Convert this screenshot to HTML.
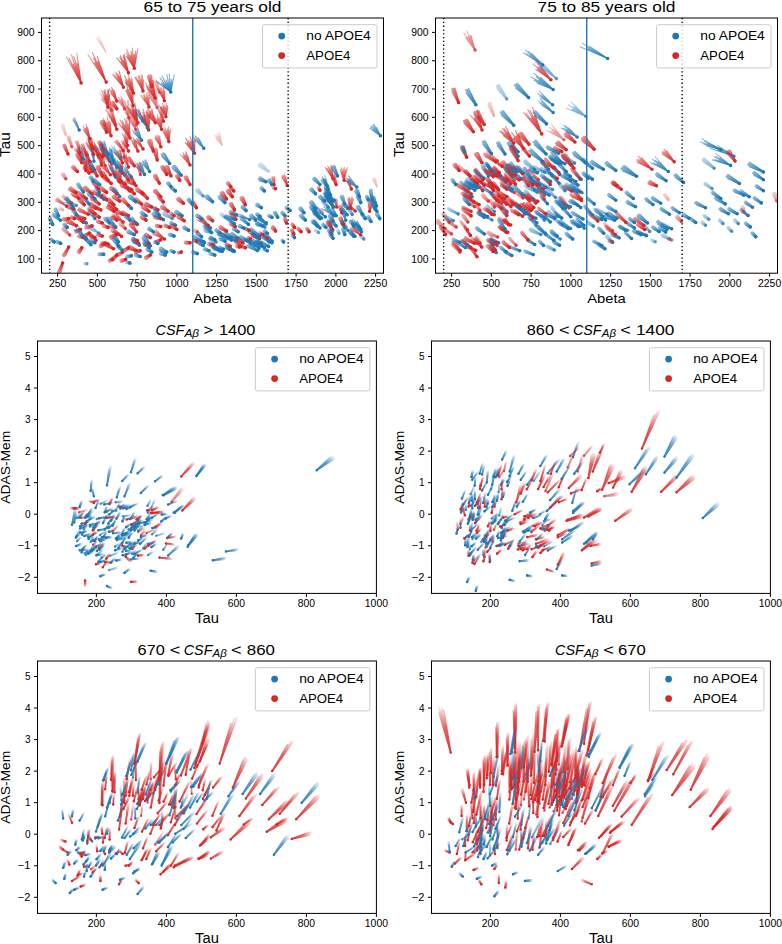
<!DOCTYPE html>
<html><head><meta charset="utf-8"><style>
html,body{margin:0;padding:0;background:#fff;}
svg{display:block;font-family:"Liberation Sans", sans-serif;}
path{fill:none;stroke-linecap:round;}
.c0{stroke:url(#r6);stroke-width:1.1px}.c1{stroke:url(#r5);stroke-width:1.1px}.c2{stroke:url(#r6);stroke-width:1.2px}.c3{stroke:url(#r5);stroke-width:1.2px}.c4{stroke:url(#sr6);stroke-width:2.4px}.c5{stroke:url(#b6);stroke-width:1.2px}.c6{stroke:url(#b5);stroke-width:1.1px}.c7{stroke:url(#sr5);stroke-width:2.4px}.c8{stroke:url(#sb6);stroke-width:2.4px}.c9{stroke:url(#b5);stroke-width:1.2px}.c10{stroke:url(#sr5);stroke-width:2.9px}.c11{stroke:url(#sb5);stroke-width:2.9px}.c12{stroke:url(#sb5);stroke-width:2.4px}.c13{stroke:url(#sr4);stroke-width:2.9px}.c14{stroke:url(#sr3);stroke-width:2.9px}.c15{stroke:url(#sb4);stroke-width:2.9px}.c16{stroke:url(#sr3);stroke-width:2.4px}.c17{stroke:url(#sr2);stroke-width:2.4px}.c18{stroke:url(#sr6);stroke-width:2.9px}.c19{stroke:url(#sb6);stroke-width:2.9px}.c20{stroke:url(#sb4);stroke-width:2.4px}.c21{stroke:url(#b4);stroke-width:1.2px}.c22{stroke:url(#b6);stroke-width:1.1px}.c23{stroke:url(#mb6);stroke-width:1.7px}.c24{stroke:url(#mb7);stroke-width:1.7px}.c25{stroke:url(#mr7);stroke-width:1.7px}.c26{stroke:url(#mr0);stroke-width:1.7px}.c27{stroke:url(#mr4);stroke-width:2.1px}.c28{stroke:url(#mb6);stroke-width:2.1px}.c29{stroke:url(#mr5);stroke-width:2.1px}.c30{stroke:url(#mb7);stroke-width:2.1px}.c31{stroke:url(#mb0);stroke-width:1.7px}.c32{stroke:url(#mr7);stroke-width:2.1px}.c33{stroke:url(#mr1);stroke-width:2.1px}.c34{stroke:url(#mr2);stroke-width:2.1px}.c35{stroke:url(#mr0);stroke-width:2.1px}.c36{stroke:url(#mb0);stroke-width:2.1px}.c37{stroke:url(#mb1);stroke-width:2.1px}.c38{stroke:url(#mr6);stroke-width:1.7px}.c39{stroke:url(#mr6);stroke-width:2.1px}.c40{stroke:url(#mb5);stroke-width:2.1px}.c41{stroke:url(#mr5);stroke-width:1.7px}.c42{stroke:url(#mr4);stroke-width:1.7px}
</style></head><body>
<svg width="782" height="944" viewBox="0 0 782 944">
<defs><linearGradient id="r0" x1="0.00" y1="0.50" x2="1.00" y2="0.50"><stop offset="0" stop-color="#d62728" stop-opacity="1"/><stop offset="1" stop-color="#d62728" stop-opacity="0.4"/></linearGradient><linearGradient id="r1" x1="0.00" y1="0.00" x2="1.00" y2="1.00"><stop offset="0" stop-color="#d62728" stop-opacity="1"/><stop offset="1" stop-color="#d62728" stop-opacity="0.4"/></linearGradient><linearGradient id="r2" x1="0.50" y1="0.00" x2="0.50" y2="1.00"><stop offset="0" stop-color="#d62728" stop-opacity="1"/><stop offset="1" stop-color="#d62728" stop-opacity="0.4"/></linearGradient><linearGradient id="r3" x1="1.00" y1="0.00" x2="0.00" y2="1.00"><stop offset="0" stop-color="#d62728" stop-opacity="1"/><stop offset="1" stop-color="#d62728" stop-opacity="0.4"/></linearGradient><linearGradient id="r4" x1="1.00" y1="0.50" x2="0.00" y2="0.50"><stop offset="0" stop-color="#d62728" stop-opacity="1"/><stop offset="1" stop-color="#d62728" stop-opacity="0.4"/></linearGradient><linearGradient id="r5" x1="1.00" y1="1.00" x2="0.00" y2="0.00"><stop offset="0" stop-color="#d62728" stop-opacity="1"/><stop offset="1" stop-color="#d62728" stop-opacity="0.4"/></linearGradient><linearGradient id="r6" x1="0.50" y1="1.00" x2="0.50" y2="0.00"><stop offset="0" stop-color="#d62728" stop-opacity="1"/><stop offset="1" stop-color="#d62728" stop-opacity="0.4"/></linearGradient><linearGradient id="r7" x1="0.00" y1="1.00" x2="1.00" y2="0.00"><stop offset="0" stop-color="#d62728" stop-opacity="1"/><stop offset="1" stop-color="#d62728" stop-opacity="0.4"/></linearGradient><linearGradient id="b0" x1="0.00" y1="0.50" x2="1.00" y2="0.50"><stop offset="0" stop-color="#1f77b4" stop-opacity="1"/><stop offset="1" stop-color="#1f77b4" stop-opacity="0.4"/></linearGradient><linearGradient id="b1" x1="0.00" y1="0.00" x2="1.00" y2="1.00"><stop offset="0" stop-color="#1f77b4" stop-opacity="1"/><stop offset="1" stop-color="#1f77b4" stop-opacity="0.4"/></linearGradient><linearGradient id="b2" x1="0.50" y1="0.00" x2="0.50" y2="1.00"><stop offset="0" stop-color="#1f77b4" stop-opacity="1"/><stop offset="1" stop-color="#1f77b4" stop-opacity="0.4"/></linearGradient><linearGradient id="b3" x1="1.00" y1="0.00" x2="0.00" y2="1.00"><stop offset="0" stop-color="#1f77b4" stop-opacity="1"/><stop offset="1" stop-color="#1f77b4" stop-opacity="0.4"/></linearGradient><linearGradient id="b4" x1="1.00" y1="0.50" x2="0.00" y2="0.50"><stop offset="0" stop-color="#1f77b4" stop-opacity="1"/><stop offset="1" stop-color="#1f77b4" stop-opacity="0.4"/></linearGradient><linearGradient id="b5" x1="1.00" y1="1.00" x2="0.00" y2="0.00"><stop offset="0" stop-color="#1f77b4" stop-opacity="1"/><stop offset="1" stop-color="#1f77b4" stop-opacity="0.4"/></linearGradient><linearGradient id="b6" x1="0.50" y1="1.00" x2="0.50" y2="0.00"><stop offset="0" stop-color="#1f77b4" stop-opacity="1"/><stop offset="1" stop-color="#1f77b4" stop-opacity="0.4"/></linearGradient><linearGradient id="b7" x1="0.00" y1="1.00" x2="1.00" y2="0.00"><stop offset="0" stop-color="#1f77b4" stop-opacity="1"/><stop offset="1" stop-color="#1f77b4" stop-opacity="0.4"/></linearGradient><linearGradient id="mr0" x1="0.00" y1="0.50" x2="1.00" y2="0.50"><stop offset="0" stop-color="#d62728" stop-opacity="0.92"/><stop offset="0.55" stop-color="#d62728" stop-opacity="0.7"/><stop offset="1" stop-color="#d62728" stop-opacity="0.1"/></linearGradient><linearGradient id="mr1" x1="0.00" y1="0.00" x2="1.00" y2="1.00"><stop offset="0" stop-color="#d62728" stop-opacity="0.92"/><stop offset="0.55" stop-color="#d62728" stop-opacity="0.7"/><stop offset="1" stop-color="#d62728" stop-opacity="0.1"/></linearGradient><linearGradient id="mr2" x1="0.50" y1="0.00" x2="0.50" y2="1.00"><stop offset="0" stop-color="#d62728" stop-opacity="0.92"/><stop offset="0.55" stop-color="#d62728" stop-opacity="0.7"/><stop offset="1" stop-color="#d62728" stop-opacity="0.1"/></linearGradient><linearGradient id="mr3" x1="1.00" y1="0.00" x2="0.00" y2="1.00"><stop offset="0" stop-color="#d62728" stop-opacity="0.92"/><stop offset="0.55" stop-color="#d62728" stop-opacity="0.7"/><stop offset="1" stop-color="#d62728" stop-opacity="0.1"/></linearGradient><linearGradient id="mr4" x1="1.00" y1="0.50" x2="0.00" y2="0.50"><stop offset="0" stop-color="#d62728" stop-opacity="0.92"/><stop offset="0.55" stop-color="#d62728" stop-opacity="0.7"/><stop offset="1" stop-color="#d62728" stop-opacity="0.1"/></linearGradient><linearGradient id="mr5" x1="1.00" y1="1.00" x2="0.00" y2="0.00"><stop offset="0" stop-color="#d62728" stop-opacity="0.92"/><stop offset="0.55" stop-color="#d62728" stop-opacity="0.7"/><stop offset="1" stop-color="#d62728" stop-opacity="0.1"/></linearGradient><linearGradient id="mr6" x1="0.50" y1="1.00" x2="0.50" y2="0.00"><stop offset="0" stop-color="#d62728" stop-opacity="0.92"/><stop offset="0.55" stop-color="#d62728" stop-opacity="0.7"/><stop offset="1" stop-color="#d62728" stop-opacity="0.1"/></linearGradient><linearGradient id="mr7" x1="0.00" y1="1.00" x2="1.00" y2="0.00"><stop offset="0" stop-color="#d62728" stop-opacity="0.92"/><stop offset="0.55" stop-color="#d62728" stop-opacity="0.7"/><stop offset="1" stop-color="#d62728" stop-opacity="0.1"/></linearGradient><linearGradient id="mb0" x1="0.00" y1="0.50" x2="1.00" y2="0.50"><stop offset="0" stop-color="#1f77b4" stop-opacity="0.92"/><stop offset="0.55" stop-color="#1f77b4" stop-opacity="0.7"/><stop offset="1" stop-color="#1f77b4" stop-opacity="0.1"/></linearGradient><linearGradient id="mb1" x1="0.00" y1="0.00" x2="1.00" y2="1.00"><stop offset="0" stop-color="#1f77b4" stop-opacity="0.92"/><stop offset="0.55" stop-color="#1f77b4" stop-opacity="0.7"/><stop offset="1" stop-color="#1f77b4" stop-opacity="0.1"/></linearGradient><linearGradient id="mb2" x1="0.50" y1="0.00" x2="0.50" y2="1.00"><stop offset="0" stop-color="#1f77b4" stop-opacity="0.92"/><stop offset="0.55" stop-color="#1f77b4" stop-opacity="0.7"/><stop offset="1" stop-color="#1f77b4" stop-opacity="0.1"/></linearGradient><linearGradient id="mb3" x1="1.00" y1="0.00" x2="0.00" y2="1.00"><stop offset="0" stop-color="#1f77b4" stop-opacity="0.92"/><stop offset="0.55" stop-color="#1f77b4" stop-opacity="0.7"/><stop offset="1" stop-color="#1f77b4" stop-opacity="0.1"/></linearGradient><linearGradient id="mb4" x1="1.00" y1="0.50" x2="0.00" y2="0.50"><stop offset="0" stop-color="#1f77b4" stop-opacity="0.92"/><stop offset="0.55" stop-color="#1f77b4" stop-opacity="0.7"/><stop offset="1" stop-color="#1f77b4" stop-opacity="0.1"/></linearGradient><linearGradient id="mb5" x1="1.00" y1="1.00" x2="0.00" y2="0.00"><stop offset="0" stop-color="#1f77b4" stop-opacity="0.92"/><stop offset="0.55" stop-color="#1f77b4" stop-opacity="0.7"/><stop offset="1" stop-color="#1f77b4" stop-opacity="0.1"/></linearGradient><linearGradient id="mb6" x1="0.50" y1="1.00" x2="0.50" y2="0.00"><stop offset="0" stop-color="#1f77b4" stop-opacity="0.92"/><stop offset="0.55" stop-color="#1f77b4" stop-opacity="0.7"/><stop offset="1" stop-color="#1f77b4" stop-opacity="0.1"/></linearGradient><linearGradient id="mb7" x1="0.00" y1="1.00" x2="1.00" y2="0.00"><stop offset="0" stop-color="#1f77b4" stop-opacity="0.92"/><stop offset="0.55" stop-color="#1f77b4" stop-opacity="0.7"/><stop offset="1" stop-color="#1f77b4" stop-opacity="0.1"/></linearGradient><linearGradient id="sr0" x1="0.00" y1="0.50" x2="1.00" y2="0.50"><stop offset="0" stop-color="#d62728" stop-opacity="1"/><stop offset="1" stop-color="#d62728" stop-opacity="0.5"/></linearGradient><linearGradient id="sr1" x1="0.00" y1="0.00" x2="1.00" y2="1.00"><stop offset="0" stop-color="#d62728" stop-opacity="1"/><stop offset="1" stop-color="#d62728" stop-opacity="0.5"/></linearGradient><linearGradient id="sr2" x1="0.50" y1="0.00" x2="0.50" y2="1.00"><stop offset="0" stop-color="#d62728" stop-opacity="1"/><stop offset="1" stop-color="#d62728" stop-opacity="0.5"/></linearGradient><linearGradient id="sr3" x1="1.00" y1="0.00" x2="0.00" y2="1.00"><stop offset="0" stop-color="#d62728" stop-opacity="1"/><stop offset="1" stop-color="#d62728" stop-opacity="0.5"/></linearGradient><linearGradient id="sr4" x1="1.00" y1="0.50" x2="0.00" y2="0.50"><stop offset="0" stop-color="#d62728" stop-opacity="1"/><stop offset="1" stop-color="#d62728" stop-opacity="0.5"/></linearGradient><linearGradient id="sr5" x1="1.00" y1="1.00" x2="0.00" y2="0.00"><stop offset="0" stop-color="#d62728" stop-opacity="1"/><stop offset="1" stop-color="#d62728" stop-opacity="0.5"/></linearGradient><linearGradient id="sr6" x1="0.50" y1="1.00" x2="0.50" y2="0.00"><stop offset="0" stop-color="#d62728" stop-opacity="1"/><stop offset="1" stop-color="#d62728" stop-opacity="0.5"/></linearGradient><linearGradient id="sr7" x1="0.00" y1="1.00" x2="1.00" y2="0.00"><stop offset="0" stop-color="#d62728" stop-opacity="1"/><stop offset="1" stop-color="#d62728" stop-opacity="0.5"/></linearGradient><linearGradient id="sb0" x1="0.00" y1="0.50" x2="1.00" y2="0.50"><stop offset="0" stop-color="#1f77b4" stop-opacity="1"/><stop offset="1" stop-color="#1f77b4" stop-opacity="0.5"/></linearGradient><linearGradient id="sb1" x1="0.00" y1="0.00" x2="1.00" y2="1.00"><stop offset="0" stop-color="#1f77b4" stop-opacity="1"/><stop offset="1" stop-color="#1f77b4" stop-opacity="0.5"/></linearGradient><linearGradient id="sb2" x1="0.50" y1="0.00" x2="0.50" y2="1.00"><stop offset="0" stop-color="#1f77b4" stop-opacity="1"/><stop offset="1" stop-color="#1f77b4" stop-opacity="0.5"/></linearGradient><linearGradient id="sb3" x1="1.00" y1="0.00" x2="0.00" y2="1.00"><stop offset="0" stop-color="#1f77b4" stop-opacity="1"/><stop offset="1" stop-color="#1f77b4" stop-opacity="0.5"/></linearGradient><linearGradient id="sb4" x1="1.00" y1="0.50" x2="0.00" y2="0.50"><stop offset="0" stop-color="#1f77b4" stop-opacity="1"/><stop offset="1" stop-color="#1f77b4" stop-opacity="0.5"/></linearGradient><linearGradient id="sb5" x1="1.00" y1="1.00" x2="0.00" y2="0.00"><stop offset="0" stop-color="#1f77b4" stop-opacity="1"/><stop offset="1" stop-color="#1f77b4" stop-opacity="0.5"/></linearGradient><linearGradient id="sb6" x1="0.50" y1="1.00" x2="0.50" y2="0.00"><stop offset="0" stop-color="#1f77b4" stop-opacity="1"/><stop offset="1" stop-color="#1f77b4" stop-opacity="0.5"/></linearGradient><linearGradient id="sb7" x1="0.00" y1="1.00" x2="1.00" y2="0.00"><stop offset="0" stop-color="#1f77b4" stop-opacity="1"/><stop offset="1" stop-color="#1f77b4" stop-opacity="0.5"/></linearGradient></defs>
<rect width="782" height="944" fill="#fff"/>
<svg x="41.5" y="18.0" width="342.0" height="255.2" viewBox="41.5 18.0 342.0 255.2" overflow="hidden">
<path class="c0" d="M81.1 82.9l-14.7-25.9M81.1 82.9l-12.0-24.7M81.1 82.9l-7.8-18.8M81.1 82.9l-9.7-28.3M81.1 82.9l-7.2-26.4M81.1 82.9l-4.1-20.0M81.1 82.9l-4.2-29.7"/>
<path class="c1" d="M106.2 82.1l-18.2-27.3M106.2 82.1l-11.5-19.3M106.2 82.1l-12.6-23.8M106.2 82.1l-13.9-29.7M106.2 82.1l-8.4-20.7M106.2 82.1l-8.9-25.5"/>
<path class="c1" d="M105.9 52.3l-10.1-15.0M105.9 52.3l-6.5-10.6M105.9 52.3l-6.9-12.7M105.9 52.3l-7.9-16.2M105.9 52.3l-4.9-11.4" opacity="0.35"/>
<path class="c2" d="M134.3 68.3l-7.5-11.7M134.3 68.3l-7.8-15.1M134.3 68.3l-7.6-18.9M134.3 68.3l-4.0-13.3M134.3 68.3l-3.3-16.7M134.3 68.3l-2.1-20.2M134.3 68.3l-0.1-13.8M134.3 68.3l1.4-17.1M134.3 68.3l3.6-20.0"/>
<path class="c3" d="M128.5 72.7l-11.7-14.9M128.5 72.7l-7.3-10.8M128.5 72.7l-8.8-15.4M128.5 72.7l-8.2-17.1M128.5 72.7l-4.8-12.1M128.5 72.7l-5.3-17.0M128.5 72.7l-4.3-18.4"/>
<path class="c3" d="M123.4 87.2l-10.7-12.7M123.4 87.2l-8.6-11.9M123.4 87.2l-5.9-9.6M123.4 87.2l-7.7-14.7M123.4 87.2l-5.8-13.4M123.4 87.2l-3.7-10.7M123.4 87.2l-4.3-16.1"/>
<path class="c2" d="M133.6 93.1l-8.0-10.9M133.6 93.1l-8.1-12.9M133.6 93.1l-9.1-17.2M133.6 93.1l-5.5-12.4M133.6 93.1l-5.2-14.4M133.6 93.1l-5.3-18.7M133.6 93.1l-2.7-13.2M133.6 93.1l-2.0-15.2"/>
<path class="c2" d="M143.0 90.9l-8.0-13.5M143.0 90.9l-7.1-14.1M143.0 90.9l-4.3-10.2M143.0 90.9l-5.0-14.9M143.0 90.9l-4.0-15.3M143.0 90.9l-2.0-10.9M143.0 90.9l-1.8-15.7M143.0 90.9l-0.7-15.7M143.0 90.9l0.3-11.1"/>
<path class="c4" d="M151.8 86.5l-3.6-9.4M151.8 86.5l-3.2-10.9M151.8 86.5l-2.2-10.1M151.8 86.5l-1.5-11.1M151.8 86.5l-0.6-10.5"/>
<path class="c5" d="M170.7 92.1l-14.7-11.1M170.7 92.1l-9.0-9.1M170.7 92.1l-10.7-14.3M170.7 92.1l-8.8-16.1M170.7 92.1l-4.5-11.9M170.7 92.1l-3.9-17.5M170.7 92.1l-1.4-18.3M170.7 92.1l0.8-12.7M170.7 92.1l3.6-17.6"/>
<path class="c0" d="M159.4 92.3l-4.6-8.2M159.4 92.3l-5.9-12.3M159.4 92.3l-4.1-10.1M159.4 92.3l-3.0-9.0M159.4 92.3l-3.5-13.2M159.4 92.3l-2.1-10.7M159.4 92.3l-1.3-9.4" opacity="0.60"/>
<path class="c6" d="M79.2 130.0l-6.3-9.9M79.2 130.0l-6.4-11.4M79.2 130.0l-4.0-7.9M79.2 130.0l-4.7-10.8M79.2 130.0l-4.7-12.2M79.2 130.0l-2.7-8.4"/>
<path class="c3" d="M89.8 138.7l-6.7-9.2M89.8 138.7l-5.4-8.6M89.8 138.7l-6.8-12.9M89.8 138.7l-4.5-10.4M89.8 138.7l-3.4-9.6M89.8 138.7l-3.8-14.0M89.8 138.7l-2.2-11.1"/>
<path class="c4" d="M65.8 135.1l-3.4-8.2M65.8 135.1l-3.6-9.9M65.8 135.1l-2.5-8.1M65.8 135.1l-2.5-10.0" opacity="0.35"/>
<path class="c4" d="M71.9 146.7l-3.9-8.1M71.9 146.7l-4.0-9.9M71.9 146.7l-2.7-8.2M71.9 146.7l-2.6-10.1" opacity="0.60"/>
<path class="c7" d="M68.0 154.0l-4.3-7.4M68.0 154.0l-4.5-9.0M68.0 154.0l-3.1-7.5M68.0 154.0l-3.2-9.3"/>
<path class="c8" d="M83.3 159.1l-5.4-9.2M83.3 159.1l-5.3-10.8M83.3 159.1l-4.0-10.1M83.3 159.1l-3.5-11.2M83.3 159.1l-2.5-10.8"/>
<path class="c3" d="M89.8 161.3l-7.3-8.1M89.8 161.3l-6.0-7.6M89.8 161.3l-7.8-11.5M89.8 161.3l-5.4-9.4M89.8 161.3l-4.2-8.8M89.8 161.3l-5.2-12.9M89.8 161.3l-3.3-10.3M89.8 161.3l-2.3-9.5"/>
<path class="c7" d="M81.8 162.8l-5.3-7.0M81.8 162.8l-5.4-8.4M81.8 162.8l-4.3-7.9M81.8 162.8l-4.0-8.9M81.8 162.8l-3.2-8.7"/>
<path class="c1" d="M98.6 157.7l-7.5-8.5M98.6 157.7l-9.0-11.5M98.6 157.7l-5.8-8.4M98.6 157.7l-5.8-9.7M98.6 157.7l-6.7-12.9M98.6 157.7l-4.1-9.3M98.6 157.7l-3.9-10.7" opacity="0.60"/>
<path class="c2" d="M111.0 135.8l-7.8-12.4M111.0 135.8l-6.3-11.8M111.0 135.8l-7.7-17.4M111.0 135.8l-4.9-13.7M111.0 135.8l-3.6-12.9M111.0 135.8l-3.8-18.7M111.0 135.8l-1.9-14.4M111.0 135.8l-0.8-13.4"/>
<path class="c0" d="M116.8 129.2l-5.7-9.2M116.8 129.2l-7.5-14.1M116.8 129.2l-5.6-12.3M116.8 129.2l-3.9-10.1M116.8 129.2l-4.7-15.2M116.8 129.2l-3.2-13.1M116.8 129.2l-1.9-10.7"/>
<path class="c2" d="M129.9 138.0l-11.5-15.0M129.9 138.0l-7.6-11.7M129.9 138.0l-9.8-18.0M129.9 138.0l-7.7-17.2M129.9 138.0l-4.7-13.2M129.9 138.0l-5.4-19.8M129.9 138.0l-3.5-18.4M129.9 138.0l-1.5-13.9M129.9 138.0l-0.6-20.6"/>
<path class="c1" d="M128.5 151.1l-7.4-9.7M128.5 151.1l-4.7-7.0M128.5 151.1l-5.8-9.9M128.5 151.1l-5.5-10.9M128.5 151.1l-3.3-7.7M128.5 151.1l-3.8-10.8M128.5 151.1l-3.3-11.7"/>
<path class="c1" d="M137.9 151.1l-5.5-8.0M137.9 151.1l-7.3-12.3M137.9 151.1l-5.5-10.6M137.9 151.1l-3.9-9.0M137.9 151.1l-4.9-13.5M137.9 151.1l-3.4-11.4M137.9 151.1l-2.2-9.5"/>
<path class="c1" d="M143.0 148.9l-8.3-8.5M143.0 148.9l-7.8-9.1M143.0 148.9l-5.1-6.7M143.0 148.9l-6.6-9.9M143.0 148.9l-6.0-10.3M143.0 148.9l-3.8-7.5M143.0 148.9l-4.7-11.0"/>
<path class="c9" d="M141.6 140.2l-8.3-7.9M141.6 140.2l-9.0-9.9M141.6 140.2l-5.6-7.1M141.6 140.2l-6.4-9.5M141.6 140.2l-6.6-11.5M141.6 140.2l-3.9-8.1M141.6 140.2l-4.3-10.7M141.6 140.2l-4.0-12.7"/>
<path class="c9" d="M147.4 127.8l-8.2-10.1M147.4 127.8l-5.2-7.4M147.4 127.8l-5.1-8.7M147.4 127.8l-5.8-11.6M147.4 127.8l-3.4-8.3M147.4 127.8l-3.2-9.6M147.4 127.8l-3.1-12.6"/>
<path class="c3" d="M137.9 122.7l-8.2-10.4M137.9 122.7l-10.9-16.1M137.9 122.7l-8.1-14.1M137.9 122.7l-5.8-12.0M137.9 122.7l-7.2-18.1M137.9 122.7l-4.9-15.4M137.9 122.7l-3.1-13.0M137.9 122.7l-3.2-19.3"/>
<path class="c6" d="M143.0 121.2l-8.6-9.8M143.0 121.2l-8.0-10.4M143.0 121.2l-5.2-7.6M143.0 121.2l-6.6-11.3M143.0 121.2l-5.9-11.7M143.0 121.2l-3.6-8.5M143.0 121.2l-4.4-12.3"/>
<path class="c10" d="M116.8 108.8l-5.0-4.9M116.8 108.8l-5.2-6.0M116.8 108.8l-4.3-5.8M116.8 108.8l-4.2-6.6M116.8 108.8l-3.5-6.5"/>
<path class="c7" d="M106.6 132.2l-5.7-9.1M106.6 132.2l-5.6-10.8M106.6 132.2l-4.3-10.1M106.6 132.2l-3.9-11.3M106.6 132.2l-2.8-10.8"/>
<path class="c9" d="M116.8 167.1l-9.2-8.6M116.8 167.1l-12.5-13.6M116.8 167.1l-9.8-12.3M116.8 167.1l-7.1-10.4M116.8 167.1l-9.4-16.0M116.8 167.1l-6.9-14.0M116.8 167.1l-4.8-11.7M116.8 167.1l-5.8-17.6"/>
<path class="c6" d="M120.5 171.5l-7.3-9.6M120.5 171.5l-7.9-11.9M120.5 171.5l-4.9-8.4M120.5 171.5l-5.4-10.8M120.5 171.5l-5.6-13.1M120.5 171.5l-3.2-9.1M120.5 171.5l-3.3-11.7"/>
<path class="c6" d="M109.5 161.3l-6.7-8.7M109.5 161.3l-4.7-7.1M109.5 161.3l-6.3-10.9M109.5 161.3l-4.9-9.8M109.5 161.3l-3.3-7.9M109.5 161.3l-4.2-11.9M109.5 161.3l-3.0-10.5"/>
<path class="c7" d="M103.7 149.6l-5.2-6.3M103.7 149.6l-5.4-7.6M103.7 149.6l-4.3-7.2M103.7 149.6l-4.1-8.1M103.7 149.6l-3.3-7.9"/>
<path class="c3" d="M122.6 162.8l-8.3-10.5M122.6 162.8l-7.2-10.5M122.6 162.8l-4.6-8.0M122.6 162.8l-5.9-12.0M122.6 162.8l-4.7-11.8M122.6 162.8l-2.8-8.8M122.6 162.8l-3.2-13.0M122.6 162.8l-2.1-12.5"/>
<path class="c0" d="M128.5 167.1l-7.0-11.5M128.5 167.1l-4.3-8.2M128.5 167.1l-5.1-11.5M128.5 167.1l-4.7-12.6M128.5 167.1l-2.7-8.8M128.5 167.1l-2.9-12.3M128.5 167.1l-2.3-13.2"/>
<path class="c9" d="M144.5 174.4l-10.2-8.5M144.5 174.4l-8.2-8.1M144.5 174.4l-5.9-6.8M144.5 174.4l-7.9-10.7M144.5 174.4l-6.1-9.7M144.5 174.4l-4.2-8.0M144.5 174.4l-5.2-12.3M144.5 174.4l-3.6-10.8M144.5 174.4l-2.2-8.8"/>
<path class="c9" d="M149.6 171.5l-8.8-9.1M149.6 171.5l-5.6-6.6M149.6 171.5l-7.0-9.7M149.6 171.5l-6.6-10.7M149.6 171.5l-4.0-7.7M149.6 171.5l-4.8-11.0M149.6 171.5l-4.2-11.8M149.6 171.5l-2.3-8.4"/>
<path class="c7" d="M134.3 165.7l-6.6-6.1M134.3 165.7l-7.0-7.5M134.3 165.7l-5.8-7.2M134.3 165.7l-5.6-8.3M134.3 165.7l-4.7-8.2"/>
<path class="c10" d="M89.1 173.0l-5.0-4.9M89.1 173.0l-5.2-6.0M89.1 173.0l-4.3-5.8M89.1 173.0l-4.2-6.6M89.1 173.0l-3.5-6.5"/>
<path class="c7" d="M97.1 175.9l-6.1-7.6M97.1 175.9l-6.3-9.1M97.1 175.9l-5.0-8.6M97.1 175.9l-4.8-9.8M97.1 175.9l-3.8-9.5"/>
<path class="c7" d="M102.2 175.9l-5.4-7.7M102.2 175.9l-5.5-9.2M102.2 175.9l-4.3-8.6M102.2 175.9l-4.0-9.7M102.2 175.9l-3.0-9.4"/>
<path class="c10" d="M65.8 178.8l-3.4-3.8M65.8 178.8l-3.5-4.5M65.8 178.8l-2.9-4.3M65.8 178.8l-2.8-4.9M65.8 178.8l-2.2-4.8" opacity="0.60"/>
<path class="c10" d="M77.4 171.5l-4.8-3.6M77.4 171.5l-5.1-4.4M77.4 171.5l-4.3-4.3M77.4 171.5l-4.3-5.0M77.4 171.5l-3.7-5.0"/>
<path class="c7" d="M108.1 180.3l-6.6-6.1M108.1 180.3l-7.0-7.5M108.1 180.3l-5.8-7.2M108.1 180.3l-5.6-8.3M108.1 180.3l-4.7-8.2"/>
<path class="c7" d="M119.7 181.7l-6.8-7.5M119.7 181.7l-7.1-9.1M119.7 181.7l-5.8-8.6M119.7 181.7l-5.5-9.8M119.7 181.7l-4.5-9.6"/>
<path class="c7" d="M128.5 180.3l-5.2-6.3M128.5 180.3l-5.4-7.6M128.5 180.3l-4.3-7.2M128.5 180.3l-4.1-8.1M128.5 180.3l-3.3-7.9"/>
<path class="c7" d="M134.3 183.2l-5.2-6.3M134.3 183.2l-5.4-7.6M134.3 183.2l-4.3-7.2M134.3 183.2l-4.1-8.1M134.3 183.2l-3.3-7.9"/>
<path class="c4" d="M153.3 151.1l-5.0-9.2M153.3 151.1l-4.8-10.8M153.3 151.1l-3.6-10.1M153.3 151.1l-3.1-11.2M153.3 151.1l-2.1-10.7"/>
<path class="c11" d="M93.5 181.7l-3.4-3.8M93.5 181.7l-3.5-4.5M93.5 181.7l-2.9-4.3M93.5 181.7l-2.8-4.9M93.5 181.7l-2.2-4.8"/>
<path class="c2" d="M165.9 116.8l-7.0-11.8M165.9 116.8l-4.8-10.3M165.9 116.8l-3.2-8.8M165.9 116.8l-3.4-13.3M165.9 116.8l-1.8-11.2M165.9 116.8l-0.6-9.4M165.9 116.8l0.4-13.8M165.9 116.8l1.4-11.2M165.9 116.8l2.0-9.2"/>
<path class="c2" d="M161.6 129.2l-6.7-9.8M161.6 129.2l-7.6-13.1M161.6 129.2l-4.5-9.4M161.6 129.2l-4.3-11.1M161.6 129.2l-4.3-14.4M161.6 129.2l-2.2-10.2M161.6 129.2l-1.6-11.8M161.6 129.2l-0.9-15.0M161.6 129.2l0.2-10.4"/>
<path class="c2" d="M168.8 141.6l-7.4-13.5M168.8 141.6l-4.3-9.6M168.8 141.6l-4.2-11.7M168.8 141.6l-4.0-14.8M168.8 141.6l-2.0-10.3M168.8 141.6l-1.4-12.4M168.8 141.6l-0.5-15.3M168.8 141.6l0.5-10.5M168.8 141.6l1.6-12.4"/>
<path class="c2" d="M160.8 146.7l-5.9-8.7M160.8 146.7l-5.4-9.6M160.8 146.7l-5.1-11.1M160.8 146.7l-3.4-9.4M160.8 146.7l-3.1-11.6M160.8 146.7l-2.0-11.2M160.8 146.7l-1.0-10.2"/>
<path class="c4" d="M157.2 159.9l-3.6-9.4M157.2 159.9l-3.2-10.9M157.2 159.9l-2.2-10.1M157.2 159.9l-1.5-11.1M157.2 159.9l-0.6-10.5"/>
<path class="c12" d="M169.6 163.5l-7.5-7.4M169.6 163.5l-7.9-9.0M169.6 163.5l-6.5-8.6M169.6 163.5l-6.3-9.9M169.6 163.5l-5.2-9.7"/>
<path class="c7" d="M166.7 174.4l-5.2-6.3M166.7 174.4l-5.4-7.6M166.7 174.4l-4.3-7.2M166.7 174.4l-4.1-8.1M166.7 174.4l-3.3-7.9"/>
<path class="c7" d="M171.0 175.9l-5.4-7.7M171.0 175.9l-5.5-9.2M171.0 175.9l-4.3-8.6M171.0 175.9l-4.0-9.7M171.0 175.9l-3.0-9.4"/>
<path class="c12" d="M181.2 175.2l-8.1-6.6M181.2 175.2l-8.6-8.1M181.2 175.2l-7.2-7.9M181.2 175.2l-7.1-9.2M181.2 175.2l-6.1-9.1"/>
<path class="c7" d="M159.4 183.2l-5.2-6.3M159.4 183.2l-5.4-7.6M159.4 183.2l-4.3-7.2M159.4 183.2l-4.1-8.1M159.4 183.2l-3.3-7.9"/>
<path class="c10" d="M179.8 180.3l-3.4-3.8M179.8 180.3l-3.5-4.5M179.8 180.3l-2.9-4.3M179.8 180.3l-2.8-4.9M179.8 180.3l-2.2-4.8"/>
<path class="c7" d="M190.0 184.6l-5.2-6.3M190.0 184.6l-5.4-7.6M190.0 184.6l-4.3-7.2M190.0 184.6l-4.1-8.1M190.0 184.6l-3.3-7.9"/>
<path class="c11" d="M171.0 186.8l-3.3-3.1M171.0 186.8l-3.5-3.7M171.0 186.8l-2.9-3.6M171.0 186.8l-2.8-4.1M171.0 186.8l-2.4-4.1"/>
<path class="c2" d="M194.4 153.3l-9.1-10.6M194.4 153.3l-7.0-9.9M194.4 153.3l-8.8-15.2M194.4 153.3l-5.8-12.6M194.4 153.3l-4.0-11.5M194.4 153.3l-4.2-17.1M194.4 153.3l-2.0-13.7M194.4 153.3l-0.7-12.2M194.4 153.3l0.7-17.6"/>
<path class="c6" d="M203.8 148.2l-9.0-7.9M203.8 148.2l-10.4-10.3M203.8 148.2l-6.7-7.5M203.8 148.2l-7.4-9.4M203.8 148.2l-8.3-12.1M203.8 148.2l-5.2-8.6M203.8 148.2l-5.5-10.7"/>
<path class="c3" d="M190.0 165.0l-9.4-10.3M190.0 165.0l-5.9-7.5M190.0 165.0l-6.5-9.5M190.0 165.0l-7.0-12.1M190.0 165.0l-4.2-8.6M190.0 165.0l-4.3-10.7M190.0 165.0l-4.3-13.3M190.0 165.0l-2.3-9.2"/>
<path class="c3" d="M222.1 145.3l-5.8-6.7M222.1 145.3l-7.7-10.3M222.1 145.3l-5.6-8.7M222.1 145.3l-4.2-7.8M222.1 145.3l-5.3-11.7M222.1 145.3l-3.6-9.7M222.1 145.3l-2.5-8.5M222.1 145.3l-2.7-12.6" opacity="0.40"/>
<path class="c12" d="M268.7 171.5l-9.3-5.0M268.7 171.5l-10.1-6.4M268.7 171.5l-8.6-6.5M268.7 171.5l-8.8-7.7M268.7 171.5l-7.7-7.9" opacity="0.40"/>
<path class="c11" d="M265.8 181.7l-6.0-1.9M265.8 181.7l-6.6-2.7M265.8 181.7l-5.8-2.9M265.8 181.7l-6.0-3.6M265.8 181.7l-5.4-3.8"/>
<path class="c10" d="M230.8 186.8l-3.3-3.1M230.8 186.8l-3.5-3.7M230.8 186.8l-2.9-3.6M230.8 186.8l-2.8-4.1M230.8 186.8l-2.4-4.1"/>
<path class="c9" d="M380.5 135.8l-10.8-7.5M380.5 135.8l-7.2-5.8M380.5 135.8l-9.7-9.0M380.5 135.8l-8.9-9.6M380.5 135.8l-5.8-7.2M380.5 135.8l-7.6-10.9M380.5 135.8l-6.7-11.2M380.5 135.8l-4.1-8.3"/>
<path class="c2" d="M274.1 184.6l-2.4-6.7M274.1 184.6l-2.0-7.2M274.1 184.6l-1.5-8.1M274.1 184.6l-0.7-6.7M274.1 184.6l-0.1-8.1M274.1 184.6l0.5-7.7M274.1 184.6l1.0-6.8"/>
<path class="c2" d="M287.2 185.4l-5.3-8.3M287.2 185.4l-5.0-9.4M287.2 185.4l-4.3-10.1M287.2 185.4l-3.1-9.1M287.2 185.4l-2.9-11.3M287.2 185.4l-1.6-9.3"/>
<path class="c2" d="M344.1 180.3l-3.2-8.2M344.1 180.3l-3.3-10.7M344.1 180.3l-2.8-12.7M344.1 180.3l-1.2-8.7M344.1 180.3l-0.7-11.2M344.1 180.3l0.2-13.0M344.1 180.3l0.8-8.8M344.1 180.3l1.9-11.1M344.1 180.3l3.2-12.6"/>
<path class="c2" d="M333.1 178.8l-7.9-11.4M333.1 178.8l-6.1-10.2M333.1 178.8l-4.2-8.4M333.1 178.8l-5.3-12.8M333.1 178.8l-3.8-11.2M333.1 178.8l-2.4-9.2M333.1 178.8l-2.5-13.7M333.1 178.8l-1.3-11.7"/>
<path class="c12" d="M337.5 175.9l-5.4-7.7M337.5 175.9l-5.5-9.2M337.5 175.9l-4.3-8.6M337.5 175.9l-4.0-9.7M337.5 175.9l-3.0-9.4"/>
<path class="c4" d="M336.1 184.6l-4.1-7.9M336.1 184.6l-3.9-9.3M336.1 184.6l-2.9-8.6M336.1 184.6l-2.4-9.6M336.1 184.6l-1.6-9.2"/>
<path class="c12" d="M320.0 184.6l-6.4-4.7M320.0 184.6l-6.8-5.9M320.0 184.6l-5.8-5.8M320.0 184.6l-5.8-6.7M320.0 184.6l-4.9-6.7"/>
<path class="c11" d="M327.3 186.1l-5.0-4.9M327.3 186.1l-5.2-6.0M327.3 186.1l-4.3-5.8M327.3 186.1l-4.2-6.6M327.3 186.1l-3.5-6.5"/>
<path class="c2" d="M376.9 186.8l-4.3-7.0M376.9 186.8l-4.0-8.0M376.9 186.8l-3.5-8.5M376.9 186.8l-2.5-7.7M376.9 186.8l-2.2-9.5M376.9 186.8l-1.2-7.8" opacity="0.40"/>
<path class="c11" d="M271.9 184.6l-3.4-3.8M271.9 184.6l-3.5-4.5M271.9 184.6l-2.9-4.3M271.9 184.6l-2.8-4.9M271.9 184.6l-2.2-4.8"/>
<path class="c10" d="M76.0 192.4l-6.1-2.6M76.0 192.4l-6.7-3.5M76.0 192.4l-5.8-3.6M76.0 192.4l-5.9-4.4M76.0 192.4l-5.3-4.5"/>
<path class="c7" d="M92.0 193.8l-7.8-4.5M92.0 193.8l-8.4-5.8M92.0 193.8l-7.2-5.8M92.0 193.8l-7.3-6.8M92.0 193.8l-6.4-6.9"/>
<path class="c11" d="M99.3 192.4l-3.4-3.8M99.3 192.4l-3.5-4.5M99.3 192.4l-2.9-4.3M99.3 192.4l-2.8-4.9M99.3 192.4l-2.2-4.8"/>
<path class="c10" d="M106.6 192.4l-6.2-3.3M106.6 192.4l-6.7-4.3M106.6 192.4l-5.8-4.3M106.6 192.4l-5.9-5.1M106.6 192.4l-5.2-5.2"/>
<path class="c7" d="M116.8 193.8l-6.4-4.7M116.8 193.8l-6.8-5.9M116.8 193.8l-5.8-5.8M116.8 193.8l-5.8-6.7M116.8 193.8l-4.9-6.7"/>
<path class="c12" d="M119.7 196.7l-6.6-6.1M119.7 196.7l-7.0-7.5M119.7 196.7l-5.8-7.2M119.7 196.7l-5.6-8.3M119.7 196.7l-4.7-8.2"/>
<path class="c10" d="M129.9 190.9l-3.2-2.4M129.9 190.9l-3.4-2.9M129.9 190.9l-2.9-2.9M129.9 190.9l-2.9-3.4M129.9 190.9l-2.5-3.3"/>
<path class="c10" d="M134.3 193.8l-4.8-3.6M134.3 193.8l-5.1-4.4M134.3 193.8l-4.3-4.3M134.3 193.8l-4.3-5.0M134.3 193.8l-3.7-5.0"/>
<path class="c10" d="M143.0 193.8l-6.2-3.3M143.0 193.8l-6.7-4.3M143.0 193.8l-5.8-4.3M143.0 193.8l-5.9-5.1M143.0 193.8l-5.2-5.2"/>
<path class="c7" d="M147.4 198.2l-6.4-4.7M147.4 198.2l-6.8-5.9M147.4 198.2l-5.8-5.8M147.4 198.2l-5.8-6.7M147.4 198.2l-4.9-6.7"/>
<path class="c10" d="M78.9 198.2l-6.2-3.3M78.9 198.2l-6.7-4.3M78.9 198.2l-5.8-4.3M78.9 198.2l-5.9-5.1M78.9 198.2l-5.2-5.2"/>
<path class="c12" d="M89.1 204.0l-6.6-6.1M89.1 204.0l-7.0-7.5M89.1 204.0l-5.8-7.2M89.1 204.0l-5.6-8.3M89.1 204.0l-4.7-8.2"/>
<path class="c11" d="M94.9 198.9l-6.3-4.0M94.9 198.9l-6.8-5.1M94.9 198.9l-5.8-5.0M94.9 198.9l-5.8-5.9M94.9 198.9l-5.0-6.0"/>
<path class="c7" d="M99.3 204.0l-7.8-4.5M99.3 204.0l-8.4-5.8M99.3 204.0l-7.2-5.8M99.3 204.0l-7.3-6.8M99.3 204.0l-6.4-6.9"/>
<path class="c10" d="M106.6 199.7l-4.8-3.6M106.6 199.7l-5.1-4.4M106.6 199.7l-4.3-4.3M106.6 199.7l-4.3-5.0M106.6 199.7l-3.7-5.0"/>
<path class="c10" d="M113.9 204.8l-6.3-4.0M113.9 204.8l-6.8-5.1M113.9 204.8l-5.8-5.0M113.9 204.8l-5.8-5.9M113.9 204.8l-5.0-6.0"/>
<path class="c10" d="M119.7 201.1l-6.2-3.3M119.7 201.1l-6.7-4.3M119.7 201.1l-5.8-4.3M119.7 201.1l-5.9-5.1M119.7 201.1l-5.2-5.2"/>
<path class="c7" d="M128.5 205.5l-6.4-4.7M128.5 205.5l-6.8-5.9M128.5 205.5l-5.8-5.8M128.5 205.5l-5.8-6.7M128.5 205.5l-4.9-6.7"/>
<path class="c11" d="M135.8 201.8l-6.3-4.0M135.8 201.8l-6.8-5.1M135.8 201.8l-5.8-5.0M135.8 201.8l-5.8-5.9M135.8 201.8l-5.0-6.0"/>
<path class="c10" d="M141.6 204.0l-6.2-3.3M141.6 204.0l-6.7-4.3M141.6 204.0l-5.8-4.3M141.6 204.0l-5.9-5.1M141.6 204.0l-5.2-5.2"/>
<path class="c10" d="M151.8 207.0l-6.0-1.9M151.8 207.0l-6.6-2.7M151.8 207.0l-5.8-2.9M151.8 207.0l-6.0-3.6M151.8 207.0l-5.4-3.8"/>
<path class="c11" d="M58.5 215.7l-3.4-5.3M58.5 215.7l-3.6-6.5M58.5 215.7l-2.5-5.5M58.5 215.7l-2.6-6.8"/>
<path class="c10" d="M62.9 209.9l-3.0-1.0M62.9 209.9l-3.3-1.4M62.9 209.9l-2.9-1.4M62.9 209.9l-3.0-1.8M62.9 209.9l-2.7-1.9" opacity="0.40"/>
<path class="c10" d="M73.8 209.1l-5.2-1.4M73.8 209.1l-5.7-2.0M73.8 209.1l-5.0-2.2M73.8 209.1l-5.3-2.7M73.8 209.1l-4.8-3.0"/>
<path class="c11" d="M76.7 215.0l-4.2-4.4M76.7 215.0l-4.4-5.3M76.7 215.0l-3.6-5.0M76.7 215.0l-3.5-5.7M76.7 215.0l-2.9-5.6"/>
<path class="c10" d="M96.4 208.4l-6.2-3.3M96.4 208.4l-6.7-4.3M96.4 208.4l-5.8-4.3M96.4 208.4l-5.9-5.1M96.4 208.4l-5.2-5.2"/>
<path class="c9" d="M94.9 218.6l-6.9-5.8M94.9 218.6l-7.0-6.9M94.9 218.6l-6.6-7.6M94.9 218.6l-5.2-7.1M94.9 218.6l-5.6-9.1M94.9 218.6l-4.0-7.7"/>
<path class="c10" d="M100.8 209.9l-6.0-1.9M100.8 209.9l-6.6-2.7M100.8 209.9l-5.8-2.9M100.8 209.9l-6.0-3.6M100.8 209.9l-5.4-3.8"/>
<path class="c10" d="M113.9 211.3l-6.2-3.3M113.9 211.3l-6.7-4.3M113.9 211.3l-5.8-4.3M113.9 211.3l-5.9-5.1M113.9 211.3l-5.2-5.2"/>
<path class="c10" d="M122.6 214.2l-6.0-1.9M122.6 214.2l-6.6-2.7M122.6 214.2l-5.8-2.9M122.6 214.2l-6.0-3.6M122.6 214.2l-5.4-3.8"/>
<path class="c11" d="M131.4 208.4l-3.2-2.4M131.4 208.4l-3.4-2.9M131.4 208.4l-2.9-2.9M131.4 208.4l-2.9-3.4M131.4 208.4l-2.5-3.3"/>
<path class="c10" d="M148.9 211.3l-6.2-3.3M148.9 211.3l-6.7-4.3M148.9 211.3l-5.8-4.3M148.9 211.3l-5.9-5.1M148.9 211.3l-5.2-5.2"/>
<path class="c10" d="M128.5 215.7l-6.0-1.9M128.5 215.7l-6.6-2.7M128.5 215.7l-5.8-2.9M128.5 215.7l-6.0-3.6M128.5 215.7l-5.4-3.8"/>
<path class="c11" d="M52.7 224.4l-3.4-5.3M52.7 224.4l-3.6-6.5M52.7 224.4l-2.5-5.5M52.7 224.4l-2.6-6.8"/>
<path class="c13" d="M68.7 218.6l-4.8 1.4M68.7 218.6l-5.5 1.2M68.7 218.6l-5.0 0.7M68.7 218.6l-5.5 0.4M68.7 218.6l-5.2-0.0"/>
<path class="c10" d="M74.5 218.6l-3.0-1.0M74.5 218.6l-3.3-1.4M74.5 218.6l-2.9-1.4M74.5 218.6l-3.0-1.8M74.5 218.6l-2.7-1.9"/>
<path class="c13" d="M84.7 218.6l-5.8-0.6M84.7 218.6l-6.5-1.1M84.7 218.6l-5.8-1.4M84.7 218.6l-6.1-2.0M84.7 218.6l-5.6-2.3"/>
<path class="c11" d="M86.2 223.0l-4.6-2.2M86.2 223.0l-5.0-2.8M86.2 223.0l-4.3-2.9M86.2 223.0l-4.4-3.5M86.2 223.0l-3.9-3.6"/>
<path class="c10" d="M99.3 217.2l-4.6-2.2M99.3 217.2l-5.0-2.8M99.3 217.2l-4.3-2.9M99.3 217.2l-4.4-3.5M99.3 217.2l-3.9-3.6"/>
<path class="c11" d="M109.5 223.0l-4.8-3.6M109.5 223.0l-5.1-4.4M109.5 223.0l-4.3-4.3M109.5 223.0l-4.3-5.0M109.5 223.0l-3.7-5.0"/>
<path class="c13" d="M102.2 223.0l-4.4-0.8M102.2 223.0l-4.9-1.2M102.2 223.0l-4.3-1.4M102.2 223.0l-4.6-1.9M102.2 223.0l-4.1-2.1"/>
<path class="c10" d="M116.8 220.1l-4.6-2.2M116.8 220.1l-5.0-2.8M116.8 220.1l-4.3-2.9M116.8 220.1l-4.4-3.5M116.8 220.1l-3.9-3.6"/>
<path class="c11" d="M129.9 220.1l-4.8-3.6M129.9 220.1l-5.1-4.4M129.9 220.1l-4.3-4.3M129.9 220.1l-4.3-5.0M129.9 220.1l-3.7-5.0"/>
<path class="c11" d="M135.8 223.0l-4.8-3.6M135.8 223.0l-5.1-4.4M135.8 223.0l-4.3-4.3M135.8 223.0l-4.3-5.0M135.8 223.0l-3.7-5.0"/>
<path class="c13" d="M137.2 224.4l-5.8-0.6M137.2 224.4l-6.5-1.1M137.2 224.4l-5.8-1.4M137.2 224.4l-6.1-2.0M137.2 224.4l-5.6-2.3"/>
<path class="c10" d="M146.0 220.1l-4.6-2.2M146.0 220.1l-5.0-2.8M146.0 220.1l-4.3-2.9M146.0 220.1l-4.4-3.5M146.0 220.1l-3.9-3.6"/>
<path class="c11" d="M146.0 215.7l-4.6-2.2M146.0 215.7l-5.0-2.8M146.0 215.7l-4.3-2.9M146.0 215.7l-4.4-3.5M146.0 215.7l-3.9-3.6"/>
<path class="c13" d="M92.0 225.9l-5.4 2.2M92.0 225.9l-6.2 2.1M92.0 225.9l-5.8 1.4M92.0 225.9l-6.4 1.1M92.0 225.9l-6.0 0.6"/>
<path class="c14" d="M80.4 229.5l-3.9 2.7M80.4 229.5l-4.6 2.7M80.4 229.5l-4.3 2.2M80.4 229.5l-4.9 2.0M80.4 229.5l-4.7 1.5"/>
<path class="c11" d="M67.2 227.4l-3.2-2.4M67.2 227.4l-3.4-2.9M67.2 227.4l-2.9-2.9M67.2 227.4l-2.9-3.4M67.2 227.4l-2.5-3.3"/>
<path class="c13" d="M108.1 227.4l-4.4-0.8M108.1 227.4l-4.9-1.2M108.1 227.4l-4.3-1.4M108.1 227.4l-4.6-1.9M108.1 227.4l-4.1-2.1"/>
<path class="c13" d="M115.3 227.4l-4.3-0.1M115.3 227.4l-4.8-0.4M115.3 227.4l-4.3-0.7M115.3 227.4l-4.6-1.1M115.3 227.4l-4.3-1.4"/>
<path class="c14" d="M89.1 233.2l-3.8 3.4M89.1 233.2l-4.5 3.5M89.1 233.2l-4.3 2.9M89.1 233.2l-4.9 2.8M89.1 233.2l-4.8 2.2"/>
<path class="c13" d="M83.3 237.6l-4.4-0.8M83.3 237.6l-4.9-1.2M83.3 237.6l-4.3-1.4M83.3 237.6l-4.6-1.9M83.3 237.6l-4.1-2.1"/>
<path class="c11" d="M86.2 239.0l-4.6-2.2M86.2 239.0l-5.0-2.8M86.2 239.0l-4.3-2.9M86.2 239.0l-4.4-3.5M86.2 239.0l-3.9-3.6"/>
<path class="c13" d="M94.9 237.6l-4.4-0.8M94.9 237.6l-4.9-1.2M94.9 237.6l-4.3-1.4M94.9 237.6l-4.6-1.9M94.9 237.6l-4.1-2.1"/>
<path class="c13" d="M102.2 236.1l-4.4-0.8M102.2 236.1l-4.9-1.2M102.2 236.1l-4.3-1.4M102.2 236.1l-4.6-1.9M102.2 236.1l-4.1-2.1"/>
<path class="c14" d="M116.8 234.6l-5.2 3.6M116.8 234.6l-6.1 3.7M116.8 234.6l-5.8 2.9M116.8 234.6l-6.5 2.6M116.8 234.6l-6.3 2.0"/>
<path class="c11" d="M118.3 241.9l-3.4-3.8M118.3 241.9l-3.5-4.5M118.3 241.9l-2.9-4.3M118.3 241.9l-2.8-4.9M118.3 241.9l-2.2-4.8"/>
<path class="c11" d="M134.3 234.6l-6.0-1.9M134.3 234.6l-6.6-2.7M134.3 234.6l-5.8-2.9M134.3 234.6l-6.0-3.6M134.3 234.6l-5.4-3.8"/>
<path class="c13" d="M137.2 240.5l-4.4-0.8M137.2 240.5l-4.9-1.2M137.2 240.5l-4.3-1.4M137.2 240.5l-4.6-1.9M137.2 240.5l-4.1-2.1"/>
<path class="c10" d="M150.3 237.6l-4.6-2.2M150.3 237.6l-5.0-2.8M150.3 237.6l-4.3-2.9M150.3 237.6l-4.4-3.5M150.3 237.6l-3.9-3.6"/>
<path class="c11" d="M153.3 231.7l-4.6-2.2M153.3 231.7l-5.0-2.8M153.3 231.7l-4.3-2.9M153.3 231.7l-4.4-3.5M153.3 231.7l-3.9-3.6"/>
<path class="c11" d="M54.1 241.9l-3.1-1.7M54.1 241.9l-3.4-2.1M54.1 241.9l-2.9-2.2M54.1 241.9l-2.9-2.6M54.1 241.9l-2.6-2.6"/>
<path class="c15" d="M60.7 243.4l-3.7-0.9M60.7 243.4l-4.1-1.3M60.7 243.4l-3.6-1.4M60.7 243.4l-3.8-1.9M60.7 243.4l-3.4-2.0"/>
<path class="c16" d="M68.7 247.0l-3.4 8.1M68.7 247.0l-4.7 9.3M68.7 247.0l-4.3 7.3M68.7 247.0l-5.7 8.4"/>
<path class="c14" d="M81.8 247.8l-2.2 4.6M81.8 247.8l-2.8 5.0M81.8 247.8l-2.9 4.3M81.8 247.8l-3.5 4.4M81.8 247.8l-3.6 3.9"/>
<path class="c13" d="M108.1 244.1l-5.7 0.1M108.1 244.1l-6.4-0.3M108.1 244.1l-5.8-0.7M108.1 244.1l-6.2-1.2M108.1 244.1l-5.7-1.6"/>
<path class="c11" d="M94.9 242.7l-4.5-1.5M94.9 242.7l-4.9-2.0M94.9 242.7l-4.3-2.2M94.9 242.7l-4.5-2.7M94.9 242.7l-4.0-2.8"/>
<path class="c14" d="M105.1 243.4l-3.8 3.4M105.1 243.4l-4.5 3.5M105.1 243.4l-4.3 2.9M105.1 243.4l-4.9 2.8M105.1 243.4l-4.8 2.2"/>
<path class="c14" d="M128.5 247.8l-3.8 3.4M128.5 247.8l-4.5 3.5M128.5 247.8l-4.3 2.9M128.5 247.8l-4.9 2.8M128.5 247.8l-4.8 2.2"/>
<path class="c13" d="M138.7 243.4l-4.4-0.8M138.7 243.4l-4.9-1.2M138.7 243.4l-4.3-1.4M138.7 243.4l-4.6-1.9M138.7 243.4l-4.1-2.1"/>
<path class="c13" d="M140.1 250.7l-4.0 2.0M140.1 250.7l-4.6 1.9M140.1 250.7l-4.3 1.4M140.1 250.7l-4.8 1.2M140.1 250.7l-4.6 0.8"/>
<path class="c13" d="M148.9 243.4l-4.0 2.0M148.9 243.4l-4.6 1.9M148.9 243.4l-4.3 1.4M148.9 243.4l-4.8 1.2M148.9 243.4l-4.6 0.8"/>
<path class="c11" d="M151.8 252.1l-4.6-2.2M151.8 252.1l-5.0-2.8M151.8 252.1l-4.3-2.9M151.8 252.1l-4.4-3.5M151.8 252.1l-3.9-3.6"/>
<path class="c15" d="M103.7 254.3l-4.2 0.6M103.7 254.3l-4.8 0.4M103.7 254.3l-4.3 0.0M103.7 254.3l-4.7-0.4M103.7 254.3l-4.4-0.7"/>
<path class="c14" d="M116.8 255.1l-3.6 4.8M116.8 255.1l-4.4 5.1M116.8 255.1l-4.3 4.3M116.8 255.1l-5.0 4.3M116.8 255.1l-5.0 3.7"/>
<path class="c14" d="M122.6 252.1l-3.8 3.4M122.6 252.1l-4.5 3.5M122.6 252.1l-4.3 2.9M122.6 252.1l-4.9 2.8M122.6 252.1l-4.8 2.2"/>
<path class="c15" d="M131.4 255.8l-4.1 1.3M131.4 255.8l-4.7 1.2M131.4 255.8l-4.3 0.7M131.4 255.8l-4.7 0.4M131.4 255.8l-4.5 0.1"/>
<path class="c15" d="M140.1 256.5l-4.4-0.8M140.1 256.5l-4.9-1.2M140.1 256.5l-4.3-1.4M140.1 256.5l-4.6-1.9M140.1 256.5l-4.1-2.1"/>
<path class="c14" d="M150.3 255.1l-3.8 3.4M150.3 255.1l-4.5 3.5M150.3 255.1l-4.3 2.9M150.3 255.1l-4.9 2.8M150.3 255.1l-4.8 2.2"/>
<path class="c14" d="M112.4 259.4l-2.6 1.8M112.4 259.4l-3.1 1.8M112.4 259.4l-2.9 1.4M112.4 259.4l-3.2 1.3M112.4 259.4l-3.1 1.0"/>
<path class="c13" d="M125.6 259.4l-4.0 2.0M125.6 259.4l-4.6 1.9M125.6 259.4l-4.3 1.4M125.6 259.4l-4.8 1.2M125.6 259.4l-4.6 0.8"/>
<path class="c15" d="M129.9 263.1l-2.9-0.3M129.9 263.1l-3.2-0.6M129.9 263.1l-2.9-0.7M129.9 263.1l-3.1-1.0M129.9 263.1l-2.8-1.2"/>
<path class="c17" d="M62.6 263.1l-2.3 9.4M62.6 263.1l-3.5 10.9M62.6 263.1l-3.4 8.6M62.6 263.1l-4.8 10.1"/>
<path class="c15" d="M86.9 263.8l-2.1 0.3M86.9 263.8l-2.4 0.2M86.9 263.8l-2.2 0.0M86.9 263.8l-2.3-0.2M86.9 263.8l-2.2-0.3" opacity="0.50"/>
<path class="c11" d="M175.4 190.9l-3.9-2.3M175.4 190.9l-4.2-2.9M175.4 190.9l-3.6-2.9M175.4 190.9l-3.7-3.4M175.4 190.9l-3.2-3.5"/>
<path class="c7" d="M160.8 196.7l-6.4-4.7M160.8 196.7l-6.8-5.9M160.8 196.7l-5.8-5.8M160.8 196.7l-5.8-6.7M160.8 196.7l-4.9-6.7"/>
<path class="c10" d="M183.4 203.3l-5.5-3.4M183.4 203.3l-5.9-4.3M183.4 203.3l-5.0-4.3M183.4 203.3l-5.1-5.1M183.4 203.3l-4.4-5.1"/>
<path class="c12" d="M203.1 196.0l-6.4-4.7M203.1 196.0l-6.8-5.9M203.1 196.0l-5.8-5.8M203.1 196.0l-5.8-6.7M203.1 196.0l-4.9-6.7" opacity="0.60"/>
<path class="c11" d="M212.6 201.8l-6.3-4.0M212.6 201.8l-6.8-5.1M212.6 201.8l-5.8-5.0M212.6 201.8l-5.8-5.9M212.6 201.8l-5.0-6.0"/>
<path class="c11" d="M225.0 202.6l-5.7-4.8M225.0 202.6l-6.0-5.9M225.0 202.6l-5.0-5.8M225.0 202.6l-5.0-6.6M225.0 202.6l-4.2-6.6"/>
<path class="c10" d="M226.4 198.9l-5.0-4.9M226.4 198.9l-5.2-6.0M226.4 198.9l-4.3-5.8M226.4 198.9l-4.2-6.6M226.4 198.9l-3.5-6.5"/>
<path class="c10" d="M232.3 196.7l-5.0-4.9M232.3 196.7l-5.2-6.0M232.3 196.7l-4.3-5.8M232.3 196.7l-4.2-6.6M232.3 196.7l-3.5-6.5"/>
<path class="c10" d="M233.7 190.9l-3.2-2.4M233.7 190.9l-3.4-2.9M233.7 190.9l-2.9-2.9M233.7 190.9l-2.9-3.4M233.7 190.9l-2.5-3.3"/>
<path class="c10" d="M245.4 204.8l-4.4-5.7M245.4 204.8l-4.5-6.9M245.4 204.8l-3.6-6.5M245.4 204.8l-3.4-7.3M245.4 204.8l-2.6-7.1"/>
<path class="c11" d="M264.3 190.9l-3.2-2.4M264.3 190.9l-3.4-2.9M264.3 190.9l-2.9-2.9M264.3 190.9l-2.9-3.4M264.3 190.9l-2.5-3.3"/>
<path class="c11" d="M192.2 204.0l-4.1-3.7M192.2 204.0l-4.3-4.5M192.2 204.0l-3.6-4.3M192.2 204.0l-3.5-5.0M192.2 204.0l-3.0-4.9"/>
<path class="c10" d="M196.5 207.7l-4.2-4.4M196.5 207.7l-4.4-5.3M196.5 207.7l-3.6-5.0M196.5 207.7l-3.5-5.7M196.5 207.7l-2.9-5.6"/>
<path class="c10" d="M168.1 211.3l-6.2-3.3M168.1 211.3l-6.7-4.3M168.1 211.3l-5.8-4.3M168.1 211.3l-5.9-5.1M168.1 211.3l-5.2-5.2"/>
<path class="c10" d="M157.9 209.9l-3.0-1.0M157.9 209.9l-3.3-1.4M157.9 209.9l-2.9-1.4M157.9 209.9l-3.0-1.8M157.9 209.9l-2.7-1.9"/>
<path class="c11" d="M182.0 215.7l-6.1-2.6M182.0 215.7l-6.7-3.5M182.0 215.7l-5.8-3.6M182.0 215.7l-5.9-4.4M182.0 215.7l-5.3-4.5"/>
<path class="c10" d="M184.2 220.8l-6.2-3.3M184.2 220.8l-6.7-4.3M184.2 220.8l-5.8-4.3M184.2 220.8l-5.9-5.1M184.2 220.8l-5.2-5.2"/>
<path class="c10" d="M174.0 215.7l-3.1-1.7M174.0 215.7l-3.4-2.1M174.0 215.7l-2.9-2.2M174.0 215.7l-2.9-2.6M174.0 215.7l-2.6-2.6"/>
<path class="c13" d="M160.8 218.6l-5.8-0.6M160.8 218.6l-6.5-1.1M160.8 218.6l-5.8-1.4M160.8 218.6l-6.1-2.0M160.8 218.6l-5.6-2.3"/>
<path class="c11" d="M201.6 219.3l-4.7-2.9M201.6 219.3l-5.1-3.6M201.6 219.3l-4.3-3.6M201.6 219.3l-4.4-4.2M201.6 219.3l-3.8-4.3"/>
<path class="c10" d="M212.6 220.8l-4.7-2.9M212.6 220.8l-5.1-3.6M212.6 220.8l-4.3-3.6M212.6 220.8l-4.4-4.2M212.6 220.8l-3.8-4.3"/>
<path class="c11" d="M236.6 215.0l-6.0-1.9M236.6 215.0l-6.6-2.7M236.6 215.0l-5.8-2.9M236.6 215.0l-6.0-3.6M236.6 215.0l-5.4-3.8"/>
<path class="c10" d="M234.5 209.9l-4.3-5.0M234.5 209.9l-4.5-6.1M234.5 209.9l-3.6-5.8M234.5 209.9l-3.4-6.5M234.5 209.9l-2.8-6.4"/>
<path class="c10" d="M235.9 219.3l-4.9-4.2M235.9 219.3l-5.2-5.2M235.9 219.3l-4.3-5.0M235.9 219.3l-4.3-5.8M235.9 219.3l-3.6-5.7"/>
<path class="c11" d="M246.1 210.6l-4.0-3.0M246.1 210.6l-4.3-3.7M246.1 210.6l-3.6-3.6M246.1 210.6l-3.6-4.2M246.1 210.6l-3.1-4.2"/>
<path class="c11" d="M261.4 207.7l-4.6-2.2M261.4 207.7l-5.0-2.8M261.4 207.7l-4.3-2.9M261.4 207.7l-4.4-3.5M261.4 207.7l-3.9-3.6"/>
<path class="c11" d="M255.6 220.1l-4.8-3.6M255.6 220.1l-5.1-4.4M255.6 220.1l-4.3-4.3M255.6 220.1l-4.3-5.0M255.6 220.1l-3.7-5.0"/>
<path class="c11" d="M260.0 216.4l-3.1-1.7M260.0 216.4l-3.4-2.1M260.0 216.4l-2.9-2.2M260.0 216.4l-2.9-2.6M260.0 216.4l-2.6-2.6"/>
<path class="c11" d="M225.0 217.2l-3.9-2.3M225.0 217.2l-4.2-2.9M225.0 217.2l-3.6-2.9M225.0 217.2l-3.7-3.4M225.0 217.2l-3.2-3.5" opacity="0.50"/>
<path class="c11" d="M175.4 225.2l-4.5-1.5M175.4 225.2l-4.9-2.0M175.4 225.2l-4.3-2.2M175.4 225.2l-4.5-2.7M175.4 225.2l-4.0-2.8"/>
<path class="c10" d="M176.9 229.5l-5.4-2.7M176.9 229.5l-5.9-3.6M176.9 229.5l-5.0-3.6M176.9 229.5l-5.2-4.3M176.9 229.5l-4.5-4.4"/>
<path class="c13" d="M169.6 227.4l-4.4-0.8M169.6 227.4l-4.9-1.2M169.6 227.4l-4.3-1.4M169.6 227.4l-4.6-1.9M169.6 227.4l-4.1-2.1"/>
<path class="c13" d="M160.8 226.6l-4.3-0.1M160.8 226.6l-4.8-0.4M160.8 226.6l-4.3-0.7M160.8 226.6l-4.6-1.1M160.8 226.6l-4.3-1.4"/>
<path class="c11" d="M188.5 230.3l-4.6-2.2M188.5 230.3l-5.0-2.8M188.5 230.3l-4.3-2.9M188.5 230.3l-4.4-3.5M188.5 230.3l-3.9-3.6"/>
<path class="c10" d="M197.3 231.7l-3.0-1.0M197.3 231.7l-3.3-1.4M197.3 231.7l-2.9-1.4M197.3 231.7l-3.0-1.8M197.3 231.7l-2.7-1.9" opacity="0.50"/>
<path class="c11" d="M201.6 236.8l-4.7-2.9M201.6 236.8l-5.1-3.6M201.6 236.8l-4.3-3.6M201.6 236.8l-4.4-4.2M201.6 236.8l-3.8-4.3"/>
<path class="c11" d="M210.4 228.1l-4.7-2.9M210.4 228.1l-5.1-3.6M210.4 228.1l-4.3-3.6M210.4 228.1l-4.4-4.2M210.4 228.1l-3.8-4.3"/>
<path class="c10" d="M226.4 231.0l-6.1-2.6M226.4 231.0l-6.7-3.5M226.4 231.0l-5.8-3.6M226.4 231.0l-5.9-4.4M226.4 231.0l-5.3-4.5"/>
<path class="c11" d="M220.6 233.2l-4.6-2.2M220.6 233.2l-5.0-2.8M220.6 233.2l-4.3-2.9M220.6 233.2l-4.4-3.5M220.6 233.2l-3.9-3.6"/>
<path class="c11" d="M238.1 231.7l-4.6-2.2M238.1 231.7l-5.0-2.8M238.1 231.7l-4.3-2.9M238.1 231.7l-4.4-3.5M238.1 231.7l-3.9-3.6"/>
<path class="c10" d="M235.2 226.6l-4.6-2.2M235.2 226.6l-5.0-2.8M235.2 226.6l-4.3-2.9M235.2 226.6l-4.4-3.5M235.2 226.6l-3.9-3.6"/>
<path class="c13" d="M249.0 230.3l-3.7-0.9M249.0 230.3l-4.1-1.3M249.0 230.3l-3.6-1.4M249.0 230.3l-3.8-1.9M249.0 230.3l-3.4-2.0"/>
<path class="c11" d="M243.9 228.1l-4.5-1.5M243.9 228.1l-4.9-2.0M243.9 228.1l-4.3-2.2M243.9 228.1l-4.5-2.7M243.9 228.1l-4.0-2.8"/>
<path class="c11" d="M262.9 225.9l-6.0-1.9M262.9 225.9l-6.6-2.7M262.9 225.9l-5.8-2.9M262.9 225.9l-6.0-3.6M262.9 225.9l-5.4-3.8"/>
<path class="c11" d="M254.1 234.6l-4.6-2.2M254.1 234.6l-5.0-2.8M254.1 234.6l-4.3-2.9M254.1 234.6l-4.4-3.5M254.1 234.6l-3.9-3.6"/>
<path class="c11" d="M257.0 237.6l-3.1-1.7M257.0 237.6l-3.4-2.1M257.0 237.6l-2.9-2.2M257.0 237.6l-2.9-2.6M257.0 237.6l-2.6-2.6"/>
<path class="c10" d="M262.9 234.6l-3.0-1.0M262.9 234.6l-3.3-1.4M262.9 234.6l-2.9-1.4M262.9 234.6l-3.0-1.8M262.9 234.6l-2.7-1.9"/>
<path class="c10" d="M267.3 238.3l-3.1-1.7M267.3 238.3l-3.4-2.1M267.3 238.3l-2.9-2.2M267.3 238.3l-2.9-2.6M267.3 238.3l-2.6-2.6"/>
<path class="c11" d="M267.3 233.2l-3.1-1.7M267.3 233.2l-3.4-2.1M267.3 233.2l-2.9-2.2M267.3 233.2l-2.9-2.6M267.3 233.2l-2.6-2.6"/>
<path class="c14" d="M160.8 239.8l-3.9 2.7M160.8 239.8l-4.6 2.7M160.8 239.8l-4.3 2.2M160.8 239.8l-4.9 2.0M160.8 239.8l-4.7 1.5"/>
<path class="c11" d="M157.9 243.4l-3.0-1.0M157.9 243.4l-3.3-1.4M157.9 243.4l-2.9-1.4M157.9 243.4l-3.0-1.8M157.9 243.4l-2.7-1.9"/>
<path class="c15" d="M174.0 236.1l-4.4-0.8M174.0 236.1l-4.9-1.2M174.0 236.1l-4.3-1.4M174.0 236.1l-4.6-1.9M174.0 236.1l-4.1-2.1"/>
<path class="c13" d="M190.0 242.7l-4.2 0.6M190.0 242.7l-4.8 0.4M190.0 242.7l-4.3 0.0M190.0 242.7l-4.7-0.4M190.0 242.7l-4.4-0.7"/>
<path class="c13" d="M196.5 241.2l-2.9-0.3M196.5 241.2l-3.2-0.6M196.5 241.2l-2.9-0.7M196.5 241.2l-3.1-1.0M196.5 241.2l-2.8-1.2"/>
<path class="c11" d="M204.6 242.7l-4.5-1.5M204.6 242.7l-4.9-2.0M204.6 242.7l-4.3-2.2M204.6 242.7l-4.5-2.7M204.6 242.7l-4.0-2.8"/>
<path class="c11" d="M214.8 239.8l-4.5-1.5M214.8 239.8l-4.9-2.0M214.8 239.8l-4.3-2.2M214.8 239.8l-4.5-2.7M214.8 239.8l-4.0-2.8"/>
<path class="c11" d="M225.0 241.2l-4.5-1.5M225.0 241.2l-4.9-2.0M225.0 241.2l-4.3-2.2M225.0 241.2l-4.5-2.7M225.0 241.2l-4.0-2.8"/>
<path class="c11" d="M236.6 240.5l-4.5-1.5M236.6 240.5l-4.9-2.0M236.6 240.5l-4.3-2.2M236.6 240.5l-4.5-2.7M236.6 240.5l-4.0-2.8"/>
<path class="c13" d="M213.3 244.9l-4.3-0.1M213.3 244.9l-4.8-0.4M213.3 244.9l-4.3-0.7M213.3 244.9l-4.6-1.1M213.3 244.9l-4.3-1.4"/>
<path class="c10" d="M230.1 246.3l-3.8-1.6M230.1 246.3l-4.2-2.1M230.1 246.3l-3.6-2.2M230.1 246.3l-3.7-2.6M230.1 246.3l-3.3-2.7"/>
<path class="c13" d="M239.6 247.0l-2.9-0.3M239.6 247.0l-3.2-0.6M239.6 247.0l-2.9-0.7M239.6 247.0l-3.1-1.0M239.6 247.0l-2.8-1.2"/>
<path class="c13" d="M245.4 247.8l-2.9-0.3M245.4 247.8l-3.2-0.6M245.4 247.8l-2.9-0.7M245.4 247.8l-3.1-1.0M245.4 247.8l-2.8-1.2"/>
<path class="c10" d="M250.5 239.0l-2.3-1.1M250.5 239.0l-2.5-1.4M250.5 239.0l-2.2-1.4M250.5 239.0l-2.2-1.7M250.5 239.0l-2.0-1.8"/>
<path class="c11" d="M249.8 241.9l-4.5-1.5M249.8 241.9l-4.9-2.0M249.8 241.9l-4.3-2.2M249.8 241.9l-4.5-2.7M249.8 241.9l-4.0-2.8"/>
<path class="c15" d="M261.4 243.4l-4.4-0.8M261.4 243.4l-4.9-1.2M261.4 243.4l-4.3-1.4M261.4 243.4l-4.6-1.9M261.4 243.4l-4.1-2.1"/>
<path class="c11" d="M233.7 250.7l-4.5-1.5M233.7 250.7l-4.9-2.0M233.7 250.7l-4.3-2.2M233.7 250.7l-4.5-2.7M233.7 250.7l-4.0-2.8"/>
<path class="c15" d="M223.5 249.2l-4.4-0.8M223.5 249.2l-4.9-1.2M223.5 249.2l-4.3-1.4M223.5 249.2l-4.6-1.9M223.5 249.2l-4.1-2.1"/>
<path class="c15" d="M208.9 250.7l-4.4-0.8M208.9 250.7l-4.9-1.2M208.9 250.7l-4.3-1.4M208.9 250.7l-4.6-1.9M208.9 250.7l-4.1-2.1"/>
<path class="c15" d="M197.3 253.6l-4.4-0.8M197.3 253.6l-4.9-1.2M197.3 253.6l-4.3-1.4M197.3 253.6l-4.6-1.9M197.3 253.6l-4.1-2.1"/>
<path class="c15" d="M214.8 255.1l-4.4-0.8M214.8 255.1l-4.9-1.2M214.8 255.1l-4.3-1.4M214.8 255.1l-4.6-1.9M214.8 255.1l-4.1-2.1"/>
<path class="c11" d="M166.7 252.1l-6.1-1.6M166.7 252.1l-6.4-2.3M166.7 252.1l-6.4-2.9M166.7 252.1l-5.4-3.0M166.7 252.1l-6.2-4.1M166.7 252.1l-4.8-3.7"/>
<path class="c15" d="M165.2 255.1l-4.4-0.8M165.2 255.1l-4.9-1.2M165.2 255.1l-4.3-1.4M165.2 255.1l-4.6-1.9M165.2 255.1l-4.1-2.1"/>
<path class="c13" d="M181.2 252.1l-2.7 1.1M181.2 252.1l-3.1 1.0M181.2 252.1l-2.9 0.7M181.2 252.1l-3.2 0.5M181.2 252.1l-3.0 0.3"/>
<path class="c11" d="M174.0 252.1l-3.0-1.0M174.0 252.1l-3.3-1.4M174.0 252.1l-2.9-1.4M174.0 252.1l-3.0-1.8M174.0 252.1l-2.7-1.9"/>
<path class="c11" d="M267.3 250.7l-3.0-1.0M267.3 250.7l-3.3-1.4M267.3 250.7l-2.9-1.4M267.3 250.7l-3.0-1.8M267.3 250.7l-2.7-1.9"/>
<path class="c13" d="M275.6 188.7l-2.2-0.4M275.6 188.7l-2.4-0.6M275.6 188.7l-2.2-0.7M275.6 188.7l-2.3-1.0M275.6 188.7l-2.1-1.1"/>
<path class="c11" d="M315.6 193.8l-4.8-3.6M315.6 193.8l-5.1-4.4M315.6 193.8l-4.3-4.3M315.6 193.8l-4.3-5.0M315.6 193.8l-3.7-5.0"/>
<path class="c10" d="M320.0 190.2l-1.7-1.9M320.0 190.2l-1.8-2.3M320.0 190.2l-1.4-2.2M320.0 190.2l-1.4-2.5M320.0 190.2l-1.1-2.4"/>
<path class="c8" d="M328.8 196.7l-3.8-6.5M328.8 196.7l-3.8-7.7M328.8 196.7l-2.9-7.2M328.8 196.7l-2.5-8.0M328.8 196.7l-1.8-7.7"/>
<path class="c12" d="M331.7 204.0l-6.6-6.1M331.7 204.0l-7.0-7.5M331.7 204.0l-5.8-7.2M331.7 204.0l-5.6-8.3M331.7 204.0l-4.7-8.2"/>
<path class="c11" d="M324.4 201.1l-4.8-3.6M324.4 201.1l-5.1-4.4M324.4 201.1l-4.3-4.3M324.4 201.1l-4.3-5.0M324.4 201.1l-3.7-5.0"/>
<path class="c2" d="M336.8 207.0l-3.1-6.5M336.8 207.0l-2.7-7.1M336.8 207.0l-2.3-8.1M336.8 207.0l-1.3-6.7M336.8 207.0l-0.9-8.2M336.8 207.0l-0.2-7.8M336.8 207.0l0.4-7.0"/>
<path class="c8" d="M344.8 204.0l-3.8-6.5M344.8 204.0l-3.8-7.7M344.8 204.0l-2.9-7.2M344.8 204.0l-2.5-8.0M344.8 204.0l-1.8-7.7"/>
<path class="c11" d="M347.7 208.4l-4.8-3.6M347.7 208.4l-5.1-4.4M347.7 208.4l-4.3-4.3M347.7 208.4l-4.3-5.0M347.7 208.4l-3.7-5.0"/>
<path class="c2" d="M350.6 208.4l-2.9-9.4M350.6 208.4l-2.1-10.2M350.6 208.4l-1.1-11.4M350.6 208.4l0.0-9.4M350.6 208.4l1.1-11.2M350.6 208.4l2.1-10.5M350.6 208.4l2.8-9.2"/>
<path class="c11" d="M359.4 196.7l-3.9-5.0M359.4 196.7l-3.8-5.7M359.4 196.7l-3.4-6.2M359.4 196.7l-2.5-5.6M359.4 196.7l-2.5-7.0M359.4 196.7l-1.6-5.8"/>
<path class="c11" d="M360.8 202.6l-3.6-5.2M360.8 202.6l-3.7-6.1M360.8 202.6l-2.9-5.8M360.8 202.6l-2.6-6.5M360.8 202.6l-2.0-6.3"/>
<path class="c2" d="M369.6 211.3l-1.6-9.8M369.6 211.3l-0.6-10.5M369.6 211.3l0.5-11.6M369.6 211.3l1.3-9.4M369.6 211.3l2.7-11.1M369.6 211.3l3.6-10.2M369.6 211.3l4.2-8.8"/>
<path class="c11" d="M368.1 199.7l-1.8-2.6M368.1 199.7l-1.8-3.1M368.1 199.7l-1.4-2.9M368.1 199.7l-1.3-3.2M368.1 199.7l-1.0-3.1"/>
<path class="c12" d="M362.3 214.2l-5.2-6.3M362.3 214.2l-5.4-7.6M362.3 214.2l-4.3-7.2M362.3 214.2l-4.1-8.1M362.3 214.2l-3.3-7.9"/>
<path class="c11" d="M365.2 218.6l-3.4-3.8M365.2 218.6l-3.5-4.5M365.2 218.6l-2.9-4.3M365.2 218.6l-2.8-4.9M365.2 218.6l-2.2-4.8"/>
<path class="c11" d="M376.9 211.3l-3.4-3.8M376.9 211.3l-3.5-4.5M376.9 211.3l-2.9-4.3M376.9 211.3l-2.8-4.9M376.9 211.3l-2.2-4.8"/>
<path class="c11" d="M379.8 218.6l-3.4-3.8M379.8 218.6l-3.5-4.5M379.8 218.6l-2.9-4.3M379.8 218.6l-2.8-4.9M379.8 218.6l-2.2-4.8"/>
<path class="c11" d="M371.0 221.5l-3.4-3.8M371.0 221.5l-3.5-4.5M371.0 221.5l-2.9-4.3M371.0 221.5l-2.8-4.9M371.0 221.5l-2.2-4.8"/>
<path class="c18" d="M341.9 212.8l-2.2-5.4M341.9 212.8l-2.1-6.2M341.9 212.8l-1.4-5.8M341.9 212.8l-1.1-6.4M341.9 212.8l-0.6-6.0"/>
<path class="c11" d="M336.1 215.7l-5.0-4.9M336.1 215.7l-5.2-6.0M336.1 215.7l-4.3-5.8M336.1 215.7l-4.2-6.6M336.1 215.7l-3.5-6.5"/>
<path class="c11" d="M333.1 221.5l-3.9-5.0M333.1 221.5l-3.8-5.7M333.1 221.5l-3.4-6.2M333.1 221.5l-2.5-5.6M333.1 221.5l-2.5-7.0M333.1 221.5l-1.6-5.8"/>
<path class="c11" d="M336.1 225.9l-4.8-3.6M336.1 225.9l-5.1-4.4M336.1 225.9l-4.3-4.3M336.1 225.9l-4.3-5.0M336.1 225.9l-3.7-5.0"/>
<path class="c10" d="M343.3 224.4l-3.6-5.2M343.3 224.4l-3.7-6.1M343.3 224.4l-2.9-5.8M343.3 224.4l-2.6-6.5M343.3 224.4l-2.0-6.3"/>
<path class="c11" d="M344.8 227.4l-3.4-3.8M344.8 227.4l-3.5-4.5M344.8 227.4l-2.9-4.3M344.8 227.4l-2.8-4.9M344.8 227.4l-2.2-4.8"/>
<path class="c11" d="M353.6 225.9l-3.4-3.8M353.6 225.9l-3.5-4.5M353.6 225.9l-2.9-4.3M353.6 225.9l-2.8-4.9M353.6 225.9l-2.2-4.8"/>
<path class="c11" d="M359.4 227.4l-3.4-3.8M359.4 227.4l-3.5-4.5M359.4 227.4l-2.9-4.3M359.4 227.4l-2.8-4.9M359.4 227.4l-2.2-4.8"/>
<path class="c11" d="M331.7 234.6l-3.4-3.8M331.7 234.6l-3.5-4.5M331.7 234.6l-2.9-4.3M331.7 234.6l-2.8-4.9M331.7 234.6l-2.2-4.8"/>
<path class="c11" d="M333.1 238.3l-3.3-3.1M333.1 238.3l-3.5-3.7M333.1 238.3l-2.9-3.6M333.1 238.3l-2.8-4.1M333.1 238.3l-2.4-4.1"/>
<path class="c10" d="M331.7 234.6l-1.8-2.6M331.7 234.6l-1.8-3.1M331.7 234.6l-1.4-2.9M331.7 234.6l-1.3-3.2M331.7 234.6l-1.0-3.1"/>
<path class="c19" d="M344.8 234.6l-2.2-5.4M344.8 234.6l-2.1-6.2M344.8 234.6l-1.4-5.8M344.8 234.6l-1.1-6.4M344.8 234.6l-0.6-6.0"/>
<path class="c11" d="M353.6 236.1l-3.2-2.4M353.6 236.1l-3.4-2.9M353.6 236.1l-2.9-2.9M353.6 236.1l-2.9-3.4M353.6 236.1l-2.5-3.3"/>
<path class="c11" d="M363.8 239.0l-3.2-2.4M363.8 239.0l-3.4-2.9M363.8 239.0l-2.9-2.9M363.8 239.0l-2.9-3.4M363.8 239.0l-2.5-3.3" opacity="0.60"/>
<path class="c11" d="M339.0 233.2l-1.8-2.6M339.0 233.2l-1.8-3.1M339.0 233.2l-1.4-2.9M339.0 233.2l-1.3-3.2M339.0 233.2l-1.0-3.1" opacity="0.50"/>
<path class="c11" d="M305.4 220.1l-4.8-3.6M305.4 220.1l-5.1-4.4M305.4 220.1l-4.3-4.3M305.4 220.1l-4.3-5.0M305.4 220.1l-3.7-5.0"/>
<path class="c11" d="M304.0 212.8l-4.1-3.7M304.0 212.8l-4.3-4.5M304.0 212.8l-3.6-4.3M304.0 212.8l-3.5-5.0M304.0 212.8l-3.0-4.9"/>
<path class="c11" d="M318.6 217.2l-4.8-3.6M318.6 217.2l-5.1-4.4M318.6 217.2l-4.3-4.3M318.6 217.2l-4.3-5.0M318.6 217.2l-3.7-5.0"/>
<path class="c11" d="M317.1 225.9l-4.8-3.6M317.1 225.9l-5.1-4.4M317.1 225.9l-4.3-4.3M317.1 225.9l-4.3-5.0M317.1 225.9l-3.7-5.0"/>
<path class="c11" d="M325.9 227.4l-3.2-2.4M325.9 227.4l-3.4-2.9M325.9 227.4l-2.9-2.9M325.9 227.4l-2.9-3.4M325.9 227.4l-2.5-3.3"/>
<path class="c10" d="M322.9 213.5l-2.6-3.2M322.9 213.5l-2.7-3.8M322.9 213.5l-2.2-3.6M322.9 213.5l-2.0-4.1M322.9 213.5l-1.6-4.0" opacity="0.40"/>
<path class="c11" d="M315.6 212.8l-5.0-4.9M315.6 212.8l-5.2-6.0M315.6 212.8l-4.3-5.8M315.6 212.8l-4.2-6.6M315.6 212.8l-3.5-6.5"/>
<path class="c11" d="M290.1 210.6l-3.9-2.3M290.1 210.6l-4.2-2.9M290.1 210.6l-3.6-2.9M290.1 210.6l-3.7-3.4M290.1 210.6l-3.2-3.5"/>
<path class="c11" d="M285.0 215.7l-3.2-2.4M285.0 215.7l-3.4-2.9M285.0 215.7l-2.9-2.9M285.0 215.7l-2.9-3.4M285.0 215.7l-2.5-3.3"/>
<path class="c18" d="M286.5 223.0l-2.0-4.0M286.5 223.0l-1.9-4.6M286.5 223.0l-1.4-4.3M286.5 223.0l-1.2-4.8M286.5 223.0l-0.8-4.6"/>
<path class="c11" d="M277.7 217.2l-3.4-3.8M277.7 217.2l-3.5-4.5M277.7 217.2l-2.9-4.3M277.7 217.2l-2.8-4.9M277.7 217.2l-2.2-4.8"/>
<path class="c11" d="M271.9 217.2l-3.0-1.0M271.9 217.2l-3.3-1.4M271.9 217.2l-2.9-1.4M271.9 217.2l-3.0-1.8M271.9 217.2l-2.7-1.9"/>
<path class="c10" d="M275.6 231.0l-3.5-2.9M275.6 231.0l-3.5-3.4M275.6 231.0l-3.3-3.8M275.6 231.0l-2.6-3.6M275.6 231.0l-2.8-4.6M275.6 231.0l-2.0-3.8"/>
<path class="c10" d="M294.5 227.4l-2.5-2.5M294.5 227.4l-2.6-3.0M294.5 227.4l-2.2-2.9M294.5 227.4l-2.1-3.3M294.5 227.4l-1.7-3.2"/>
<path class="c10" d="M293.8 233.9l-2.6-3.2M293.8 233.9l-2.7-3.8M293.8 233.9l-2.2-3.6M293.8 233.9l-2.0-4.1M293.8 233.9l-1.6-4.0"/>
<path class="c10" d="M301.1 231.7l-3.2-2.4M301.1 231.7l-3.4-2.9M301.1 231.7l-2.9-2.9M301.1 231.7l-2.9-3.4M301.1 231.7l-2.5-3.3"/>
<path class="c10" d="M309.1 231.7l-2.5-2.5M309.1 231.7l-2.6-3.0M309.1 231.7l-2.2-2.9M309.1 231.7l-2.1-3.3M309.1 231.7l-1.7-3.2"/>
<path class="c11" d="M294.5 237.6l-2.5-2.5M294.5 237.6l-2.6-3.0M294.5 237.6l-2.2-2.9M294.5 237.6l-2.1-3.3M294.5 237.6l-1.7-3.2"/>
<path class="c11" d="M271.9 242.7l-3.2-2.4M271.9 242.7l-3.4-2.9M271.9 242.7l-2.9-2.9M271.9 242.7l-2.9-3.4M271.9 242.7l-2.5-3.3"/>
<path class="c11" d="M283.6 241.9l-1.6-1.2M283.6 241.9l-1.7-1.5M283.6 241.9l-1.4-1.4M283.6 241.9l-1.4-1.7M283.6 241.9l-1.2-1.7"/>
<path class="c11" d="M318.6 232.5l-3.1-1.7M318.6 232.5l-3.4-2.1M318.6 232.5l-2.9-2.2M318.6 232.5l-2.9-2.6M318.6 232.5l-2.6-2.6" opacity="0.50"/>
<path class="c11" d="M220.1 250.1l-6.6-2.4M220.1 250.1l-7.5-3.4M220.1 250.1l-5.8-3.3M220.1 250.1l-6.7-4.5"/>
<path class="c12" d="M257.3 250.6l-9.0-3.7M257.3 250.6l-9.8-5.0M257.3 250.6l-8.5-5.1M257.3 250.6l-8.9-6.2M257.3 250.6l-7.9-6.4"/>
<path class="c11" d="M211.8 232.7l-6.6-1.7M211.8 232.7l-7.3-2.6M211.8 232.7l-6.4-2.9M211.8 232.7l-6.6-3.8M211.8 232.7l-5.9-4.1" opacity="0.70"/>
<path class="c6" d="M249.7 219.6l-12.5-3.6M249.7 219.6l-10.2-3.5M249.7 219.6l-8.2-3.4M249.7 219.6l-11.8-5.6M249.7 219.6l-9.4-5.1M249.7 219.6l-7.6-4.7"/>
<path class="c3" d="M208.3 225.6l-11.7-5.8M208.3 225.6l-8.9-5.3M208.3 225.6l-7.4-5.2M208.3 225.6l-10.2-8.2M208.3 225.6l-7.6-7.0M208.3 225.6l-6.2-6.6M208.3 225.6l-8.3-10.2M208.3 225.6l-5.9-8.4"/>
<path class="c12" d="M219.8 250.9l-9.1-4.9M219.8 250.9l-9.8-6.4M219.8 250.9l-8.4-6.4M219.8 250.9l-8.5-7.7M219.8 250.9l-7.4-7.8"/>
<path class="c20" d="M222.2 251.4l-8.3-1.9M222.2 251.4l-9.2-2.8M222.2 251.4l-8.1-3.2M222.2 251.4l-8.5-4.1M222.2 251.4l-7.7-4.5"/>
<path class="c20" d="M264.9 227.2l-7.7-1.6M264.9 227.2l-8.5-2.5M264.9 227.2l-7.5-2.8M264.9 227.2l-7.9-3.7M264.9 227.2l-7.1-4.0" opacity="0.70"/>
<path class="c7" d="M241.2 246.3l-6.9-5.1M241.2 246.3l-7.4-6.3M241.2 246.3l-6.2-6.2M241.2 246.3l-6.2-7.2M241.2 246.3l-5.3-7.2"/>
<path class="c12" d="M266.1 224.0l-7.5-4.7M266.1 224.0l-8.0-5.9M266.1 224.0l-6.7-5.9M266.1 224.0l-6.8-7.0M266.1 224.0l-5.8-7.1"/>
<path class="c12" d="M228.2 237.7l-9.5-2.5M228.2 237.7l-10.5-3.7M228.2 237.7l-9.2-4.1M228.2 237.7l-9.6-5.2M228.2 237.7l-8.6-5.6"/>
<path class="c12" d="M272.2 241.2l-7.4-5.3M272.2 241.2l-7.9-6.6M272.2 241.2l-6.6-6.5M272.2 241.2l-6.6-7.6M272.2 241.2l-5.7-7.6"/>
<path class="c10" d="M259.5 238.5l-7.1-2.5M259.5 238.5l-7.8-3.3M259.5 238.5l-6.8-3.5M259.5 238.5l-7.1-4.4M259.5 238.5l-6.3-4.6"/>
<path class="c10" d="M242.9 242.9l-6.7-3.6M242.9 242.9l-7.1-4.7M242.9 242.9l-6.1-4.8M242.9 242.9l-6.1-5.7M242.9 242.9l-5.3-5.9"/>
<path class="c9" d="M258.7 247.5l-9.3-3.3M258.7 247.5l-9.5-4.1M258.7 247.5l-12.3-6.3M258.7 247.5l-8.4-5.1M258.7 247.5l-8.5-5.9M258.7 247.5l-10.8-8.6M258.7 247.5l-7.3-6.6M258.7 247.5l-7.3-7.5"/>
<path class="c12" d="M264.3 247.8l-8.4-4.7M264.3 247.8l-9.1-6.1M264.3 247.8l-7.7-6.1M264.3 247.8l-7.8-7.3M264.3 247.8l-6.8-7.5"/>
<path class="c12" d="M203.8 241.7l-9.2-2.9M203.8 241.7l-10.6-4.2M203.8 241.7l-8.3-4.0M203.8 241.7l-9.6-5.6"/>
<path class="c11" d="M237.5 238.3l-6.0-3.3M237.5 238.3l-6.5-4.2M237.5 238.3l-5.6-4.1M237.5 238.3l-5.8-4.9M237.5 238.3l-5.1-4.9"/>
<path class="c12" d="M259.6 236.0l-8.4-5.1M259.6 236.0l-9.5-6.7M259.6 236.0l-7.3-5.9M259.6 236.0l-8.3-7.7"/>
<path class="c9" d="M261.8 245.9l-8.7-1.9M261.8 245.9l-12.2-3.6M261.8 245.9l-12.0-4.4M261.8 245.9l-8.2-3.6M261.8 245.9l-11.3-6.0M261.8 245.9l-10.8-6.7M261.8 245.9l-7.3-5.2M261.8 245.9l-9.9-8.1"/>
<path class="c12" d="M269.2 242.0l-8.4-5.5M269.2 242.0l-9.1-6.9M269.2 242.0l-7.7-6.8M269.2 242.0l-7.9-7.9M269.2 242.0l-6.8-8.0"/>
<path class="c21" d="M231.5 240.3l-13.6-2.3M231.5 240.3l-9.2-2.2M231.5 240.3l-10.5-3.3M231.5 240.3l-12.8-5.1M231.5 240.3l-8.5-4.2M231.5 240.3l-9.5-5.5M231.5 240.3l-11.4-7.7"/>
<path class="c11" d="M234.3 251.4l-6.4-2.8M234.3 251.4l-7.3-3.9M234.3 251.4l-5.7-3.6M234.3 251.4l-6.5-4.9"/>
<path class="c11" d="M203.1 245.5l-6.5-3.3M203.1 245.5l-7.3-4.6M203.1 245.5l-5.6-4.2M203.1 245.5l-6.3-5.6"/>
<path class="c12" d="M234.4 223.9l-7.0-4.1M234.4 223.9l-7.9-5.4M234.4 223.9l-6.1-4.8M234.4 223.9l-6.9-6.3"/>
<path class="c11" d="M233.0 251.1l-6.6-3.3M233.0 251.1l-7.1-4.2M233.0 251.1l-6.1-4.3M233.0 251.1l-6.3-5.1M233.0 251.1l-5.6-5.2"/>
<path class="c11" d="M216.1 242.0l-6.0-2.2M216.1 242.0l-6.6-3.0M216.1 242.0l-5.7-3.2M216.1 242.0l-5.9-3.9M216.1 242.0l-5.3-4.1" opacity="0.70"/>
<path class="c6" d="M259.1 249.1l-8.4-4.4M259.1 249.1l-9.0-5.4M259.1 249.1l-11.2-7.7M259.1 249.1l-7.5-5.8M259.1 249.1l-8.0-7.0M259.1 249.1l-9.7-9.5M259.1 249.1l-6.3-7.0" opacity="0.70"/>
<path class="c11" d="M247.0 240.7l-6.5-2.3M247.0 240.7l-7.1-3.1M247.0 240.7l-6.2-3.3M247.0 240.7l-6.5-4.0M247.0 240.7l-5.9-4.2"/>
<path class="c11" d="M231.4 237.7l-6.5-3.3M231.4 237.7l-7.0-4.3M231.4 237.7l-6.0-4.3M231.4 237.7l-6.2-5.2M231.4 237.7l-5.4-5.3"/>
<path class="c12" d="M248.5 224.4l-7.1-4.8M248.5 224.4l-7.9-6.2M248.5 224.4l-6.0-5.5M248.5 224.4l-6.8-7.1"/>
<path class="c20" d="M234.4 219.4l-8.5-1.2M234.4 219.4l-9.4-2.1M234.4 219.4l-8.4-2.5M234.4 219.4l-8.9-3.4M234.4 219.4l-8.1-3.8"/>
<path class="c12" d="M210.8 232.0l-6.7-5.0M210.8 232.0l-7.1-6.2M210.8 232.0l-5.9-6.1M210.8 232.0l-5.9-7.2M210.8 232.0l-4.9-7.2"/>
<path class="c6" d="M266.2 222.7l-9.5-4.0M266.2 222.7l-11.9-5.9M266.2 222.7l-8.0-4.6M266.2 222.7l-8.6-5.8M266.2 222.7l-10.5-8.1M266.2 222.7l-6.9-6.1"/>
<path class="c20" d="M268.6 246.4l-9.3-1.9M268.6 246.4l-9.9-2.8M268.6 246.4l-9.9-3.6M268.6 246.4l-8.4-3.8M268.6 246.4l-9.8-5.4M268.6 246.4l-7.6-4.9"/>
<path class="c11" d="M329.8 199.6l-4.7-4.6M329.8 199.6l-5.1-5.9M329.8 199.6l-3.7-5.1M329.8 199.6l-4.0-6.5"/>
<path class="c11" d="M316.0 208.5l-5.4-5.0M316.0 208.5l-5.7-6.1M316.0 208.5l-4.7-5.9M316.0 208.5l-4.6-6.8M316.0 208.5l-3.8-6.7"/>
<path class="c12" d="M321.5 218.1l-6.9-4.7M321.5 218.1l-7.4-5.9M321.5 218.1l-6.3-5.8M321.5 218.1l-6.3-6.8M321.5 218.1l-5.4-6.8"/>
<path class="c11" d="M328.4 207.3l-5.8-4.8M328.4 207.3l-6.2-5.8M328.4 207.3l-5.3-5.6M328.4 207.3l-5.3-6.4M328.4 207.3l-4.6-6.4" opacity="0.70"/>
<path class="c8" d="M372.5 200.3l-2.7-8.5M372.5 200.3l-2.4-10.3M372.5 200.3l-1.3-8.4M372.5 200.3l-0.9-10.3"/>
<path class="c5" d="M345.8 220.3l-4.9-8.7M345.8 220.3l-4.5-9.8M345.8 220.3l-3.8-10.4M345.8 220.3l-2.6-9.4M345.8 220.3l-2.3-11.6M345.8 220.3l-1.1-9.5"/>
<path class="c12" d="M375.4 209.6l-5.5-9.2M375.4 209.6l-5.5-10.9M375.4 209.6l-4.3-10.1M375.4 209.6l-3.8-11.3M375.4 209.6l-2.9-10.9"/>
<path class="c12" d="M376.5 206.1l-4.7-7.3M376.5 206.1l-4.6-8.7M376.5 206.1l-3.6-8.1M376.5 206.1l-3.2-9.1M376.5 206.1l-2.3-8.8"/>
<path class="c6" d="M360.9 229.1l-9.7-6.3M360.9 229.1l-7.3-5.3M360.9 229.1l-10.2-8.5M360.9 229.1l-8.4-7.8M360.9 229.1l-6.2-6.5M360.9 229.1l-8.6-10.1M360.9 229.1l-6.9-9.1"/>
<path class="c12" d="M361.4 231.7l-7.7-5.0M361.4 231.7l-8.6-6.7M361.4 231.7l-6.5-5.9M361.4 231.7l-7.2-7.8"/>
<path class="c6" d="M325.3 216.9l-7.5-5.1M325.3 216.9l-10.4-8.1M325.3 216.9l-9.2-8.1M325.3 216.9l-6.4-6.4M325.3 216.9l-8.7-10.0M325.3 216.9l-7.4-9.7"/>
<path class="c12" d="M347.9 230.5l-6.7-7.3M347.9 230.5l-6.8-8.8M347.9 230.5l-5.5-8.5M347.9 230.5l-5.2-9.6M347.9 230.5l-4.1-9.5" opacity="0.70"/>
<path class="c9" d="M333.0 207.3l-8.1-10.4M333.0 207.3l-6.4-9.4M333.0 207.3l-4.5-7.7M333.0 207.3l-5.9-11.8M333.0 207.3l-4.4-10.5M333.0 207.3l-2.9-8.5M333.0 207.3l-3.5-12.8"/>
<path class="c8" d="M332.4 231.4l-4.0-8.0M332.4 231.4l-4.1-9.7M332.4 231.4l-2.7-8.1M332.4 231.4l-2.6-10.0" opacity="0.70"/>
<path class="c9" d="M375.2 203.0l-6.0-5.7M375.2 203.0l-6.0-6.7M375.2 203.0l-5.6-7.3M375.2 203.0l-4.4-6.8M375.2 203.0l-4.6-8.6M375.2 203.0l-3.2-7.3" opacity="0.70"/>
<path class="c11" d="M354.9 236.2l-5.5-4.0M354.9 236.2l-5.9-4.9M354.9 236.2l-5.0-4.8M354.9 236.2l-5.0-5.6M354.9 236.2l-4.3-5.6"/>
<path class="c9" d="M333.9 215.4l-11.8-6.4M333.9 215.4l-9.0-5.8M333.9 215.4l-7.5-5.6M333.9 215.4l-10.2-8.8M333.9 215.4l-7.6-7.5M333.9 215.4l-6.1-7.0M333.9 215.4l-8.1-10.8"/>
<path class="c3" d="M355.2 211.0l-7.8-4.1M355.2 211.0l-8.1-5.1M355.2 211.0l-7.9-5.9M355.2 211.0l-6.5-5.7M355.2 211.0l-7.4-7.5M355.2 211.0l-5.5-6.5"/>
<path class="c12" d="M330.5 195.0l-5.6-7.7M330.5 195.0l-5.5-9.2M330.5 195.0l-4.3-8.7M330.5 195.0l-3.8-9.8M330.5 195.0l-2.8-9.5"/>
<path class="c8" d="M331.4 228.8l-3.7-7.5M331.4 228.8l-3.6-8.7M331.4 228.8l-2.7-8.1M331.4 228.8l-2.4-9.0M331.4 228.8l-1.7-8.6" opacity="0.70"/>
<path class="c9" d="M334.3 200.4l-9.1-5.9M334.3 200.4l-9.3-7.2M334.3 200.4l-9.0-8.1M334.3 200.4l-7.3-7.7M334.3 200.4l-8.1-10.0M334.3 200.4l-5.9-8.5"/>
<path class="c3" d="M360.6 234.8l-10.2-5.0M360.6 234.8l-7.4-4.3M360.6 234.8l-10.5-7.0M360.6 234.8l-8.9-6.9M360.6 234.8l-6.4-5.7M360.6 234.8l-8.8-9.0M360.6 234.8l-7.3-8.5"/>
<path class="c12" d="M332.9 201.1l-8.2-6.1M332.9 201.1l-8.8-7.5M332.9 201.1l-7.5-7.3M332.9 201.1l-7.6-8.4M332.9 201.1l-6.7-8.3"/>
<path class="c7" d="M332.8 229.7l-5.9-6.1M332.8 229.7l-6.0-7.5M332.8 229.7l-4.8-7.2M332.8 229.7l-4.4-8.3M332.8 229.7l-3.4-8.2"/>
<path class="c12" d="M320.0 228.0l-6.5-5.3M320.0 228.0l-6.9-6.5M320.0 228.0l-5.8-6.3M320.0 228.0l-5.8-7.3M320.0 228.0l-5.0-7.3"/>
<path class="c12" d="M320.1 218.7l-7.2-8.0M320.1 218.7l-7.9-10.0M320.1 218.7l-5.8-8.5M320.1 218.7l-6.2-10.7"/>
<path class="c11" d="M347.1 214.8l-5.9-4.3M347.1 214.8l-6.2-5.4M347.1 214.8l-5.3-5.2M347.1 214.8l-5.3-6.1M347.1 214.8l-4.6-6.1"/>
<path class="c22" d="M328.1 189.0l-4.8-8.9M328.1 189.0l-5.8-12.6M328.1 189.0l-3.6-9.4M328.1 189.0l-3.0-9.6M328.1 189.0l-3.3-13.4M328.1 189.0l-1.8-9.9"/>
<path class="c12" d="M333.9 207.0l-7.4-7.1M333.9 207.0l-7.7-8.6M333.9 207.0l-6.3-8.3M333.9 207.0l-6.2-9.6M333.9 207.0l-5.1-9.4"/>
<path class="c2" d="M351.3 188.9l-4.8-8.0M351.3 188.9l-4.5-9.1M351.3 188.9l-3.9-9.7M351.3 188.9l-2.8-8.7M351.3 188.9l-2.5-10.8M351.3 188.9l-1.3-8.9"/>
<path class="c11" d="M352.2 214.5l-4.0-5.6M352.2 214.5l-4.3-6.9M352.2 214.5l-3.1-5.8M352.2 214.5l-3.3-7.2" opacity="0.70"/>
<path class="c9" d="M356.8 187.0l-12.3-6.6M356.8 187.0l-8.2-5.2M356.8 187.0l-8.6-6.5M356.8 187.0l-10.5-9.1M356.8 187.0l-6.8-6.9M356.8 187.0l-7.0-8.2M356.8 187.0l-8.2-11.2"/>
<path class="c10" d="M125.4 228.6l-5.0-3.8M125.4 228.6l-5.4-4.7M125.4 228.6l-4.5-4.6M125.4 228.6l-4.5-5.3M125.4 228.6l-3.9-5.3" opacity="0.70"/>
<path class="c3" d="M101.5 196.1l-9.7-2.3M101.5 196.1l-10.3-3.3M101.5 196.1l-10.3-4.2M101.5 196.1l-8.7-4.4M101.5 196.1l-10.1-6.2M101.5 196.1l-7.7-5.6"/>
<path class="c3" d="M121.5 236.4l-8.3-3.7M121.5 236.4l-8.7-4.6M121.5 236.4l-8.5-5.4M121.5 236.4l-7.1-5.3M121.5 236.4l-8.1-7.1M121.5 236.4l-6.1-6.2"/>
<path class="c7" d="M111.2 183.4l-8.2-5.4M111.2 183.4l-8.8-6.8M111.2 183.4l-7.4-6.7M111.2 183.4l-7.5-7.9M111.2 183.4l-6.5-7.9"/>
<path class="c7" d="M136.5 232.0l-6.3-6.0M136.5 232.0l-6.6-7.3M136.5 232.0l-5.4-7.1M136.5 232.0l-5.3-8.1M136.5 232.0l-4.3-8.0"/>
<path class="c10" d="M163.3 202.0l-4.8-4.1M163.3 202.0l-5.3-5.3M163.3 202.0l-4.0-4.5M163.3 202.0l-4.4-5.8"/>
<path class="c11" d="M122.4 250.3l-5.0-3.8M122.4 250.3l-5.3-4.7M122.4 250.3l-4.5-4.6M122.4 250.3l-4.5-5.3M122.4 250.3l-3.9-5.3"/>
<path class="c1" d="M71.7 203.3l-7.6-4.1M71.7 203.3l-9.1-5.7M71.7 203.3l-10.3-7.3M71.7 203.3l-6.7-5.4M71.7 203.3l-8.0-7.2M71.7 203.3l-8.9-9.0" opacity="0.70"/>
<path class="c7" d="M113.6 248.8l-9.0-3.6M113.6 248.8l-9.8-4.9M113.6 248.8l-8.5-5.1M113.6 248.8l-8.7-6.3M113.6 248.8l-7.7-6.6"/>
<path class="c9" d="M84.5 237.0l-10.7-7.4M84.5 237.0l-7.1-5.7M84.5 237.0l-7.3-6.9M84.5 237.0l-8.8-9.6M84.5 237.0l-5.6-7.1M84.5 237.0l-5.6-8.3M84.5 237.0l-6.5-11.3"/>
<path class="c10" d="M84.3 204.8l-5.4-4.2M84.3 204.8l-5.6-5.3M84.3 204.8l-4.7-5.2M84.3 204.8l-4.6-6.0M84.3 204.8l-3.8-6.0"/>
<path class="c3" d="M164.4 239.0l-11.5-4.8M164.4 239.0l-10.7-5.5M164.4 239.0l-7.4-4.5M164.4 239.0l-10.2-7.2M164.4 239.0l-9.2-7.7M164.4 239.0l-6.2-6.0M164.4 239.0l-8.4-9.3"/>
<path class="c12" d="M139.4 245.3l-6.9-4.2M139.4 245.3l-7.4-5.4M139.4 245.3l-6.2-5.5M139.4 245.3l-6.3-6.5M139.4 245.3l-5.4-6.6"/>
<path class="c7" d="M98.4 188.8l-5.6-5.5M98.4 188.8l-5.9-6.7M98.4 188.8l-4.9-6.4M98.4 188.8l-4.7-7.4M98.4 188.8l-3.9-7.3"/>
<path class="c11" d="M99.7 184.7l-6.0-3.6M99.7 184.7l-6.5-4.6M99.7 184.7l-5.5-4.5M99.7 184.7l-5.7-5.3M99.7 184.7l-5.0-5.3"/>
<path class="c10" d="M125.2 184.2l-6.5-2.4M125.2 184.2l-7.1-3.3M125.2 184.2l-6.1-3.5M125.2 184.2l-6.3-4.4M125.2 184.2l-5.5-4.7"/>
<path class="c12" d="M83.4 192.0l-5.8-6.2M83.4 192.0l-6.3-7.9M83.4 192.0l-4.6-6.7M83.4 192.0l-4.9-8.5"/>
<path class="c12" d="M91.0 244.8l-6.0-5.0M91.0 244.8l-6.3-6.2M91.0 244.8l-5.2-6.1M91.0 244.8l-5.0-7.0M91.0 244.8l-4.2-7.0"/>
<path class="c7" d="M96.0 240.3l-6.4-5.2M96.0 240.3l-7.0-6.7M96.0 240.3l-5.3-5.9M96.0 240.3l-5.8-7.5"/>
<path class="c12" d="M159.3 215.1l-5.4-5.7M159.3 215.1l-5.6-6.9M159.3 215.1l-4.6-6.6M159.3 215.1l-4.4-7.5M159.3 215.1l-3.6-7.3"/>
<path class="c12" d="M150.3 245.8l-7.4-6.8M150.3 245.8l-7.5-8.0M150.3 245.8l-7.0-8.8M150.3 245.8l-5.6-8.1M150.3 245.8l-6.0-10.4M150.3 245.8l-4.2-8.7"/>
<path class="c7" d="M88.2 214.2l-8.7-3.0M88.2 214.2l-10.0-4.3M88.2 214.2l-7.8-4.1M88.2 214.2l-9.0-5.8"/>
<path class="c7" d="M116.6 209.3l-7.8-3.7M116.6 209.3l-8.4-4.9M116.6 209.3l-7.2-5.0M116.6 209.3l-7.4-6.1M116.6 209.3l-6.4-6.3"/>
<path class="c12" d="M115.8 227.1l-8.3-7.1M115.8 227.1l-8.9-8.6M115.8 227.1l-7.5-8.2M115.8 227.1l-7.6-9.4M115.8 227.1l-6.5-9.3"/>
<path class="c12" d="M118.7 246.3l-6.1-6.7M118.7 246.3l-6.3-8.0M118.7 246.3l-5.2-7.6M118.7 246.3l-5.1-8.6M118.7 246.3l-4.3-8.4"/>
<path class="c3" d="M123.1 222.1l-11.5-5.7M123.1 222.1l-10.1-5.9M123.1 222.1l-7.3-4.9M123.1 222.1l-10.2-7.8M123.1 222.1l-8.8-7.7M123.1 222.1l-6.2-6.2M123.1 222.1l-8.5-9.7M123.1 222.1l-7.1-9.2"/>
<path class="c1" d="M136.0 185.8l-8.1-2.5M136.0 185.8l-11.2-4.2M136.0 185.8l-11.1-4.9M136.0 185.8l-7.5-3.9M136.0 185.8l-10.3-6.1M136.0 185.8l-10.1-6.7M136.0 185.8l-6.8-5.1"/>
<path class="c7" d="M76.3 225.6l-9.0-3.1M76.3 225.6l-9.9-4.3M76.3 225.6l-8.6-4.6M76.3 225.6l-8.8-5.8M76.3 225.6l-7.8-6.2"/>
<path class="c7" d="M86.3 198.5l-8.1-4.2M86.3 198.5l-9.2-5.7M86.3 198.5l-7.1-5.1M86.3 198.5l-8.1-6.8"/>
<path class="c12" d="M60.4 220.3l-6.9-4.3M60.4 220.3l-7.7-5.7M60.4 220.3l-5.9-5.0M60.4 220.3l-6.7-6.5"/>
<path class="c7" d="M130.7 189.9l-9.3-3.6M130.7 189.9l-10.1-4.9M130.7 189.9l-8.7-5.3M130.7 189.9l-8.9-6.5M130.7 189.9l-7.8-6.8"/>
<path class="c10" d="M119.1 234.4l-6.6-2.9M119.1 234.4l-7.6-4.0M119.1 234.4l-5.9-3.7M119.1 234.4l-6.8-4.9" opacity="0.70"/>
<path class="c11" d="M149.2 247.7l-5.3-4.2M149.2 247.7l-5.6-5.3M149.2 247.7l-4.6-5.1M149.2 247.7l-4.6-6.0M149.2 247.7l-3.8-5.9"/>
<path class="c1" d="M66.6 206.1l-11.0-5.3M66.6 206.1l-7.6-4.3M66.6 206.1l-10.7-6.8M66.6 206.1l-9.9-7.1M66.6 206.1l-6.8-5.5M66.6 206.1l-9.4-8.5"/>
<path class="c12" d="M103.8 199.3l-6.8-3.9M103.8 199.3l-7.4-5.0M103.8 199.3l-6.3-5.0M103.8 199.3l-6.4-5.9M103.8 199.3l-5.6-6.0"/>
<path class="c9" d="M76.5 205.5l-9.7-1.8M76.5 205.5l-13.3-3.4M76.5 205.5l-9.6-3.2M76.5 205.5l-9.1-3.8M76.5 205.5l-12.3-6.1M76.5 205.5l-8.7-5.2M76.5 205.5l-8.2-5.7M76.5 205.5l-10.7-8.6" opacity="0.70"/>
<path class="c12" d="M73.1 207.1l-6.7-6.9M73.1 207.1l-7.3-8.8M73.1 207.1l-5.4-7.5M73.1 207.1l-5.8-9.5"/>
<path class="c12" d="M163.4 219.7l-10.0-4.2M163.4 219.7l-10.9-5.6M163.4 219.7l-9.4-5.8M163.4 219.7l-9.7-7.0M163.4 219.7l-8.6-7.3"/>
<path class="c9" d="M99.0 233.1l-9.9-3.8M99.0 233.1l-12.0-5.6M99.0 233.1l-8.0-4.3M99.0 233.1l-9.0-5.7M99.0 233.1l-10.7-7.7M99.0 233.1l-7.0-5.8M99.0 233.1l-7.8-7.3" opacity="0.70"/>
<path class="c12" d="M172.2 218.5l-8.4-3.8M172.2 218.5l-9.2-4.9M172.2 218.5l-8.0-5.0M172.2 218.5l-8.3-6.0M172.2 218.5l-7.4-6.1" opacity="0.70"/>
<path class="c10" d="M136.2 250.5l-6.7-2.0M136.2 250.5l-7.4-2.8M136.2 250.5l-6.5-3.1M136.2 250.5l-6.7-3.9M136.2 250.5l-6.0-4.1"/>
<path class="c10" d="M94.9 213.8l-6.1-3.8M94.9 213.8l-6.4-4.9M94.9 213.8l-5.4-5.0M94.9 213.8l-5.3-5.9M94.9 213.8l-4.5-6.0"/>
<path class="c10" d="M131.9 189.8l-6.8-2.5M131.9 189.8l-7.7-3.6M131.9 189.8l-6.0-3.4M131.9 189.8l-6.9-4.7" opacity="0.70"/>
<path class="c7" d="M69.8 235.1l-6.9-5.3M69.8 235.1l-7.3-6.5M69.8 235.1l-6.2-6.3M69.8 235.1l-6.3-7.2M69.8 235.1l-5.5-7.2" opacity="0.70"/>
<path class="c7" d="M83.2 222.2l-8.0-5.0M83.2 222.2l-8.5-6.4M83.2 222.2l-7.2-6.5M83.2 222.2l-7.1-7.7M83.2 222.2l-6.0-7.8"/>
<path class="c1" d="M86.8 155.1l-7.0-9.9M86.8 155.1l-4.4-7.1M86.8 155.1l-5.4-10.3M86.8 155.1l-4.9-11.1M86.8 155.1l-2.9-7.9M86.8 155.1l-3.3-11.2"/>
<path class="c4" d="M101.5 165.0l-2.4-8.9M101.5 165.0l-2.0-10.2M101.5 165.0l-1.2-9.3M101.5 165.0l-0.6-10.2M101.5 165.0l0.1-9.6"/>
<path class="c0" d="M122.5 173.3l-3.5-11.9M122.5 173.3l-2.7-11.7M122.5 173.3l-1.5-8.5M122.5 173.3l-1.5-12.4M122.5 173.3l-0.8-11.9M122.5 173.3l-0.1-8.6"/>
<path class="c0" d="M98.0 155.3l-5.3-9.0M98.0 155.3l-6.4-12.5M98.0 155.3l-4.1-9.2M98.0 155.3l-3.7-9.8M98.0 155.3l-4.2-13.4M98.0 155.3l-2.4-9.7"/>
<path class="c9" d="M113.3 161.0l-5.4-7.2M113.3 161.0l-6.0-9.2M113.3 161.0l-6.5-11.5M113.3 161.0l-3.9-8.1M113.3 161.0l-4.1-10.2M113.3 161.0l-4.1-12.5M113.3 161.0l-2.3-8.6M113.3 161.0l-2.1-10.9"/>
<path class="c3" d="M110.4 174.7l-8.6-7.5M110.4 174.7l-6.9-6.9M110.4 174.7l-9.4-10.7M110.4 174.7l-6.9-9.1M110.4 174.7l-5.4-8.2M110.4 174.7l-7.1-12.4M110.4 174.7l-5.0-10.2"/>
<path class="c3" d="M93.4 154.2l-6.0-7.7M93.4 154.2l-7.4-10.9M93.4 154.2l-7.1-12.4M93.4 154.2l-4.2-8.8M93.4 154.2l-4.9-12.3M93.4 154.2l-4.3-13.6M93.4 154.2l-2.2-9.5"/>
<path class="c1" d="M102.2 156.9l-11.7-10.2M102.2 156.9l-10.0-9.9M102.2 156.9l-7.1-7.8M102.2 156.9l-9.8-12.1M102.2 156.9l-8.2-11.4M102.2 156.9l-5.7-8.9M102.2 156.9l-7.6-13.6"/>
<path class="c2" d="M127.5 145.5l-5.1-12.0M127.5 145.5l-2.8-8.4M127.5 145.5l-2.8-10.7M127.5 145.5l-2.4-12.8M127.5 145.5l-1.0-8.8M127.5 145.5l-0.5-11.1M127.5 145.5l0.4-13.0"/>
<path class="c4" d="M85.9 170.4l-2.3-10.0M85.9 170.4l-1.8-12.0M85.9 170.4l-0.6-9.7M85.9 170.4l0.2-11.8"/>
<path class="c6" d="M108.1 154.1l-8.2-10.5M108.1 154.1l-5.2-7.7M108.1 154.1l-6.7-11.3M108.1 154.1l-6.0-11.8M108.1 154.1l-3.7-8.5M108.1 154.1l-4.5-12.4M108.1 154.1l-3.7-12.7"/>
<path class="c4" d="M103.8 155.4l-3.5-9.4M103.8 155.4l-3.2-10.9M103.8 155.4l-2.2-10.0M103.8 155.4l-1.6-11.0M103.8 155.4l-0.8-10.4"/>
<path class="c1" d="M82.4 159.0l-8.3-9.9M82.4 159.0l-6.3-8.4M82.4 159.0l-5.0-7.3M82.4 159.0l-6.7-11.1M82.4 159.0l-4.9-9.3M82.4 159.0l-3.8-8.1"/>
<path class="c1" d="M114.7 174.8l-5.2-7.0M114.7 174.8l-6.6-10.1M114.7 174.8l-6.2-11.0M114.7 174.8l-3.8-7.9M114.7 174.8l-4.6-11.2M114.7 174.8l-4.1-12.0"/>
<path class="c0" d="M80.2 152.6l-4.8-11.0M80.2 152.6l-4.2-11.3M80.2 152.6l-2.5-8.1M80.2 152.6l-2.9-11.7M80.2 152.6l-2.2-11.8M80.2 152.6l-1.1-8.4"/>
<path class="c3" d="M111.7 163.8l-8.6-6.7M111.7 163.8l-8.1-7.3M111.7 163.8l-10.4-10.6M111.7 163.8l-7.0-8.2M111.7 163.8l-6.5-8.8M111.7 163.8l-8.0-12.5M111.7 163.8l-5.2-9.5M111.7 163.8l-4.6-10.0" opacity="0.70"/>
<path class="c7" d="M92.2 171.5l-6.9-8.0M92.2 171.5l-7.0-9.7M92.2 171.5l-5.6-9.2M92.2 171.5l-5.2-10.5M92.2 171.5l-4.1-10.2"/>
<path class="c6" d="M124.7 175.1l-8.4-11.5M124.7 175.1l-6.1-9.3M124.7 175.1l-5.0-8.6M124.7 175.1l-6.4-12.7M124.7 175.1l-4.5-10.2M124.7 175.1l-3.5-9.3"/>
<path class="c6" d="M131.2 177.2l-7.9-8.3M131.2 177.2l-6.2-7.4M131.2 177.2l-8.4-11.3M131.2 177.2l-6.3-9.6M131.2 177.2l-4.8-8.4M131.2 177.2l-6.3-12.6"/>
<path class="c8" d="M115.4 177.1l-5.0-9.4M115.4 177.1l-5.1-11.5M115.4 177.1l-3.4-9.6M115.4 177.1l-3.2-11.9" opacity="0.70"/>
<path class="c2" d="M120.9 180.8l-5.8-11.9M120.9 180.8l-5.6-14.0M120.9 180.8l-3.1-9.7M120.9 180.8l-3.1-12.9M120.9 180.8l-2.5-14.8M120.9 180.8l-1.0-10.2M120.9 180.8l-0.3-13.3M120.9 180.8l0.7-15.0"/>
<path class="c0" d="M124.4 157.1l-4.2-12.6M124.4 157.1l-2.8-10.2M124.4 157.1l-1.9-8.9M124.4 157.1l-2.0-13.1M124.4 157.1l-1.0-10.5M124.4 157.1l-0.3-9.2M124.4 157.1l0.3-13.3" opacity="0.70"/>
<path class="c3" d="M105.2 165.7l-9.1-11.5M105.2 165.7l-5.9-8.6M105.2 165.7l-5.6-9.6M105.2 165.7l-6.5-13.1M105.2 165.7l-4.0-9.6M105.2 165.7l-3.5-10.6M105.2 165.7l-3.7-14.2M105.2 165.7l-1.9-10.1" opacity="0.70"/>
<path class="c1" d="M123.1 150.5l-9.0-9.3M123.1 150.5l-7.7-9.0M123.1 150.5l-5.3-7.1M123.1 150.5l-7.2-10.8M123.1 150.5l-5.9-10.2M123.1 150.5l-4.0-7.9"/>
<path class="c22" d="M93.9 161.2l-2.7-8.7M93.9 161.2l-3.0-12.4M93.9 161.2l-2.4-12.9M93.9 161.2l-1.1-9.1M93.9 161.2l-0.8-12.8M93.9 161.2l-0.0-13.1M93.9 161.2l0.5-9.1"/>
<path class="c4" d="M92.5 148.6l-4.1-9.1M92.5 148.6l-3.9-10.6M92.5 148.6l-2.8-9.8M92.5 148.6l-2.2-10.8M92.5 148.6l-1.3-10.3"/>
<path class="c9" d="M107.3 156.0l-9.7-8.2M107.3 156.0l-6.2-6.1M107.3 156.0l-7.6-8.8M107.3 156.0l-7.6-10.1M107.3 156.0l-4.7-7.3M107.3 156.0l-5.5-10.3M107.3 156.0l-5.2-11.5"/>
<path class="c9" d="M94.5 170.0l-6.5-6.9M94.5 170.0l-8.6-10.6M94.5 170.0l-7.7-10.7M94.5 170.0l-5.0-8.1M94.5 170.0l-6.4-12.1M94.5 170.0l-5.4-12.0M94.5 170.0l-3.3-8.9"/>
<path class="c4" d="M140.4 174.5l-2.8-9.0M140.4 174.5l-2.6-10.8M140.4 174.5l-1.5-8.8M140.4 174.5l-1.1-10.8" opacity="0.70"/>
<path class="c6" d="M120.4 158.3l-10.3-8.7M120.4 158.3l-11.5-11.1M120.4 158.3l-7.4-8.0M120.4 158.3l-8.5-10.5M120.4 158.3l-9.3-13.0M120.4 158.3l-5.8-9.2M120.4 158.3l-6.5-11.9" opacity="0.70"/>
<path class="c3" d="M116.8 101.1l-5.8-8.0M116.8 101.1l-7.7-12.4M116.8 101.1l-5.8-10.8M116.8 101.1l-4.1-9.0M116.8 101.1l-5.2-13.6M116.8 101.1l-3.6-11.7M116.8 101.1l-2.3-9.7"/>
<path class="c3" d="M155.3 122.7l-7.3-6.4M155.3 122.7l-8.4-8.5M155.3 122.7l-9.2-10.8M155.3 122.7l-5.7-7.8M155.3 122.7l-6.3-10.2M155.3 122.7l-6.5-12.6M155.3 122.7l-3.8-8.9M155.3 122.7l-3.9-11.4M155.3 122.7l-3.6-13.7"/>
<path class="c0" d="M163.5 121.2l-5.5-11.9M163.5 121.2l-5.0-12.9M163.5 121.2l-2.9-9.1M163.5 121.2l-3.2-12.8M163.5 121.2l-2.5-13.6M163.5 121.2l-1.1-9.5M163.5 121.2l-0.7-13.2"/>
<path class="c2" d="M135.7 129.2l-8.6-11.6M135.7 129.2l-10.6-16.9M135.7 129.2l-9.8-18.4M135.7 129.2l-5.8-13.2M135.7 129.2l-6.7-18.9M135.7 129.2l-5.5-20.1M135.7 129.2l-2.8-14.1M135.7 129.2l-2.4-19.9" opacity="0.70"/>
<path class="c2" d="M148.6 129.9l-9.9-19.5M148.6 129.9l-5.8-13.7M148.6 129.9l-6.1-17.9M148.6 129.9l-5.5-21.1M148.6 129.9l-2.7-14.5M148.6 129.9l-2.1-18.8M148.6 129.9l-0.8-21.7M148.6 129.9l0.5-14.8M148.6 129.9l2.0-18.9"/>
<path class="c2" d="M136.6 125.1l-4.0-10.9M136.6 125.1l-4.7-16.2M136.6 125.1l-3.4-15.7M136.6 125.1l-1.7-11.5M136.6 125.1l-1.3-16.8M136.6 125.1l-0.1-16.0M136.6 125.1l0.8-11.6" opacity="0.70"/>
<path class="c2" d="M128.9 117.8l-7.0-16.4M128.9 117.8l-4.1-11.7M128.9 117.8l-4.7-16.8M128.9 117.8l-3.7-17.4M128.9 117.8l-1.8-12.3M128.9 117.8l-1.4-17.4M128.9 117.8l-0.3-17.7" opacity="0.70"/>
<path class="c3" d="M111.8 110.4l-10.3-11.1M111.8 110.4l-9.6-11.9M111.8 110.4l-11.9-17.1M111.8 110.4l-7.8-12.9M111.8 110.4l-6.9-13.7M111.8 110.4l-8.1-19.2M111.8 110.4l-4.9-14.2M111.8 110.4l-4.0-14.9M111.8 110.4l-3.9-20.4" opacity="0.70"/>
<path class="c2" d="M133.1 105.6l-7.1-14.9M133.1 105.6l-6.5-16.3M133.1 105.6l-7.0-22.2M133.1 105.6l-3.9-16.0M133.1 105.6l-3.0-17.4M133.1 105.6l-2.3-23.1M133.1 105.6l-0.5-16.4"/>
<path class="c2" d="M157.1 107.6l-7.4-10.3M157.1 107.6l-9.4-15.5M157.1 107.6l-8.2-16.1M157.1 107.6l-4.9-11.7M157.1 107.6l-5.8-17.2M157.1 107.6l-4.5-17.4M157.1 107.6l-2.3-12.5M157.1 107.6l-1.9-18.1M157.1 107.6l-0.6-17.9" opacity="0.70"/>
<path class="c3" d="M124.5 108.9l-8.1-10.1M124.5 108.9l-5.9-8.5M124.5 108.9l-4.6-7.6M124.5 108.9l-5.8-11.5M124.5 108.9l-4.0-9.4M124.5 108.9l-2.9-8.4M124.5 108.9l-3.4-12.5M124.5 108.9l-2.0-10.0" opacity="0.70"/>
<path class="c2" d="M149.0 107.0l-8.0-11.5M149.0 107.0l-4.8-8.2M149.0 107.0l-5.5-11.2M149.0 107.0l-5.1-12.9M149.0 107.0l-2.8-9.0M149.0 107.0l-2.8-12.2M149.0 107.0l-2.1-13.7M149.0 107.0l-0.7-9.4M149.0 107.0l0.1-12.6"/>
<path class="c2" d="M164.4 100.7l-7.1-11.7M164.4 100.7l-6.0-11.8M164.4 100.7l-3.7-8.7M164.4 100.7l-4.4-13.0M164.4 100.7l-3.3-12.8M164.4 100.7l-1.7-9.3M164.4 100.7l-1.5-13.7M164.4 100.7l-0.5-13.2M164.4 100.7l0.3-9.5"/>
<path class="c2" d="M107.8 107.2l-6.1-16.8M107.8 107.2l-3.4-11.9M107.8 107.2l-3.6-16.8M107.8 107.2l-2.6-17.6M107.8 107.2l-0.9-12.3M107.8 107.2l-0.1-17.2M107.8 107.2l1.1-17.7M107.8 107.2l1.6-12.2"/>
<path class="c3" d="M115.7 124.9l-7.8-10.1M115.7 124.9l-10.4-15.4M115.7 124.9l-8.9-15.2M115.7 124.9l-5.7-11.5M115.7 124.9l-7.1-17.2M115.7 124.9l-5.6-16.6M115.7 124.9l-3.3-12.4M115.7 124.9l-3.6-18.3" opacity="0.70"/>
<path class="c3" d="M155.2 98.1l-8.0-9.2M155.2 98.1l-8.9-11.9M155.2 98.1l-9.6-15.1M155.2 98.1l-5.8-10.7M155.2 98.1l-6.0-13.7M155.2 98.1l-6.0-16.8M155.2 98.1l-3.2-11.7M155.2 98.1l-2.9-14.7M155.2 98.1l-2.1-17.7"/>
<path d="M81.1 82.9h0M106.2 82.1h0M134.3 68.3h0M128.5 72.7h0M123.4 87.2h0M133.6 93.1h0M143.0 90.9h0M151.8 86.5h0M89.8 138.7h0M68.0 154.0h0M89.8 161.3h0M81.8 162.8h0M111.0 135.8h0M116.8 129.2h0M129.9 138.0h0M128.5 151.1h0M137.9 151.1h0M143.0 148.9h0M137.9 122.7h0M116.8 108.8h0M106.6 132.2h0M103.7 149.6h0M122.6 162.8h0M128.5 167.1h0M134.3 165.7h0M89.1 173.0h0M97.1 175.9h0M102.2 175.9h0M77.4 171.5h0M108.1 180.3h0M119.7 181.7h0M128.5 180.3h0M134.3 183.2h0M153.3 151.1h0M165.9 116.8h0M161.6 129.2h0M168.8 141.6h0M160.8 146.7h0M157.2 159.9h0M166.7 174.4h0M171.0 175.9h0M159.4 183.2h0M179.8 180.3h0M190.0 184.6h0M194.4 153.3h0M190.0 165.0h0M230.8 186.8h0M274.1 184.6h0M287.2 185.4h0M344.1 180.3h0M333.1 178.8h0M336.1 184.6h0M76.0 192.4h0M92.0 193.8h0M106.6 192.4h0M116.8 193.8h0M129.9 190.9h0M134.3 193.8h0M143.0 193.8h0M147.4 198.2h0M78.9 198.2h0M99.3 204.0h0M106.6 199.7h0M113.9 204.8h0M119.7 201.1h0M128.5 205.5h0M141.6 204.0h0M151.8 207.0h0M73.8 209.1h0M96.4 208.4h0M100.8 209.9h0M113.9 211.3h0M122.6 214.2h0M148.9 211.3h0M128.5 215.7h0M68.7 218.6h0M74.5 218.6h0M84.7 218.6h0M99.3 217.2h0M102.2 223.0h0M116.8 220.1h0M137.2 224.4h0M146.0 220.1h0M92.0 225.9h0M80.4 229.5h0M108.1 227.4h0M115.3 227.4h0M89.1 233.2h0M83.3 237.6h0M94.9 237.6h0M102.2 236.1h0M116.8 234.6h0M137.2 240.5h0M150.3 237.6h0M68.7 247.0h0M81.8 247.8h0M108.1 244.1h0M105.1 243.4h0M128.5 247.8h0M138.7 243.4h0M140.1 250.7h0M148.9 243.4h0M116.8 255.1h0M122.6 252.1h0M150.3 255.1h0M112.4 259.4h0M125.6 259.4h0M62.6 263.1h0M160.8 196.7h0M183.4 203.3h0M226.4 198.9h0M232.3 196.7h0M233.7 190.9h0M245.4 204.8h0M196.5 207.7h0M168.1 211.3h0M157.9 209.9h0M184.2 220.8h0M174.0 215.7h0M160.8 218.6h0M212.6 220.8h0M234.5 209.9h0M235.9 219.3h0M176.9 229.5h0M169.6 227.4h0M160.8 226.6h0M226.4 231.0h0M235.2 226.6h0M249.0 230.3h0M262.9 234.6h0M267.3 238.3h0M160.8 239.8h0M190.0 242.7h0M196.5 241.2h0M213.3 244.9h0M230.1 246.3h0M239.6 247.0h0M245.4 247.8h0M250.5 239.0h0M181.2 252.1h0M275.6 188.7h0M320.0 190.2h0M336.8 207.0h0M350.6 208.4h0M369.6 211.3h0M341.9 212.8h0M343.3 224.4h0M331.7 234.6h0M286.5 223.0h0M275.6 231.0h0M294.5 227.4h0M293.8 233.9h0M301.1 231.7h0M309.1 231.7h0M208.3 225.6h0M241.2 246.3h0M259.5 238.5h0M242.9 242.9h0M355.2 211.0h0M360.6 234.8h0M332.8 229.7h0M351.3 188.9h0M101.5 196.1h0M121.5 236.4h0M111.2 183.4h0M136.5 232.0h0M163.3 202.0h0M113.6 248.8h0M84.3 204.8h0M164.4 239.0h0M98.4 188.8h0M125.2 184.2h0M96.0 240.3h0M88.2 214.2h0M116.6 209.3h0M123.1 222.1h0M136.0 185.8h0M76.3 225.6h0M86.3 198.5h0M130.7 189.9h0M66.6 206.1h0M136.2 250.5h0M94.9 213.8h0M83.2 222.2h0M86.8 155.1h0M101.5 165.0h0M122.5 173.3h0M98.0 155.3h0M110.4 174.7h0M93.4 154.2h0M102.2 156.9h0M127.5 145.5h0M85.9 170.4h0M103.8 155.4h0M82.4 159.0h0M114.7 174.8h0M80.2 152.6h0M92.2 171.5h0M120.9 180.8h0M123.1 150.5h0M92.5 148.6h0M116.8 101.1h0M155.3 122.7h0M163.5 121.2h0M148.6 129.9h0M133.1 105.6h0M149.0 107.0h0M164.4 100.7h0M107.8 107.2h0M155.2 98.1h0" stroke="#d62728" stroke-width="3.60" stroke-linecap="round" fill="none"/>
<path d="M170.7 92.1h0M79.2 130.0h0M83.3 159.1h0M141.6 140.2h0M147.4 127.8h0M143.0 121.2h0M116.8 167.1h0M120.5 171.5h0M109.5 161.3h0M144.5 174.4h0M149.6 171.5h0M93.5 181.7h0M169.6 163.5h0M181.2 175.2h0M171.0 186.8h0M203.8 148.2h0M265.8 181.7h0M380.5 135.8h0M337.5 175.9h0M320.0 184.6h0M327.3 186.1h0M271.9 184.6h0M99.3 192.4h0M119.7 196.7h0M89.1 204.0h0M94.9 198.9h0M135.8 201.8h0M58.5 215.7h0M76.7 215.0h0M94.9 218.6h0M131.4 208.4h0M52.7 224.4h0M86.2 223.0h0M109.5 223.0h0M129.9 220.1h0M135.8 223.0h0M146.0 215.7h0M67.2 227.4h0M86.2 239.0h0M118.3 241.9h0M134.3 234.6h0M153.3 231.7h0M54.1 241.9h0M60.7 243.4h0M94.9 242.7h0M151.8 252.1h0M103.7 254.3h0M131.4 255.8h0M140.1 256.5h0M129.9 263.1h0M175.4 190.9h0M212.6 201.8h0M225.0 202.6h0M264.3 190.9h0M192.2 204.0h0M182.0 215.7h0M201.6 219.3h0M236.6 215.0h0M246.1 210.6h0M261.4 207.7h0M255.6 220.1h0M260.0 216.4h0M175.4 225.2h0M188.5 230.3h0M201.6 236.8h0M210.4 228.1h0M220.6 233.2h0M238.1 231.7h0M243.9 228.1h0M262.9 225.9h0M254.1 234.6h0M257.0 237.6h0M267.3 233.2h0M157.9 243.4h0M174.0 236.1h0M204.6 242.7h0M214.8 239.8h0M225.0 241.2h0M236.6 240.5h0M249.8 241.9h0M261.4 243.4h0M233.7 250.7h0M223.5 249.2h0M208.9 250.7h0M197.3 253.6h0M214.8 255.1h0M166.7 252.1h0M165.2 255.1h0M174.0 252.1h0M267.3 250.7h0M315.6 193.8h0M328.8 196.7h0M331.7 204.0h0M324.4 201.1h0M344.8 204.0h0M347.7 208.4h0M359.4 196.7h0M360.8 202.6h0M368.1 199.7h0M362.3 214.2h0M365.2 218.6h0M376.9 211.3h0M379.8 218.6h0M371.0 221.5h0M336.1 215.7h0M333.1 221.5h0M336.1 225.9h0M344.8 227.4h0M353.6 225.9h0M359.4 227.4h0M331.7 234.6h0M333.1 238.3h0M344.8 234.6h0M353.6 236.1h0M305.4 220.1h0M304.0 212.8h0M318.6 217.2h0M317.1 225.9h0M325.9 227.4h0M315.6 212.8h0M290.1 210.6h0M285.0 215.7h0M277.7 217.2h0M271.9 217.2h0M294.5 237.6h0M271.9 242.7h0M283.6 241.9h0M220.1 250.1h0M257.3 250.6h0M249.7 219.6h0M219.8 250.9h0M222.2 251.4h0M266.1 224.0h0M228.2 237.7h0M272.2 241.2h0M258.7 247.5h0M264.3 247.8h0M203.8 241.7h0M237.5 238.3h0M259.6 236.0h0M261.8 245.9h0M269.2 242.0h0M231.5 240.3h0M234.3 251.4h0M203.1 245.5h0M234.4 223.9h0M233.0 251.1h0M247.0 240.7h0M231.4 237.7h0M248.5 224.4h0M234.4 219.4h0M210.8 232.0h0M266.2 222.7h0M268.6 246.4h0M329.8 199.6h0M316.0 208.5h0M321.5 218.1h0M372.5 200.3h0M345.8 220.3h0M375.4 209.6h0M376.5 206.1h0M360.9 229.1h0M361.4 231.7h0M325.3 216.9h0M333.0 207.3h0M354.9 236.2h0M333.9 215.4h0M330.5 195.0h0M334.3 200.4h0M332.9 201.1h0M320.0 228.0h0M320.1 218.7h0M347.1 214.8h0M328.1 189.0h0M333.9 207.0h0M356.8 187.0h0M122.4 250.3h0M84.5 237.0h0M139.4 245.3h0M99.7 184.7h0M83.4 192.0h0M91.0 244.8h0M159.3 215.1h0M150.3 245.8h0M115.8 227.1h0M118.7 246.3h0M60.4 220.3h0M149.2 247.7h0M103.8 199.3h0M73.1 207.1h0M163.4 219.7h0M113.3 161.0h0M108.1 154.1h0M124.7 175.1h0M131.2 177.2h0M93.9 161.2h0M107.3 156.0h0M94.5 170.0h0" stroke="#1f77b4" stroke-width="3.60" stroke-linecap="round" fill="none"/>
<path d="M159.4 92.3h0M71.9 146.7h0M98.6 157.7h0M65.8 178.8h0" stroke="#d62728" stroke-width="3.60" stroke-linecap="round" fill="none" stroke-opacity="0.60"/>
<path d="M86.9 263.8h0M225.0 217.2h0M339.0 233.2h0M318.6 232.5h0" stroke="#1f77b4" stroke-width="3.60" stroke-linecap="round" fill="none" stroke-opacity="0.50"/>
<path d="M203.1 196.0h0M363.8 239.0h0" stroke="#1f77b4" stroke-width="3.60" stroke-linecap="round" fill="none" stroke-opacity="0.60"/>
<path d="M197.3 231.7h0" stroke="#d62728" stroke-width="3.60" stroke-linecap="round" fill="none" stroke-opacity="0.50"/>
<path d="M211.8 232.7h0M264.9 227.2h0M216.1 242.0h0M259.1 249.1h0M328.4 207.3h0M347.9 230.5h0M332.4 231.4h0M375.2 203.0h0M331.4 228.8h0M352.2 214.5h0M76.5 205.5h0M99.0 233.1h0M172.2 218.5h0M115.4 177.1h0M120.4 158.3h0" stroke="#1f77b4" stroke-width="3.60" stroke-linecap="round" fill="none" stroke-opacity="0.70"/>
<path d="M125.4 228.6h0M71.7 203.3h0M119.1 234.4h0M131.9 189.8h0M69.8 235.1h0M111.7 163.8h0M124.4 157.1h0M105.2 165.7h0M140.4 174.5h0M135.7 129.2h0M136.6 125.1h0M128.9 117.8h0M111.8 110.4h0M157.1 107.6h0M124.5 108.9h0M115.7 124.9h0" stroke="#d62728" stroke-width="3.60" stroke-linecap="round" fill="none" stroke-opacity="0.70"/>
<line x1="49.65" y1="18.0" x2="49.65" y2="273.2" stroke="#000" stroke-width="1.4" stroke-dasharray="1.3 2.5"/>
<line x1="288.15" y1="18.0" x2="288.15" y2="273.2" stroke="#000" stroke-width="1.4" stroke-dasharray="1.3 2.5"/>
<line x1="192.75" y1="18.0" x2="192.75" y2="273.2" stroke="#1f77b4" stroke-width="1.4"/>
</svg>
<rect x="41.50" y="18.00" width="342.00" height="255.20" fill="none" stroke="#000" stroke-width="1.0"/>
<line x1="38.00" y1="258.90" x2="41.50" y2="258.90" stroke="#000" stroke-width="1"/>
<text x="34.50" y="262.50" font-size="10.1" text-anchor="end" textLength="17.25" lengthAdjust="spacingAndGlyphs">100</text>
<line x1="38.00" y1="230.59" x2="41.50" y2="230.59" stroke="#000" stroke-width="1"/>
<text x="34.50" y="234.19" font-size="10.1" text-anchor="end" textLength="17.25" lengthAdjust="spacingAndGlyphs">200</text>
<line x1="38.00" y1="202.27" x2="41.50" y2="202.27" stroke="#000" stroke-width="1"/>
<text x="34.50" y="205.87" font-size="10.1" text-anchor="end" textLength="17.25" lengthAdjust="spacingAndGlyphs">300</text>
<line x1="38.00" y1="173.96" x2="41.50" y2="173.96" stroke="#000" stroke-width="1"/>
<text x="34.50" y="177.56" font-size="10.1" text-anchor="end" textLength="17.25" lengthAdjust="spacingAndGlyphs">400</text>
<line x1="38.00" y1="145.65" x2="41.50" y2="145.65" stroke="#000" stroke-width="1"/>
<text x="34.50" y="149.25" font-size="10.1" text-anchor="end" textLength="17.25" lengthAdjust="spacingAndGlyphs">500</text>
<line x1="38.00" y1="117.34" x2="41.50" y2="117.34" stroke="#000" stroke-width="1"/>
<text x="34.50" y="120.94" font-size="10.1" text-anchor="end" textLength="17.25" lengthAdjust="spacingAndGlyphs">600</text>
<line x1="38.00" y1="89.03" x2="41.50" y2="89.03" stroke="#000" stroke-width="1"/>
<text x="34.50" y="92.62" font-size="10.1" text-anchor="end" textLength="17.25" lengthAdjust="spacingAndGlyphs">700</text>
<line x1="38.00" y1="60.71" x2="41.50" y2="60.71" stroke="#000" stroke-width="1"/>
<text x="34.50" y="64.31" font-size="10.1" text-anchor="end" textLength="17.25" lengthAdjust="spacingAndGlyphs">800</text>
<line x1="38.00" y1="32.40" x2="41.50" y2="32.40" stroke="#000" stroke-width="1"/>
<text x="34.50" y="36.00" font-size="10.1" text-anchor="end" textLength="17.25" lengthAdjust="spacingAndGlyphs">900</text>
<line x1="57.60" y1="273.20" x2="57.60" y2="276.70" stroke="#000" stroke-width="1"/>
<text x="57.60" y="287.00" font-size="10.1" text-anchor="middle" textLength="17.25" lengthAdjust="spacingAndGlyphs">250</text>
<line x1="97.35" y1="273.20" x2="97.35" y2="276.70" stroke="#000" stroke-width="1"/>
<text x="97.35" y="287.00" font-size="10.1" text-anchor="middle" textLength="17.25" lengthAdjust="spacingAndGlyphs">500</text>
<line x1="137.10" y1="273.20" x2="137.10" y2="276.70" stroke="#000" stroke-width="1"/>
<text x="137.10" y="287.00" font-size="10.1" text-anchor="middle" textLength="17.25" lengthAdjust="spacingAndGlyphs">750</text>
<line x1="176.85" y1="273.20" x2="176.85" y2="276.70" stroke="#000" stroke-width="1"/>
<text x="176.85" y="287.00" font-size="10.1" text-anchor="middle" textLength="23.20" lengthAdjust="spacingAndGlyphs">1000</text>
<line x1="216.60" y1="273.20" x2="216.60" y2="276.70" stroke="#000" stroke-width="1"/>
<text x="216.60" y="287.00" font-size="10.1" text-anchor="middle" textLength="23.20" lengthAdjust="spacingAndGlyphs">1250</text>
<line x1="256.35" y1="273.20" x2="256.35" y2="276.70" stroke="#000" stroke-width="1"/>
<text x="256.35" y="287.00" font-size="10.1" text-anchor="middle" textLength="23.20" lengthAdjust="spacingAndGlyphs">1500</text>
<line x1="296.10" y1="273.20" x2="296.10" y2="276.70" stroke="#000" stroke-width="1"/>
<text x="296.10" y="287.00" font-size="10.1" text-anchor="middle" textLength="23.20" lengthAdjust="spacingAndGlyphs">1750</text>
<line x1="335.85" y1="273.20" x2="335.85" y2="276.70" stroke="#000" stroke-width="1"/>
<text x="335.85" y="287.00" font-size="10.1" text-anchor="middle" textLength="23.20" lengthAdjust="spacingAndGlyphs">2000</text>
<line x1="375.60" y1="273.20" x2="375.60" y2="276.70" stroke="#000" stroke-width="1"/>
<text x="375.60" y="287.00" font-size="10.1" text-anchor="middle" textLength="23.20" lengthAdjust="spacingAndGlyphs">2250</text>
<text x="212.50" y="12.40" font-size="15.5" text-anchor="middle" textLength="137.80" lengthAdjust="spacingAndGlyphs">65 to 75 years old</text>
<text x="212.50" y="302.90" font-size="13.6" text-anchor="middle" textLength="38.60" lengthAdjust="spacingAndGlyphs">Abeta</text>
<text x="9.80" y="144.60" font-size="13.8" text-anchor="middle" textLength="24.60" lengthAdjust="spacingAndGlyphs" transform="rotate(-90 9.80 144.60)">Tau</text>
<rect x="262.50" y="24.70" width="114.50" height="43.20" rx="2" ry="2" fill="#fff" fill-opacity="0.8" stroke="#cccccc" stroke-width="1"/>
<circle cx="281.70" cy="36.10" r="3.4" fill="#1f77b4"/>
<circle cx="281.70" cy="55.60" r="3.4" fill="#d62728"/>
<text x="306.30" y="40.30" font-size="12.8" text-anchor="start" textLength="64.50" lengthAdjust="spacingAndGlyphs">no APOE4</text>
<text x="306.30" y="60.00" font-size="12.8" text-anchor="start" textLength="44.00" lengthAdjust="spacingAndGlyphs">APOE4</text>
<svg x="435.5" y="18.0" width="342.0" height="255.2" viewBox="435.5 18.0 342.0 255.2" overflow="hidden">
<path class="c1" d="M475.1 50.1l-9.3-12.3M475.1 50.1l-11.4-17.2M475.1 50.1l-7.4-12.7M475.1 50.1l-6.9-13.9M475.1 50.1l-8.0-19.0M475.1 50.1l-4.8-13.8M475.1 50.1l-4.2-15.0" opacity="0.70"/>
<path class="c6" d="M607.6 58.5l-27.7-11.8M607.6 58.5l-19.5-9.4M607.6 58.5l-19.7-10.6M607.6 58.5l-25.8-15.5M607.6 58.5l-17.9-12.0"/>
<path class="c6" d="M542.5 65.0l-19.1-12.2M542.5 65.0l-15.9-11.4M542.5 65.0l-12.1-9.6M542.5 65.0l-17.1-15.0M542.5 65.0l-14.0-13.6M542.5 65.0l-10.5-11.3"/>
<path class="c6" d="M553.1 89.5l-16.2-6.6M553.1 89.5l-19.0-9.2M553.1 89.5l-22.3-12.6M553.1 89.5l-14.6-9.5M553.1 89.5l-17.0-12.7M553.1 89.5l-19.5-16.5M553.1 89.5l-12.5-12.0"/>
<path class="c1" d="M550.9 79.7l-15.1-10.3M550.9 79.7l-13.3-10.3M550.9 79.7l-17.9-15.8M550.9 79.7l-12.9-12.8M550.9 79.7l-11.2-12.7M550.9 79.7l-14.7-18.9"/>
<path class="c6" d="M556.4 78.6l-15.0-10.4M556.4 78.6l-21.3-16.4M556.4 78.6l-17.8-15.2M556.4 78.6l-13.3-12.5M556.4 78.6l-18.7-19.4M556.4 78.6l-15.3-17.6" opacity="0.70"/>
<path class="c7" d="M458.6 102.6l-6.0-11.1M458.6 102.6l-6.2-13.5M458.6 102.6l-4.3-11.2M458.6 102.6l-4.2-13.9"/>
<path class="c12" d="M475.9 104.8l-9.1-11.8M475.9 104.8l-9.7-14.7M475.9 104.8l-7.1-12.3M475.9 104.8l-7.5-15.5"/>
<path class="c12" d="M506.7 98.9l-9.1-10.4M506.7 98.9l-9.9-12.9M506.7 98.9l-7.3-10.9M506.7 98.9l-7.9-13.8" opacity="0.50"/>
<path class="c12" d="M528.6 97.6l-12.3-9.8M528.6 97.6l-13.7-12.5M528.6 97.6l-10.3-10.8M528.6 97.6l-11.6-13.9"/>
<path class="c6" d="M552.6 104.8l-11.1-6.9M552.6 104.8l-12.4-8.6M552.6 104.8l-15.0-11.5M552.6 104.8l-9.9-8.4M552.6 104.8l-11.0-10.4M552.6 104.8l-13.1-13.6"/>
<path class="c6" d="M553.1 112.5l-11.1-7.1M553.1 112.5l-13.0-9.3M553.1 112.5l-15.1-11.9M553.1 112.5l-9.9-8.6M553.1 112.5l-11.5-11.1M553.1 112.5l-13.1-14.0"/>
<path class="c4" d="M494.0 115.8l-5.3-10.1M494.0 115.8l-5.4-12.3M494.0 115.8l-3.7-10.2M494.0 115.8l-3.6-12.6" opacity="0.40"/>
<path class="c7" d="M473.3 131.7l-8.8-8.9M473.3 131.7l-9.2-10.8M473.3 131.7l-7.6-10.4M473.3 131.7l-7.3-11.8M473.3 131.7l-6.1-11.6"/>
<path class="c3" d="M482.0 130.0l-11.7-15.0M482.0 130.0l-7.6-11.3M482.0 130.0l-7.1-12.4M482.0 130.0l-8.3-17.2M482.0 130.0l-5.0-12.7M482.0 130.0l-4.3-13.6M482.0 130.0l-4.4-18.5M482.0 130.0l-2.2-13.4"/>
<path class="c7" d="M484.2 124.5l-9.1-10.4M484.2 124.5l-9.3-12.5M484.2 124.5l-7.6-11.9M484.2 124.5l-7.2-13.5M484.2 124.5l-5.8-13.2"/>
<path class="c12" d="M513.7 125.2l-11.6-10.1M513.7 125.2l-12.9-12.8M513.7 125.2l-9.7-11.0M513.7 125.2l-10.8-14.1"/>
<path class="c1" d="M541.7 133.9l-18.2-21.2M541.7 133.9l-15.8-20.8M541.7 133.9l-10.6-16.0M541.7 133.9l-14.0-24.3M541.7 133.9l-11.6-23.3M541.7 133.9l-7.4-17.7M541.7 133.9l-9.2-26.5"/>
<path class="c12" d="M546.5 123.9l-11.5-8.8M546.5 123.9l-12.9-11.3M546.5 123.9l-9.8-9.8M546.5 123.9l-11.0-12.6"/>
<path class="c6" d="M585.9 116.4l-19.3-8.1M585.9 116.4l-14.2-7.0M585.9 116.4l-12.9-7.4M585.9 116.4l-17.5-11.6M585.9 116.4l-12.6-9.5M585.9 116.4l-11.3-9.7M585.9 116.4l-15.0-14.6" opacity="0.70"/>
<path class="c1" d="M564.0 139.8l-16.9-9.4M564.0 139.8l-13.3-8.5M564.0 139.8l-10.7-7.8M564.0 139.8l-14.8-12.4M564.0 139.8l-11.4-10.8M564.0 139.8l-9.0-9.7M564.0 139.8l-12.3-14.9" opacity="0.60"/>
<path class="c6" d="M577.1 137.0l-11.2-5.4M577.1 137.0l-15.9-9.0M577.1 137.0l-13.6-8.8M577.1 137.0l-10.0-7.4M577.1 137.0l-14.0-11.8M577.1 137.0l-11.6-11.2M577.1 137.0l-8.4-9.2"/>
<path class="c7" d="M594.2 149.2l-11.6-8.5M594.2 149.2l-12.3-10.6M594.2 149.2l-10.4-10.4M594.2 149.2l-10.4-12.1M594.2 149.2l-8.9-12.1"/>
<path class="c7" d="M574.9 142.0l-9.5-6.1M574.9 142.0l-10.2-7.6M574.9 142.0l-8.6-7.6M574.9 142.0l-8.7-8.9M574.9 142.0l-7.6-9.0"/>
<path class="c3" d="M513.7 143.1l-10.2-7.4M513.7 143.1l-14.1-11.8M513.7 143.1l-12.4-12.0M513.7 143.1l-8.4-9.4M513.7 143.1l-11.3-14.6M513.7 143.1l-9.5-14.3M513.7 143.1l-6.2-11.0M513.7 143.1l-8.0-16.7"/>
<path class="c3" d="M523.6 148.6l-15.0-13.0M523.6 148.6l-10.3-10.3M523.6 148.6l-9.5-11.0M523.6 148.6l-11.9-15.9M523.6 148.6l-7.8-12.2M523.6 148.6l-7.0-12.8M523.6 148.6l-8.2-18.1M523.6 148.6l-5.0-13.5"/>
<path class="c7" d="M529.0 144.2l-9.8-8.1M529.0 144.2l-10.3-10.0M529.0 144.2l-8.6-9.7M529.0 144.2l-8.6-11.2M529.0 144.2l-7.2-11.1"/>
<path class="c12" d="M518.1 151.8l-9.6-7.1M518.1 151.8l-10.3-8.8M518.1 151.8l-8.6-8.6M518.1 151.8l-8.6-10.1M518.1 151.8l-7.4-10.0"/>
<path class="c12" d="M491.4 153.6l-8.0-9.4M491.4 153.6l-8.6-11.7M491.4 153.6l-6.3-9.9M491.4 153.6l-6.8-12.5"/>
<path class="c12" d="M505.0 154.0l-7.3-8.8M505.0 154.0l-7.9-11.0M505.0 154.0l-5.7-9.3M505.0 154.0l-6.2-11.6"/>
<path class="c7" d="M466.7 157.3l-5.6-8.8M466.7 157.3l-5.6-10.4M466.7 157.3l-4.3-9.7M466.7 157.3l-3.9-10.9M466.7 157.3l-2.9-10.5"/>
<path class="c11" d="M464.5 151.8l-2.5-4.0M464.5 151.8l-2.7-4.9M464.5 151.8l-1.9-4.1M464.5 151.8l-1.9-5.1"/>
<path class="c7" d="M482.0 162.8l-6.5-7.6M482.0 162.8l-6.7-9.1M482.0 162.8l-5.4-8.6M482.0 162.8l-5.1-9.8M482.0 162.8l-4.1-9.6"/>
<path class="c12" d="M518.1 156.2l-7.2-7.8M518.1 156.2l-7.8-9.7M518.1 156.2l-5.8-8.3M518.1 156.2l-6.3-10.4"/>
<path class="c7" d="M518.1 160.6l-8.2-11.6M518.1 160.6l-8.2-13.8M518.1 160.6l-6.5-13.0M518.1 160.6l-6.0-14.6M518.1 160.6l-4.6-14.1"/>
<path class="c12" d="M546.1 154.0l-11.2-9.5M546.1 154.0l-12.4-12.1M546.1 154.0l-9.3-10.4M546.1 154.0l-10.4-13.3"/>
<path class="c12" d="M543.2 161.7l-12.5-8.3M543.2 161.7l-14.1-10.8M543.2 161.7l-10.8-9.4M543.2 161.7l-12.3-12.3"/>
<path class="c12" d="M561.8 162.8l-9.3-7.6M561.8 162.8l-10.3-9.7M561.8 162.8l-7.8-8.3M561.8 162.8l-8.7-10.7"/>
<path class="c7" d="M566.2 149.7l-9.3-5.0M566.2 149.7l-10.1-6.4M566.2 149.7l-8.6-6.5M566.2 149.7l-8.8-7.7M566.2 149.7l-7.7-7.9"/>
<path class="c7" d="M573.9 168.2l-11.1-10.1M573.9 168.2l-11.7-12.3M573.9 168.2l-9.7-11.9M573.9 168.2l-9.6-13.6M573.9 168.2l-8.0-13.5"/>
<path class="c12" d="M592.4 168.2l-9.2-6.5M592.4 168.2l-10.3-8.4M592.4 168.2l-7.8-7.3M592.4 168.2l-8.9-9.5"/>
<path class="c12" d="M585.9 162.8l-11.4-7.4M585.9 162.8l-12.8-9.6M585.9 162.8l-9.8-8.4M585.9 162.8l-11.2-10.9"/>
<path class="c12" d="M603.4 169.3l-11.2-5.3M603.4 169.3l-12.7-7.1M603.4 169.3l-9.9-6.4M603.4 169.3l-11.4-8.5"/>
<path class="c10" d="M459.1 170.4l-5.0-4.6M459.1 170.4l-5.2-5.6M459.1 170.4l-4.3-5.4M459.1 170.4l-4.2-6.2M459.1 170.4l-3.5-6.1"/>
<path class="c10" d="M470.0 175.9l-4.8-3.6M470.0 175.9l-5.1-4.4M470.0 175.9l-4.3-4.3M470.0 175.9l-4.3-5.0M470.0 175.9l-3.7-5.0"/>
<path class="c3" d="M491.9 171.5l-5.4-5.4M491.9 171.5l-5.4-6.3M491.9 171.5l-5.0-6.9M491.9 171.5l-3.9-6.4M491.9 171.5l-4.1-8.1M491.9 171.5l-2.8-6.8"/>
<path class="c12" d="M488.6 175.9l-6.1-7.9M488.6 175.9l-6.6-9.8M488.6 175.9l-4.8-8.2M488.6 175.9l-5.1-10.3"/>
<path class="c7" d="M496.2 175.9l-7.2-5.3M496.2 175.9l-7.7-6.6M496.2 175.9l-6.5-6.5M496.2 175.9l-6.5-7.5M496.2 175.9l-5.6-7.5"/>
<path class="c12" d="M500.6 175.9l-6.9-5.7M500.6 175.9l-7.7-7.2M500.6 175.9l-5.8-6.3M500.6 175.9l-6.5-8.0"/>
<path class="c7" d="M509.3 171.5l-7.5-7.4M509.3 171.5l-7.9-9.0M509.3 171.5l-6.5-8.6M509.3 171.5l-6.3-9.9M509.3 171.5l-5.2-9.7"/>
<path class="c7" d="M522.5 173.7l-7.2-5.3M522.5 173.7l-7.7-6.6M522.5 173.7l-6.5-6.5M522.5 173.7l-6.5-7.5M522.5 173.7l-5.6-7.5"/>
<path class="c12" d="M531.2 178.1l-7.2-7.8M531.2 178.1l-7.8-9.7M531.2 178.1l-5.8-8.3M531.2 178.1l-6.3-10.4"/>
<path class="c12" d="M548.7 169.3l-6.9-5.7M548.7 169.3l-7.7-7.2M548.7 169.3l-5.8-6.3M548.7 169.3l-6.5-8.0"/>
<path class="c12" d="M566.2 171.5l-6.9-5.7M566.2 171.5l-7.7-7.2M566.2 171.5l-5.8-6.3M566.2 171.5l-6.5-8.0"/>
<path class="c11" d="M588.1 178.1l-4.6-3.8M588.1 178.1l-5.2-4.8M588.1 178.1l-3.9-4.2M588.1 178.1l-4.4-5.3"/>
<path class="c11" d="M592.4 179.2l-4.5-2.7M592.4 179.2l-5.1-3.6M592.4 179.2l-3.9-3.2M592.4 179.2l-4.5-4.1"/>
<path class="c11" d="M455.8 184.6l-3.6-3.9M455.8 184.6l-3.9-4.9M455.8 184.6l-2.9-4.1M455.8 184.6l-3.2-5.2"/>
<path class="c11" d="M476.5 184.6l-4.6-3.8M476.5 184.6l-5.2-4.8M476.5 184.6l-3.9-4.2M476.5 184.6l-4.4-5.3"/>
<path class="c12" d="M540.0 184.6l-6.9-5.7M540.0 184.6l-7.7-7.2M540.0 184.6l-5.8-6.3M540.0 184.6l-6.5-8.0"/>
<path class="c6" d="M720.8 149.7l-14.4-4.0M720.8 149.7l-17.5-5.9M720.8 149.7l-20.5-8.0M720.8 149.7l-13.6-6.1M720.8 149.7l-16.5-8.5M720.8 149.7l-19.0-11.0"/>
<path class="c6" d="M733.9 156.2l-24.0-7.9M733.9 156.2l-16.4-6.4M733.9 156.2l-18.0-8.0M733.9 156.2l-22.5-11.4M733.9 156.2l-15.2-8.7M733.9 156.2l-16.7-10.7"/>
<path class="c7" d="M735.0 161.0l-7.6-7.8M735.0 161.0l-7.9-9.5M735.0 161.0l-6.5-9.1M735.0 161.0l-6.3-10.3M735.0 161.0l-5.2-10.2"/>
<path class="c6" d="M730.6 165.4l-18.1-5.5M730.6 165.4l-15.8-5.9M730.6 165.4l-11.7-5.3M730.6 165.4l-16.7-8.8M730.6 165.4l-14.4-8.7M730.6 165.4l-10.6-7.4M730.6 165.4l-14.8-11.8"/>
<path class="c12" d="M714.2 168.2l-10.2-6.4M714.2 168.2l-11.5-8.4M714.2 168.2l-8.8-7.4M714.2 168.2l-10.1-9.6" opacity="0.60"/>
<path class="c12" d="M763.4 172.0l-13.3-5.5M763.4 172.0l-15.2-7.5M763.4 172.0l-11.9-6.9M763.4 172.0l-13.8-9.2"/>
<path class="c12" d="M763.4 179.8l-9.0-5.0M763.4 179.8l-10.2-6.7M763.4 179.8l-7.9-5.9M763.4 179.8l-9.0-7.8"/>
<path class="c12" d="M739.4 183.5l-11.2-5.3M739.4 183.5l-12.7-7.1M739.4 183.5l-9.9-6.4M739.4 183.5l-11.4-8.5"/>
<path class="c3" d="M674.2 161.7l-11.6-7.4M674.2 161.7l-11.9-9.0M674.2 161.7l-11.5-10.2M674.2 161.7l-9.3-9.7M674.2 161.7l-10.4-12.6M674.2 161.7l-7.5-10.8"/>
<path class="c3" d="M651.9 169.3l-14.3-6.8M651.9 169.3l-14.9-8.6M651.9 169.3l-14.6-10.0M651.9 169.3l-12.0-9.8M651.9 169.3l-13.6-13.0M651.9 169.3l-10.1-11.4"/>
<path class="c6" d="M668.3 171.5l-17.9-9.0M668.3 171.5l-14.7-8.6M668.3 171.5l-11.3-7.6M668.3 171.5l-15.9-12.2M668.3 171.5l-12.8-11.2M668.3 171.5l-9.7-9.6M668.3 171.5l-13.4-15.0"/>
<path class="c12" d="M666.1 180.7l-9.0-4.8M666.1 180.7l-10.2-6.4M666.1 180.7l-7.9-5.7M666.1 180.7l-9.0-7.5"/>
<path class="c12" d="M683.6 182.5l-8.0-5.6M683.6 182.5l-9.0-7.2M683.6 182.5l-6.9-6.3M683.6 182.5l-7.8-8.1"/>
<path class="c12" d="M636.6 176.3l-13.7-5.8M636.6 176.3l-15.0-7.7M636.6 176.3l-13.0-8.0M636.6 176.3l-13.4-9.7M636.6 176.3l-11.9-10.1"/>
<path class="c12" d="M615.8 170.4l-9.1-5.5M615.8 170.4l-10.2-7.2M615.8 170.4l-7.9-6.3M615.8 170.4l-9.0-8.3"/>
<path class="c10" d="M616.9 185.7l-4.7-2.5M616.9 185.7l-5.0-3.2M616.9 185.7l-4.3-3.2M616.9 185.7l-4.4-3.9M616.9 185.7l-3.9-3.9"/>
<path class="c10" d="M656.3 185.7l-6.7-2.2M656.3 185.7l-7.4-3.0M656.3 185.7l-6.5-3.2M656.3 185.7l-6.7-4.0M656.3 185.7l-6.1-4.3"/>
<path class="c7" d="M621.3 189.3l-8.2-4.7M621.3 189.3l-8.8-6.0M621.3 189.3l-7.6-6.0M621.3 189.3l-7.7-7.2M621.3 189.3l-6.7-7.3"/>
<path class="c12" d="M615.8 200.2l-6.8-4.2M615.8 200.2l-7.7-5.5M615.8 200.2l-5.9-4.8M615.8 200.2l-6.7-6.3"/>
<path class="c12" d="M633.3 198.5l-6.8-4.6M633.3 198.5l-7.7-6.0M633.3 198.5l-5.9-5.2M633.3 198.5l-6.7-6.8"/>
<path class="c12" d="M635.5 206.8l-7.8-3.5M635.5 206.8l-8.9-4.7M635.5 206.8l-6.9-4.3M635.5 206.8l-8.0-5.7"/>
<path class="c12" d="M615.8 211.6l-7.8-3.5M615.8 211.6l-8.9-4.7M615.8 211.6l-6.9-4.3M615.8 211.6l-8.0-5.7"/>
<path class="c12" d="M616.9 218.2l-9.0-2.9M616.9 218.2l-9.9-4.1M616.9 218.2l-8.6-4.3M616.9 218.2l-9.0-5.4M616.9 218.2l-8.1-5.7"/>
<path class="c12" d="M614.7 220.3l-9.0-2.9M614.7 220.3l-9.9-4.1M614.7 220.3l-8.6-4.3M614.7 220.3l-9.0-5.4M614.7 220.3l-8.1-5.7"/>
<path class="c12" d="M653.0 204.6l-6.8-4.2M653.0 204.6l-7.7-5.5M653.0 204.6l-5.9-4.8M653.0 204.6l-6.7-6.3"/>
<path class="c12" d="M660.7 203.3l-7.8-3.9M660.7 203.3l-8.9-5.2M660.7 203.3l-6.9-4.7M660.7 203.3l-8.0-6.2"/>
<path class="c12" d="M669.4 214.2l-7.8-3.9M669.4 214.2l-8.9-5.2M669.4 214.2l-6.9-4.7M669.4 214.2l-8.0-6.2"/>
<path class="c12" d="M679.3 212.7l-6.7-3.6M679.3 212.7l-7.7-4.7M679.3 212.7l-5.9-4.2M679.3 212.7l-6.8-5.6"/>
<path class="c12" d="M647.5 223.0l-9.4-5.4M647.5 223.0l-10.1-6.9M647.5 223.0l-8.6-6.9M647.5 223.0l-8.8-8.2M647.5 223.0l-7.7-8.3"/>
<path class="c11" d="M634.4 222.5l-4.5-2.7M634.4 222.5l-5.1-3.6M634.4 222.5l-3.9-3.2M634.4 222.5l-4.5-4.1"/>
<path class="c12" d="M634.4 228.0l-6.7-3.6M634.4 228.0l-7.7-4.7M634.4 228.0l-5.9-4.2M634.4 228.0l-6.8-5.6"/>
<path class="c11" d="M641.0 234.6l-6.6-2.5M641.0 234.6l-7.6-3.5M641.0 234.6l-5.9-3.2M641.0 234.6l-6.9-4.4"/>
<path class="c12" d="M646.5 235.7l-7.7-2.4M646.5 235.7l-8.9-3.5M646.5 235.7l-7.0-3.3M646.5 235.7l-8.1-4.5"/>
<path class="c11" d="M625.7 230.2l-5.6-2.6M625.7 230.2l-6.4-3.5M625.7 230.2l-4.9-3.2M625.7 230.2l-5.7-4.2"/>
<path class="c11" d="M619.1 237.8l-6.6-2.5M619.1 237.8l-7.6-3.5M619.1 237.8l-5.9-3.2M619.1 237.8l-6.9-4.4"/>
<path class="c12" d="M667.2 229.1l-9.1-5.5M667.2 229.1l-10.2-7.2M667.2 229.1l-7.9-6.3M667.2 229.1l-9.0-8.3"/>
<path class="c12" d="M671.6 228.7l-8.8-2.9M671.6 228.7l-10.1-4.2M671.6 228.7l-7.9-3.9M671.6 228.7l-9.3-5.3"/>
<path class="c11" d="M655.2 241.8l-3.3-1.4M655.2 241.8l-3.8-1.9M655.2 241.8l-3.0-1.7M655.2 241.8l-3.4-2.3" opacity="0.50"/>
<path class="c11" d="M669.4 238.9l-6.6-2.5M669.4 238.9l-7.6-3.5M669.4 238.9l-5.9-3.2M669.4 238.9l-6.9-4.4" opacity="0.60"/>
<path class="c13" d="M671.6 240.0l-3.3-0.7M671.6 240.0l-3.8-1.1M671.6 240.0l-3.0-1.1M671.6 240.0l-3.5-1.6" opacity="0.50"/>
<path class="c13" d="M612.6 242.2l-3.3-0.6M612.6 242.2l-3.7-0.9M612.6 242.2l-3.2-1.1M612.6 242.2l-3.4-1.4M612.6 242.2l-3.1-1.6"/>
<path class="c10" d="M681.4 221.4l-4.8-3.6M681.4 221.4l-5.1-4.4M681.4 221.4l-4.3-4.3M681.4 221.4l-4.3-5.0M681.4 221.4l-3.7-5.0" opacity="0.70"/>
<path class="c10" d="M668.3 199.6l-3.6-3.9M668.3 199.6l-3.9-4.9M668.3 199.6l-2.9-4.1M668.3 199.6l-3.2-5.2" opacity="0.40"/>
<path class="c11" d="M689.1 218.2l-5.6-2.6M689.1 218.2l-6.4-3.5M689.1 218.2l-4.9-3.2M689.1 218.2l-5.7-4.2"/>
<path class="c11" d="M695.7 222.5l-4.5-2.7M695.7 222.5l-5.1-3.6M695.7 222.5l-3.9-3.2M695.7 222.5l-4.5-4.1"/>
<path class="c12" d="M705.5 207.7l-8.8-3.4M705.5 207.7l-10.2-4.7M705.5 207.7l-7.9-4.3M705.5 207.7l-9.2-5.8"/>
<path class="c12" d="M712.1 188.6l-6.7-3.6M712.1 188.6l-7.7-4.7M712.1 188.6l-5.9-4.2M712.1 188.6l-6.8-5.6" opacity="0.60"/>
<path class="c12" d="M720.8 198.5l-7.9-4.5M720.8 198.5l-8.9-6.0M720.8 198.5l-6.9-5.3M720.8 198.5l-7.9-6.9"/>
<path class="c12" d="M725.2 203.9l-8.9-4.4M725.2 203.9l-10.2-5.9M725.2 203.9l-7.9-5.3M725.2 203.9l-9.1-7.0"/>
<path class="c12" d="M728.5 213.8l-7.8-3.5M728.5 213.8l-8.9-4.7M728.5 213.8l-6.9-4.3M728.5 213.8l-8.0-5.7"/>
<path class="c12" d="M737.2 213.8l-7.8-3.5M737.2 213.8l-8.9-4.7M737.2 213.8l-6.9-4.3M737.2 213.8l-8.0-5.7"/>
<path class="c12" d="M743.8 195.2l-8.8-3.4M743.8 195.2l-10.2-4.7M743.8 195.2l-7.9-4.3M743.8 195.2l-9.2-5.8"/>
<path class="c12" d="M749.2 196.7l-7.8-3.9M749.2 196.7l-8.9-5.2M749.2 196.7l-6.9-4.7M749.2 196.7l-8.0-6.2"/>
<path class="c12" d="M748.1 215.5l-6.8-4.2M748.1 215.5l-7.7-5.5M748.1 215.5l-5.9-4.8M748.1 215.5l-6.7-6.3"/>
<path class="c11" d="M750.3 226.9l-4.5-2.7M750.3 226.9l-5.1-3.6M750.3 226.9l-3.9-3.2M750.3 226.9l-4.5-4.1"/>
<path class="c12" d="M752.5 207.2l-6.7-3.6M752.5 207.2l-7.7-4.7M752.5 207.2l-5.9-4.2M752.5 207.2l-6.8-5.6"/>
<path class="c12" d="M761.3 202.9l-6.7-3.6M761.3 202.9l-7.7-4.7M761.3 202.9l-5.9-4.2M761.3 202.9l-6.8-5.6"/>
<path class="c11" d="M755.8 236.7l-3.5-2.8M755.8 236.7l-3.9-3.6M755.8 236.7l-2.9-3.1M755.8 236.7l-3.3-4.0"/>
<path class="c11" d="M731.7 231.3l-3.5-2.8M731.7 231.3l-3.9-3.6M731.7 231.3l-2.9-3.1M731.7 231.3l-3.3-4.0" opacity="0.60"/>
<path class="c11" d="M738.3 223.6l-3.5-2.8M738.3 223.6l-3.9-3.6M738.3 223.6l-2.9-3.1M738.3 223.6l-3.3-4.0" opacity="0.60"/>
<path class="c11" d="M723.0 223.6l-3.5-2.8M723.0 223.6l-3.9-3.6M723.0 223.6l-2.9-3.1M723.0 223.6l-3.3-4.0" opacity="0.60"/>
<path class="c11" d="M708.8 219.3l-4.5-2.7M708.8 219.3l-5.1-3.6M708.8 219.3l-3.9-3.2M708.8 219.3l-4.5-4.1" opacity="0.60"/>
<path class="c11" d="M705.5 225.2l-3.4-2.2M705.5 225.2l-3.8-2.9M705.5 225.2l-2.9-2.5M705.5 225.2l-3.3-3.3" opacity="0.60"/>
<path class="c18" d="M743.8 211.6l-1.7-4.0M743.8 211.6l-1.6-4.7M743.8 211.6l-1.1-4.3M743.8 211.6l-0.8-4.8M743.8 211.6l-0.4-4.5" opacity="0.50"/>
<path class="c12" d="M763.4 190.8l-6.7-3.6M763.4 190.8l-7.7-4.7M763.4 190.8l-5.9-4.2M763.4 190.8l-6.8-5.6"/>
<path class="c18" d="M776.6 200.7l-3.0-6.0M776.6 200.7l-2.9-7.0M776.6 200.7l-2.2-6.5M776.6 200.7l-1.8-7.2M776.6 200.7l-1.2-6.9" opacity="0.50"/>
<path class="c7" d="M506.6 204.1l-5.6-5.3M506.6 204.1l-6.0-6.4M506.6 204.1l-5.9-7.0" opacity="0.70"/>
<path class="c10" d="M506.8 215.6l-5.1-5.1M506.8 215.6l-5.7-6.2M506.8 215.6l-4.4-5.2M506.8 215.6l-5.1-6.6"/>
<path class="c10" d="M488.3 201.1l-5.5-4.5M488.3 201.1l-6.1-5.8M488.3 201.1l-4.6-5.0M488.3 201.1l-5.1-6.4" opacity="0.70"/>
<path class="c7" d="M522.6 216.2l-7.2-3.9M522.6 216.2l-8.2-5.1M522.6 216.2l-6.4-4.5M522.6 216.2l-7.4-5.9"/>
<path class="c7" d="M497.0 200.6l-6.6-6.9M497.0 200.6l-7.0-8.3M497.0 200.6l-6.8-9.1"/>
<path class="c7" d="M532.6 184.9l-8.5-6.4M532.6 184.9l-9.2-7.8M532.6 184.9l-9.1-8.7"/>
<path class="c7" d="M531.9 209.7l-8.1-4.4M531.9 209.7l-9.2-5.8M531.9 209.7l-7.2-5.1M531.9 209.7l-8.2-6.7"/>
<path class="c7" d="M515.5 184.1l-8.8-5.0M515.5 184.1l-10.1-6.4M515.5 184.1l-7.9-5.5M515.5 184.1l-9.3-7.1"/>
<path class="c7" d="M493.2 176.6l-7.7-4.9M493.2 176.6l-8.7-6.3M493.2 176.6l-6.7-5.5M493.2 176.6l-7.7-7.1"/>
<path class="c7" d="M484.3 185.3l-8.7-7.3M484.3 185.3l-9.9-9.1M484.3 185.3l-7.6-7.7M484.3 185.3l-8.7-9.7"/>
<path class="c12" d="M524.9 214.0l-7.4-7.3M524.9 214.0l-8.2-9.1M524.9 214.0l-6.2-7.8M524.9 214.0l-6.9-9.8"/>
<path class="c7" d="M528.6 185.6l-5.9-6.2M528.6 185.6l-6.5-7.7M528.6 185.6l-4.8-6.5M528.6 185.6l-5.4-8.2"/>
<path class="c7" d="M519.2 179.9l-8.8-4.2M519.2 179.9l-10.0-5.6M519.2 179.9l-7.8-5.1M519.2 179.9l-9.0-6.7"/>
<path class="c10" d="M528.5 199.4l-6.3-4.0M528.5 199.4l-7.2-5.2M528.5 199.4l-5.5-4.5M528.5 199.4l-6.4-5.8"/>
<path class="c12" d="M533.5 198.8l-7.8-6.2M533.5 198.8l-8.8-7.7M533.5 198.8l-6.8-6.6M533.5 198.8l-7.8-8.4" opacity="0.70"/>
<path class="c11" d="M477.0 187.7l-6.9-3.0M477.0 187.7l-7.7-3.8M477.0 187.7l-7.8-4.4"/>
<path class="c7" d="M506.8 196.5l-8.6-3.9M506.8 196.5l-9.9-5.1M506.8 196.5l-7.8-4.5M506.8 196.5l-9.2-5.9"/>
<path class="c7" d="M501.7 203.2l-8.2-5.5M501.7 203.2l-9.2-7.1M501.7 203.2l-7.1-6.2M501.7 203.2l-8.0-8.1" opacity="0.70"/>
<path class="c10" d="M493.8 186.2l-5.5-4.4M493.8 186.2l-6.1-5.7M493.8 186.2l-4.6-4.9M493.8 186.2l-5.1-6.3" opacity="0.70"/>
<path class="c7" d="M506.9 211.3l-7.1-5.6M506.9 211.3l-8.0-7.1M506.9 211.3l-6.1-6.2M506.9 211.3l-6.8-7.9" opacity="0.70"/>
<path class="c12" d="M474.8 190.3l-8.3-5.6M474.8 190.3l-9.4-7.1M474.8 190.3l-7.3-6.1M474.8 190.3l-8.5-7.8"/>
<path class="c10" d="M533.8 207.5l-5.7-3.2M533.8 207.5l-6.5-4.2M533.8 207.5l-5.0-3.7M533.8 207.5l-5.7-4.8"/>
<path class="c12" d="M493.4 171.8l-7.6-6.7M493.4 171.8l-8.5-8.4M493.4 171.8l-6.5-7.2M493.4 171.8l-7.3-9.1"/>
<path class="c7" d="M514.2 180.8l-8.4-5.7M514.2 180.8l-9.6-7.2M514.2 180.8l-7.5-6.1M514.2 180.8l-8.7-7.8" opacity="0.70"/>
<path class="c10" d="M515.4 175.0l-4.5-4.7M515.4 175.0l-4.8-5.7M515.4 175.0l-4.6-6.2"/>
<path class="c7" d="M492.7 188.1l-10.6-4.7M492.7 188.1l-12.3-6.0M492.7 188.1l-9.7-5.3M492.7 188.1l-11.5-6.9"/>
<path class="c7" d="M537.4 184.9l-7.6-5.5M537.4 184.9l-8.6-6.9M537.4 184.9l-6.7-5.9M537.4 184.9l-7.7-7.6"/>
<path class="c12" d="M491.8 193.6l-8.4-5.1M491.8 193.6l-9.2-6.3M491.8 193.6l-9.2-7.2"/>
<path class="c10" d="M494.5 207.0l-4.2-5.2M494.5 207.0l-4.4-6.1M494.5 207.0l-4.3-6.6" opacity="0.70"/>
<path class="c7" d="M510.7 184.0l-5.5-6.9M510.7 184.0l-5.8-8.1M510.7 184.0l-5.6-8.8"/>
<path class="c12" d="M494.5 211.5l-7.1-3.9M494.5 211.5l-8.1-5.1M494.5 211.5l-6.2-4.6M494.5 211.5l-7.1-6.0" opacity="0.70"/>
<path class="c10" d="M504.4 198.6l-5.9-2.3M504.4 198.6l-6.7-3.2M504.4 198.6l-5.3-2.9M504.4 198.6l-6.1-3.9"/>
<path class="c11" d="M523.0 173.2l-4.4-4.7M523.0 173.2l-4.9-5.8M523.0 173.2l-3.7-4.9M523.0 173.2l-4.0-6.2"/>
<path class="c12" d="M493.7 173.5l-6.4-7.7M493.7 173.5l-6.8-9.1M493.7 173.5l-6.6-9.9"/>
<path class="c10" d="M518.6 214.7l-6.4-3.2M518.6 214.7l-7.1-4.1M518.6 214.7l-7.1-4.7"/>
<path class="c7" d="M530.7 210.7l-9.4-4.5M530.7 210.7l-10.8-5.9M530.7 210.7l-8.4-5.3M530.7 210.7l-9.7-7.0"/>
<path class="c7" d="M495.3 186.8l-8.5-6.4M495.3 186.8l-9.5-8.2M495.3 186.8l-7.2-7.1M495.3 186.8l-8.1-9.2"/>
<path class="c7" d="M530.0 201.0l-6.7-5.8M530.0 201.0l-7.5-7.4M530.0 201.0l-5.7-6.3M530.0 201.0l-6.4-8.0" opacity="0.70"/>
<path class="c7" d="M507.5 180.4l-9.1-4.4M507.5 180.4l-10.5-5.9M507.5 180.4l-8.2-5.2M507.5 180.4l-9.5-6.9"/>
<path class="c7" d="M502.3 166.4l-7.0-4.4M502.3 166.4l-8.1-5.6M502.3 166.4l-6.3-4.8M502.3 166.4l-7.4-6.1"/>
<path class="c10" d="M493.6 190.5l-4.5-5.3M493.6 190.5l-4.8-6.3M493.6 190.5l-4.7-6.9"/>
<path class="c12" d="M511.8 191.0l-9.3-3.8M511.8 191.0l-10.7-5.1M511.8 191.0l-8.4-4.6M511.8 191.0l-9.8-6.1"/>
<path class="c7" d="M505.9 182.0l-8.3-4.5M505.9 182.0l-9.5-5.9M505.9 182.0l-7.4-5.2M505.9 182.0l-8.6-6.8"/>
<path class="c7" d="M506.4 204.1l-7.3-5.7M506.4 204.1l-7.9-7.0M506.4 204.1l-7.8-7.8"/>
<path class="c7" d="M483.5 178.0l-7.8-6.6M483.5 178.0l-8.7-8.4M483.5 178.0l-6.6-7.2M483.5 178.0l-7.5-9.1" opacity="0.70"/>
<path class="c12" d="M555.1 217.2l-6.6-4.3M555.1 217.2l-7.5-5.5M555.1 217.2l-5.8-4.8M555.1 217.2l-6.6-6.3" opacity="0.70"/>
<path class="c12" d="M537.1 192.3l-10.8-4.8M537.1 192.3l-12.3-6.6M537.1 192.3l-9.6-6.0M537.1 192.3l-11.0-8.0" opacity="0.70"/>
<path class="c12" d="M563.0 208.6l-7.1-5.9M563.0 208.6l-7.7-7.2M563.0 208.6l-7.6-7.9"/>
<path class="c12" d="M516.8 170.2l-5.6-5.9M516.8 170.2l-6.3-7.2M516.8 170.2l-4.8-6.1M516.8 170.2l-5.5-7.6"/>
<path class="c7" d="M580.1 179.0l-8.0-8.3M580.1 179.0l-8.9-10.3M580.1 179.0l-6.7-8.7M580.1 179.0l-7.4-11.0"/>
<path class="c12" d="M575.8 181.5l-10.6-5.2M575.8 181.5l-12.2-6.7M575.8 181.5l-9.6-5.9M575.8 181.5l-11.2-7.7"/>
<path class="c12" d="M578.0 185.1l-6.8-3.3M578.0 185.1l-7.9-4.3M578.0 185.1l-6.2-3.8M578.0 185.1l-7.3-4.9"/>
<path class="c12" d="M544.7 172.3l-10.1-3.5M544.7 172.3l-11.6-4.8M544.7 172.3l-9.1-4.5M544.7 172.3l-10.7-6.0" opacity="0.70"/>
<path class="c7" d="M571.7 190.9l-7.5-3.0M571.7 190.9l-8.6-4.2M571.7 190.9l-6.7-3.9M571.7 190.9l-7.7-5.2"/>
<path class="c12" d="M535.9 218.3l-11.2-5.2M535.9 218.3l-12.3-6.6M535.9 218.3l-12.5-7.7"/>
<path class="c12" d="M566.3 206.0l-6.6-6.7M566.3 206.0l-7.4-8.3M566.3 206.0l-5.7-7.0M566.3 206.0l-6.5-8.7"/>
<path class="c12" d="M570.3 206.8l-10.1-3.4M570.3 206.8l-11.7-4.6M570.3 206.8l-9.2-4.2M570.3 206.8l-10.8-5.7"/>
<path class="c12" d="M560.8 163.8l-8.1-3.3M560.8 163.8l-8.9-4.3M560.8 163.8l-9.1-5.0"/>
<path class="c7" d="M571.0 164.8l-8.5-7.9M571.0 164.8l-9.4-9.9M571.0 164.8l-7.1-8.5M571.0 164.8l-8.0-10.7"/>
<path class="c7" d="M545.9 213.9l-6.9-4.5M545.9 213.9l-7.5-5.5M545.9 213.9l-7.6-6.2"/>
<path class="c12" d="M521.5 179.0l-6.3-5.1M521.5 179.0l-7.1-6.3M521.5 179.0l-5.5-5.4M521.5 179.0l-6.4-6.8"/>
<path class="c12" d="M519.2 208.5l-6.4-4.3M519.2 208.5l-7.3-5.4M519.2 208.5l-5.7-4.7M519.2 208.5l-6.6-6.0"/>
<path class="c7" d="M544.6 195.2l-6.9-4.9M544.6 195.2l-7.8-6.2M544.6 195.2l-6.1-5.3M544.6 195.2l-7.0-6.8" opacity="0.70"/>
<path class="c12" d="M580.3 192.0l-9.2-5.0M580.3 192.0l-10.5-6.5M580.3 192.0l-8.1-5.7M580.3 192.0l-9.4-7.5"/>
<path class="c11" d="M565.0 190.8l-5.1-4.7M565.0 190.8l-5.5-6.0M565.0 190.8l-4.1-5.2M565.0 190.8l-4.5-6.6" opacity="0.70"/>
<path class="c12" d="M558.3 163.8l-7.4-4.4M558.3 163.8l-8.1-5.5M558.3 163.8l-8.2-6.2"/>
<path class="c7" d="M554.3 167.7l-11.7-4.1M554.3 167.7l-13.0-5.4M554.3 167.7l-13.2-6.3"/>
<path class="c12" d="M555.6 197.5l-8.5-6.7M555.6 197.5l-9.6-8.4M555.6 197.5l-7.4-7.2M555.6 197.5l-8.6-9.1" opacity="0.70"/>
<path class="c12" d="M523.8 195.8l-9.7-7.2M523.8 195.8l-10.8-9.3M523.8 195.8l-8.2-8.1M523.8 195.8l-9.2-10.5"/>
<path class="c12" d="M534.6 169.4l-9.5-6.1M534.6 169.4l-10.7-7.9M534.6 169.4l-8.2-6.9M534.6 169.4l-9.3-9.0" opacity="0.70"/>
<path class="c11" d="M574.6 163.1l-6.4-2.7M574.6 163.1l-7.3-3.7M574.6 163.1l-5.7-3.4M574.6 163.1l-6.6-4.6" opacity="0.70"/>
<path class="c7" d="M550.3 184.5l-6.2-5.7M550.3 184.5l-7.0-7.1M550.3 184.5l-5.3-6.0M550.3 184.5l-6.1-7.6"/>
<path class="c12" d="M546.0 187.5l-7.6-5.0M546.0 187.5l-8.3-6.1M546.0 187.5l-8.3-6.8"/>
<path class="c7" d="M537.8 201.3l-9.1-3.3M537.8 201.3l-10.1-4.3M537.8 201.3l-10.3-5.1"/>
<path class="c7" d="M553.2 168.0l-7.3-7.1M553.2 168.0l-8.3-8.8M553.2 168.0l-6.4-7.4M553.2 168.0l-7.3-9.2"/>
<path class="c11" d="M521.4 209.5l-5.9-4.4M521.4 209.5l-6.6-5.7M521.4 209.5l-5.0-4.9M521.4 209.5l-5.6-6.4"/>
<path class="c7" d="M558.9 172.6l-6.0-5.3M558.9 172.6l-6.7-6.7M558.9 172.6l-5.0-5.7M558.9 172.6l-5.7-7.2"/>
<path class="c12" d="M550.6 181.4l-8.7-4.2M550.6 181.4l-9.9-5.6M550.6 181.4l-7.7-5.1M550.6 181.4l-8.8-6.8"/>
<path class="c7" d="M581.3 199.0l-8.3-7.5M581.3 199.0l-9.3-9.5M581.3 199.0l-7.0-8.1M581.3 199.0l-7.9-10.2"/>
<path class="c12" d="M544.4 220.3l-7.0-7.0M544.4 220.3l-7.8-8.7M544.4 220.3l-6.0-7.3M544.4 220.3l-6.8-9.2" opacity="0.70"/>
<path class="c10" d="M561.7 151.4l-6.5-2.1M561.7 151.4l-7.5-3.0M561.7 151.4l-5.9-2.8M561.7 151.4l-7.0-3.8"/>
<path class="c7" d="M511.9 174.9l-6.0-4.7M511.9 174.9l-6.7-6.0M511.9 174.9l-5.1-5.2M511.9 174.9l-5.7-6.7"/>
<path class="c7" d="M543.2 189.0l-11.1-5.5M543.2 189.0l-12.8-7.1M543.2 189.0l-10.1-6.2M543.2 189.0l-11.8-8.1"/>
<path class="c7" d="M532.7 218.0l-7.7-7.5M532.7 218.0l-8.2-9.0M532.7 218.0l-8.1-9.9"/>
<path class="c7" d="M569.0 207.9l-7.9-8.1M569.0 207.9l-8.8-10.1M569.0 207.9l-6.6-8.6M569.0 207.9l-7.3-10.9" opacity="0.70"/>
<path class="c11" d="M537.4 172.8l-7.0-2.1M537.4 172.8l-8.0-3.1M537.4 172.8l-6.3-3.0M537.4 172.8l-7.3-4.2"/>
<path class="c12" d="M549.1 195.1l-9.9-5.5M549.1 195.1l-11.2-7.4M549.1 195.1l-8.6-6.6M549.1 195.1l-9.8-8.7"/>
<path class="c12" d="M512.0 189.5l-8.6-8.4M512.0 189.5l-9.6-10.4M512.0 189.5l-7.3-8.8M512.0 189.5l-8.2-11.1"/>
<path class="c12" d="M534.6 189.9l-5.9-5.6M534.6 189.9l-6.5-7.1M534.6 189.9l-4.8-6.1M534.6 189.9l-5.3-7.7" opacity="0.70"/>
<path class="c7" d="M529.4 156.1l-7.1-7.4M529.4 156.1l-7.9-9.2M529.4 156.1l-6.0-7.7M529.4 156.1l-6.7-9.8"/>
<path class="c11" d="M513.1 171.0l-5.5-4.9M513.1 171.0l-6.0-5.8M513.1 171.0l-5.9-6.4" opacity="0.70"/>
<path class="c12" d="M552.6 189.6l-8.1-2.8M552.6 189.6l-9.3-3.9M552.6 189.6l-7.3-3.7M552.6 189.6l-8.5-5.0" opacity="0.70"/>
<path class="c12" d="M513.2 171.2l-5.9-5.1M513.2 171.2l-6.6-6.3M513.2 171.2l-5.0-5.4M513.2 171.2l-5.7-6.9"/>
<path class="c12" d="M512.6 176.9l-7.4-6.7M512.6 176.9l-8.4-8.3M512.6 176.9l-6.4-7.0M512.6 176.9l-7.3-8.9"/>
<path class="c12" d="M558.6 153.3l-10.4-4.4M558.6 153.3l-12.0-5.9M558.6 153.3l-9.4-5.3M558.6 153.3l-11.0-7.0"/>
<path class="c7" d="M459.9 252.2l-7.2-6.4M459.9 252.2l-8.1-8.0M459.9 252.2l-6.1-6.8M459.9 252.2l-7.0-8.7" opacity="0.70"/>
<path class="c7" d="M497.7 237.1l-9.0-2.8M497.7 237.1l-10.4-4.0M497.7 237.1l-8.1-3.8M497.7 237.1l-9.5-5.3" opacity="0.70"/>
<path class="c10" d="M493.1 244.4l-5.1-3.4M493.1 244.4l-5.9-4.3M493.1 244.4l-4.6-3.7M493.1 244.4l-5.3-4.8"/>
<path class="c7" d="M460.3 250.6l-7.0-6.8M460.3 250.6l-7.8-8.6M460.3 250.6l-5.8-7.3M460.3 250.6l-6.5-9.2"/>
<path class="c10" d="M491.6 214.3l-4.2-3.9M491.6 214.3l-4.8-4.8M491.6 214.3l-3.7-4.1M491.6 214.3l-4.3-5.1"/>
<path class="c7" d="M510.7 225.0l-7.2-2.4M510.7 225.0l-8.3-3.5M510.7 225.0l-6.5-3.3M510.7 225.0l-7.5-4.6"/>
<path class="c12" d="M465.4 247.6l-7.7-4.2M465.4 247.6l-8.4-5.2M465.4 247.6l-8.5-5.9"/>
<path class="c7" d="M474.4 243.3l-8.9-3.2M474.4 243.3l-10.2-4.6M474.4 243.3l-7.9-4.3M474.4 243.3l-9.1-6.0"/>
<path class="c7" d="M471.0 211.3l-7.2-3.1M471.0 211.3l-8.4-4.0M471.0 211.3l-6.6-3.5M471.0 211.3l-7.8-4.6"/>
<path class="c7" d="M497.2 245.8l-6.2-6.5M497.2 245.8l-6.7-7.8M497.2 245.8l-6.5-8.5" opacity="0.70"/>
<path class="c10" d="M495.3 250.1l-3.8-4.5M495.3 250.1l-4.1-5.6M495.3 250.1l-3.0-4.7M495.3 250.1l-3.1-6.0"/>
<path class="c10" d="M477.1 243.2l-5.1-3.2M477.1 243.2l-5.7-4.2M477.1 243.2l-4.4-3.7M477.1 243.2l-4.9-4.9" opacity="0.70"/>
<path class="c11" d="M467.5 244.9l-5.3-3.1M467.5 244.9l-5.8-3.9M467.5 244.9l-5.8-4.4"/>
<path class="c7" d="M445.6 234.6l-5.3-6.5M445.6 234.6l-5.9-8.0M445.6 234.6l-4.5-6.6M445.6 234.6l-5.0-8.2"/>
<path class="c7" d="M506.1 232.2l-6.6-4.2M506.1 232.2l-7.5-5.5M506.1 232.2l-5.8-4.8M506.1 232.2l-6.6-6.3"/>
<path class="c7" d="M456.3 227.1l-7.9-4.5M456.3 227.1l-8.9-6.0M456.3 227.1l-6.8-5.4M456.3 227.1l-7.8-7.1" opacity="0.70"/>
<path class="c7" d="M507.8 232.2l-7.2-3.1M507.8 232.2l-8.2-4.4M507.8 232.2l-6.3-4.1M507.8 232.2l-7.3-5.5"/>
<path class="c11" d="M459.8 242.3l-5.8-2.1M459.8 242.3l-6.4-2.7M459.8 242.3l-6.6-3.2"/>
<path class="c10" d="M467.9 222.0l-5.0-5.6M467.9 222.0l-5.6-6.9M467.9 222.0l-4.2-5.8M467.9 222.0l-4.7-7.3" opacity="0.70"/>
<path class="c7" d="M470.6 247.2l-7.6-4.8M470.6 247.2l-8.6-6.1M470.6 247.2l-6.7-5.3M470.6 247.2l-7.7-6.8"/>
<path class="c12" d="M484.3 234.0l-7.4-4.6M484.3 234.0l-8.4-6.0M484.3 234.0l-6.5-5.2M484.3 234.0l-7.4-6.8"/>
<path class="c7" d="M487.3 216.9l-8.3-2.6M487.3 216.9l-9.5-3.8M487.3 216.9l-7.5-3.6M487.3 216.9l-8.7-5.0" opacity="0.70"/>
<path class="c10" d="M480.3 243.3l-4.2-4.9M480.3 243.3l-4.6-6.1M480.3 243.3l-3.4-5.1M480.3 243.3l-3.8-6.4" opacity="0.70"/>
<path class="c11" d="M484.2 217.2l-5.8-3.4M484.2 217.2l-6.5-4.5M484.2 217.2l-5.0-4.0M484.2 217.2l-5.6-5.2"/>
<path class="c7" d="M477.0 256.8l-5.1-6.4M477.0 256.8l-5.7-7.8M477.0 256.8l-4.3-6.5M477.0 256.8l-4.9-8.1"/>
<path class="c12" d="M492.0 220.0l-7.4-3.6M492.0 220.0l-8.5-4.7M492.0 220.0l-6.7-4.2M492.0 220.0l-7.8-5.5" opacity="0.70"/>
<path class="c12" d="M496.2 252.5l-5.8-5.6M496.2 252.5l-6.3-7.1M496.2 252.5l-4.6-6.1M496.2 252.5l-5.0-7.8"/>
<path class="c12" d="M458.2 213.9l-8.7-3.8M458.2 213.9l-9.7-4.8M458.2 213.9l-9.8-5.6" opacity="0.70"/>
<path class="c7" d="M470.4 235.4l-5.6-7.1M470.4 235.4l-5.9-8.4M470.4 235.4l-5.7-9.1"/>
<path class="c7" d="M475.7 250.4l-8.1-2.8M475.7 250.4l-9.3-4.0M475.7 250.4l-7.2-3.7M475.7 250.4l-8.4-5.1"/>
<path class="c7" d="M480.1 210.4l-6.0-6.2M480.1 210.4l-6.6-7.8M480.1 210.4l-4.9-6.6M480.1 210.4l-5.3-8.4" opacity="0.70"/>
<path class="c10" d="M508.7 224.7l-3.6-4.4M508.7 224.7l-4.0-5.4M508.7 224.7l-3.0-4.5M508.7 224.7l-3.3-5.6"/>
<path class="c7" d="M451.5 233.9l-8.2-4.4M451.5 233.9l-9.3-5.8M451.5 233.9l-7.3-5.1M451.5 233.9l-8.4-6.6" opacity="0.70"/>
<path class="c10" d="M504.9 221.0l-5.1-1.9M504.9 221.0l-5.6-2.5M504.9 221.0l-5.7-3.0" opacity="0.70"/>
<path class="c12" d="M505.1 229.0l-6.3-7.4M505.1 229.0l-7.0-9.1M505.1 229.0l-5.3-7.6M505.1 229.0l-5.9-9.5"/>
<path class="c7" d="M481.7 247.1l-6.4-6.1M481.7 247.1l-7.1-7.7M481.7 247.1l-5.3-6.6M481.7 247.1l-5.8-8.4"/>
<path class="c7" d="M467.7 229.9l-6.5-6.7M467.7 229.9l-7.0-7.9M467.7 229.9l-6.9-8.7" opacity="0.70"/>
<path class="c7" d="M449.4 222.3l-6.5-6.4M449.4 222.3l-7.1-8.2M449.4 222.3l-5.2-7.0M449.4 222.3l-5.6-8.9" opacity="0.70"/>
<path class="c11" d="M453.2 220.7l-6.9-2.3M453.2 220.7l-7.9-3.3M453.2 220.7l-6.1-3.1M453.2 220.7l-7.1-4.3" opacity="0.70"/>
<path class="c7" d="M445.0 228.5l-7.9-5.8M445.0 228.5l-8.8-7.6M445.0 228.5l-6.6-6.6M445.0 228.5l-7.3-8.6" opacity="0.70"/>
<path class="c12" d="M536.8 222.8l-7.4-4.2M536.8 222.8l-8.4-5.4M536.8 222.8l-6.6-4.7M536.8 222.8l-7.6-6.2"/>
<path class="c7" d="M625.9 222.4l-8.6-6.5M625.9 222.4l-9.7-8.3M625.9 222.4l-7.4-7.2M625.9 222.4l-8.3-9.3"/>
<path class="c11" d="M584.2 228.3l-4.5-4.3M584.2 228.3l-5.0-5.4M584.2 228.3l-3.7-4.6M584.2 228.3l-4.2-5.9" opacity="0.70"/>
<path class="c12" d="M580.1 226.4l-6.7-4.5M580.1 226.4l-7.7-5.7M580.1 226.4l-6.0-4.9M580.1 226.4l-7.0-6.2"/>
<path class="c12" d="M602.7 216.2l-7.4-5.2M602.7 216.2l-8.4-6.6M602.7 216.2l-6.6-5.6M602.7 216.2l-7.6-7.1"/>
<path class="c11" d="M612.2 241.7l-5.2-4.2M612.2 241.7l-5.9-5.4M612.2 241.7l-4.4-4.6M612.2 241.7l-5.0-5.9" opacity="0.70"/>
<path class="c12" d="M607.0 214.2l-9.1-3.6M607.0 214.2l-10.1-4.7M607.0 214.2l-10.2-5.5" opacity="0.70"/>
<path class="c7" d="M612.7 230.7l-7.5-5.1M612.7 230.7l-8.2-6.3M612.7 230.7l-8.2-7.1" opacity="0.70"/>
<path class="c7" d="M597.9 221.0l-8.4-6.2M597.9 221.0l-9.5-7.9M597.9 221.0l-7.3-6.8M597.9 221.0l-8.3-8.7"/>
<path class="c11" d="M605.6 220.0l-4.5-3.9M605.6 220.0l-5.1-4.8M605.6 220.0l-4.0-4.1M605.6 220.0l-4.6-5.1"/>
<path class="c20" d="M645.8 235.0l-8.1-2.7M645.8 235.0l-9.1-3.5M645.8 235.0l-9.3-4.2" opacity="0.70"/>
<path class="c11" d="M601.9 219.4l-6.9-2.4M601.9 219.4l-7.7-3.2M601.9 219.4l-7.8-3.8"/>
<path class="c12" d="M649.7 231.5l-6.2-5.9M649.7 231.5l-6.9-7.3M649.7 231.5l-5.2-6.2M649.7 231.5l-5.9-7.9" opacity="0.70"/>
<path class="c12" d="M568.2 228.8l-8.8-4.5M568.2 228.8l-9.6-5.6M568.2 228.8l-9.7-6.4"/>
<path class="c12" d="M570.8 216.8l-7.5-7.1M570.8 216.8l-8.5-8.8M570.8 216.8l-6.5-7.4M570.8 216.8l-7.4-9.4"/>
<path class="c12" d="M578.3 226.4l-6.8-3.8M578.3 226.4l-7.5-4.8M578.3 226.4l-7.5-5.5"/>
<path class="c12" d="M553.9 240.4l-8.3-5.3M553.9 240.4l-9.5-6.7M553.9 240.4l-7.4-5.7M553.9 240.4l-8.7-7.3"/>
<path class="c11" d="M572.7 239.0l-6.0-4.3M572.7 239.0l-6.8-5.5M572.7 239.0l-5.3-4.7M572.7 239.0l-6.1-6.0"/>
<path class="c11" d="M604.9 248.7l-6.1-3.4M604.9 248.7l-6.9-4.5M604.9 248.7l-5.4-4.0M604.9 248.7l-6.1-5.2"/>
<path class="c11" d="M593.3 226.1l-5.5-3.4M593.3 226.1l-6.3-4.3M593.3 226.1l-4.9-3.7M593.3 226.1l-5.7-4.7" opacity="0.70"/>
<path class="c11" d="M557.1 236.0l-5.6-3.8M557.1 236.0l-6.3-4.9M557.1 236.0l-4.8-4.2M557.1 236.0l-5.5-5.5"/>
<path class="c11" d="M659.1 231.6l-5.9-3.3M659.1 231.6l-6.8-4.3M659.1 231.6l-5.2-3.8M659.1 231.6l-6.1-5.0"/>
<path class="c12" d="M631.5 238.5l-6.0-4.9M631.5 238.5l-6.5-5.9M631.5 238.5l-6.4-6.6"/>
<path class="c12" d="M601.8 245.5l-7.3-3.0M601.8 245.5l-8.5-3.9M601.8 245.5l-6.7-3.5M601.8 245.5l-7.8-4.7"/>
<path class="c12" d="M540.9 234.5l-9.9-3.4M540.9 234.5l-11.4-4.8M540.9 234.5l-8.9-4.5M540.9 234.5l-10.4-6.1" opacity="0.70"/>
<path class="c12" d="M545.1 233.1l-8.6-5.5M545.1 233.1l-9.8-7.1M545.1 233.1l-7.6-6.1M545.1 233.1l-8.8-7.9" opacity="0.70"/>
<path class="c11" d="M665.7 232.1l-5.5-3.4M665.7 232.1l-6.3-4.4M665.7 232.1l-4.8-3.8M665.7 232.1l-5.6-5.0"/>
<path class="c7" d="M644.8 229.6l-6.8-4.0M644.8 229.6l-7.9-5.0M644.8 229.6l-6.2-4.3M644.8 229.6l-7.2-5.6"/>
<path class="c12" d="M560.3 239.1l-8.1-4.4M560.3 239.1l-8.9-5.5M560.3 239.1l-9.0-6.3" opacity="0.70"/>
<path class="c7" d="M615.4 234.8l-8.7-6.0M615.4 234.8l-9.4-7.4M615.4 234.8l-9.3-8.4"/>
<path class="c11" d="M603.8 233.3l-4.7-4.0M603.8 233.3l-5.3-5.0M603.8 233.3l-4.1-4.2M603.8 233.3l-4.7-5.3"/>
<path class="c12" d="M554.8 218.3l-7.8-2.8M554.8 218.3l-9.0-3.9M554.8 218.3l-7.1-3.5M554.8 218.3l-8.3-4.8"/>
<path class="c12" d="M627.6 230.2l-7.4-2.8M627.6 230.2l-8.6-3.7M627.6 230.2l-6.8-3.3M627.6 230.2l-8.0-4.4" opacity="0.70"/>
<path class="c12" d="M550.3 222.0l-7.1-6.0M550.3 222.0l-8.1-7.5M550.3 222.0l-6.2-6.3M550.3 222.0l-7.2-8.0"/>
<path class="c7" d="M643.8 225.5l-8.4-5.3M643.8 225.5l-9.6-6.7M643.8 225.5l-7.5-5.8M643.8 225.5l-8.7-7.4"/>
<path class="c7" d="M501.5 208.4l-6.6-4.0M501.5 208.4l-7.6-5.1M501.5 208.4l-5.9-4.4M501.5 208.4l-6.8-5.8"/>
<path class="c7" d="M473.5 201.9l-8.7-4.9M473.5 201.9l-10.0-6.2M473.5 201.9l-7.9-5.4M473.5 201.9l-9.2-7.0"/>
<path class="c7" d="M520.1 206.8l-8.0-5.0M520.1 206.8l-9.2-6.3M520.1 206.8l-7.2-5.4M520.1 206.8l-8.4-7.0"/>
<path class="c7" d="M471.2 194.0l-7.4-6.5M471.2 194.0l-8.3-8.1M471.2 194.0l-6.4-6.9M471.2 194.0l-7.3-8.7"/>
<path class="c7" d="M474.5 206.7l-7.3-4.0M474.5 206.7l-8.4-5.2M474.5 206.7l-6.6-4.5M474.5 206.7l-7.7-5.9" opacity="0.70"/>
<path class="c12" d="M478.9 187.5l-7.5-6.5M478.9 187.5l-8.5-8.1M478.9 187.5l-6.5-6.9M478.9 187.5l-7.4-8.7" opacity="0.70"/>
<path class="c10" d="M498.8 202.1l-4.8-5.1M498.8 202.1l-5.3-6.4M498.8 202.1l-4.0-5.4M498.8 202.1l-4.4-6.8" opacity="0.70"/>
<path class="c12" d="M472.8 186.7l-5.6-6.5M472.8 186.7l-6.2-8.0M472.8 186.7l-4.7-6.7M472.8 186.7l-5.2-8.3" opacity="0.70"/>
<path class="c7" d="M511.0 206.6l-8.8-7.3M511.0 206.6l-9.9-9.1M511.0 206.6l-7.6-7.8M511.0 206.6l-8.7-9.9"/>
<path class="c7" d="M482.8 190.7l-7.7-8.6M482.8 190.7l-8.6-10.6M482.8 190.7l-6.6-8.8M482.8 190.7l-7.5-11.0"/>
<path class="c12" d="M487.4 216.6l-7.9-3.5M487.4 216.6l-9.1-4.6M487.4 216.6l-7.2-4.1M487.4 216.6l-8.4-5.4"/>
<path class="c7" d="M495.6 161.7l-10.1-5.6M495.6 161.7l-11.1-7.0M495.6 161.7l-11.1-8.0"/>
<path class="c10" d="M499.4 172.7l-5.0-4.1M499.4 172.7l-5.6-5.2M499.4 172.7l-4.3-4.4M499.4 172.7l-4.9-5.6"/>
<path class="c7" d="M481.1 181.7l-7.5-3.8M481.1 181.7l-8.2-4.8M481.1 181.7l-8.3-5.5" opacity="0.70"/>
<path class="c12" d="M473.9 185.8l-7.6-3.2M473.9 185.8l-8.8-4.2M473.9 185.8l-6.9-3.8M473.9 185.8l-8.1-5.0"/>
<path class="c12" d="M469.9 188.3l-8.4-4.7M469.9 188.3l-9.2-5.8M469.9 188.3l-9.3-6.6"/>
<path class="c7" d="M469.0 175.1l-9.4-6.6M469.0 175.1l-10.7-8.4M469.0 175.1l-8.3-7.2M469.0 175.1l-9.6-9.1" opacity="0.70"/>
<path class="c10" d="M496.5 187.7l-6.6-3.0M496.5 187.7l-7.5-4.0M496.5 187.7l-5.9-3.6M496.5 187.7l-6.8-4.8"/>
<path class="c10" d="M498.2 175.7l-5.8-3.5M498.2 175.7l-6.6-4.5M498.2 175.7l-5.1-4.0M498.2 175.7l-5.8-5.2"/>
<path class="c12" d="M507.1 213.1l-6.5-6.7M507.1 213.1l-7.2-8.3M507.1 213.1l-5.4-7.1M507.1 213.1l-6.1-8.9" opacity="0.70"/>
<path class="c7" d="M483.0 179.7l-7.5-7.9M483.0 179.7l-8.4-9.7M483.0 179.7l-6.4-8.2M483.0 179.7l-7.2-10.2"/>
<path class="c7" d="M479.1 204.6l-7.7-3.6M479.1 204.6l-8.8-4.7M479.1 204.6l-6.9-4.2M479.1 204.6l-8.1-5.6"/>
<path class="c11" d="M469.3 204.4l-5.2-4.8M469.3 204.4l-5.8-6.1M469.3 204.4l-4.3-5.2M469.3 204.4l-4.8-6.6"/>
<path class="c10" d="M495.7 175.2l-6.2-3.2M495.7 175.2l-7.2-4.1M495.7 175.2l-5.6-3.6M495.7 175.2l-6.6-4.6"/>
<path class="c10" d="M506.6 189.0l-5.1-5.0M506.6 189.0l-5.5-6.0M506.6 189.0l-5.3-6.6"/>
<path class="c12" d="M517.2 171.4l-7.6-5.3M517.2 171.4l-8.3-6.5M517.2 171.4l-8.4-7.2"/>
<path class="c12" d="M483.7 178.4l-8.3-5.8M483.7 178.4l-9.5-7.3M483.7 178.4l-7.4-6.2M483.7 178.4l-8.6-7.9"/>
<path class="c7" d="M467.1 191.3l-8.9-4.8M467.1 191.3l-10.1-6.4M467.1 191.3l-7.8-5.7M467.1 191.3l-9.0-7.4"/>
<path class="c7" d="M477.3 183.0l-6.9-4.5M477.3 183.0l-7.6-5.5M477.3 183.0l-7.6-6.2"/>
<path class="c7" d="M514.2 192.4l-6.7-4.4M514.2 192.4l-7.7-5.7M514.2 192.4l-5.9-4.9M514.2 192.4l-6.8-6.3" opacity="0.70"/>
<path class="c10" d="M513.2 204.2l-5.6-5.0M513.2 204.2l-6.2-6.3M513.2 204.2l-4.7-5.4M513.2 204.2l-5.2-6.9"/>
<path class="c10" d="M515.5 170.9l-6.0-3.9M515.5 170.9l-6.8-5.0M515.5 170.9l-5.3-4.4M515.5 170.9l-6.0-5.6" opacity="0.70"/>
<path class="c7" d="M497.3 160.8l-9.1-6.7M497.3 160.8l-9.9-8.2M497.3 160.8l-9.8-9.2" opacity="0.70"/>
<path class="c10" d="M498.6 189.7l-5.1-5.4M498.6 189.7l-5.7-6.7M498.6 189.7l-4.3-5.6M498.6 189.7l-4.9-7.0"/>
<path class="c7" d="M471.1 215.9l-7.6-5.2M471.1 215.9l-8.7-6.6M471.1 215.9l-6.8-5.6M471.1 215.9l-7.9-7.2"/>
<path class="c7" d="M494.2 214.8l-9.0-4.6M494.2 214.8l-10.4-5.9M494.2 214.8l-8.2-5.2M494.2 214.8l-9.6-6.6"/>
<path class="c11" d="M472.0 196.7l-6.4-3.8M472.0 196.7l-7.4-4.8M472.0 196.7l-5.8-4.1M472.0 196.7l-6.8-5.3"/>
<path class="c7" d="M470.3 198.1l-7.4-3.5M470.3 198.1l-8.5-4.6M470.3 198.1l-6.7-4.1M470.3 198.1l-7.8-5.3"/>
<path class="c7" d="M522.9 198.0l-6.5-4.1M522.9 198.0l-7.4-5.2M522.9 198.0l-5.8-4.5M522.9 198.0l-6.7-5.8" opacity="0.70"/>
<path class="c10" d="M499.2 196.2l-4.8-4.3M499.2 196.2l-5.4-5.4M499.2 196.2l-4.1-4.6M499.2 196.2l-4.6-5.9" opacity="0.70"/>
<path class="c12" d="M533.9 182.2l-8.7-6.6M533.9 182.2l-9.9-8.2M533.9 182.2l-7.7-7.0M533.9 182.2l-8.9-8.8"/>
<path class="c12" d="M592.4 214.8l-7.3-6.9M592.4 214.8l-8.2-8.5M592.4 214.8l-6.3-7.2M592.4 214.8l-7.2-9.0"/>
<path class="c12" d="M570.4 228.5l-9.4-5.5M570.4 228.5l-10.8-7.0M570.4 228.5l-8.4-6.1M570.4 228.5l-9.8-7.8"/>
<path class="c12" d="M564.9 163.8l-8.6-3.9M564.9 163.8l-9.5-5.0M564.9 163.8l-9.6-5.8"/>
<path class="c11" d="M561.7 218.0l-5.8-3.6M561.7 218.0l-6.5-4.6M561.7 218.0l-5.0-4.1M561.7 218.0l-5.8-5.3"/>
<path class="c11" d="M555.9 162.4l-5.8-4.6M555.9 162.4l-6.6-5.8M555.9 162.4l-5.1-4.9M555.9 162.4l-5.8-6.3"/>
<path class="c12" d="M594.2 203.9l-6.6-4.7M594.2 203.9l-7.5-5.9M594.2 203.9l-5.9-5.0M594.2 203.9l-6.8-6.3"/>
<path class="c12" d="M551.6 174.8l-6.1-6.3M551.6 174.8l-6.8-7.8M551.6 174.8l-5.2-6.5M551.6 174.8l-5.9-8.2"/>
<path class="c7" d="M544.3 199.1l-6.2-7.3M544.3 199.1l-6.8-9.0M544.3 199.1l-5.2-7.5M544.3 199.1l-5.8-9.4" opacity="0.70"/>
<path class="c12" d="M565.4 208.1l-7.5-5.6M565.4 208.1l-8.6-7.0M565.4 208.1l-6.6-6.0M565.4 208.1l-7.6-7.7"/>
<path class="c12" d="M580.7 207.6l-7.8-5.6M580.7 207.6l-8.5-6.9M580.7 207.6l-8.4-7.7"/>
<path class="c7" d="M535.9 203.1l-8.2-6.8M535.9 203.1l-9.3-8.4M535.9 203.1l-7.2-7.1M535.9 203.1l-8.3-9.0"/>
<path class="c11" d="M581.4 179.5l-4.9-4.2M581.4 179.5l-5.5-5.3M581.4 179.5l-4.2-4.5M581.4 179.5l-4.7-5.8" opacity="0.70"/>
<path class="c12" d="M582.1 192.7l-9.1-6.6M582.1 192.7l-9.8-8.1M582.1 192.7l-9.7-9.1" opacity="0.70"/>
<path class="c12" d="M559.6 174.4l-6.1-5.7M559.6 174.4l-6.8-7.2M559.6 174.4l-5.1-6.2M559.6 174.4l-5.7-7.8"/>
<path class="c12" d="M552.3 175.4l-10.4-5.0M552.3 175.4l-12.0-6.5M552.3 175.4l-9.4-5.7M552.3 175.4l-11.0-7.5" opacity="0.70"/>
<path class="c12" d="M547.5 203.7l-5.8-5.4M547.5 203.7l-6.5-6.6M547.5 203.7l-5.0-5.6M547.5 203.7l-5.8-7.0"/>
<path class="c7" d="M557.3 178.4l-6.6-3.8M557.3 178.4l-7.6-4.8M557.3 178.4l-6.0-4.1M557.3 178.4l-7.0-5.3"/>
<path class="c12" d="M577.3 192.1l-10.4-4.5M577.3 192.1l-11.5-5.7M577.3 192.1l-11.6-6.7" opacity="0.70"/>
<path class="c11" d="M570.2 176.4l-5.3-3.4M570.2 176.4l-5.8-4.2M570.2 176.4l-5.9-4.7"/>
<path class="c12" d="M527.7 213.4l-7.9-6.1M527.7 213.4l-9.0-7.6M527.7 213.4l-6.9-6.5M527.7 213.4l-8.0-8.2"/>
<path class="c12" d="M573.5 190.4l-7.0-5.0M573.5 190.4l-8.0-6.4M573.5 190.4l-6.1-5.5M573.5 190.4l-7.0-7.0" opacity="0.70"/>
<path class="c7" d="M581.5 200.5l-9.6-4.1M581.5 200.5l-10.6-5.3M581.5 200.5l-10.7-6.2"/>
<path class="c12" d="M583.0 219.0l-9.8-4.9M583.0 219.0l-11.3-6.3M583.0 219.0l-8.9-5.4M583.0 219.0l-10.5-7.0"/>
<path class="c12" d="M583.9 225.4l-6.6-5.1M583.9 225.4l-7.4-6.4M583.9 225.4l-5.7-5.5M583.9 225.4l-6.6-7.0"/>
<path class="c12" d="M570.5 180.7l-8.5-4.0M570.5 180.7l-9.4-5.0M570.5 180.7l-9.5-5.7"/>
<path class="c12" d="M545.0 218.0l-8.8-4.6M545.0 218.0l-10.0-6.0M545.0 218.0l-7.8-5.3M545.0 218.0l-9.1-6.9"/>
<path class="c12" d="M562.4 224.8l-8.6-5.6M562.4 224.8l-9.9-7.0M562.4 224.8l-7.7-6.0M562.4 224.8l-9.0-7.7" opacity="0.70"/>
<path class="c12" d="M545.8 234.2l-7.5-5.8M545.8 234.2l-8.4-7.5M545.8 234.2l-6.4-6.5M545.8 234.2l-7.2-8.3"/>
<path class="c12" d="M577.8 205.2l-7.5-2.9M577.8 205.2l-8.6-4.0M577.8 205.2l-6.7-3.7M577.8 205.2l-7.8-4.9"/>
<path class="c12" d="M558.3 216.5l-6.5-7.5M558.3 216.5l-6.8-8.9M558.3 216.5l-6.6-9.7" opacity="0.70"/>
<path class="c7" d="M538.4 179.5l-9.1-7.1M538.4 179.5l-10.4-8.9M538.4 179.5l-8.1-7.5M538.4 179.5l-9.3-9.5" opacity="0.70"/>
<path class="c12" d="M544.3 192.9l-10.5-4.4M544.3 192.9l-12.0-6.0M544.3 192.9l-9.4-5.4M544.3 192.9l-10.9-7.3" opacity="0.70"/>
<path class="c12" d="M559.1 183.2l-8.1-7.6M559.1 183.2l-8.6-9.2M559.1 183.2l-8.4-10.2"/>
<path class="c12" d="M536.1 225.2l-6.1-5.3M536.1 225.2l-6.6-6.4M536.1 225.2l-6.5-7.0" opacity="0.70"/>
<path class="c7" d="M516.1 245.4l-6.2-5.8M516.1 245.4l-7.1-7.1M516.1 245.4l-5.4-6.0M516.1 245.4l-6.3-7.5" opacity="0.70"/>
<path class="c11" d="M506.2 251.8l-5.2-3.4M506.2 251.8l-5.9-4.4M506.2 251.8l-4.6-3.8M506.2 251.8l-5.3-4.8"/>
<path class="c10" d="M509.3 247.4l-5.9-4.1M509.3 247.4l-6.6-5.3M509.3 247.4l-5.1-4.6M509.3 247.4l-5.8-5.9"/>
<path class="c11" d="M511.8 255.5l-6.1-2.9M511.8 255.5l-6.7-3.7M511.8 255.5l-6.7-4.3"/>
<path class="c12" d="M534.7 244.5l-6.9-3.5M534.7 244.5l-7.8-4.7M534.7 244.5l-6.1-4.1M534.7 244.5l-7.1-5.4"/>
<path class="c11" d="M496.6 244.2l-6.5-3.2M496.6 244.2l-7.5-4.2M496.6 244.2l-5.8-3.7M496.6 244.2l-6.7-4.9"/>
<path class="c11" d="M543.5 245.5l-3.8-3.3M543.5 245.5l-4.3-4.1M543.5 245.5l-3.3-3.5M543.5 245.5l-3.8-4.4"/>
<path class="c11" d="M554.3 250.0l-6.4-2.8M554.3 250.0l-7.4-3.7M554.3 250.0l-5.8-3.3M554.3 250.0l-6.8-4.3" opacity="0.70"/>
<path class="c11" d="M559.5 245.3l-5.2-2.4M559.5 245.3l-5.9-3.2M559.5 245.3l-4.6-2.9M559.5 245.3l-5.3-3.9"/>
<path class="c10" d="M496.5 242.9l-4.6-2.3M496.5 242.9l-5.3-3.0M496.5 242.9l-4.1-2.6M496.5 242.9l-4.8-3.4"/>
<path class="c20" d="M519.7 250.7l-8.3-2.6M519.7 250.7l-9.3-3.5M519.7 250.7l-9.5-4.2"/>
<path class="c20" d="M533.2 254.6l-7.6-2.3M533.2 254.6l-8.9-3.2M533.2 254.6l-7.0-2.9M533.2 254.6l-8.3-4.0"/>
<path class="c10" d="M493.1 251.5l-5.4-4.5M493.1 251.5l-6.1-5.7M493.1 251.5l-4.7-4.9M493.1 251.5l-5.3-6.2"/>
<path class="c7" d="M528.1 239.9l-6.3-5.7M528.1 239.9l-7.0-7.2M528.1 239.9l-5.3-6.2M528.1 239.9l-5.9-7.9"/>
<path class="c11" d="M498.6 242.8l-6.4-2.7M498.6 242.8l-7.0-3.4M498.6 242.8l-7.1-4.0"/>
<path d="M475.1 50.1h0M681.4 221.4h0M506.6 204.1h0M488.3 201.1h0M501.7 203.2h0M493.8 186.2h0M506.9 211.3h0M514.2 180.8h0M494.5 207.0h0M530.0 201.0h0M483.5 178.0h0M544.6 195.2h0M569.0 207.9h0M459.9 252.2h0M497.7 237.1h0M497.2 245.8h0M477.1 243.2h0M456.3 227.1h0M467.9 222.0h0M487.3 216.9h0M480.3 243.3h0M480.1 210.4h0M451.5 233.9h0M504.9 221.0h0M467.7 229.9h0M449.4 222.3h0M445.0 228.5h0M612.7 230.7h0M474.5 206.7h0M498.8 202.1h0M481.1 181.7h0M469.0 175.1h0M514.2 192.4h0M515.5 170.9h0M497.3 160.8h0M522.9 198.0h0M499.2 196.2h0M544.3 199.1h0M538.4 179.5h0M516.1 245.4h0" stroke="#d62728" stroke-width="3.60" stroke-linecap="round" fill="none" stroke-opacity="0.70"/>
<path d="M607.6 58.5h0M542.5 65.0h0M553.1 89.5h0M475.9 104.8h0M528.6 97.6h0M552.6 104.8h0M553.1 112.5h0M513.7 125.2h0M546.5 123.9h0M577.1 137.0h0M518.1 151.8h0M491.4 153.6h0M505.0 154.0h0M464.5 151.8h0M518.1 156.2h0M546.1 154.0h0M543.2 161.7h0M561.8 162.8h0M592.4 168.2h0M585.9 162.8h0M603.4 169.3h0M488.6 175.9h0M500.6 175.9h0M531.2 178.1h0M548.7 169.3h0M566.2 171.5h0M588.1 178.1h0M592.4 179.2h0M455.8 184.6h0M476.5 184.6h0M540.0 184.6h0M720.8 149.7h0M733.9 156.2h0M730.6 165.4h0M763.4 172.0h0M763.4 179.8h0M739.4 183.5h0M668.3 171.5h0M666.1 180.7h0M683.6 182.5h0M636.6 176.3h0M615.8 170.4h0M615.8 200.2h0M633.3 198.5h0M635.5 206.8h0M615.8 211.6h0M616.9 218.2h0M614.7 220.3h0M653.0 204.6h0M660.7 203.3h0M669.4 214.2h0M679.3 212.7h0M647.5 223.0h0M634.4 222.5h0M634.4 228.0h0M641.0 234.6h0M646.5 235.7h0M625.7 230.2h0M619.1 237.8h0M667.2 229.1h0M671.6 228.7h0M689.1 218.2h0M695.7 222.5h0M705.5 207.7h0M720.8 198.5h0M725.2 203.9h0M728.5 213.8h0M737.2 213.8h0M743.8 195.2h0M749.2 196.7h0M748.1 215.5h0M750.3 226.9h0M752.5 207.2h0M761.3 202.9h0M755.8 236.7h0M763.4 190.8h0M524.9 214.0h0M477.0 187.7h0M474.8 190.3h0M493.4 171.8h0M491.8 193.6h0M523.0 173.2h0M493.7 173.5h0M511.8 191.0h0M563.0 208.6h0M516.8 170.2h0M575.8 181.5h0M578.0 185.1h0M535.9 218.3h0M566.3 206.0h0M570.3 206.8h0M560.8 163.8h0M521.5 179.0h0M519.2 208.5h0M580.3 192.0h0M558.3 163.8h0M523.8 195.8h0M546.0 187.5h0M521.4 209.5h0M550.6 181.4h0M537.4 172.8h0M549.1 195.1h0M512.0 189.5h0M513.2 171.2h0M512.6 176.9h0M558.6 153.3h0M465.4 247.6h0M467.5 244.9h0M459.8 242.3h0M484.3 234.0h0M484.2 217.2h0M496.2 252.5h0M505.1 229.0h0M536.8 222.8h0M580.1 226.4h0M602.7 216.2h0M605.6 220.0h0M601.9 219.4h0M568.2 228.8h0M570.8 216.8h0M578.3 226.4h0M553.9 240.4h0M572.7 239.0h0M604.9 248.7h0M557.1 236.0h0M659.1 231.6h0M631.5 238.5h0M601.8 245.5h0M665.7 232.1h0M603.8 233.3h0M554.8 218.3h0M550.3 222.0h0M487.4 216.6h0M473.9 185.8h0M469.9 188.3h0M469.3 204.4h0M517.2 171.4h0M483.7 178.4h0M472.0 196.7h0M533.9 182.2h0M592.4 214.8h0M570.4 228.5h0M564.9 163.8h0M561.7 218.0h0M555.9 162.4h0M594.2 203.9h0M551.6 174.8h0M565.4 208.1h0M580.7 207.6h0M559.6 174.4h0M547.5 203.7h0M570.2 176.4h0M527.7 213.4h0M583.0 219.0h0M583.9 225.4h0M570.5 180.7h0M545.0 218.0h0M545.8 234.2h0M577.8 205.2h0M559.1 183.2h0M506.2 251.8h0M511.8 255.5h0M534.7 244.5h0M496.6 244.2h0M543.5 245.5h0M559.5 245.3h0M519.7 250.7h0M533.2 254.6h0M498.6 242.8h0" stroke="#1f77b4" stroke-width="3.60" stroke-linecap="round" fill="none"/>
<path d="M550.9 79.7h0M458.6 102.6h0M473.3 131.7h0M482.0 130.0h0M484.2 124.5h0M541.7 133.9h0M594.2 149.2h0M574.9 142.0h0M513.7 143.1h0M523.6 148.6h0M529.0 144.2h0M466.7 157.3h0M482.0 162.8h0M518.1 160.6h0M566.2 149.7h0M573.9 168.2h0M459.1 170.4h0M470.0 175.9h0M491.9 171.5h0M496.2 175.9h0M509.3 171.5h0M522.5 173.7h0M735.0 161.0h0M674.2 161.7h0M651.9 169.3h0M616.9 185.7h0M656.3 185.7h0M621.3 189.3h0M612.6 242.2h0M506.8 215.6h0M522.6 216.2h0M497.0 200.6h0M532.6 184.9h0M531.9 209.7h0M515.5 184.1h0M493.2 176.6h0M484.3 185.3h0M528.6 185.6h0M519.2 179.9h0M528.5 199.4h0M506.8 196.5h0M533.8 207.5h0M515.4 175.0h0M492.7 188.1h0M537.4 184.9h0M510.7 184.0h0M504.4 198.6h0M518.6 214.7h0M530.7 210.7h0M495.3 186.8h0M507.5 180.4h0M502.3 166.4h0M493.6 190.5h0M505.9 182.0h0M506.4 204.1h0M580.1 179.0h0M571.7 190.9h0M571.0 164.8h0M545.9 213.9h0M554.3 167.7h0M550.3 184.5h0M537.8 201.3h0M553.2 168.0h0M558.9 172.6h0M581.3 199.0h0M561.7 151.4h0M511.9 174.9h0M543.2 189.0h0M532.7 218.0h0M529.4 156.1h0M493.1 244.4h0M460.3 250.6h0M491.6 214.3h0M510.7 225.0h0M474.4 243.3h0M471.0 211.3h0M495.3 250.1h0M445.6 234.6h0M506.1 232.2h0M507.8 232.2h0M470.6 247.2h0M477.0 256.8h0M470.4 235.4h0M475.7 250.4h0M508.7 224.7h0M481.7 247.1h0M625.9 222.4h0M597.9 221.0h0M644.8 229.6h0M615.4 234.8h0M643.8 225.5h0M501.5 208.4h0M473.5 201.9h0M520.1 206.8h0M471.2 194.0h0M511.0 206.6h0M482.8 190.7h0M495.6 161.7h0M499.4 172.7h0M496.5 187.7h0M498.2 175.7h0M483.0 179.7h0M479.1 204.6h0M495.7 175.2h0M506.6 189.0h0M467.1 191.3h0M477.3 183.0h0M513.2 204.2h0M498.6 189.7h0M471.1 215.9h0M494.2 214.8h0M470.3 198.1h0M535.9 203.1h0M557.3 178.4h0M581.5 200.5h0M509.3 247.4h0M496.5 242.9h0M493.1 251.5h0M528.1 239.9h0" stroke="#d62728" stroke-width="3.60" stroke-linecap="round" fill="none"/>
<path d="M556.4 78.6h0M585.9 116.4h0M533.5 198.8h0M494.5 211.5h0M555.1 217.2h0M537.1 192.3h0M544.7 172.3h0M565.0 190.8h0M555.6 197.5h0M534.6 169.4h0M574.6 163.1h0M544.4 220.3h0M534.6 189.9h0M513.1 171.0h0M552.6 189.6h0M492.0 220.0h0M458.2 213.9h0M453.2 220.7h0M584.2 228.3h0M612.2 241.7h0M607.0 214.2h0M645.8 235.0h0M649.7 231.5h0M593.3 226.1h0M540.9 234.5h0M545.1 233.1h0M560.3 239.1h0M627.6 230.2h0M478.9 187.5h0M472.8 186.7h0M507.1 213.1h0M581.4 179.5h0M582.1 192.7h0M552.3 175.4h0M577.3 192.1h0M573.5 190.4h0M562.4 224.8h0M558.3 216.5h0M544.3 192.9h0M536.1 225.2h0M554.3 250.0h0" stroke="#1f77b4" stroke-width="3.60" stroke-linecap="round" fill="none" stroke-opacity="0.70"/>
<path d="M506.7 98.9h0M655.2 241.8h0" stroke="#1f77b4" stroke-width="3.60" stroke-linecap="round" fill="none" stroke-opacity="0.50"/>
<path d="M564.0 139.8h0" stroke="#d62728" stroke-width="3.60" stroke-linecap="round" fill="none" stroke-opacity="0.60"/>
<path d="M714.2 168.2h0M669.4 238.9h0M712.1 188.6h0M731.7 231.3h0M738.3 223.6h0M723.0 223.6h0M708.8 219.3h0M705.5 225.2h0" stroke="#1f77b4" stroke-width="3.60" stroke-linecap="round" fill="none" stroke-opacity="0.60"/>
<path d="M671.6 240.0h0M743.8 211.6h0M776.6 200.7h0" stroke="#d62728" stroke-width="3.60" stroke-linecap="round" fill="none" stroke-opacity="0.50"/>
<line x1="443.65" y1="18.0" x2="443.65" y2="273.2" stroke="#000" stroke-width="1.4" stroke-dasharray="1.3 2.5"/>
<line x1="682.15" y1="18.0" x2="682.15" y2="273.2" stroke="#000" stroke-width="1.4" stroke-dasharray="1.3 2.5"/>
<line x1="586.75" y1="18.0" x2="586.75" y2="273.2" stroke="#1f77b4" stroke-width="1.4"/>
</svg>
<rect x="435.50" y="18.00" width="342.00" height="255.20" fill="none" stroke="#000" stroke-width="1.0"/>
<line x1="432.00" y1="258.90" x2="435.50" y2="258.90" stroke="#000" stroke-width="1"/>
<text x="428.50" y="262.50" font-size="10.1" text-anchor="end" textLength="17.25" lengthAdjust="spacingAndGlyphs">100</text>
<line x1="432.00" y1="230.59" x2="435.50" y2="230.59" stroke="#000" stroke-width="1"/>
<text x="428.50" y="234.19" font-size="10.1" text-anchor="end" textLength="17.25" lengthAdjust="spacingAndGlyphs">200</text>
<line x1="432.00" y1="202.27" x2="435.50" y2="202.27" stroke="#000" stroke-width="1"/>
<text x="428.50" y="205.87" font-size="10.1" text-anchor="end" textLength="17.25" lengthAdjust="spacingAndGlyphs">300</text>
<line x1="432.00" y1="173.96" x2="435.50" y2="173.96" stroke="#000" stroke-width="1"/>
<text x="428.50" y="177.56" font-size="10.1" text-anchor="end" textLength="17.25" lengthAdjust="spacingAndGlyphs">400</text>
<line x1="432.00" y1="145.65" x2="435.50" y2="145.65" stroke="#000" stroke-width="1"/>
<text x="428.50" y="149.25" font-size="10.1" text-anchor="end" textLength="17.25" lengthAdjust="spacingAndGlyphs">500</text>
<line x1="432.00" y1="117.34" x2="435.50" y2="117.34" stroke="#000" stroke-width="1"/>
<text x="428.50" y="120.94" font-size="10.1" text-anchor="end" textLength="17.25" lengthAdjust="spacingAndGlyphs">600</text>
<line x1="432.00" y1="89.03" x2="435.50" y2="89.03" stroke="#000" stroke-width="1"/>
<text x="428.50" y="92.62" font-size="10.1" text-anchor="end" textLength="17.25" lengthAdjust="spacingAndGlyphs">700</text>
<line x1="432.00" y1="60.71" x2="435.50" y2="60.71" stroke="#000" stroke-width="1"/>
<text x="428.50" y="64.31" font-size="10.1" text-anchor="end" textLength="17.25" lengthAdjust="spacingAndGlyphs">800</text>
<line x1="432.00" y1="32.40" x2="435.50" y2="32.40" stroke="#000" stroke-width="1"/>
<text x="428.50" y="36.00" font-size="10.1" text-anchor="end" textLength="17.25" lengthAdjust="spacingAndGlyphs">900</text>
<line x1="451.60" y1="273.20" x2="451.60" y2="276.70" stroke="#000" stroke-width="1"/>
<text x="451.60" y="287.00" font-size="10.1" text-anchor="middle" textLength="17.25" lengthAdjust="spacingAndGlyphs">250</text>
<line x1="491.35" y1="273.20" x2="491.35" y2="276.70" stroke="#000" stroke-width="1"/>
<text x="491.35" y="287.00" font-size="10.1" text-anchor="middle" textLength="17.25" lengthAdjust="spacingAndGlyphs">500</text>
<line x1="531.10" y1="273.20" x2="531.10" y2="276.70" stroke="#000" stroke-width="1"/>
<text x="531.10" y="287.00" font-size="10.1" text-anchor="middle" textLength="17.25" lengthAdjust="spacingAndGlyphs">750</text>
<line x1="570.85" y1="273.20" x2="570.85" y2="276.70" stroke="#000" stroke-width="1"/>
<text x="570.85" y="287.00" font-size="10.1" text-anchor="middle" textLength="23.20" lengthAdjust="spacingAndGlyphs">1000</text>
<line x1="610.60" y1="273.20" x2="610.60" y2="276.70" stroke="#000" stroke-width="1"/>
<text x="610.60" y="287.00" font-size="10.1" text-anchor="middle" textLength="23.20" lengthAdjust="spacingAndGlyphs">1250</text>
<line x1="650.35" y1="273.20" x2="650.35" y2="276.70" stroke="#000" stroke-width="1"/>
<text x="650.35" y="287.00" font-size="10.1" text-anchor="middle" textLength="23.20" lengthAdjust="spacingAndGlyphs">1500</text>
<line x1="690.10" y1="273.20" x2="690.10" y2="276.70" stroke="#000" stroke-width="1"/>
<text x="690.10" y="287.00" font-size="10.1" text-anchor="middle" textLength="23.20" lengthAdjust="spacingAndGlyphs">1750</text>
<line x1="729.85" y1="273.20" x2="729.85" y2="276.70" stroke="#000" stroke-width="1"/>
<text x="729.85" y="287.00" font-size="10.1" text-anchor="middle" textLength="23.20" lengthAdjust="spacingAndGlyphs">2000</text>
<line x1="769.60" y1="273.20" x2="769.60" y2="276.70" stroke="#000" stroke-width="1"/>
<text x="769.60" y="287.00" font-size="10.1" text-anchor="middle" textLength="23.20" lengthAdjust="spacingAndGlyphs">2250</text>
<text x="606.50" y="12.40" font-size="15.5" text-anchor="middle" textLength="137.80" lengthAdjust="spacingAndGlyphs">75 to 85 years old</text>
<text x="606.50" y="302.90" font-size="13.6" text-anchor="middle" textLength="38.60" lengthAdjust="spacingAndGlyphs">Abeta</text>
<text x="403.80" y="144.60" font-size="13.8" text-anchor="middle" textLength="24.60" lengthAdjust="spacingAndGlyphs" transform="rotate(-90 403.80 144.60)">Tau</text>
<rect x="656.50" y="24.70" width="114.50" height="43.20" rx="2" ry="2" fill="#fff" fill-opacity="0.8" stroke="#cccccc" stroke-width="1"/>
<circle cx="675.70" cy="36.10" r="3.4" fill="#1f77b4"/>
<circle cx="675.70" cy="55.60" r="3.4" fill="#d62728"/>
<text x="700.30" y="40.30" font-size="12.8" text-anchor="start" textLength="64.50" lengthAdjust="spacingAndGlyphs">no APOE4</text>
<text x="700.30" y="60.00" font-size="12.8" text-anchor="start" textLength="44.00" lengthAdjust="spacingAndGlyphs">APOE4</text>
<svg x="37.5" y="341.0" width="338.9" height="252.39999999999998" viewBox="37.5 341.0 338.9 252.39999999999998" overflow="hidden">
<path class="c23" d="M131.0 472.2l3.1-12.1M131.0 472.2l4.2-13.6M131.0 472.2l5.0-14.0"/>
<path class="c24" d="M137.6 473.3l5.6-5.8M137.6 473.3l6.7-6.3M137.6 473.3l7.3-6.2"/>
<path class="c23" d="M107.0 485.3l2.0-16.7M107.0 485.3l3.1-18.8M107.0 485.3l4.2-19.5"/>
<path class="c24" d="M122.3 480.9l5.3-5.8M122.3 480.9l6.3-6.3M122.3 480.9l6.8-6.2"/>
<path class="c23" d="M90.6 490.7l0.5-9.2M90.6 490.7l1.0-10.4M90.6 490.7l1.6-10.9"/>
<path class="c23" d="M93.9 496.2l-2.2-7.3M93.9 496.2l-2.1-8.3M93.9 496.2l-1.8-8.8"/>
<path class="c23" d="M116.8 497.3l2.3-9.3M116.8 497.3l3.1-10.4M116.8 497.3l3.8-10.8"/>
<path class="c24" d="M124.5 496.2l4.1-11.2M124.5 496.2l5.2-12.5M124.5 496.2l6.0-12.8"/>
<path class="c24" d="M140.9 492.9l6.1-6.7M140.9 492.9l7.3-7.3M140.9 492.9l8.0-7.3"/>
<path class="c24" d="M155.1 481.3l6.2-5.3M155.1 481.3l7.3-5.6M155.1 481.3l7.9-5.5"/>
<path class="c24" d="M162.7 495.1l11.5-8.1M162.7 495.1l13.3-8.7M162.7 495.1l12.2-7.5M162.7 495.1l13.5-7.8M162.7 495.1l12.9-6.9"/>
<path class="c24" d="M196.6 475.4l6.9-9.5M196.6 475.4l8.3-10.4M196.6 475.4l9.2-10.5"/>
<path class="c25" d="M181.3 476.5l10.3-12.6M181.3 476.5l12.1-13.9M181.3 476.5l11.3-12.2M181.3 476.5l12.6-12.9M181.3 476.5l12.2-11.8"/>
<path class="c25" d="M171.5 501.7l9.2-12.7M171.5 501.7l10.9-13.9M171.5 501.7l10.3-12.2M171.5 501.7l11.7-12.8M171.5 501.7l11.5-11.6" opacity="0.70"/>
<path class="c25" d="M182.4 510.4l10.2-11.8M182.4 510.4l12.0-12.9M182.4 510.4l11.3-11.3M182.4 510.4l12.7-11.8M182.4 510.4l12.3-10.6"/>
<path class="c24" d="M168.2 504.5l7.2-3.6M168.2 504.5l8.3-3.8M168.2 504.5l8.9-3.5"/>
<path class="c24" d="M173.7 512.6l8.0-6.8M173.7 512.6l9.4-7.3M173.7 512.6l10.2-7.2"/>
<path class="c26" d="M151.8 513.3l10.1-1.4M151.8 513.3l11.5-1.0M151.8 513.3l12.0-0.6"/>
<path class="c27" d="M75.3 508.2l-4.6 0.3M75.3 508.2l-5.2 0.2M75.3 508.2l-4.7 0.0M75.3 508.2l-5.1-0.2M75.3 508.2l-4.8-0.3"/>
<path class="c28" d="M79.6 507.1l1.6-5.6M79.6 507.1l2.1-6.3M79.6 507.1l2.5-6.4"/>
<path class="c23" d="M74.2 522.5l1.4-9.3M74.2 522.5l2.1-10.4M74.2 522.5l2.7-10.8"/>
<path class="c29" d="M93.9 502.8l-4.3-1.8M93.9 502.8l-4.7-2.2M93.9 502.8l-4.2-2.1M93.9 502.8l-4.5-2.4M93.9 502.8l-4.2-2.4"/>
<path class="c24" d="M316.7 470.2l13.6-12.9M316.7 470.2l16.0-13.8M316.7 470.2l15.0-11.8M316.7 470.2l16.9-12.1M316.7 470.2l16.4-10.7"/>
<path class="c24" d="M196.4 476.1l6.4-10.7M196.4 476.1l7.8-11.8M196.4 476.1l7.5-10.3M196.4 476.1l8.7-10.8M196.4 476.1l8.6-9.8"/>
<path class="c24" d="M187.7 546.7l6.4-11.3M187.7 546.7l7.8-12.4M187.7 546.7l7.5-10.9M187.7 546.7l8.7-11.4M187.7 546.7l8.6-10.4"/>
<path class="c30" d="M181.1 538.4l1.8-4.3M181.1 538.4l2.2-4.7M181.1 538.4l2.1-4.2M181.1 538.4l2.4-4.5M181.1 538.4l2.4-4.2"/>
<path class="c31" d="M225.9 551.5l10.9-2.5M225.9 551.5l12.4-2.5M225.9 551.5l11.3-1.9M225.9 551.5l12.3-1.7M225.9 551.5l11.6-1.2"/>
<path class="c31" d="M212.8 560.3l11.8-2.6M212.8 560.3l13.4-2.5M212.8 560.3l12.2-1.9M212.8 560.3l13.3-1.6M212.8 560.3l12.6-1.2"/>
<path class="c26" d="M150.7 512.8l11.0-1.4M150.7 512.8l12.5-1.0M150.7 512.8l13.1-0.5"/>
<path class="c32" d="M155.1 527.0l5.3-4.0M155.1 527.0l6.1-4.3M155.1 527.0l5.6-3.8M155.1 527.0l6.2-3.9M155.1 527.0l6.0-3.5"/>
<path class="c26" d="M126.7 519.4l10.9-3.3M126.7 519.4l12.5-3.1M126.7 519.4l13.2-2.7"/>
<path class="c25" d="M148.5 545.6l6.1-5.0M148.5 545.6l7.1-5.4M148.5 545.6l6.6-4.7M148.5 545.6l7.3-4.9M148.5 545.6l7.0-4.4"/>
<path class="c26" d="M159.5 557.6l11.1 0.4M159.5 557.6l12.5 1.0M159.5 557.6l13.0 1.7"/>
<path class="c26" d="M166.0 543.4l7.4 0.6M166.0 543.4l8.3 1.0M166.0 543.4l8.7 1.5"/>
<path class="c33" d="M125.6 556.5l4.8 4.4M125.6 556.5l5.2 5.2M125.6 556.5l5.2 5.7"/>
<path class="c26" d="M104.8 562.0l7.4 0.6M104.8 562.0l8.3 1.0M104.8 562.0l8.7 1.5"/>
<path class="c34" d="M85.1 580.6l0.3 5.5M85.1 580.6l0.2 6.2M85.1 580.6l0.0 5.6M85.1 580.6l-0.2 6.1M85.1 580.6l-0.3 5.7"/>
<path class="c35" d="M131.0 581.7l5.5-0.2M131.0 581.7l6.3 0.0M131.0 581.7l6.5 0.3"/>
<path class="c32" d="M92.8 534.7l3.7-2.8M92.8 534.7l4.3-3.0M92.8 534.7l3.9-2.6M92.8 534.7l4.3-2.7M92.8 534.7l4.2-2.4"/>
<path class="c32" d="M85.1 523.7l3.1-3.5M85.1 523.7l3.6-3.8M85.1 523.7l3.3-3.3M85.1 523.7l3.7-3.5M85.1 523.7l3.6-3.2"/>
<path class="c32" d="M93.9 501.9l4.0-2.3M93.9 501.9l4.6-2.5M93.9 501.9l4.2-2.1M93.9 501.9l4.7-2.2M93.9 501.9l4.4-1.9"/>
<path class="c35" d="M74.2 508.4l4.6-0.3M74.2 508.4l5.2-0.2M74.2 508.4l4.7 0.0M74.2 508.4l5.1 0.2M74.2 508.4l4.8 0.3"/>
<path class="c26" d="M120.1 507.3l9.2 0.5M120.1 507.3l10.4 1.0M120.1 507.3l10.9 1.6"/>
<path class="c33" d="M122.3 545.6l4.3 1.8M122.3 545.6l4.7 2.2M122.3 545.6l4.2 2.1M122.3 545.6l4.5 2.4M122.3 545.6l4.2 2.4"/>
<path class="c35" d="M96.0 564.2l4.4-1.4M96.0 564.2l5.0-1.4M96.0 564.2l4.6-1.1M96.0 564.2l5.0-1.1M96.0 564.2l4.7-0.9"/>
<path class="c23" d="M72.0 524.8l2.3-13.9M72.0 524.8l3.1-15.6M72.0 524.8l3.8-16.3"/>
<path class="c36" d="M150.7 570.7l5.6 0.7M150.7 570.7l6.3 1.0M150.7 570.7l6.5 1.4"/>
<path class="c30" d="M124.5 572.9l4.4-3.9M124.5 572.9l5.2-4.2M124.5 572.9l5.6-4.1"/>
<path class="c37" d="M107.0 586.1l4.2 1.9M107.0 586.1l4.7 2.3M107.0 586.1l4.8 2.7"/>
<path class="c30" d="M100.4 576.2l4.0-2.3M100.4 576.2l4.7-2.3M100.4 576.2l5.0-2.2"/>
<path class="c24" d="M187.9 545.6l7.7-10.6M187.9 545.6l9.0-11.7M187.9 545.6l8.4-10.3M187.9 545.6l9.5-10.9M187.9 545.6l9.3-10.0"/>
<path class="c24" d="M168.2 555.4l8.7-8.8M168.2 555.4l10.1-9.7M168.2 555.4l9.4-8.4M168.2 555.4l10.5-8.9M168.2 555.4l10.1-8.0"/>
<path class="c24" d="M174.8 512.8l7.0-6.9M174.8 512.8l8.1-7.5M174.8 512.8l7.5-6.6M174.8 512.8l8.4-6.9M174.8 512.8l8.1-6.2"/>
<path class="c24" d="M163.8 495.3l10.6-7.1M163.8 495.3l12.2-7.6M163.8 495.3l11.3-6.6M163.8 495.3l12.4-6.8M163.8 495.3l11.9-6.0"/>
<path class="c31" d="M80.1 532.6l6.7-1.1M80.1 532.6l7.7-1.2M80.1 532.6l8.0-1.1"/>
<path class="c30" d="M106.6 511.7l5.0-3.0M106.6 511.7l5.7-3.3M106.6 511.7l6.1-3.3"/>
<path class="c24" d="M85.5 523.8l4.9-6.0M85.5 523.8l5.7-6.7M85.5 523.8l6.1-6.9"/>
<path class="c30" d="M115.0 546.6l4.6-2.8M115.0 546.6l5.2-3.1M115.0 546.6l5.5-3.1" opacity="0.70"/>
<path class="c30" d="M108.4 523.8l2.2-4.2M108.4 523.8l2.6-4.6M108.4 523.8l2.9-4.8"/>
<path class="c24" d="M100.0 535.0l6.0-3.9M100.0 535.0l6.8-4.3M100.0 535.0l7.2-4.5" opacity="0.70"/>
<path class="c36" d="M122.8 534.4l6.1-1.4M122.8 534.4l6.9-1.4M122.8 534.4l7.3-1.3"/>
<path class="c24" d="M86.7 515.0l5.7-5.4M86.7 515.0l6.7-5.9M86.7 515.0l7.1-6.0" opacity="0.70"/>
<path class="c30" d="M85.9 555.0l3.2-3.3M85.9 555.0l3.8-3.7M85.9 555.0l4.0-3.7" opacity="0.70"/>
<path class="c36" d="M125.9 550.7l4.7-0.2M125.9 550.7l5.3-0.0M125.9 550.7l5.5 0.1"/>
<path class="c23" d="M95.6 507.9l2.6-6.9M95.6 507.9l3.1-7.7M95.6 507.9l3.4-8.0"/>
<path class="c30" d="M110.6 562.4l4.3-3.7M110.6 562.4l5.0-4.1M110.6 562.4l5.3-4.2"/>
<path class="c24" d="M134.2 554.0l6.7-4.1M134.2 554.0l7.7-4.4M134.2 554.0l8.2-4.3"/>
<path class="c30" d="M86.8 551.6l5.2-2.3M86.8 551.6l5.9-2.6M86.8 551.6l6.2-2.6" opacity="0.70"/>
<path class="c30" d="M122.5 551.7l2.6-6.2M122.5 551.7l3.1-6.9M122.5 551.7l3.5-7.1" opacity="0.70"/>
<path class="c24" d="M88.5 539.1l4.9-5.2M88.5 539.1l5.7-5.7M88.5 539.1l6.1-5.9"/>
<path class="c32" d="M109.4 504.1l2.6-5.1M109.4 504.1l3.1-5.7M109.4 504.1l3.4-5.8"/>
<path class="c24" d="M135.9 524.0l6.2-3.3M135.9 524.0l7.2-3.6M135.9 524.0l7.6-3.6" opacity="0.70"/>
<path class="c30" d="M128.7 537.7l2.6-3.9M128.7 537.7l3.1-4.4M128.7 537.7l3.3-4.5"/>
<path class="c30" d="M82.0 534.5l3.2-5.1M82.0 534.5l3.7-5.7M82.0 534.5l4.0-5.9"/>
<path class="c24" d="M124.5 548.7l6.2-4.1M124.5 548.7l7.1-4.5M124.5 548.7l7.6-4.5"/>
<path class="c24" d="M118.5 548.0l3.9-6.6M118.5 548.0l4.6-7.4M118.5 548.0l5.0-7.6"/>
<path class="c31" d="M110.2 555.8l7.0-2.9M110.2 555.8l8.1-3.0M110.2 555.8l8.5-3.0" opacity="0.70"/>
<path class="c36" d="M100.5 562.0l5.8-2.1M100.5 562.0l6.6-2.2M100.5 562.0l7.0-2.1"/>
<path class="c31" d="M125.2 533.5l7.9-0.2M125.2 533.5l8.9-0.1M125.2 533.5l9.3-0.0" opacity="0.70"/>
<path class="c36" d="M84.3 535.9l5.7-1.9M84.3 535.9l6.5-1.9M84.3 535.9l6.9-1.8"/>
<path class="c30" d="M98.2 561.9l3.6-4.2M98.2 561.9l4.2-4.6M98.2 561.9l4.5-4.8"/>
<path class="c24" d="M138.1 530.8l5.2-5.5M138.1 530.8l6.0-6.1M138.1 530.8l6.4-6.3" opacity="0.70"/>
<path class="c32" d="M141.0 535.1l3.6-4.4M141.0 535.1l4.2-4.8M141.0 535.1l4.6-4.9" opacity="0.70"/>
<path class="c24" d="M104.2 517.8l5.7-3.8M104.2 517.8l6.5-4.1M104.2 517.8l6.9-4.1" opacity="0.70"/>
<path class="c36" d="M80.2 526.3l6.2-1.4M80.2 526.3l7.1-1.4M80.2 526.3l7.4-1.3"/>
<path class="c30" d="M130.4 519.0l3.5-5.8M130.4 519.0l4.1-6.5M130.4 519.0l4.4-6.7"/>
<path class="c36" d="M130.3 544.1l5.5-2.3M130.3 544.1l6.3-2.5M130.3 544.1l6.7-2.4" opacity="0.70"/>
<path class="c36" d="M128.7 529.4l4.8-0.9M128.7 529.4l5.5-0.8M128.7 529.4l5.8-0.7" opacity="0.70"/>
<path class="c31" d="M101.8 537.2l7.4-0.3M101.8 537.2l8.4-0.1M101.8 537.2l8.8 0.1"/>
<path class="c36" d="M126.4 542.7l4.6-0.3M126.4 542.7l5.2-0.2M126.4 542.7l5.5-0.1"/>
<path class="c36" d="M76.2 545.9l4.7-1.8M76.2 545.9l5.3-1.9M76.2 545.9l5.6-1.8"/>
<path class="c24" d="M126.5 509.0l6.1-4.1M126.5 509.0l7.1-4.5M126.5 509.0l7.5-4.5"/>
<path class="c36" d="M84.6 553.2l4.6-0.9M84.6 553.2l5.2-0.9M84.6 553.2l5.5-0.8" opacity="0.70"/>
<path class="c36" d="M140.9 537.0l5.5-2.0M140.9 537.0l6.2-2.1M140.9 537.0l6.6-2.1"/>
<path class="c31" d="M79.7 550.3l7.7-0.8M79.7 550.3l8.7-0.7M79.7 550.3l9.1-0.6"/>
<path class="c24" d="M140.2 543.8l5.5-5.5M140.2 543.8l6.3-6.2M140.2 543.8l6.7-6.4"/>
<path class="c30" d="M95.5 524.6l4.3-3.3M95.5 524.6l4.9-3.6M95.5 524.6l5.2-3.7"/>
<path class="c30" d="M103.0 523.0l2.2-4.4M103.0 523.0l2.6-4.9M103.0 523.0l2.8-5.1"/>
<path class="c31" d="M123.0 516.3l7.0-1.1M123.0 516.3l8.0-1.0M123.0 516.3l8.4-0.9" opacity="0.70"/>
<path class="c30" d="M103.7 536.7l2.3-4.0M103.7 536.7l2.8-4.5M103.7 536.7l3.0-4.6"/>
<path class="c30" d="M92.0 550.7l3.5-5.2M92.0 550.7l4.0-5.8M92.0 550.7l4.3-6.1"/>
<path class="c30" d="M94.7 540.9l2.5-4.1M94.7 540.9l2.9-4.6M94.7 540.9l3.1-4.7"/>
<path class="c30" d="M130.7 548.6l5.0-3.6M130.7 548.6l5.7-3.9M130.7 548.6l6.1-3.9"/>
<path class="c31" d="M116.8 538.5l7.6-1.3M116.8 538.5l8.7-1.3M116.8 538.5l9.1-1.1"/>
<path class="c30" d="M90.5 551.1l2.4-4.6M90.5 551.1l2.9-5.2M90.5 551.1l3.1-5.4"/>
<path class="c36" d="M107.3 527.0l5.7-1.3M107.3 527.0l6.5-1.3M107.3 527.0l6.8-1.2" opacity="0.70"/>
<path class="c30" d="M133.4 558.0l3.6-5.1M133.4 558.0l4.3-5.6M133.4 558.0l4.7-5.8"/>
<path class="c32" d="M99.0 548.3l4.3-4.8M99.0 548.3l4.9-5.4M99.0 548.3l5.3-5.5"/>
<path class="c32" d="M106.3 558.5l2.9-4.0M106.3 558.5l3.3-4.5M106.3 558.5l3.5-4.7"/>
<path class="c36" d="M130.5 530.6l6.2-2.4M130.5 530.6l7.1-2.7M130.5 530.6l7.4-2.7"/>
<path class="c36" d="M116.4 560.5l4.5-0.9M116.4 560.5l5.2-0.9M116.4 560.5l5.4-0.9"/>
<path class="c30" d="M90.0 526.5l5.1-2.6M90.0 526.5l5.8-2.8M90.0 526.5l6.1-2.9" opacity="0.70"/>
<path class="c30" d="M88.3 537.1l4.1-2.2M88.3 537.1l4.7-2.4M88.3 537.1l4.9-2.5"/>
<path class="c36" d="M81.6 523.8l5.1-1.5M81.6 523.8l5.8-1.5M81.6 523.8l6.1-1.5"/>
<path class="c30" d="M86.4 516.0l5.1-3.4M86.4 516.0l5.8-3.8M86.4 516.0l6.1-3.9"/>
<path class="c31" d="M113.1 533.3l7.1-0.9M113.1 533.3l8.1-0.9M113.1 533.3l8.4-0.8"/>
<path class="c30" d="M101.7 557.7l3.7-3.1M101.7 557.7l4.3-3.4M101.7 557.7l4.6-3.5" opacity="0.70"/>
<path class="c30" d="M137.9 520.1l2.7-3.8M137.9 520.1l3.1-4.2M137.9 520.1l3.4-4.3"/>
<path class="c30" d="M112.6 525.4l2.7-5.1M112.6 525.4l3.2-5.7M112.6 525.4l3.5-5.9"/>
<path class="c24" d="M135.2 526.4l3.9-5.7M135.2 526.4l4.6-6.4M135.2 526.4l5.0-6.5"/>
<path class="c36" d="M122.3 534.5l5.2-1.7M122.3 534.5l6.0-1.8M122.3 534.5l6.3-1.7"/>
<path class="c30" d="M138.1 540.5l4.1-2.2M138.1 540.5l4.6-2.5M138.1 540.5l4.9-2.5"/>
<path class="c31" d="M118.5 506.4l6.6-1.2M118.5 506.4l7.5-1.3M118.5 506.4l7.9-1.2" opacity="0.70"/>
<path class="c25" d="M92.7 530.2l5.2-5.4M92.7 530.2l6.1-5.9M92.7 530.2l6.6-6.0"/>
<path class="c36" d="M90.1 518.9l4.3-1.6M90.1 518.9l5.0-1.7M90.1 518.9l5.2-1.7" opacity="0.70"/>
<path class="c30" d="M90.8 541.7l2.5-5.4M90.8 541.7l3.0-6.0M90.8 541.7l3.3-6.2" opacity="0.70"/>
<path class="c31" d="M96.8 519.0l6.7-1.8M96.8 519.0l7.6-1.8M96.8 519.0l8.0-1.8" opacity="0.70"/>
<path class="c30" d="M95.9 546.7l5.6-2.9M95.9 546.7l6.4-3.2M95.9 546.7l6.8-3.2"/>
<path class="c36" d="M85.7 517.0l5.7-0.8M85.7 517.0l6.5-0.7M85.7 517.0l6.8-0.6"/>
<path class="c35" d="M137.9 555.6l5.2-0.5M137.9 555.6l5.9-0.4M137.9 555.6l6.2-0.3"/>
<path class="c35" d="M80.9 517.7l6.5-0.3M80.9 517.7l7.4-0.1M80.9 517.7l7.7 0.0" opacity="0.70"/>
<path class="c36" d="M109.0 531.8l4.6-0.7M109.0 531.8l5.2-0.7M109.0 531.8l5.5-0.6"/>
<path class="c31" d="M80.1 528.5l6.5-2.6M80.1 528.5l7.4-2.8M80.1 528.5l7.8-2.8"/>
<path class="c31" d="M130.9 559.5l7.3-0.9M130.9 559.5l8.4-0.8M130.9 559.5l8.8-0.6"/>
<path class="c30" d="M100.5 541.3l4.2-2.1M100.5 541.3l4.8-2.3M100.5 541.3l5.1-2.3"/>
<path class="c30" d="M75.9 537.4l3.6-3.6M75.9 537.4l4.2-4.0M75.9 537.4l4.4-4.1"/>
<path class="c36" d="M122.6 555.3l4.5-1.3M122.6 555.3l5.2-1.4M122.6 555.3l5.4-1.3"/>
<path class="c30" d="M120.4 508.4l3.7-3.7M120.4 508.4l4.2-4.1M120.4 508.4l4.5-4.2"/>
<path class="c31" d="M138.9 523.6l6.5-1.7M138.9 523.6l7.4-1.7M138.9 523.6l7.8-1.7"/>
<path class="c24" d="M97.4 554.6l5.0-4.9M97.4 554.6l5.7-5.4M97.4 554.6l6.1-5.6" opacity="0.70"/>
<path class="c30" d="M81.6 552.3l2.1-4.6M81.6 552.3l2.5-5.2M81.6 552.3l2.8-5.3"/>
<path class="c36" d="M134.5 543.7l5.6-1.4M134.5 543.7l6.3-1.5M134.5 543.7l6.7-1.4"/>
<path class="c30" d="M123.0 508.2l5.5-3.2M123.0 508.2l6.4-3.5M123.0 508.2l6.7-3.5"/>
<path class="c24" d="M108.4 528.1l5.4-5.0M108.4 528.1l6.1-5.6M108.4 528.1l6.5-5.8"/>
<path class="c36" d="M85.2 517.4l4.3-1.8M85.2 517.4l4.9-2.0M85.2 517.4l5.2-2.0"/>
<path class="c25" d="M102.8 567.2l4.1-6.1M102.8 567.2l4.8-6.9M102.8 567.2l5.1-7.1"/>
<path class="c24" d="M125.0 548.0l5.9-5.1M125.0 548.0l6.8-5.6M125.0 548.0l7.2-5.7"/>
<path class="c24" d="M115.8 510.4l3.5-7.0M115.8 510.4l4.1-7.8M115.8 510.4l4.5-8.1" opacity="0.70"/>
<path class="c36" d="M96.4 555.3l6.1-1.0M96.4 555.3l6.9-1.1M96.4 555.3l7.2-1.0"/>
<path class="c24" d="M87.2 515.4l3.9-6.3M87.2 515.4l4.5-7.0M87.2 515.4l4.9-7.3"/>
<path class="c32" d="M112.6 531.0l4.7-4.8M112.6 531.0l5.4-5.3M112.6 531.0l5.8-5.5" opacity="0.70"/>
<path class="c30" d="M121.7 534.8l2.6-6.0M121.7 534.8l3.1-6.8M121.7 534.8l3.3-7.0"/>
<path class="c36" d="M88.3 553.6l4.3-1.8M88.3 553.6l4.9-1.9M88.3 553.6l5.1-2.0"/>
<path class="c36" d="M99.0 518.2l4.6-0.7M99.0 518.2l5.3-0.8M99.0 518.2l5.5-0.7"/>
<path class="c36" d="M132.8 525.7l5.8-2.2M132.8 525.7l6.6-2.4M132.8 525.7l7.0-2.3"/>
<path class="c30" d="M89.9 525.1l4.7-2.1M89.9 525.1l5.4-2.3M89.9 525.1l5.6-2.3"/>
<path class="c32" d="M138.2 531.7l5.3-3.6M138.2 531.7l6.1-4.0M138.2 531.7l6.4-4.1" opacity="0.70"/>
<path class="c24" d="M134.6 530.4l5.0-5.9M134.6 530.4l5.8-6.6M134.6 530.4l6.1-6.8"/>
<path class="c30" d="M111.1 520.6l2.8-4.9M111.1 520.6l3.3-5.5M111.1 520.6l3.5-5.7"/>
<path class="c30" d="M92.9 540.6l4.0-2.5M92.9 540.6l4.6-2.7M92.9 540.6l4.9-2.8"/>
<path class="c31" d="M106.1 517.5l7.6-0.6M106.1 517.5l8.6-0.4M106.1 517.5l9.1-0.2"/>
<path class="c30" d="M93.3 527.7l3.8-4.9M93.3 527.7l4.4-5.5M93.3 527.7l4.7-5.6"/>
<path class="c32" d="M93.1 544.8l3.3-3.8M93.1 544.8l3.8-4.2M93.1 544.8l4.1-4.3" opacity="0.70"/>
<path class="c30" d="M126.2 527.2l3.6-2.9M126.2 527.2l4.2-3.2M126.2 527.2l4.4-3.3"/>
<path class="c30" d="M122.5 521.2l2.2-4.8M122.5 521.2l2.6-5.4M122.5 521.2l2.8-5.7"/>
<path class="c30" d="M116.7 538.3l2.7-4.1M116.7 538.3l3.2-4.7M116.7 538.3l3.4-4.8"/>
<path class="c30" d="M83.5 528.8l3.1-3.4M83.5 528.8l3.6-3.8M83.5 528.8l3.9-3.8" opacity="0.70"/>
<path class="c30" d="M76.2 536.6l2.9-5.8M76.2 536.6l3.4-6.5M76.2 536.6l3.7-6.8" opacity="0.70"/>
<path class="c24" d="M93.4 530.2l3.4-6.8M93.4 530.2l4.0-7.6M93.4 530.2l4.3-7.9"/>
<path class="c31" d="M122.1 535.4l6.9-0.2M122.1 535.4l7.8-0.0M122.1 535.4l8.1 0.2"/>
<path class="c32" d="M132.4 549.1l2.5-4.1M132.4 549.1l3.0-4.6M132.4 549.1l3.2-4.7" opacity="0.70"/>
<path class="c30" d="M99.2 549.6l4.3-4.5M99.2 549.6l5.1-5.0M99.2 549.6l5.5-5.0"/>
<path class="c31" d="M116.9 540.0l7.1-1.5M116.9 540.0l8.1-1.4M116.9 540.0l8.5-1.3"/>
<path class="c31" d="M104.2 504.4l7.5-1.6M104.2 504.4l8.6-1.6M104.2 504.4l9.0-1.5"/>
<path class="c24" d="M96.8 550.9l4.9-4.9M96.8 550.9l5.7-5.4M96.8 550.9l6.1-5.5"/>
<path class="c24" d="M122.3 542.9l3.5-6.0M122.3 542.9l4.1-6.7M122.3 542.9l4.5-6.9"/>
<path class="c30" d="M86.5 521.3l4.0-2.4M86.5 521.3l4.6-2.6M86.5 521.3l4.8-2.6" opacity="0.70"/>
<path class="c30" d="M82.0 549.8l3.8-4.4M82.0 549.8l4.4-4.9M82.0 549.8l4.7-5.0"/>
<path class="c30" d="M116.5 518.5l3.0-5.6M116.5 518.5l3.6-6.2M116.5 518.5l3.9-6.4"/>
<path class="c24" d="M123.4 535.1l5.9-4.8M123.4 535.1l6.8-5.3M123.4 535.1l7.2-5.5"/>
<path class="c30" d="M147.6 505.8l2.6-5.2M147.6 505.8l3.1-5.9M147.6 505.8l3.4-6.0" opacity="0.70"/>
<path class="c30" d="M147.8 512.7l1.9-4.8M147.8 512.7l2.3-5.4M147.8 512.7l2.5-5.6" opacity="0.70"/>
<path class="c30" d="M104.7 512.3l2.0-4.8M104.7 512.3l2.4-5.4M104.7 512.3l2.6-5.6"/>
<path class="c36" d="M98.4 530.3l6.5-1.2M98.4 530.3l7.4-1.3M98.4 530.3l7.7-1.2"/>
<path class="c36" d="M148.2 544.1l5.9-1.9M148.2 544.1l6.8-2.0M148.2 544.1l7.1-1.9"/>
<path class="c31" d="M109.2 570.0l7.4-2.5M109.2 570.0l8.5-2.6M109.2 570.0l9.0-2.4" opacity="0.70"/>
<path class="c30" d="M131.0 528.2l3.2-5.5M131.0 528.2l3.8-6.1M131.0 528.2l4.1-6.3"/>
<path class="c36" d="M152.4 528.1l5.4-1.0M152.4 528.1l6.2-1.0M152.4 528.1l6.5-0.9"/>
<path class="c30" d="M148.1 555.0l4.0-3.0M148.1 555.0l4.6-3.3M148.1 555.0l4.9-3.4" opacity="0.70"/>
<path class="c30" d="M161.3 521.4l4.5-4.0M161.3 521.4l5.3-4.4M161.3 521.4l5.7-4.4"/>
<path class="c36" d="M115.7 502.3l6.3-0.7M115.7 502.3l7.2-0.7M115.7 502.3l7.5-0.6" opacity="0.70"/>
<path class="c30" d="M77.1 541.0l3.3-3.4M77.1 541.0l3.9-3.8M77.1 541.0l4.2-3.8" opacity="0.70"/>
<path class="c36" d="M111.9 511.3l5.5-0.5M111.9 511.3l6.3-0.4M111.9 511.3l6.6-0.3" opacity="0.70"/>
<path class="c30" d="M92.7 550.3l4.6-3.9M92.7 550.3l5.4-4.2M92.7 550.3l5.7-4.3"/>
<path class="c24" d="M130.3 507.2l6.2-3.5M130.3 507.2l7.1-3.8M130.3 507.2l7.5-3.9"/>
<path class="c26" d="M106.5 518.1l7.4-1.4M106.5 518.1l8.5-1.5M106.5 518.1l8.9-1.4"/>
<path class="c30" d="M151.5 547.0l3.8-2.9M151.5 547.0l4.4-3.2M151.5 547.0l4.7-3.2"/>
<path class="c30" d="M132.2 553.8l3.4-3.2M132.2 553.8l3.9-3.5M132.2 553.8l4.2-3.6" opacity="0.70"/>
<path class="c23" d="M151.4 507.8l2.8-7.3M151.4 507.8l3.3-8.2M151.4 507.8l3.6-8.5" opacity="0.70"/>
<path class="c26" d="M79.2 512.2l7.1-2.2M79.2 512.2l8.1-2.3M79.2 512.2l8.5-2.2" opacity="0.70"/>
<path class="c36" d="M147.0 519.6l5.4-2.1M147.0 519.6l6.2-2.3M147.0 519.6l6.5-2.3"/>
<path class="c30" d="M136.2 525.1l4.6-4.7M136.2 525.1l5.4-5.2M136.2 525.1l5.8-5.3"/>
<path class="c24" d="M100.6 503.7l6.1-3.0M100.6 503.7l6.9-3.3M100.6 503.7l7.3-3.3" opacity="0.70"/>
<path class="c36" d="M99.0 539.4l5.7-0.6M99.0 539.4l6.5-0.5M99.0 539.4l6.8-0.3"/>
<path class="c30" d="M163.2 549.8l3.6-5.0M163.2 549.8l4.1-5.6M163.2 549.8l4.4-5.8" opacity="0.70"/>
<path class="c24" d="M109.4 514.3l5.6-5.0M109.4 514.3l6.5-5.5M109.4 514.3l7.0-5.6"/>
<path class="c30" d="M104.6 529.3l4.5-3.7M104.6 529.3l5.2-4.1M104.6 529.3l5.5-4.2"/>
<path class="c30" d="M143.3 548.3l3.2-4.8M143.3 548.3l3.8-5.4M143.3 548.3l4.1-5.5" opacity="0.70"/>
<path class="c36" d="M115.1 550.2l6.3-2.2M115.1 550.2l7.2-2.3M115.1 550.2l7.6-2.3"/>
<path class="c30" d="M168.5 536.8l3.3-3.3M168.5 536.8l3.8-3.7M168.5 536.8l4.0-3.7"/>
<path class="c30" d="M76.8 518.0l4.1-4.3M76.8 518.0l4.8-4.7M76.8 518.0l5.1-4.8" opacity="0.70"/>
<path class="c30" d="M146.7 519.3l3.2-5.1M146.7 519.3l3.7-5.7M146.7 519.3l4.0-5.9"/>
<path class="c30" d="M115.9 538.4l3.8-2.7M115.9 538.4l4.4-2.9M115.9 538.4l4.7-2.9"/>
<path class="c36" d="M105.9 537.9l5.0-0.8M105.9 537.9l5.7-0.8M105.9 537.9l6.0-0.7"/>
<path class="c35" d="M147.2 510.4l4.9-1.2M147.2 510.4l5.6-1.2M147.2 510.4l5.9-1.2"/>
<path class="c32" d="M136.6 519.5l4.2-3.5M136.6 519.5l4.9-3.9M136.6 519.5l5.2-3.9"/>
<path class="c24" d="M129.5 548.3l5.4-5.6M129.5 548.3l6.2-6.3M129.5 548.3l6.6-6.4"/>
<path class="c24" d="M79.4 517.8l3.8-5.6M79.4 517.8l4.5-6.2M79.4 517.8l4.8-6.4"/>
<path class="c30" d="M126.2 554.5l5.0-2.5M126.2 554.5l5.7-2.7M126.2 554.5l6.0-2.7"/>
<path class="c36" d="M144.7 524.9l5.9-1.8M144.7 524.9l6.7-1.9M144.7 524.9l7.0-1.9"/>
<path class="c36" d="M161.7 514.5l4.7-0.2M161.7 514.5l5.4-0.1M161.7 514.5l5.6-0.0"/>
<path class="c30" d="M152.1 534.2l4.3-4.2M152.1 534.2l4.9-4.6M152.1 534.2l5.2-4.8" opacity="0.70"/>
<path class="c32" d="M152.2 510.2l5.3-3.1M152.2 510.2l6.1-3.4M152.2 510.2l6.5-3.4"/>
<path class="c31" d="M133.6 527.7l7.2-1.8M133.6 527.7l8.2-1.9M133.6 527.7l8.6-1.9"/>
<path class="c30" d="M165.5 518.6l4.7-2.8M165.5 518.6l5.4-3.1M165.5 518.6l5.7-3.1"/>
<path class="c26" d="M167.2 538.1l7.4-1.5M167.2 538.1l8.4-1.6M167.2 538.1l8.8-1.5"/>
<path class="c24" d="M146.0 522.7l5.2-5.3M146.0 522.7l5.9-5.9M146.0 522.7l6.3-6.1"/>
<path class="c32" d="M144.5 548.4l4.6-3.8M144.5 548.4l5.3-4.2M144.5 548.4l5.6-4.2"/>
<path class="c24" d="M131.1 524.5l6.9-3.8M131.1 524.5l7.9-4.2M131.1 524.5l8.4-4.3"/>
<path class="c24" d="M151.8 517.7l5.7-3.8M151.8 517.7l6.6-4.2M151.8 517.7l6.9-4.4"/>
<path class="c25" d="M131.8 524.6l6.1-3.9M131.8 524.6l7.0-4.3M131.8 524.6l7.4-4.3" opacity="0.70"/>
<path class="c31" d="M144.3 522.4l7.1-2.2M144.3 522.4l8.1-2.4M144.3 522.4l8.5-2.3"/>
<path class="c31" d="M156.3 535.7l7.6-2.3M156.3 535.7l8.7-2.5M156.3 535.7l9.1-2.4" opacity="0.70"/>
<path class="c25" d="M146.5 533.0l7.0-3.3M146.5 533.0l8.1-3.6M146.5 533.0l8.5-3.5" opacity="0.70"/>
<path d="M131.0 472.2h0M137.6 473.3h0M107.0 485.3h0M122.3 480.9h0M90.6 490.7h0M93.9 496.2h0M116.8 497.3h0M124.5 496.2h0M140.9 492.9h0M155.1 481.3h0M162.7 495.1h0M196.6 475.4h0M168.2 504.5h0M173.7 512.6h0M79.6 507.1h0M74.2 522.5h0M316.7 470.2h0M196.4 476.1h0M187.7 546.7h0M181.1 538.4h0M225.9 551.5h0M212.8 560.3h0M72.0 524.8h0M150.7 570.7h0M124.5 572.9h0M107.0 586.1h0M100.4 576.2h0M187.9 545.6h0M168.2 555.4h0M174.8 512.8h0M163.8 495.3h0M80.1 532.6h0M106.6 511.7h0M85.5 523.8h0M108.4 523.8h0M122.8 534.4h0M125.9 550.7h0M95.6 507.9h0M110.6 562.4h0M134.2 554.0h0M88.5 539.1h0M128.7 537.7h0M82.0 534.5h0M124.5 548.7h0M118.5 548.0h0M100.5 562.0h0M84.3 535.9h0M98.2 561.9h0M80.2 526.3h0M130.4 519.0h0M101.8 537.2h0M126.4 542.7h0M76.2 545.9h0M126.5 509.0h0M140.9 537.0h0M79.7 550.3h0M140.2 543.8h0M95.5 524.6h0M103.0 523.0h0M103.7 536.7h0M92.0 550.7h0M94.7 540.9h0M130.7 548.6h0M116.8 538.5h0M90.5 551.1h0M133.4 558.0h0M130.5 530.6h0M116.4 560.5h0M88.3 537.1h0M81.6 523.8h0M86.4 516.0h0M113.1 533.3h0M137.9 520.1h0M112.6 525.4h0M135.2 526.4h0M122.3 534.5h0M138.1 540.5h0M95.9 546.7h0M85.7 517.0h0M109.0 531.8h0M80.1 528.5h0M130.9 559.5h0M100.5 541.3h0M75.9 537.4h0M122.6 555.3h0M120.4 508.4h0M138.9 523.6h0M81.6 552.3h0M134.5 543.7h0M123.0 508.2h0M108.4 528.1h0M85.2 517.4h0M125.0 548.0h0M96.4 555.3h0M87.2 515.4h0M121.7 534.8h0M88.3 553.6h0M99.0 518.2h0M132.8 525.7h0M89.9 525.1h0M134.6 530.4h0M111.1 520.6h0M92.9 540.6h0M106.1 517.5h0M93.3 527.7h0M126.2 527.2h0M122.5 521.2h0M116.7 538.3h0M93.4 530.2h0M122.1 535.4h0M99.2 549.6h0M116.9 540.0h0M104.2 504.4h0M96.8 550.9h0M122.3 542.9h0M82.0 549.8h0M116.5 518.5h0M123.4 535.1h0M104.7 512.3h0M98.4 530.3h0M148.2 544.1h0M131.0 528.2h0M152.4 528.1h0M161.3 521.4h0M92.7 550.3h0M130.3 507.2h0M151.5 547.0h0M147.0 519.6h0M136.2 525.1h0M99.0 539.4h0M109.4 514.3h0M104.6 529.3h0M115.1 550.2h0M168.5 536.8h0M146.7 519.3h0M115.9 538.4h0M105.9 537.9h0M129.5 548.3h0M79.4 517.8h0M126.2 554.5h0M144.7 524.9h0M161.7 514.5h0M133.6 527.7h0M165.5 518.6h0M146.0 522.7h0M131.1 524.5h0M151.8 517.7h0M144.3 522.4h0" stroke="#1f77b4" stroke-width="2.50" stroke-linecap="round" fill="none"/>
<path d="M181.3 476.5h0M182.4 510.4h0M151.8 513.3h0M75.3 508.2h0M93.9 502.8h0M150.7 512.8h0M155.1 527.0h0M126.7 519.4h0M148.5 545.6h0M159.5 557.6h0M166.0 543.4h0M125.6 556.5h0M104.8 562.0h0M85.1 580.6h0M131.0 581.7h0M92.8 534.7h0M85.1 523.7h0M93.9 501.9h0M74.2 508.4h0M120.1 507.3h0M122.3 545.6h0M96.0 564.2h0M109.4 504.1h0M99.0 548.3h0M106.3 558.5h0M92.7 530.2h0M137.9 555.6h0M102.8 567.2h0M106.5 518.1h0M147.2 510.4h0M136.6 519.5h0M152.2 510.2h0M167.2 538.1h0M144.5 548.4h0" stroke="#d62728" stroke-width="2.50" stroke-linecap="round" fill="none"/>
<path d="M171.5 501.7h0M141.0 535.1h0M80.9 517.7h0M112.6 531.0h0M138.2 531.7h0M93.1 544.8h0M132.4 549.1h0M79.2 512.2h0M131.8 524.6h0M146.5 533.0h0" stroke="#d62728" stroke-width="2.50" stroke-linecap="round" fill="none" stroke-opacity="0.70"/>
<path d="M115.0 546.6h0M100.0 535.0h0M86.7 515.0h0M85.9 555.0h0M86.8 551.6h0M122.5 551.7h0M135.9 524.0h0M110.2 555.8h0M125.2 533.5h0M138.1 530.8h0M104.2 517.8h0M130.3 544.1h0M128.7 529.4h0M84.6 553.2h0M123.0 516.3h0M107.3 527.0h0M90.0 526.5h0M101.7 557.7h0M118.5 506.4h0M90.1 518.9h0M90.8 541.7h0M96.8 519.0h0M97.4 554.6h0M115.8 510.4h0M83.5 528.8h0M76.2 536.6h0M86.5 521.3h0M147.6 505.8h0M147.8 512.7h0M109.2 570.0h0M148.1 555.0h0M115.7 502.3h0M77.1 541.0h0M111.9 511.3h0M132.2 553.8h0M151.4 507.8h0M100.6 503.7h0M163.2 549.8h0M143.3 548.3h0M76.8 518.0h0M152.1 534.2h0M156.3 535.7h0" stroke="#1f77b4" stroke-width="2.50" stroke-linecap="round" fill="none" stroke-opacity="0.70"/>
</svg>
<rect x="37.50" y="341.00" width="338.90" height="252.40" fill="none" stroke="#000" stroke-width="1.0"/>
<line x1="34.00" y1="356.50" x2="37.50" y2="356.50" stroke="#000" stroke-width="1"/>
<text x="30.50" y="360.10" font-size="10.1" text-anchor="end" textLength="5.60" lengthAdjust="spacingAndGlyphs">5</text>
<line x1="34.00" y1="388.04" x2="37.50" y2="388.04" stroke="#000" stroke-width="1"/>
<text x="30.50" y="391.64" font-size="10.1" text-anchor="end" textLength="5.60" lengthAdjust="spacingAndGlyphs">4</text>
<line x1="34.00" y1="419.59" x2="37.50" y2="419.59" stroke="#000" stroke-width="1"/>
<text x="30.50" y="423.19" font-size="10.1" text-anchor="end" textLength="5.60" lengthAdjust="spacingAndGlyphs">3</text>
<line x1="34.00" y1="451.13" x2="37.50" y2="451.13" stroke="#000" stroke-width="1"/>
<text x="30.50" y="454.73" font-size="10.1" text-anchor="end" textLength="5.60" lengthAdjust="spacingAndGlyphs">2</text>
<line x1="34.00" y1="482.67" x2="37.50" y2="482.67" stroke="#000" stroke-width="1"/>
<text x="30.50" y="486.27" font-size="10.1" text-anchor="end" textLength="5.60" lengthAdjust="spacingAndGlyphs">1</text>
<line x1="34.00" y1="514.21" x2="37.50" y2="514.21" stroke="#000" stroke-width="1"/>
<text x="30.50" y="517.81" font-size="10.1" text-anchor="end" textLength="5.60" lengthAdjust="spacingAndGlyphs">0</text>
<line x1="34.00" y1="545.76" x2="37.50" y2="545.76" stroke="#000" stroke-width="1"/>
<text x="30.50" y="549.36" font-size="10.1" text-anchor="end" textLength="12.60" lengthAdjust="spacingAndGlyphs">−1</text>
<line x1="34.00" y1="577.30" x2="37.50" y2="577.30" stroke="#000" stroke-width="1"/>
<text x="30.50" y="580.90" font-size="10.1" text-anchor="end" textLength="12.60" lengthAdjust="spacingAndGlyphs">−2</text>
<line x1="96.40" y1="593.40" x2="96.40" y2="596.90" stroke="#000" stroke-width="1"/>
<text x="96.40" y="607.40" font-size="10.1" text-anchor="middle" textLength="17.25" lengthAdjust="spacingAndGlyphs">200</text>
<line x1="166.40" y1="593.40" x2="166.40" y2="596.90" stroke="#000" stroke-width="1"/>
<text x="166.40" y="607.40" font-size="10.1" text-anchor="middle" textLength="17.25" lengthAdjust="spacingAndGlyphs">400</text>
<line x1="236.40" y1="593.40" x2="236.40" y2="596.90" stroke="#000" stroke-width="1"/>
<text x="236.40" y="607.40" font-size="10.1" text-anchor="middle" textLength="17.25" lengthAdjust="spacingAndGlyphs">600</text>
<line x1="306.40" y1="593.40" x2="306.40" y2="596.90" stroke="#000" stroke-width="1"/>
<text x="306.40" y="607.40" font-size="10.1" text-anchor="middle" textLength="17.25" lengthAdjust="spacingAndGlyphs">800</text>
<line x1="376.40" y1="593.40" x2="376.40" y2="596.90" stroke="#000" stroke-width="1"/>
<text x="376.40" y="607.40" font-size="10.1" text-anchor="middle" textLength="23.20" lengthAdjust="spacingAndGlyphs">1000</text>
<text x="206.95" y="623.00" font-size="13.8" text-anchor="middle" textLength="23.80" lengthAdjust="spacingAndGlyphs">Tau</text>
<text x="10.10" y="467.20" font-size="13.0" text-anchor="middle" textLength="73.00" lengthAdjust="spacingAndGlyphs" transform="rotate(-90 10.10 467.20)">ADAS-Mem</text>
<rect x="255.40" y="347.70" width="114.50" height="43.20" rx="2" ry="2" fill="#fff" fill-opacity="0.8" stroke="#cccccc" stroke-width="1"/>
<circle cx="274.60" cy="359.10" r="3.4" fill="#1f77b4"/>
<circle cx="274.60" cy="378.60" r="3.4" fill="#d62728"/>
<text x="299.20" y="363.30" font-size="12.8" text-anchor="start" textLength="64.50" lengthAdjust="spacingAndGlyphs">no APOE4</text>
<text x="299.20" y="383.00" font-size="12.8" text-anchor="start" textLength="44.00" lengthAdjust="spacingAndGlyphs">APOE4</text>
<svg x="431.5" y="341.0" width="338.9" height="252.39999999999998" viewBox="431.5 341.0 338.9 252.39999999999998" overflow="hidden">
<path class="c24" d="M502.1 459.5l3.3-7.5M502.1 459.5l4.2-8.3M502.1 459.5l4.8-8.5"/>
<path class="c23" d="M509.7 471.5l3.1-13.9M509.7 471.5l4.2-15.6M509.7 471.5l5.1-16.2"/>
<path class="c24" d="M518.5 473.7l4.2-8.5M518.5 473.7l5.2-9.4M518.5 473.7l5.9-9.6"/>
<path class="c24" d="M540.3 466.1l5.1-9.4M540.3 466.1l6.3-10.4M540.3 466.1l7.0-10.6"/>
<path class="c24" d="M556.7 471.5l5.9-11.3M556.7 471.5l7.3-12.5M556.7 471.5l8.2-12.7"/>
<path class="c24" d="M574.2 473.7l6.9-10.4M574.2 473.7l8.3-11.5M574.2 473.7l9.3-11.6"/>
<path class="c28" d="M471.5 477.0l0.7-5.6M471.5 477.0l1.0-6.3M471.5 477.0l1.4-6.5"/>
<path class="c23" d="M486.8 482.5l0.5-10.1M486.8 482.5l1.0-11.5M486.8 482.5l1.6-11.9"/>
<path class="c23" d="M492.2 484.7l1.4-10.2M492.2 484.7l2.1-11.5M492.2 484.7l2.7-11.9"/>
<path class="c30" d="M501.0 484.7l2.5-4.7M501.0 484.7l3.1-5.2M501.0 484.7l3.5-5.3"/>
<path class="c28" d="M507.5 485.8l1.6-5.6M507.5 485.8l2.1-6.3M507.5 485.8l2.5-6.4"/>
<path class="c24" d="M527.2 484.7l5.2-7.6M527.2 484.7l6.3-8.3M527.2 484.7l6.9-8.4"/>
<path class="c24" d="M546.9 510.9l12.3-13.4M546.9 510.9l14.6-14.6M546.9 510.9l15.9-14.6"/>
<path class="c24" d="M550.2 500.0l7.9-9.6M550.2 500.0l9.4-10.4M550.2 500.0l10.3-10.5"/>
<path class="c24" d="M573.1 513.1l8.8-9.6M573.1 513.1l10.4-10.4M573.1 513.1l11.4-10.4"/>
<path class="c24" d="M562.2 539.3l10.7-8.8M562.2 539.3l12.5-9.4M562.2 539.3l13.5-9.2"/>
<path class="c24" d="M584.1 543.7l7.9-7.7M584.1 543.7l9.4-8.3M584.1 543.7l10.2-8.3"/>
<path class="c30" d="M592.8 539.3l3.4-5.7M592.8 539.3l4.2-6.3M592.8 539.3l4.7-6.3"/>
<path class="c31" d="M568.8 530.6l9.0-4.1M568.8 530.6l10.4-4.2M568.8 530.6l11.1-3.9"/>
<path class="c38" d="M592.8 471.5l6.2-18.8M592.8 471.5l7.7-21.0M592.8 471.5l7.5-18.8M592.8 471.5l8.8-20.1M592.8 471.5l8.8-18.7"/>
<path class="c38" d="M588.4 478.1l2.9-22.4M588.4 478.1l4.3-25.1M588.4 478.1l4.7-22.5M588.4 478.1l6.0-24.3M588.4 478.1l6.5-22.6"/>
<path class="c25" d="M568.8 487.9l10.4-11.7M568.8 487.9l12.1-12.8M568.8 487.9l11.3-11.3M568.8 487.9l12.6-11.9M568.8 487.9l12.2-10.8"/>
<path class="c25" d="M538.1 489.0l5.0-12.2M538.1 489.0l6.3-13.6M538.1 489.0l7.2-13.9"/>
<path class="c25" d="M543.6 486.9l5.1-9.4M543.6 486.9l6.3-10.4M543.6 486.9l7.0-10.6"/>
<path class="c38" d="M531.6 480.3l3.3-9.4M531.6 480.3l4.2-10.4M531.6 480.3l4.9-10.7"/>
<path class="c38" d="M516.3 502.2l3.7-15.9M516.3 502.2l4.7-17.8M516.3 502.2l4.7-16.0M516.3 502.2l5.6-17.2M516.3 502.2l5.8-16.0"/>
<path class="c38" d="M520.7 493.4l3.3-9.4M520.7 493.4l4.2-10.4M520.7 493.4l4.9-10.7"/>
<path class="c25" d="M550.2 507.6l9.6-10.6M550.2 507.6l11.5-11.5M550.2 507.6l12.5-11.5"/>
<path class="c26" d="M558.9 502.2l7.2-3.1M558.9 502.2l8.3-3.1M558.9 502.2l8.9-2.9"/>
<path class="c26" d="M570.9 493.4l9.0-4.1M570.9 493.4l10.4-4.2M570.9 493.4l11.1-3.9"/>
<path class="c26" d="M567.7 519.7l11.6-4.7M567.7 519.7l13.3-4.8M567.7 519.7l12.2-3.8M567.7 519.7l13.4-3.5M567.7 519.7l12.8-2.7"/>
<path class="c25" d="M584.1 517.5l13.9-9.6M584.1 517.5l16.2-10.1M584.1 517.5l15.0-8.4M584.1 517.5l16.7-8.4M584.1 517.5l16.1-7.2"/>
<path class="c32" d="M597.2 491.2l3.9-3.0M597.2 491.2l4.5-3.3M597.2 491.2l4.1-2.8M597.2 491.2l4.6-2.9M597.2 491.2l4.4-2.6"/>
<path class="c38" d="M464.9 515.3l-3.2-9.1M464.9 515.3l-3.1-10.4M464.9 515.3l-2.8-11.0"/>
<path class="c25" d="M557.8 535.0l10.8-6.0M557.8 535.0l12.5-6.3M557.8 535.0l13.4-6.0"/>
<path class="c25" d="M581.9 550.3l8.8-9.6M581.9 550.3l10.4-10.4M581.9 550.3l11.4-10.4"/>
<path class="c25" d="M540.3 528.4l7.2-4.0M540.3 528.4l8.3-4.2M540.3 528.4l8.9-4.0"/>
<path class="c25" d="M534.9 526.2l6.3-4.0M534.9 526.2l7.3-4.2M534.9 526.2l7.8-4.0"/>
<path class="c26" d="M527.2 537.1l9.1-2.3M527.2 537.1l10.4-2.1M527.2 537.1l11.0-1.7"/>
<path class="c35" d="M503.2 517.5l4.6-1.1M503.2 517.5l5.2-1.0M503.2 517.5l5.5-0.8"/>
<path class="c39" d="M494.4 506.5l0.9-4.5M494.4 506.5l1.3-5.1M494.4 506.5l1.6-5.3"/>
<path class="c35" d="M520.7 524.0l5.4-2.1M520.7 524.0l6.3-2.1M520.7 524.0l6.6-1.9"/>
<path class="c35" d="M507.5 530.6l5.4-2.1M507.5 530.6l6.3-2.1M507.5 530.6l6.6-1.9"/>
<path class="c32" d="M487.9 526.2l1.9-4.2M487.9 526.2l2.3-4.7M487.9 526.2l2.7-4.8"/>
<path class="c32" d="M476.9 532.8l3.1-3.4M476.9 532.8l3.7-3.7M476.9 532.8l4.1-3.7"/>
<path class="c32" d="M470.4 517.5l2.4-4.0M470.4 517.5l2.9-4.4M470.4 517.5l3.2-4.4"/>
<path class="c35" d="M496.6 545.9l5.4-2.1M496.6 545.9l6.3-2.1M496.6 545.9l6.6-1.9"/>
<path class="c26" d="M518.5 545.9l9.1-2.3M518.5 545.9l10.4-2.1M518.5 545.9l11.0-1.7"/>
<path class="c26" d="M536.0 539.3l7.3-2.2M536.0 539.3l8.3-2.1M536.0 539.3l8.8-1.8"/>
<path class="c30" d="M467.1 582.0l1.9-4.2M467.1 582.0l2.3-4.7M467.1 582.0l2.7-4.8"/>
<path class="c28" d="M475.8 590.7l0.9-4.5M475.8 590.7l1.3-5.1M475.8 590.7l1.6-5.3"/>
<path class="c36" d="M509.7 579.8l4.5 0.9M509.7 579.8l5.1 1.3M509.7 579.8l5.3 1.6"/>
<path class="c36" d="M527.2 575.4l4.6 0.7M527.2 575.4l5.2 1.0M527.2 575.4l5.4 1.3"/>
<path class="c36" d="M562.2 575.4l4.6 0.3M562.2 575.4l5.2 0.6M562.2 575.4l5.4 0.9"/>
<path class="c26" d="M546.9 569.5l6.5 1.9M546.9 569.5l7.3 2.5M546.9 569.5l7.5 3.0"/>
<path class="c24" d="M556.7 568.9l4.1-8.5M556.7 568.9l4.9-9.5M556.7 568.9l4.7-8.4M556.7 568.9l5.4-9.0M556.7 568.9l5.3-8.3"/>
<path class="c25" d="M557.8 564.5l4.7-10.5M557.8 564.5l5.8-11.7M557.8 564.5l5.6-10.3M557.8 564.5l6.5-11.0M557.8 564.5l6.5-10.1"/>
<path class="c25" d="M581.9 550.3l12.3-10.0M581.9 550.3l14.2-10.8M581.9 550.3l13.1-9.4M581.9 550.3l14.6-9.8M581.9 550.3l14.0-8.8"/>
<path class="c24" d="M586.3 542.6l8.6-9.7M586.3 542.6l10.1-10.7M586.3 542.6l9.4-9.4M586.3 542.6l10.5-9.9M586.3 542.6l10.2-9.0"/>
<path class="c26" d="M590.6 545.9l9.4-2.4M590.6 545.9l10.7-2.4M590.6 545.9l9.8-1.9M590.6 545.9l10.7-1.7M590.6 545.9l10.1-1.3"/>
<path class="c26" d="M591.7 563.4l8.5-2.4M591.7 563.4l9.7-2.4M591.7 563.4l8.8-1.9M591.7 563.4l9.6-1.8M591.7 563.4l9.1-1.4"/>
<path class="c31" d="M591.7 565.6l8.5-2.4M591.7 565.6l9.7-2.4M591.7 565.6l8.8-1.9M591.7 565.6l9.6-1.8M591.7 565.6l9.1-1.4"/>
<path class="c24" d="M570.9 530.6l10.6-8.0M570.9 530.6l12.2-8.7M570.9 530.6l11.3-7.5M570.9 530.6l12.5-7.8M570.9 530.6l12.0-7.0"/>
<path class="c26" d="M566.6 520.8l14.2-5.9M566.6 520.8l16.4-5.9M566.6 520.8l15.0-4.7M566.6 520.8l16.5-4.4M566.6 520.8l15.7-3.4"/>
<path class="c24" d="M573.1 510.9l8.7-7.9M573.1 510.9l10.1-8.6M573.1 510.9l9.4-7.5M573.1 510.9l10.4-7.8M573.1 510.9l10.0-7.1"/>
<path class="c25" d="M588.4 516.4l11.0-7.1M588.4 516.4l12.7-7.7M588.4 516.4l11.6-6.6M588.4 516.4l12.8-6.8M588.4 516.4l12.3-6.0"/>
<path class="c25" d="M557.8 537.2l7.1-4.1M557.8 537.2l8.2-4.4M557.8 537.2l7.5-3.8M557.8 537.2l8.3-3.8M557.8 537.2l7.9-3.4"/>
<path class="c24" d="M562.2 542.6l8.8-7.0M562.2 542.6l10.2-7.6M562.2 542.6l9.4-6.6M562.2 542.6l10.4-6.8M562.2 542.6l10.0-6.1"/>
<path class="c32" d="M549.1 530.6l3.5-3.9M549.1 530.6l4.0-4.3M549.1 530.6l3.8-3.8M549.1 530.6l4.2-4.0M549.1 530.6l4.1-3.6"/>
<path class="c26" d="M531.6 549.2l12.6-5.4M531.6 549.2l14.4-5.6M531.6 549.2l13.1-4.7M531.6 549.2l14.4-4.7M531.6 549.2l13.7-4.0"/>
<path class="c26" d="M536.0 543.7l10.8-4.3M536.0 543.7l12.3-4.5M536.0 543.7l11.3-3.8M536.0 543.7l12.3-3.7M536.0 543.7l11.7-3.1"/>
<path class="c32" d="M522.8 550.3l4.0-2.3M522.8 550.3l4.6-2.5M522.8 550.3l4.2-2.1M522.8 550.3l4.7-2.2M522.8 550.3l4.4-1.9"/>
<path class="c31" d="M519.6 561.2l8.2-1.4M519.6 561.2l9.3-1.3M519.6 561.2l8.4-0.9M519.6 561.2l9.2-0.7M519.6 561.2l8.7-0.4"/>
<path class="c38" d="M642.0 448.5l11.9-33.1M642.0 448.5l15.2-36.9M642.0 448.5l17.7-37.9"/>
<path class="c24" d="M635.0 468.2l11.1-18.4M635.0 468.2l13.6-20.2M635.0 468.2l15.1-20.5"/>
<path class="c24" d="M664.5 456.4l8.5-18.9M664.5 456.4l10.5-20.9M664.5 456.4l10.3-18.4M664.5 456.4l12.1-19.5M664.5 456.4l12.2-17.8"/>
<path class="c24" d="M664.5 472.6l10.0-14.0M664.5 472.6l11.9-15.4M664.5 472.6l11.3-13.5M664.5 472.6l12.8-14.2M664.5 472.6l12.5-12.9"/>
<path class="c24" d="M629.5 484.2l13.0-13.7M629.5 484.2l15.1-15.0M629.5 484.2l14.1-13.1M629.5 484.2l15.7-13.8M629.5 484.2l15.2-12.5"/>
<path class="c24" d="M645.9 474.3l9.2-16.2M645.9 474.3l10.9-18.0M645.9 474.3l10.3-16.0M645.9 474.3l11.7-17.0M645.9 474.3l11.5-15.6"/>
<path class="c25" d="M631.7 491.8l11.2-23.0M631.7 491.8l13.6-25.5M631.7 491.8l13.1-22.5M631.7 491.8l15.2-23.9M631.7 491.8l15.1-22.0"/>
<path class="c25" d="M661.2 491.8l13.8-15.6M661.2 491.8l16.1-17.1M661.2 491.8l15.0-15.0M661.2 491.8l16.8-15.8M661.2 491.8l16.2-14.4"/>
<path class="c24" d="M676.5 477.6l13.5-21.1M676.5 477.6l15.9-23.4M676.5 477.6l15.0-20.6M676.5 477.6l17.0-21.9M676.5 477.6l16.6-20.1"/>
<path class="c25" d="M676.5 492.3l14.3-15.5M676.5 492.3l16.9-16.8M676.5 492.3l16.0-14.5M676.5 492.3l18.0-14.9M676.5 492.3l17.6-13.2"/>
<path class="c25" d="M602.2 489.7l7.2-22.8M602.2 489.7l9.3-25.4M602.2 489.7l9.4-22.5M602.2 489.7l11.3-24.0M602.2 489.7l11.6-22.1"/>
<path class="c25" d="M613.1 487.5l6.2-15.2M613.1 487.5l7.7-16.9M613.1 487.5l7.5-15.0M613.1 487.5l8.8-16.0M613.1 487.5l8.8-14.7"/>
<path class="c26" d="M608.7 483.1l14.3-6.6M608.7 483.1l16.4-6.9M608.7 483.1l15.0-5.6M608.7 483.1l16.5-5.5M608.7 483.1l15.7-4.6"/>
<path class="c26" d="M604.4 496.2l12.7-3.0M604.4 496.2l14.4-2.7M604.4 496.2l13.1-1.9M604.4 496.2l14.3-1.4M604.4 496.2l13.5-0.7" opacity="0.70"/>
<path class="c25" d="M600.0 452.5l3.2-7.6M600.0 452.5l3.9-8.4M600.0 452.5l3.8-7.5M600.0 452.5l4.3-8.0M600.0 452.5l4.3-7.4"/>
<path class="c25" d="M615.3 520.7l14.1-11.3M615.3 520.7l16.3-12.3M615.3 520.7l15.0-10.7M615.3 520.7l16.7-11.1M615.3 520.7l16.0-10.0"/>
<path class="c24" d="M702.8 518.1l12.8-13.9M702.8 518.1l15.0-15.1M702.8 518.1l14.1-13.1M702.8 518.1l15.8-13.7M702.8 518.1l15.4-12.3"/>
<path class="c30" d="M461.2 511.6l4.3-4.1M461.2 511.6l4.9-4.6M461.2 511.6l5.2-4.7" opacity="0.70"/>
<path class="c24" d="M491.4 522.9l4.4-6.7M491.4 522.9l5.1-7.5M491.4 522.9l5.5-7.8" opacity="0.70"/>
<path class="c30" d="M475.7 519.7l4.9-4.3M475.7 519.7l5.7-4.7M475.7 519.7l6.1-4.8"/>
<path class="c23" d="M471.1 531.6l0.6-7.6M471.1 531.6l0.9-8.6M471.1 531.6l1.1-9.0"/>
<path class="c23" d="M478.9 514.5l2.8-7.6M478.9 514.5l3.4-8.6M478.9 514.5l3.8-8.9" opacity="0.70"/>
<path class="c24" d="M481.3 541.8l4.2-5.7M481.3 541.8l4.8-6.3M481.3 541.8l5.2-6.5" opacity="0.70"/>
<path class="c30" d="M498.0 524.1l2.5-3.9M498.0 524.1l2.9-4.3M498.0 524.1l3.1-4.5"/>
<path class="c28" d="M486.1 543.7l0.2-5.3M486.1 543.7l0.4-6.0M486.1 543.7l0.5-6.3" opacity="0.70"/>
<path class="c23" d="M484.6 542.0l-0.4-7.2M484.6 542.0l-0.2-8.2M484.6 542.0l0.0-8.5"/>
<path class="c30" d="M469.9 555.2l2.6-3.8M469.9 555.2l3.1-4.3M469.9 555.2l3.4-4.4"/>
<path class="c24" d="M491.7 518.5l5.2-4.7M491.7 518.5l6.0-5.3M491.7 518.5l6.3-5.4" opacity="0.70"/>
<path class="c24" d="M487.5 543.7l3.8-6.8M487.5 543.7l4.5-7.6M487.5 543.7l4.8-7.9" opacity="0.70"/>
<path class="c32" d="M487.2 551.8l3.3-3.5M487.2 551.8l3.8-4.0M487.2 551.8l4.1-4.1"/>
<path class="c25" d="M475.1 523.0l5.5-5.7M475.1 523.0l6.4-6.4M475.1 523.0l6.9-6.5"/>
<path class="c30" d="M501.5 535.5l2.5-6.0M501.5 535.5l3.0-6.7M501.5 535.5l3.4-7.0"/>
<path class="c28" d="M495.0 519.9l2.1-5.5M495.0 519.9l2.5-6.2M495.0 519.9l2.8-6.4" opacity="0.70"/>
<path class="c25" d="M460.5 523.9l2.7-6.2M460.5 523.9l3.2-6.9M460.5 523.9l3.5-7.2" opacity="0.70"/>
<path class="c39" d="M469.9 530.6l-0.2-5.0M469.9 530.6l-0.1-5.7M469.9 530.6l-0.0-6.0" opacity="0.70"/>
<path class="c24" d="M501.1 533.1l4.6-5.6M501.1 533.1l5.4-6.2M501.1 533.1l5.8-6.3"/>
<path class="c30" d="M499.3 545.3l3.6-3.2M499.3 545.3l4.2-3.5M499.3 545.3l4.5-3.5"/>
<path class="c30" d="M468.5 519.6l2.6-6.0M468.5 519.6l3.1-6.7M468.5 519.6l3.5-6.9"/>
<path class="c28" d="M497.3 536.3l1.5-4.6M497.3 536.3l1.9-5.1M497.3 536.3l2.1-5.3"/>
<path class="c28" d="M461.0 512.6l0.4-5.9M461.0 512.6l0.6-6.6M461.0 512.6l0.7-6.9" opacity="0.70"/>
<path class="c39" d="M492.7 541.7l0.5-5.2M492.7 541.7l0.7-5.8M492.7 541.7l0.8-6.1" opacity="0.70"/>
<path class="c25" d="M474.4 564.0l4.4-6.8M474.4 564.0l5.1-7.7M474.4 564.0l5.5-7.9"/>
<path class="c28" d="M472.7 519.8l1.3-6.3M472.7 519.8l1.6-7.1M472.7 519.8l1.8-7.4"/>
<path class="c24" d="M470.6 530.3l6.1-5.5M470.6 530.3l7.1-6.1M470.6 530.3l7.6-6.2"/>
<path class="c30" d="M501.1 519.5l1.8-4.3M501.1 519.5l2.2-4.9M501.1 519.5l2.4-5.0" opacity="0.70"/>
<path class="c30" d="M494.3 521.7l2.1-4.5M494.3 521.7l2.5-5.1M494.3 521.7l2.7-5.2" opacity="0.70"/>
<path class="c38" d="M484.4 557.1l0.1-7.1M484.4 557.1l0.3-8.0M484.4 557.1l0.6-8.3"/>
<path class="c39" d="M503.0 537.6l1.4-6.3M503.0 537.6l1.8-7.1M503.0 537.6l2.0-7.4"/>
<path class="c30" d="M472.1 537.0l3.4-3.3M472.1 537.0l3.9-3.7M472.1 537.0l4.2-3.8"/>
<path class="c23" d="M477.7 514.6l1.5-7.8M477.7 514.6l1.9-8.8M477.7 514.6l2.3-9.1"/>
<path class="c28" d="M472.8 559.6l0.5-4.6M472.8 559.6l0.6-5.2M472.8 559.6l0.7-5.4" opacity="0.70"/>
<path class="c39" d="M457.9 529.6l-0.7-6.5M457.9 529.6l-0.7-7.4M457.9 529.6l-0.5-7.8" opacity="0.70"/>
<path class="c23" d="M478.1 508.0l-0.2-6.9M478.1 508.0l-0.1-7.8M478.1 508.0l0.1-8.2"/>
<path class="c32" d="M486.0 536.8l2.8-3.7M486.0 536.8l3.3-4.1M486.0 536.8l3.6-4.1"/>
<path class="c30" d="M471.7 546.2l3.4-3.2M471.7 546.2l3.9-3.5M471.7 546.2l4.2-3.5"/>
<path class="c28" d="M467.5 546.9l0.9-6.3M467.5 546.9l1.2-7.2M467.5 546.9l1.4-7.4"/>
<path class="c23" d="M499.2 515.5l1.6-7.2M499.2 515.5l2.0-8.2M499.2 515.5l2.3-8.5" opacity="0.70"/>
<path class="c28" d="M487.4 503.6l-0.2-4.6M487.4 503.6l-0.1-5.2M487.4 503.6l0.1-5.5" opacity="0.70"/>
<path class="c24" d="M482.7 539.5l5.6-5.2M482.7 539.5l6.5-5.7M482.7 539.5l6.9-5.9"/>
<path class="c23" d="M460.5 527.8l-0.3-7.7M460.5 527.8l-0.2-8.8M460.5 527.8l-0.1-9.2"/>
<path class="c28" d="M469.9 516.0l1.3-6.2M469.9 516.0l1.7-7.0M469.9 516.0l1.9-7.2"/>
<path class="c32" d="M475.1 505.8l4.3-4.7M475.1 505.8l5.1-5.2M475.1 505.8l5.4-5.3"/>
<path class="c24" d="M469.1 536.9l3.0-7.1M469.1 536.9l3.6-8.1M469.1 536.9l3.8-8.4"/>
<path class="c32" d="M476.6 530.8l2.4-4.9M476.6 530.8l2.7-5.5M476.6 530.8l2.9-5.7"/>
<path class="c28" d="M456.5 533.4l1.2-5.4M456.5 533.4l1.5-6.0M456.5 533.4l1.8-6.3"/>
<path class="c28" d="M473.2 518.0l0.3-5.3M473.2 518.0l0.5-6.0M473.2 518.0l0.7-6.2"/>
<path class="c23" d="M501.7 528.0l2.8-7.5M501.7 528.0l3.4-8.4M501.7 528.0l3.8-8.7"/>
<path class="c24" d="M477.8 549.7l5.2-6.0M477.8 549.7l6.1-6.7M477.8 549.7l6.4-6.9"/>
<path class="c28" d="M468.1 522.5l2.0-6.3M468.1 522.5l2.4-7.1M468.1 522.5l2.6-7.4" opacity="0.70"/>
<path class="c39" d="M483.4 561.2l1.4-4.5M483.4 561.2l1.6-5.0M483.4 561.2l1.8-5.2"/>
<path class="c39" d="M489.8 562.1l-0.5-6.5M489.8 562.1l-0.4-7.4M489.8 562.1l-0.3-7.7"/>
<path class="c24" d="M476.7 503.6l4.5-6.0M476.7 503.6l5.3-6.7M476.7 503.6l5.8-6.9"/>
<path class="c24" d="M472.4 538.9l5.5-4.7M472.4 538.9l6.3-5.3M472.4 538.9l6.7-5.4" opacity="0.70"/>
<path class="c24" d="M474.0 560.4l5.9-5.9M474.0 560.4l6.9-6.5M474.0 560.4l7.3-6.6" opacity="0.70"/>
<path class="c32" d="M464.5 538.4l4.7-4.1M464.5 538.4l5.4-4.5M464.5 538.4l5.8-4.6"/>
<path class="c39" d="M468.6 555.8l-0.2-4.8M468.6 555.8l-0.1-5.4M468.6 555.8l0.0-5.7"/>
<path class="c23" d="M466.5 544.9l1.7-7.7M466.5 544.9l2.1-8.7M466.5 544.9l2.5-9.0" opacity="0.70"/>
<path class="c30" d="M498.5 522.7l2.7-3.9M498.5 522.7l3.1-4.3M498.5 522.7l3.4-4.5" opacity="0.70"/>
<path class="c23" d="M461.2 511.6l0.3-8.1M461.2 511.6l0.6-9.2M461.2 511.6l0.8-9.6" opacity="0.70"/>
<path class="c30" d="M475.1 523.1l2.8-4.6M475.1 523.1l3.3-5.1M475.1 523.1l3.5-5.3"/>
<path class="c38" d="M484.7 506.4l0.4-7.4M484.7 506.4l0.6-8.4M484.7 506.4l0.8-8.8"/>
<path class="c39" d="M472.5 562.8l1.1-6.2M472.5 562.8l1.4-7.0M472.5 562.8l1.6-7.3"/>
<path class="c24" d="M463.0 504.5l4.3-6.1M463.0 504.5l5.1-6.8M463.0 504.5l5.5-7.0"/>
<path class="c39" d="M490.4 531.0l0.2-5.8M490.4 531.0l0.3-6.6M490.4 531.0l0.5-6.8"/>
<path class="c24" d="M464.6 538.2l5.3-4.3M464.6 538.2l6.1-4.8M464.6 538.2l6.5-4.9"/>
<path class="c30" d="M492.2 523.6l4.4-4.1M492.2 523.6l5.1-4.5M492.2 523.6l5.4-4.7"/>
<path class="c23" d="M492.6 502.1l1.7-6.7M492.6 502.1l2.1-7.5M492.6 502.1l2.3-7.8"/>
<path class="c24" d="M470.4 553.6l4.8-5.5M470.4 553.6l5.6-6.0M470.4 553.6l6.0-6.2"/>
<path class="c28" d="M465.1 545.3l0.3-5.6M465.1 545.3l0.4-6.3M465.1 545.3l0.6-6.6"/>
<path class="c30" d="M475.9 538.6l4.0-3.6M475.9 538.6l4.7-4.0M475.9 538.6l5.0-4.0"/>
<path class="c24" d="M467.8 523.7l3.5-6.4M467.8 523.7l4.1-7.2M467.8 523.7l4.4-7.5"/>
<path class="c30" d="M486.9 546.4l3.5-5.7M486.9 546.4l4.1-6.4M486.9 546.4l4.4-6.6" opacity="0.70"/>
<path class="c24" d="M487.5 543.3l5.8-4.8M487.5 543.3l6.7-5.3M487.5 543.3l7.1-5.5"/>
<path class="c30" d="M483.7 541.5l3.6-4.4M483.7 541.5l4.1-4.9M483.7 541.5l4.4-5.1"/>
<path class="c23" d="M474.9 498.9l-0.2-7.3M474.9 498.9l-0.1-8.2M474.9 498.9l0.1-8.6"/>
<path class="c28" d="M465.9 510.0l-0.1-4.8M465.9 510.0l-0.0-5.4M465.9 510.0l0.0-5.7" opacity="0.70"/>
<path class="c24" d="M490.2 547.9l3.2-7.6M490.2 547.9l3.9-8.5M490.2 547.9l4.2-8.8"/>
<path class="c30" d="M485.6 535.6l3.1-5.0M485.6 535.6l3.6-5.6M485.6 535.6l3.9-5.8"/>
<path class="c25" d="M460.5 509.2l4.2-6.5M460.5 509.2l5.0-7.3M460.5 509.2l5.4-7.5"/>
<path class="c32" d="M497.1 553.6l3.7-3.7M497.1 553.6l4.3-4.1M497.1 553.6l4.6-4.2"/>
<path class="c38" d="M485.6 547.6l0.8-7.9M485.6 547.6l1.1-9.0M485.6 547.6l1.4-9.4" opacity="0.70"/>
<path class="c28" d="M469.9 549.3l-0.5-5.1M469.9 549.3l-0.4-5.8M469.9 549.3l-0.2-6.0" opacity="0.70"/>
<path class="c24" d="M470.9 505.7l4.2-5.6M470.9 505.7l4.9-6.3M470.9 505.7l5.2-6.5"/>
<path class="c28" d="M483.3 555.0l-0.4-4.8M483.3 555.0l-0.4-5.5M483.3 555.0l-0.3-5.8" opacity="0.70"/>
<path class="c28" d="M490.2 560.4l-0.7-5.7M490.2 560.4l-0.6-6.5M490.2 560.4l-0.4-6.8" opacity="0.70"/>
<path class="c32" d="M493.9 529.8l2.4-5.1M493.9 529.8l2.8-5.8M493.9 529.8l3.0-6.0" opacity="0.70"/>
<path class="c30" d="M504.4 525.1l3.3-5.6M504.4 525.1l3.8-6.2M504.4 525.1l4.1-6.5"/>
<path class="c30" d="M490.1 539.9l3.3-4.4M490.1 539.9l3.9-4.9M490.1 539.9l4.2-5.0"/>
<path class="c39" d="M491.7 512.7l0.9-4.5M491.7 512.7l1.1-5.1M491.7 512.7l1.2-5.4"/>
<path class="c24" d="M492.1 507.2l3.4-7.5M492.1 507.2l4.0-8.5M492.1 507.2l4.3-8.8"/>
<path class="c24" d="M500.8 540.6l4.5-6.7M500.8 540.6l5.3-7.5M500.8 540.6l5.7-7.8"/>
<path class="c30" d="M484.5 511.3l4.6-4.0M484.5 511.3l5.2-4.4M484.5 511.3l5.5-4.6"/>
<path class="c23" d="M512.3 510.7l2.8-8.9M512.3 510.7l3.5-10.0M512.3 510.7l4.0-10.3"/>
<path class="c28" d="M503.0 497.0l1.1-5.1M503.0 497.0l1.4-5.8M503.0 497.0l1.6-6.0"/>
<path class="c24" d="M492.3 502.0l4.4-6.2M492.3 502.0l5.2-6.9M492.3 502.0l5.6-7.1" opacity="0.70"/>
<path class="c24" d="M509.5 476.0l3.6-8.0M509.5 476.0l4.3-9.0M509.5 476.0l4.8-9.3"/>
<path class="c38" d="M501.5 499.3l0.9-9.2M501.5 499.3l1.1-10.4M501.5 499.3l1.3-10.9"/>
<path class="c38" d="M480.7 485.8l1.9-8.1M480.7 485.8l2.4-9.1M480.7 485.8l2.7-9.5"/>
<path class="c28" d="M497.2 475.5l1.1-5.5M497.2 475.5l1.4-6.3M497.2 475.5l1.6-6.5"/>
<path class="c25" d="M526.7 489.3l4.4-6.8M526.7 489.3l5.1-7.7M526.7 489.3l5.4-8.0"/>
<path class="c24" d="M482.0 490.6l4.3-7.7M482.0 490.6l5.0-8.7M482.0 490.6l5.3-9.0"/>
<path class="c23" d="M482.1 474.4l1.7-7.5M482.1 474.4l2.1-8.5M482.1 474.4l2.3-8.8"/>
<path class="c24" d="M493.4 476.2l5.1-7.8M493.4 476.2l6.0-8.7M493.4 476.2l6.5-8.9" opacity="0.70"/>
<path class="c24" d="M472.2 479.8l4.8-6.9M472.2 479.8l5.6-7.7M472.2 479.8l6.0-8.0"/>
<path class="c24" d="M520.8 479.7l4.6-7.0M520.8 479.7l5.4-7.9M520.8 479.7l5.8-8.1"/>
<path class="c23" d="M491.0 489.2l1.6-7.0M491.0 489.2l2.0-7.9M491.0 489.2l2.3-8.2" opacity="0.70"/>
<path class="c28" d="M468.9 502.9l0.9-5.7M468.9 502.9l1.2-6.5M468.9 502.9l1.4-6.7" opacity="0.70"/>
<path class="c38" d="M504.0 470.9l1.5-8.3M504.0 470.9l1.9-9.4M504.0 470.9l2.3-9.7" opacity="0.70"/>
<path class="c25" d="M477.0 502.1l2.9-7.4M477.0 502.1l3.6-8.3M477.0 502.1l4.0-8.6"/>
<path class="c28" d="M497.0 500.6l0.8-5.8M497.0 500.6l1.1-6.5M497.0 500.6l1.3-6.8"/>
<path class="c23" d="M479.7 473.6l2.2-8.8M479.7 473.6l2.8-9.9M479.7 473.6l3.2-10.3"/>
<path class="c24" d="M507.1 481.8l3.9-5.9M507.1 481.8l4.5-6.6M507.1 481.8l4.8-6.8"/>
<path class="c39" d="M468.7 506.4l0.7-5.2M468.7 506.4l0.9-5.9M468.7 506.4l1.0-6.2"/>
<path class="c24" d="M470.6 494.1l3.2-7.0M470.6 494.1l3.8-7.9M470.6 494.1l4.0-8.2" opacity="0.70"/>
<path class="c23" d="M474.7 485.6l0.5-7.4M474.7 485.6l0.7-8.4M474.7 485.6l0.9-8.8"/>
<path class="c38" d="M501.5 489.2l0.4-8.6M501.5 489.2l0.6-9.8M501.5 489.2l0.9-10.2"/>
<path class="c30" d="M516.8 506.4l3.0-4.9M516.8 506.4l3.5-5.5M516.8 506.4l3.7-5.6"/>
<path class="c39" d="M480.1 488.9l0.2-5.6M480.1 488.9l0.4-6.3M480.1 488.9l0.6-6.6"/>
<path class="c23" d="M472.3 508.2l0.8-9.1M472.3 508.2l1.0-10.3M472.3 508.2l1.3-10.8"/>
<path class="c28" d="M471.8 500.7l0.5-5.9M471.8 500.7l0.7-6.7M471.8 500.7l0.9-7.0"/>
<path class="c24" d="M522.9 501.8l3.7-6.6M522.9 501.8l4.4-7.4M522.9 501.8l4.9-7.6"/>
<path class="c25" d="M499.2 477.1l5.2-7.7M499.2 477.1l6.0-8.6M499.2 477.1l6.4-9.0" opacity="0.70"/>
<path class="c23" d="M493.6 476.7l1.5-7.2M493.6 476.7l1.8-8.1M493.6 476.7l2.1-8.5"/>
<path class="c23" d="M462.0 498.6l2.6-7.1M462.0 498.6l3.1-8.0M462.0 498.6l3.4-8.4"/>
<path class="c24" d="M488.0 494.8l3.6-7.4M488.0 494.8l4.3-8.3M488.0 494.8l4.7-8.6"/>
<path class="c30" d="M495.5 477.2l3.1-5.0M495.5 477.2l3.7-5.6M495.5 477.2l4.0-5.8"/>
<path class="c23" d="M483.1 503.0l1.7-8.8M483.1 503.0l2.1-9.9M483.1 503.0l2.5-10.3"/>
<path class="c38" d="M498.3 474.8l2.7-8.5M498.3 474.8l3.2-9.6M498.3 474.8l3.6-10.0"/>
<path class="c30" d="M486.3 507.0l2.3-5.1M486.3 507.0l2.7-5.8M486.3 507.0l3.0-6.0"/>
<path class="c23" d="M498.6 492.0l0.5-7.3M498.6 492.0l0.9-8.2M498.6 492.0l1.2-8.6" opacity="0.70"/>
<path class="c38" d="M479.7 507.8l1.0-6.9M479.7 507.8l1.3-7.8M479.7 507.8l1.6-8.1"/>
<path class="c23" d="M468.8 503.1l2.3-7.7M468.8 503.1l2.8-8.7M468.8 503.1l3.0-9.0" opacity="0.70"/>
<path class="c26" d="M547.1 529.7l6.6-2.4M547.1 529.7l7.5-2.6M547.1 529.7l7.9-2.6"/>
<path class="c32" d="M531.5 516.6l4.6-3.0M531.5 516.6l5.3-3.3M531.5 516.6l5.6-3.3" opacity="0.70"/>
<path class="c30" d="M501.4 532.8l5.5-2.5M501.4 532.8l6.3-2.7M501.4 532.8l6.6-2.8"/>
<path class="c24" d="M500.7 538.2l5.5-6.0M500.7 538.2l6.4-6.6M500.7 538.2l6.9-6.7"/>
<path class="c36" d="M544.0 521.1l5.9-1.6M544.0 521.1l6.8-1.7M544.0 521.1l7.1-1.7" opacity="0.70"/>
<path class="c30" d="M539.8 514.3l4.9-3.4M539.8 514.3l5.7-3.8M539.8 514.3l6.0-3.9" opacity="0.70"/>
<path class="c25" d="M538.2 547.7l6.2-4.5M538.2 547.7l7.0-5.0M538.2 547.7l7.4-5.1"/>
<path class="c24" d="M523.9 532.5l8.2-3.7M523.9 532.5l9.4-4.0M523.9 532.5l10.0-3.9"/>
<path class="c24" d="M524.5 532.2l4.5-5.4M524.5 532.2l5.2-6.1M524.5 532.2l5.6-6.3"/>
<path class="c35" d="M520.7 549.0l5.5-1.9M520.7 549.0l6.2-2.1M520.7 549.0l6.6-2.1"/>
<path class="c24" d="M519.5 546.9l6.4-5.4M519.5 546.9l7.3-5.9M519.5 546.9l7.8-6.1"/>
<path class="c24" d="M544.0 529.3l7.5-5.2M544.0 529.3l8.6-5.8M544.0 529.3l9.1-5.9" opacity="0.70"/>
<path class="c24" d="M525.1 555.0l4.4-6.9M525.1 555.0l5.1-7.8M525.1 555.0l5.4-8.1"/>
<path class="c25" d="M531.4 531.9l6.3-5.4M531.4 531.9l7.3-5.9M531.4 531.9l7.8-6.0"/>
<path class="c31" d="M533.3 518.1l6.6-2.7M533.3 518.1l7.6-2.9M533.3 518.1l8.1-2.8"/>
<path class="c25" d="M505.0 544.7l7.6-4.0M505.0 544.7l8.7-4.5M505.0 544.7l9.1-4.6"/>
<path class="c25" d="M542.8 550.2l7.5-3.3M542.8 550.2l8.5-3.6M542.8 550.2l9.0-3.6"/>
<path class="c24" d="M506.7 521.5l6.8-3.6M506.7 521.5l7.8-3.9M506.7 521.5l8.2-3.9"/>
<path class="c26" d="M518.4 543.8l6.8-2.1M518.4 543.8l7.8-2.3M518.4 543.8l8.2-2.2" opacity="0.70"/>
<path class="c25" d="M517.9 549.6l6.0-3.6M517.9 549.6l6.9-3.9M517.9 549.6l7.3-4.0"/>
<path class="c32" d="M540.5 553.0l3.6-4.5M540.5 553.0l4.2-5.0M540.5 553.0l4.6-5.1"/>
<path class="c32" d="M528.3 517.8l3.8-5.1M528.3 517.8l4.5-5.6M528.3 517.8l4.9-5.8"/>
<path class="c32" d="M524.1 519.6l3.9-5.2M524.1 519.6l4.5-5.9M524.1 519.6l4.8-6.1"/>
<path class="c24" d="M544.2 546.2l7.2-4.6M544.2 546.2l8.3-5.0M544.2 546.2l8.8-4.9" opacity="0.70"/>
<path class="c24" d="M505.1 520.7l6.7-5.5M505.1 520.7l7.7-6.1M505.1 520.7l8.3-6.1"/>
<path class="c30" d="M528.3 530.5l3.7-5.4M528.3 530.5l4.3-6.0M528.3 530.5l4.6-6.2" opacity="0.70"/>
<path class="c25" d="M547.5 525.5l6.8-5.2M547.5 525.5l7.8-5.7M547.5 525.5l8.3-5.8"/>
<path class="c30" d="M545.2 518.9l3.1-5.0M545.2 518.9l3.7-5.6M545.2 518.9l4.0-5.8"/>
<path class="c24" d="M522.9 531.4l6.4-4.3M522.9 531.4l7.3-4.7M522.9 531.4l7.8-4.8"/>
<path class="c32" d="M532.4 557.0l3.6-5.2M532.4 557.0l4.2-5.8M532.4 557.0l4.5-6.0"/>
<path class="c31" d="M542.2 529.2l7.3-2.1M542.2 529.2l8.4-2.2M542.2 529.2l8.8-2.1"/>
<path class="c24" d="M536.6 539.2l5.3-4.9M536.6 539.2l6.0-5.5M536.6 539.2l6.4-5.7"/>
<path class="c30" d="M530.0 512.6l4.8-3.0M530.0 512.6l5.5-3.2M530.0 512.6l5.8-3.3"/>
<path class="c35" d="M524.4 516.3l6.2-1.9M524.4 516.3l7.0-2.0M524.4 516.3l7.4-2.0"/>
<path class="c32" d="M500.2 526.6l4.8-2.5M500.2 526.6l5.5-2.8M500.2 526.6l5.8-2.8"/>
<path class="c32" d="M508.2 548.6l3.4-4.2M508.2 548.6l4.0-4.6M508.2 548.6l4.3-4.7"/>
<path class="c30" d="M509.4 546.1l3.5-5.6M509.4 546.1l4.1-6.3M509.4 546.1l4.4-6.5"/>
<path class="c25" d="M520.2 522.4l7.9-3.7M520.2 522.4l9.1-4.0M520.2 522.4l9.6-3.9" opacity="0.70"/>
<path class="c24" d="M519.6 541.5l5.0-6.6M519.6 541.5l5.8-7.4M519.6 541.5l6.3-7.5"/>
<path class="c31" d="M498.1 537.9l8.2-2.0M498.1 537.9l9.3-2.2M498.1 537.9l9.8-2.1"/>
<path class="c24" d="M547.9 550.4l7.1-4.2M547.9 550.4l8.1-4.6M547.9 550.4l8.6-4.6"/>
<path class="c32" d="M533.1 526.0l5.2-3.9M533.1 526.0l6.0-4.3M533.1 526.0l6.4-4.3" opacity="0.70"/>
<path class="c24" d="M542.3 525.6l4.6-6.7M542.3 525.6l5.3-7.5M542.3 525.6l5.7-7.8" opacity="0.70"/>
<path class="c32" d="M527.0 549.2l3.3-4.2M527.0 549.2l3.9-4.6M527.0 549.2l4.2-4.8" opacity="0.70"/>
<path class="c36" d="M536.1 546.6l5.2-1.5M536.1 546.6l5.9-1.6M536.1 546.6l6.2-1.5"/>
<path class="c25" d="M540.9 545.1l7.7-4.0M540.9 545.1l8.8-4.4M540.9 545.1l9.3-4.4"/>
<path class="c36" d="M499.4 546.0l5.8-2.6M499.4 546.0l6.7-2.8M499.4 546.0l7.1-2.7"/>
<path class="c24" d="M503.5 531.7l6.2-5.0M503.5 531.7l7.1-5.6M503.5 531.7l7.5-5.7" opacity="0.70"/>
<path class="c25" d="M544.6 530.8l4.8-5.0M544.6 530.8l5.6-5.5M544.6 530.8l5.9-5.7" opacity="0.70"/>
<path class="c25" d="M514.7 514.2l6.3-3.6M514.7 514.2l7.3-4.0M514.7 514.2l7.7-4.0"/>
<path class="c25" d="M558.7 487.3l5.4-13.2M558.7 487.3l6.4-14.8M558.7 487.3l6.9-15.4"/>
<path class="c24" d="M547.7 473.2l9.6-12.1M547.7 473.2l11.2-13.4M547.7 473.2l12.1-13.7"/>
<path class="c38" d="M545.5 491.1l5.8-15.3M545.5 491.1l7.0-17.2M545.5 491.1l7.9-17.7" opacity="0.70"/>
<path class="c23" d="M573.1 457.0l4.0-12.9M573.1 457.0l5.0-14.5M573.1 457.0l5.6-15.0"/>
<path class="c25" d="M547.7 492.3l10.4-10.9M547.7 492.3l12.1-12.1M547.7 492.3l12.9-12.3"/>
<path class="c38" d="M581.7 490.0l3.7-10.1M581.7 490.0l4.5-11.4M581.7 490.0l5.0-11.8"/>
<path class="c25" d="M584.1 455.8l6.7-8.7M584.1 455.8l7.9-9.7M584.1 455.8l8.6-9.9" opacity="0.70"/>
<path class="c24" d="M533.8 480.8l5.3-8.4M533.8 480.8l6.3-9.3M533.8 480.8l6.8-9.6" opacity="0.70"/>
<path class="c38" d="M540.4 481.1l3.8-13.5M540.4 481.1l4.5-15.2M540.4 481.1l5.0-15.9"/>
<path class="c23" d="M572.3 502.8l3.4-12.9M572.3 502.8l4.1-14.6M572.3 502.8l4.5-15.2"/>
<path class="c38" d="M577.7 471.5l4.2-15.3M577.7 471.5l5.2-17.2M577.7 471.5l5.9-17.9" opacity="0.70"/>
<path class="c25" d="M570.0 456.0l7.4-7.7M570.0 456.0l8.6-8.4M570.0 456.0l9.3-8.5" opacity="0.70"/>
<path class="c24" d="M561.6 478.9l7.1-11.3M561.6 478.9l8.2-12.7M561.6 478.9l8.7-13.2"/>
<path class="c38" d="M550.7 474.0l3.9-11.0M550.7 474.0l4.6-12.4M550.7 474.0l5.0-12.9"/>
<path class="c25" d="M567.7 467.4l5.1-12.0M567.7 467.4l6.0-13.5M567.7 467.4l6.6-14.0" opacity="0.70"/>
<path d="M502.1 459.5h0M509.7 471.5h0M518.5 473.7h0M540.3 466.1h0M556.7 471.5h0M574.2 473.7h0M471.5 477.0h0M486.8 482.5h0M492.2 484.7h0M501.0 484.7h0M507.5 485.8h0M527.2 484.7h0M546.9 510.9h0M550.2 500.0h0M573.1 513.1h0M562.2 539.3h0M584.1 543.7h0M592.8 539.3h0M568.8 530.6h0M467.1 582.0h0M475.8 590.7h0M509.7 579.8h0M527.2 575.4h0M562.2 575.4h0M556.7 568.9h0M586.3 542.6h0M591.7 565.6h0M570.9 530.6h0M573.1 510.9h0M562.2 542.6h0M519.6 561.2h0M635.0 468.2h0M664.5 456.4h0M664.5 472.6h0M629.5 484.2h0M645.9 474.3h0M676.5 477.6h0M702.8 518.1h0M475.7 519.7h0M471.1 531.6h0M498.0 524.1h0M484.6 542.0h0M469.9 555.2h0M501.5 535.5h0M501.1 533.1h0M499.3 545.3h0M468.5 519.6h0M497.3 536.3h0M472.7 519.8h0M470.6 530.3h0M472.1 537.0h0M477.7 514.6h0M478.1 508.0h0M471.7 546.2h0M467.5 546.9h0M482.7 539.5h0M460.5 527.8h0M469.9 516.0h0M469.1 536.9h0M456.5 533.4h0M473.2 518.0h0M501.7 528.0h0M477.8 549.7h0M476.7 503.6h0M475.1 523.1h0M463.0 504.5h0M464.6 538.2h0M492.2 523.6h0M492.6 502.1h0M470.4 553.6h0M465.1 545.3h0M475.9 538.6h0M467.8 523.7h0M487.5 543.3h0M483.7 541.5h0M474.9 498.9h0M490.2 547.9h0M485.6 535.6h0M470.9 505.7h0M504.4 525.1h0M490.1 539.9h0M492.1 507.2h0M500.8 540.6h0M484.5 511.3h0M512.3 510.7h0M503.0 497.0h0M509.5 476.0h0M497.2 475.5h0M482.0 490.6h0M482.1 474.4h0M472.2 479.8h0M520.8 479.7h0M497.0 500.6h0M479.7 473.6h0M507.1 481.8h0M474.7 485.6h0M516.8 506.4h0M472.3 508.2h0M471.8 500.7h0M522.9 501.8h0M493.6 476.7h0M462.0 498.6h0M488.0 494.8h0M495.5 477.2h0M483.1 503.0h0M486.3 507.0h0M501.4 532.8h0M500.7 538.2h0M523.9 532.5h0M524.5 532.2h0M519.5 546.9h0M525.1 555.0h0M533.3 518.1h0M506.7 521.5h0M505.1 520.7h0M545.2 518.9h0M522.9 531.4h0M542.2 529.2h0M536.6 539.2h0M530.0 512.6h0M509.4 546.1h0M519.6 541.5h0M498.1 537.9h0M547.9 550.4h0M536.1 546.6h0M499.4 546.0h0M547.7 473.2h0M573.1 457.0h0M572.3 502.8h0M561.6 478.9h0" stroke="#1f77b4" stroke-width="2.50" stroke-linecap="round" fill="none"/>
<path d="M592.8 471.5h0M588.4 478.1h0M568.8 487.9h0M538.1 489.0h0M543.6 486.9h0M531.6 480.3h0M516.3 502.2h0M520.7 493.4h0M550.2 507.6h0M558.9 502.2h0M570.9 493.4h0M567.7 519.7h0M584.1 517.5h0M597.2 491.2h0M464.9 515.3h0M557.8 535.0h0M581.9 550.3h0M540.3 528.4h0M534.9 526.2h0M527.2 537.1h0M503.2 517.5h0M494.4 506.5h0M520.7 524.0h0M507.5 530.6h0M487.9 526.2h0M476.9 532.8h0M470.4 517.5h0M496.6 545.9h0M518.5 545.9h0M536.0 539.3h0M546.9 569.5h0M557.8 564.5h0M581.9 550.3h0M590.6 545.9h0M591.7 563.4h0M566.6 520.8h0M588.4 516.4h0M557.8 537.2h0M549.1 530.6h0M531.6 549.2h0M536.0 543.7h0M522.8 550.3h0M642.0 448.5h0M631.7 491.8h0M661.2 491.8h0M676.5 492.3h0M602.2 489.7h0M613.1 487.5h0M608.7 483.1h0M600.0 452.5h0M615.3 520.7h0M487.2 551.8h0M475.1 523.0h0M474.4 564.0h0M484.4 557.1h0M503.0 537.6h0M486.0 536.8h0M475.1 505.8h0M476.6 530.8h0M483.4 561.2h0M489.8 562.1h0M464.5 538.4h0M468.6 555.8h0M484.7 506.4h0M472.5 562.8h0M490.4 531.0h0M460.5 509.2h0M497.1 553.6h0M491.7 512.7h0M501.5 499.3h0M480.7 485.8h0M526.7 489.3h0M477.0 502.1h0M468.7 506.4h0M501.5 489.2h0M480.1 488.9h0M498.3 474.8h0M479.7 507.8h0M547.1 529.7h0M538.2 547.7h0M520.7 549.0h0M531.4 531.9h0M505.0 544.7h0M542.8 550.2h0M517.9 549.6h0M540.5 553.0h0M528.3 517.8h0M524.1 519.6h0M547.5 525.5h0M532.4 557.0h0M524.4 516.3h0M500.2 526.6h0M508.2 548.6h0M540.9 545.1h0M514.7 514.2h0M558.7 487.3h0M547.7 492.3h0M581.7 490.0h0M540.4 481.1h0M550.7 474.0h0" stroke="#d62728" stroke-width="2.50" stroke-linecap="round" fill="none"/>
<path d="M604.4 496.2h0M460.5 523.9h0M469.9 530.6h0M492.7 541.7h0M457.9 529.6h0M485.6 547.6h0M493.9 529.8h0M504.0 470.9h0M499.2 477.1h0M531.5 516.6h0M518.4 543.8h0M520.2 522.4h0M533.1 526.0h0M527.0 549.2h0M544.6 530.8h0M545.5 491.1h0M584.1 455.8h0M577.7 471.5h0M570.0 456.0h0M567.7 467.4h0" stroke="#d62728" stroke-width="2.50" stroke-linecap="round" fill="none" stroke-opacity="0.70"/>
<path d="M461.2 511.6h0M491.4 522.9h0M478.9 514.5h0M481.3 541.8h0M486.1 543.7h0M491.7 518.5h0M487.5 543.7h0M495.0 519.9h0M461.0 512.6h0M501.1 519.5h0M494.3 521.7h0M472.8 559.6h0M499.2 515.5h0M487.4 503.6h0M468.1 522.5h0M472.4 538.9h0M474.0 560.4h0M466.5 544.9h0M498.5 522.7h0M461.2 511.6h0M486.9 546.4h0M465.9 510.0h0M469.9 549.3h0M483.3 555.0h0M490.2 560.4h0M492.3 502.0h0M493.4 476.2h0M491.0 489.2h0M468.9 502.9h0M470.6 494.1h0M498.6 492.0h0M468.8 503.1h0M544.0 521.1h0M539.8 514.3h0M544.0 529.3h0M544.2 546.2h0M528.3 530.5h0M542.3 525.6h0M503.5 531.7h0M533.8 480.8h0" stroke="#1f77b4" stroke-width="2.50" stroke-linecap="round" fill="none" stroke-opacity="0.70"/>
</svg>
<rect x="431.50" y="341.00" width="338.90" height="252.40" fill="none" stroke="#000" stroke-width="1.0"/>
<line x1="428.00" y1="356.50" x2="431.50" y2="356.50" stroke="#000" stroke-width="1"/>
<text x="424.50" y="360.10" font-size="10.1" text-anchor="end" textLength="5.60" lengthAdjust="spacingAndGlyphs">5</text>
<line x1="428.00" y1="388.04" x2="431.50" y2="388.04" stroke="#000" stroke-width="1"/>
<text x="424.50" y="391.64" font-size="10.1" text-anchor="end" textLength="5.60" lengthAdjust="spacingAndGlyphs">4</text>
<line x1="428.00" y1="419.59" x2="431.50" y2="419.59" stroke="#000" stroke-width="1"/>
<text x="424.50" y="423.19" font-size="10.1" text-anchor="end" textLength="5.60" lengthAdjust="spacingAndGlyphs">3</text>
<line x1="428.00" y1="451.13" x2="431.50" y2="451.13" stroke="#000" stroke-width="1"/>
<text x="424.50" y="454.73" font-size="10.1" text-anchor="end" textLength="5.60" lengthAdjust="spacingAndGlyphs">2</text>
<line x1="428.00" y1="482.67" x2="431.50" y2="482.67" stroke="#000" stroke-width="1"/>
<text x="424.50" y="486.27" font-size="10.1" text-anchor="end" textLength="5.60" lengthAdjust="spacingAndGlyphs">1</text>
<line x1="428.00" y1="514.21" x2="431.50" y2="514.21" stroke="#000" stroke-width="1"/>
<text x="424.50" y="517.81" font-size="10.1" text-anchor="end" textLength="5.60" lengthAdjust="spacingAndGlyphs">0</text>
<line x1="428.00" y1="545.76" x2="431.50" y2="545.76" stroke="#000" stroke-width="1"/>
<text x="424.50" y="549.36" font-size="10.1" text-anchor="end" textLength="12.60" lengthAdjust="spacingAndGlyphs">−1</text>
<line x1="428.00" y1="577.30" x2="431.50" y2="577.30" stroke="#000" stroke-width="1"/>
<text x="424.50" y="580.90" font-size="10.1" text-anchor="end" textLength="12.60" lengthAdjust="spacingAndGlyphs">−2</text>
<line x1="490.40" y1="593.40" x2="490.40" y2="596.90" stroke="#000" stroke-width="1"/>
<text x="490.40" y="607.40" font-size="10.1" text-anchor="middle" textLength="17.25" lengthAdjust="spacingAndGlyphs">200</text>
<line x1="560.40" y1="593.40" x2="560.40" y2="596.90" stroke="#000" stroke-width="1"/>
<text x="560.40" y="607.40" font-size="10.1" text-anchor="middle" textLength="17.25" lengthAdjust="spacingAndGlyphs">400</text>
<line x1="630.40" y1="593.40" x2="630.40" y2="596.90" stroke="#000" stroke-width="1"/>
<text x="630.40" y="607.40" font-size="10.1" text-anchor="middle" textLength="17.25" lengthAdjust="spacingAndGlyphs">600</text>
<line x1="700.40" y1="593.40" x2="700.40" y2="596.90" stroke="#000" stroke-width="1"/>
<text x="700.40" y="607.40" font-size="10.1" text-anchor="middle" textLength="17.25" lengthAdjust="spacingAndGlyphs">800</text>
<line x1="770.40" y1="593.40" x2="770.40" y2="596.90" stroke="#000" stroke-width="1"/>
<text x="770.40" y="607.40" font-size="10.1" text-anchor="middle" textLength="23.20" lengthAdjust="spacingAndGlyphs">1000</text>
<text x="600.95" y="623.00" font-size="13.8" text-anchor="middle" textLength="23.80" lengthAdjust="spacingAndGlyphs">Tau</text>
<text x="404.10" y="467.20" font-size="13.0" text-anchor="middle" textLength="73.00" lengthAdjust="spacingAndGlyphs" transform="rotate(-90 404.10 467.20)">ADAS-Mem</text>
<rect x="649.40" y="347.70" width="114.50" height="43.20" rx="2" ry="2" fill="#fff" fill-opacity="0.8" stroke="#cccccc" stroke-width="1"/>
<circle cx="668.60" cy="359.10" r="3.4" fill="#1f77b4"/>
<circle cx="668.60" cy="378.60" r="3.4" fill="#d62728"/>
<text x="693.20" y="363.30" font-size="12.8" text-anchor="start" textLength="64.50" lengthAdjust="spacingAndGlyphs">no APOE4</text>
<text x="693.20" y="383.00" font-size="12.8" text-anchor="start" textLength="44.00" lengthAdjust="spacingAndGlyphs">APOE4</text>
<svg x="37.5" y="661.0" width="338.9" height="252.39999999999998" viewBox="37.5 661.0 338.9 252.39999999999998" overflow="hidden">
<path class="c38" d="M134.3 763.7l3.5-25.5M134.3 763.7l4.8-28.8M134.3 763.7l5.9-30.0"/>
<path class="c23" d="M137.6 761.5l6.0-15.8M137.6 761.5l7.3-17.7M137.6 761.5l8.2-18.3"/>
<path class="c23" d="M131.0 770.3l2.3-14.8M131.0 770.3l3.1-16.7M131.0 770.3l3.8-17.4"/>
<path class="c38" d="M126.7 779.0l2.3-16.6M126.7 779.0l3.1-18.8M126.7 779.0l3.9-19.5"/>
<path class="c23" d="M103.7 780.1l3.4-10.2M103.7 780.1l4.2-11.5M103.7 780.1l4.7-11.9"/>
<path class="c38" d="M102.6 805.3l-0.9-19.3M102.6 805.3l-0.4-21.9M102.6 805.3l0.3-22.9"/>
<path class="c38" d="M112.4 791.1l-0.9-29.4M112.4 791.1l0.0-33.4M112.4 791.1l1.0-34.9"/>
<path class="c38" d="M114.6 792.2l-0.5-16.5M114.6 792.2l0.0-18.8M114.6 792.2l0.6-19.6"/>
<path class="c23" d="M107.0 807.5l4.2-13.0M107.0 807.5l5.2-14.6M107.0 807.5l5.9-15.1"/>
<path class="c38" d="M124.5 803.1l-0.7-22.1M124.5 803.1l0.0-25.0M124.5 803.1l0.8-26.2"/>
<path class="c38" d="M128.8 792.2l3.3-13.0M128.8 792.2l4.2-14.6M128.8 792.2l4.8-15.1"/>
<path class="c38" d="M120.1 816.2l2.2-20.3M120.1 816.2l3.1-22.9M120.1 816.2l4.0-23.9"/>
<path class="c23" d="M117.9 820.6l5.1-14.9M117.9 820.6l6.3-16.7M117.9 820.6l7.1-17.3"/>
<path class="c38" d="M139.8 805.3l3.2-16.7M139.8 805.3l4.2-18.8M139.8 805.3l5.0-19.5"/>
<path class="c38" d="M150.7 807.5l3.1-18.5M150.7 807.5l4.2-20.9M150.7 807.5l5.0-21.7"/>
<path class="c38" d="M159.5 803.1l0.3-51.5M159.5 803.1l2.1-58.4M159.5 803.1l4.0-61.0"/>
<path class="c38" d="M155.1 790.0l6.6-26.0M155.1 790.0l8.3-29.2M155.1 790.0l9.6-30.3"/>
<path class="c24" d="M166.0 763.7l8.2-22.5M166.0 763.7l10.4-25.0M166.0 763.7l12.1-25.7"/>
<path class="c38" d="M168.2 774.7l3.1-18.5M168.2 774.7l4.2-20.9M168.2 774.7l5.0-21.7"/>
<path class="c24" d="M170.4 790.0l7.1-7.6M170.4 790.0l8.3-8.3M170.4 790.0l9.0-8.5"/>
<path class="c24" d="M176.9 772.5l8.6-18.7M176.9 772.5l10.4-20.9M176.9 772.5l11.6-21.5"/>
<path class="c38" d="M185.7 774.7l3.0-22.2M185.7 774.7l4.2-25.0M185.7 774.7l5.1-26.0"/>
<path class="c38" d="M194.4 768.1l10.3-37.1M194.4 768.1l12.9-41.7M194.4 768.1l14.8-43.2"/>
<path class="c24" d="M193.3 786.7l7.9-12.2M193.3 786.7l9.4-13.6M193.3 786.7l10.2-13.9"/>
<path class="c25" d="M198.8 785.6l7.2-18.6M198.8 785.6l8.8-20.9M198.8 785.6l9.8-21.5"/>
<path class="c24" d="M190.1 807.5l7.0-13.1M190.1 807.5l8.3-14.6M190.1 807.5l9.2-15.0"/>
<path class="c25" d="M196.6 814.0l9.1-15.0M196.6 814.0l10.8-16.7M196.6 814.0l11.9-17.1"/>
<path class="c25" d="M176.9 816.2l10.7-11.4M176.9 816.2l12.5-12.5M176.9 816.2l13.5-12.7"/>
<path class="c24" d="M181.3 825.0l10.7-11.4M181.3 825.0l12.5-12.5M181.3 825.0l13.5-12.7"/>
<path class="c25" d="M159.5 825.0l8.9-11.3M159.5 825.0l10.4-12.5M159.5 825.0l11.3-12.8"/>
<path class="c24" d="M150.7 825.0l5.3-5.7M150.7 825.0l6.3-6.3M150.7 825.0l6.7-6.3"/>
<path class="c25" d="M142.0 831.5l5.2-11.2M142.0 831.5l6.3-12.5M142.0 831.5l6.9-12.9"/>
<path class="c24" d="M133.2 833.7l5.3-5.7M133.2 833.7l6.3-6.3M133.2 833.7l6.7-6.3"/>
<path class="c24" d="M124.5 838.1l5.3-7.5M124.5 838.1l6.3-8.3M124.5 838.1l6.8-8.5"/>
<path class="c23" d="M96.0 831.5l4.2-14.8M96.0 831.5l5.2-16.7M96.0 831.5l6.0-17.3"/>
<path class="c38" d="M104.8 838.1l1.6-9.2M104.8 838.1l2.1-10.4M104.8 838.1l2.5-10.8"/>
<path class="c23" d="M87.3 843.5l0.6-12.0M87.3 843.5l1.0-13.6M87.3 843.5l1.5-14.1"/>
<path class="c38" d="M87.3 841.4l1.5-10.2M87.3 841.4l2.1-11.5M87.3 841.4l2.5-11.9"/>
<path class="c23" d="M81.8 839.2l1.6-8.3M81.8 839.2l2.1-9.4M81.8 839.2l2.5-9.8"/>
<path class="c28" d="M75.3 844.6l0.8-4.6M75.3 844.6l1.0-5.2M75.3 844.6l1.3-5.4"/>
<path class="c23" d="M63.2 818.4l-1.1-7.3M63.2 818.4l-1.0-8.3M63.2 818.4l-0.8-8.8"/>
<path class="c28" d="M72.0 816.2l0.8-5.5M72.0 816.2l1.0-6.3M72.0 816.2l1.3-6.5"/>
<path class="c24" d="M79.6 820.6l3.5-6.5M79.6 820.6l4.2-7.3M79.6 820.6l4.6-7.5"/>
<path class="c38" d="M72.0 822.8l-3.0-7.3M72.0 822.8l-3.1-8.3M72.0 822.8l-3.0-8.8"/>
<path class="c24" d="M159.5 842.5l7.1-7.6M159.5 842.5l8.3-8.3M159.5 842.5l9.0-8.5"/>
<path class="c24" d="M172.6 842.5l7.1-7.6M172.6 842.5l8.3-8.3M172.6 842.5l9.0-8.5"/>
<path class="c24" d="M185.7 838.1l7.1-7.6M185.7 838.1l8.3-8.3M185.7 838.1l9.0-8.5"/>
<path class="c32" d="M203.2 829.3l3.9-3.8M203.2 829.3l4.6-4.2M203.2 829.3l4.9-4.2"/>
<path class="c40" d="M55.6 883.1l-3.5-3.1M55.6 883.1l-3.8-3.6M55.6 883.1l-3.3-3.3M55.6 883.1l-3.5-3.7M55.6 883.1l-3.2-3.6"/>
<path class="c28" d="M64.3 878.7l0.9-4.5M64.3 878.7l1.1-5.1M64.3 878.7l1.1-4.6M64.3 878.7l1.4-4.9M64.3 878.7l1.4-4.6"/>
<path class="c25" d="M72.0 880.9l7.1-5.0M72.0 880.9l8.2-5.4M72.0 880.9l7.5-4.7M72.0 880.9l8.3-4.8M72.0 880.9l7.9-4.3"/>
<path class="c30" d="M69.8 892.9l3.1-3.5M69.8 892.9l3.6-3.8M69.8 892.9l3.3-3.3M69.8 892.9l3.7-3.5M69.8 892.9l3.6-3.2"/>
<path class="c30" d="M74.2 889.7l4.0-2.3M74.2 889.7l4.6-2.5M74.2 889.7l4.2-2.1M74.2 889.7l4.7-2.2M74.2 889.7l4.4-1.9"/>
<path class="c35" d="M80.7 886.4l4.3-1.7M80.7 886.4l4.9-1.8M80.7 886.4l4.5-1.5M80.7 886.4l4.9-1.5M80.7 886.4l4.7-1.2"/>
<path class="c28" d="M84.0 876.5l0.9-4.5M84.0 876.5l1.1-5.1M84.0 876.5l1.1-4.6M84.0 876.5l1.4-4.9M84.0 876.5l1.4-4.6"/>
<path class="c32" d="M77.5 875.4l4.0-2.3M77.5 875.4l4.6-2.5M77.5 875.4l4.2-2.1M77.5 875.4l4.7-2.2M77.5 875.4l4.4-1.9"/>
<path class="c30" d="M90.6 876.5l2.5-3.9M90.6 876.5l3.0-4.3M90.6 876.5l2.8-3.8M90.6 876.5l3.2-4.0M90.6 876.5l3.1-3.7"/>
<path class="c32" d="M92.8 872.2l3.1-3.5M92.8 872.2l3.6-3.8M92.8 872.2l3.3-3.3M92.8 872.2l3.7-3.5M92.8 872.2l3.6-3.2"/>
<path class="c39" d="M100.4 880.9l-0.3-4.6M100.4 880.9l-0.2-5.2M100.4 880.9l0.0-4.7M100.4 880.9l0.2-5.1M100.4 880.9l0.3-4.8"/>
<path class="c30" d="M102.6 889.7l4.0-2.3M102.6 889.7l4.6-2.5M102.6 889.7l4.2-2.1M102.6 889.7l4.7-2.2M102.6 889.7l4.4-1.9"/>
<path class="c28" d="M63.2 867.8l1.5-5.6M63.2 867.8l1.9-6.3M63.2 867.8l1.9-5.6M63.2 867.8l2.2-6.1M63.2 867.8l2.3-5.6"/>
<path class="c30" d="M74.2 863.4l3.1-3.5M74.2 863.4l3.6-3.8M74.2 863.4l3.3-3.3M74.2 863.4l3.7-3.5M74.2 863.4l3.6-3.2"/>
<path class="c35" d="M84.0 866.7l4.3-1.7M84.0 866.7l4.9-1.8M84.0 866.7l4.5-1.5M84.0 866.7l4.9-1.5M84.0 866.7l4.7-1.2"/>
<path class="c30" d="M67.6 854.7l3.1-3.5M67.6 854.7l3.6-3.8M67.6 854.7l3.3-3.3M67.6 854.7l3.7-3.5M67.6 854.7l3.6-3.2"/>
<path class="c41" d="M67.6 852.5l-7.6-4.1M67.6 852.5l-8.5-4.9M67.6 852.5l-7.5-4.7M67.6 852.5l-8.0-5.3M67.6 852.5l-7.4-5.2"/>
<path class="c27" d="M65.4 841.5l-4.5-1.2M65.4 841.5l-5.0-1.5M65.4 841.5l-4.5-1.5M65.4 841.5l-4.8-1.8M65.4 841.5l-4.5-1.8"/>
<path class="c30" d="M76.4 850.3l3.1-3.5M76.4 850.3l3.6-3.8M76.4 850.3l3.3-3.3M76.4 850.3l3.7-3.5M76.4 850.3l3.6-3.2"/>
<path class="c35" d="M80.7 853.6l4.3-1.7M80.7 853.6l4.9-1.8M80.7 853.6l4.5-1.5M80.7 853.6l4.9-1.5M80.7 853.6l4.7-1.2"/>
<path class="c30" d="M86.2 861.2l2.5-3.9M86.2 861.2l3.0-4.3M86.2 861.2l2.8-3.8M86.2 861.2l3.2-4.0M86.2 861.2l3.1-3.7"/>
<path class="c30" d="M96.0 865.6l3.3-5.7M96.0 865.6l4.0-6.4M96.0 865.6l3.8-5.6M96.0 865.6l4.3-6.0M96.0 865.6l4.2-5.5"/>
<path class="c24" d="M102.6 865.6l6.9-11.4M102.6 865.6l8.3-12.5M102.6 865.6l9.3-12.7"/>
<path class="c39" d="M109.2 851.4l1.6-4.7M109.2 851.4l1.9-5.3M109.2 851.4l1.9-4.7M109.2 851.4l2.2-5.0M109.2 851.4l2.2-4.7"/>
<path class="c24" d="M109.2 852.5l5.2-5.8M109.2 852.5l6.0-6.4M109.2 852.5l5.6-5.6M109.2 852.5l6.3-5.9M109.2 852.5l6.1-5.4"/>
<path class="c32" d="M115.7 853.6l3.7-2.8M115.7 853.6l4.3-3.0M115.7 853.6l3.9-2.6M115.7 853.6l4.3-2.7M115.7 853.6l4.2-2.4"/>
<path class="c32" d="M128.8 865.6l3.1-3.5M128.8 865.6l3.6-3.8M128.8 865.6l3.3-3.3M128.8 865.6l3.7-3.5M128.8 865.6l3.6-3.2"/>
<path class="c32" d="M119.0 884.2l2.3-4.0M119.0 884.2l2.8-4.4M119.0 884.2l2.6-3.9M119.0 884.2l3.0-4.2M119.0 884.2l2.9-3.8"/>
<path class="c30" d="M120.1 879.8l4.0-2.3M120.1 879.8l4.6-2.5M120.1 879.8l4.2-2.1M120.1 879.8l4.7-2.2M120.1 879.8l4.4-1.9"/>
<path class="c29" d="M138.7 883.1l-3.5-3.1M138.7 883.1l-3.8-3.6M138.7 883.1l-3.3-3.3M138.7 883.1l-3.5-3.7M138.7 883.1l-3.2-3.6"/>
<path class="c24" d="M137.6 894.0l5.1-6.8M137.6 894.0l6.0-7.5M137.6 894.0l5.6-6.6M137.6 894.0l6.3-6.9M137.6 894.0l6.1-6.4"/>
<path class="c24" d="M133.2 873.3l5.2-4.9M133.2 873.3l6.1-5.4M133.2 873.3l5.6-4.7M133.2 873.3l6.3-4.9M133.2 873.3l6.0-4.4"/>
<path class="c24" d="M129.9 859.0l8.6-14.2M129.9 859.0l10.4-15.6M129.9 859.0l11.6-15.9"/>
<path class="c25" d="M142.0 860.1l3.3-8.4M142.0 860.1l4.2-9.4M142.0 860.1l4.8-9.6"/>
<path class="c24" d="M152.9 863.4l5.1-9.4M152.9 863.4l6.3-10.4M152.9 863.4l7.0-10.6"/>
<path class="c24" d="M161.6 865.6l8.4-16.9M161.6 865.6l10.4-18.8M161.6 865.6l11.8-19.1"/>
<path class="c25" d="M160.5 874.3l9.5-9.8M160.5 874.3l11.1-10.7M160.5 874.3l10.3-9.4M160.5 874.3l11.5-9.9M160.5 874.3l11.1-8.9"/>
<path class="c25" d="M174.8 865.6l15.2-8.3M174.8 865.6l17.4-8.8M174.8 865.6l16.0-7.5M174.8 865.6l17.6-7.6M174.8 865.6l16.7-6.7"/>
<path class="c25" d="M198.8 859.0l7.5-4.1M198.8 859.0l8.6-4.4M198.8 859.0l7.9-3.8M198.8 859.0l8.7-3.8M198.8 859.0l8.3-3.3"/>
<path class="c25" d="M201.0 844.8l5.6-4.9M201.0 844.8l6.5-5.4M201.0 844.8l6.0-4.7M201.0 844.8l6.7-4.9M201.0 844.8l6.4-4.4"/>
<path class="c24" d="M126.7 854.7l5.1-9.4M126.7 854.7l6.3-10.4M126.7 854.7l7.0-10.6"/>
<path class="c38" d="M146.3 859.0l3.3-9.4M146.3 859.0l4.2-10.4M146.3 859.0l4.9-10.7"/>
<path class="c38" d="M219.7 763.4l11.1-40.1M219.7 763.4l14.6-44.9M219.7 763.4l17.4-46.2"/>
<path class="c25" d="M272.2 771.1l15.4-26.5M272.2 771.1l18.8-29.2M272.2 771.1l21.0-29.6"/>
<path class="c25" d="M232.8 787.5l10.3-27.3M232.8 787.5l12.6-30.5M232.8 787.5l12.2-27.2M232.8 787.5l14.1-29.1M232.8 787.5l14.1-27.0"/>
<path class="c24" d="M242.6 794.0l11.7-19.1M242.6 794.0l13.9-21.2M242.6 794.0l13.1-18.8M242.6 794.0l14.9-19.9M242.6 794.0l14.6-18.3"/>
<path class="c24" d="M260.1 794.0l11.8-18.2M260.1 794.0l14.0-20.2M260.1 794.0l13.1-17.8M260.1 794.0l14.8-18.9M260.1 794.0l14.5-17.4"/>
<path class="c25" d="M245.9 798.4l13.4-22.0M245.9 798.4l15.9-24.4M245.9 798.4l15.0-21.6M245.9 798.4l17.0-22.9M245.9 798.4l16.6-21.1"/>
<path class="c25" d="M262.3 805.0l13.1-16.2M262.3 805.0l15.6-17.7M262.3 805.0l17.2-17.8"/>
<path class="c25" d="M239.4 815.9l13.0-19.0M239.4 815.9l15.6-20.9M239.4 815.9l17.3-21.1"/>
<path class="c25" d="M268.9 819.2l16.4-17.6M268.9 819.2l19.2-19.3M268.9 819.2l17.8-16.9M268.9 819.2l19.9-17.8M268.9 819.2l19.2-16.1"/>
<path class="c25" d="M279.8 813.7l14.8-19.1M279.8 813.7l17.7-20.9M279.8 813.7l19.5-21.0"/>
<path class="c25" d="M296.2 819.2l18.9-22.3M296.2 819.2l22.1-24.6M296.2 819.2l20.6-21.6M296.2 819.2l23.1-22.8M296.2 819.2l22.4-20.8"/>
<path class="c24" d="M301.7 802.8l13.6-18.3M301.7 802.8l16.0-20.2M301.7 802.8l15.0-17.8M301.7 802.8l16.9-18.9M301.7 802.8l16.4-17.3"/>
<path class="c24" d="M228.4 796.2l8.6-13.3M228.4 796.2l10.4-14.6M228.4 796.2l11.6-14.8"/>
<path class="c24" d="M220.8 813.7l9.4-17.0M220.8 813.7l11.5-18.8M220.8 813.7l12.9-19.1"/>
<path class="c38" d="M202.2 743.7l4.3-20.5M202.2 743.7l5.5-23.0M202.2 743.7l5.6-20.6M202.2 743.7l6.8-22.2M202.2 743.7l7.0-20.7"/>
<path class="c38" d="M200.0 761.2l6.1-20.6M200.0 761.2l7.6-23.1M200.0 761.2l7.5-20.6M200.0 761.2l8.8-22.2M200.0 761.2l8.9-20.6"/>
<path class="c25" d="M213.1 787.5l6.9-9.5M213.1 787.5l8.3-10.4M213.1 787.5l9.2-10.5"/>
<path class="c24" d="M204.4 800.6l7.0-7.7M204.4 800.6l8.3-8.3M204.4 800.6l9.1-8.3"/>
<path class="c25" d="M243.7 824.6l7.1-5.8M243.7 824.6l8.3-6.3M243.7 824.6l9.0-6.1"/>
<path class="c25" d="M276.5 824.6l8.9-5.9M276.5 824.6l10.4-6.3M276.5 824.6l11.2-6.0"/>
<path class="c25" d="M266.7 831.7l16.4-12.6M266.7 831.7l19.2-13.3M266.7 831.7l17.8-11.3M266.7 831.7l19.9-11.3M266.7 831.7l19.2-9.8"/>
<path class="c26" d="M291.8 838.9l17.0-6.4M291.8 838.9l19.5-6.6M291.8 838.9l17.8-5.3M291.8 838.9l19.6-5.0M291.8 838.9l18.6-4.0"/>
<path class="c24" d="M273.9 854.7l11.3-17.3M273.9 854.7l13.4-19.1M273.9 854.7l12.6-16.9M273.9 854.7l14.2-17.9M273.9 854.7l13.9-16.5"/>
<path class="c25" d="M230.6 839.4l16.4-17.6M230.6 839.4l19.2-19.3M230.6 839.4l17.8-16.9M230.6 839.4l19.9-17.8M230.6 839.4l19.2-16.1"/>
<path class="c25" d="M210.9 858.6l9.6-6.8M210.9 858.6l11.2-7.3M210.9 858.6l10.3-6.2M210.9 858.6l11.5-6.3M210.9 858.6l11.0-5.5"/>
<path class="c25" d="M201.1 857.9l6.9-6.1M201.1 857.9l8.1-6.5M201.1 857.9l7.5-5.6M201.1 857.9l8.4-5.8M201.1 857.9l8.1-5.2"/>
<path class="c25" d="M201.1 844.8l6.8-9.6M201.1 844.8l8.0-10.6M201.1 844.8l7.5-9.4M201.1 844.8l8.5-9.9M201.1 844.8l8.2-9.1"/>
<path class="c25" d="M210.9 837.2l11.4-9.0M210.9 837.2l13.2-9.8M210.9 837.2l12.2-8.4M210.9 837.2l13.5-8.8M210.9 837.2l13.0-7.9"/>
<path class="c25" d="M216.4 830.6l5.8-15.0M216.4 830.6l7.3-16.7M216.4 830.6l8.4-17.1"/>
<path class="c38" d="M135.1 762.3l3.1-24.6M135.1 762.3l4.2-27.8M135.1 762.3l5.1-29.0"/>
<path class="c24" d="M131.4 774.7l11.0-27.2M131.4 774.7l13.2-30.6M131.4 774.7l14.6-31.7"/>
<path class="c23" d="M126.3 776.1l5.7-19.1M126.3 776.1l7.0-21.6M126.3 776.1l7.8-22.4"/>
<path class="c38" d="M111.0 779.8l0.7-20.3M111.0 779.8l1.4-22.9M111.0 779.8l2.0-24.0"/>
<path class="c38" d="M112.5 791.4l1.5-16.0M112.5 791.4l2.1-18.1M112.5 791.4l2.6-18.9"/>
<path class="c23" d="M103.0 780.5l3.4-10.5M103.0 780.5l4.2-11.8M103.0 780.5l4.7-12.3"/>
<path class="c38" d="M101.6 804.6l0.2-18.4M101.6 804.6l0.7-20.9M101.6 804.6l1.3-21.8"/>
<path class="c38" d="M105.2 789.2l0.9-12.9M105.2 789.2l1.4-14.6M105.2 789.2l1.8-15.2"/>
<path class="c38" d="M159.1 778.3l1.7-30.7M159.1 778.3l2.8-34.8M159.1 778.3l3.8-36.3"/>
<path class="c24" d="M166.4 763.7l8.8-23.1M166.4 763.7l11.1-25.7M166.4 763.7l12.8-26.4"/>
<path class="c38" d="M163.5 785.6l1.9-22.1M163.5 785.6l2.8-25.0M163.5 785.6l3.5-26.1"/>
<path class="c24" d="M170.8 791.4l8.3-10.0M170.8 791.4l9.7-11.1M170.8 791.4l10.5-11.4"/>
<path class="c24" d="M176.6 771.0l8.2-16.8M176.6 771.0l9.7-18.8M176.6 771.0l10.7-19.4"/>
<path class="c38" d="M181.0 775.4l8.0-22.9M181.0 775.4l9.7-25.7M181.0 775.4l10.8-26.7"/>
<path class="c24" d="M190.5 769.6l8.8-18.6M190.5 769.6l10.4-20.9M190.5 769.6l11.4-21.6"/>
<path class="c38" d="M195.6 763.7l10.3-32.2M195.6 763.7l12.8-36.2M195.6 763.7l14.5-37.4"/>
<path class="c25" d="M197.0 766.6l8.1-18.6M197.0 766.6l9.7-20.9M197.0 766.6l10.7-21.6"/>
<path class="c24" d="M191.2 787.1l7.1-10.0M191.2 787.1l8.3-11.1M191.2 787.1l9.0-11.4"/>
<path class="c25" d="M179.6 801.6l8.2-17.4M179.6 801.6l9.7-19.5M179.6 801.6l10.7-20.1"/>
<path class="c25" d="M170.8 804.6l4.7-9.9M170.8 804.6l5.6-11.1M170.8 804.6l6.1-11.5"/>
<path class="c38" d="M154.8 788.5l2.2-11.1M154.8 788.5l2.8-12.5M154.8 788.5l3.2-13.0"/>
<path class="c38" d="M150.4 790.0l2.3-7.4M150.4 790.0l2.8-8.3M150.4 790.0l3.1-8.7"/>
<path class="c38" d="M143.1 798.7l1.6-9.9M143.1 798.7l2.1-11.1M143.1 798.7l2.5-11.6"/>
<path class="c38" d="M138.7 803.1l2.2-11.1M138.7 803.1l2.8-12.5M138.7 803.1l3.2-13.0"/>
<path class="c24" d="M137.3 803.8l3.5-8.1M137.3 803.8l4.2-9.0M137.3 803.8l4.6-9.3"/>
<path class="c30" d="M147.5 798.7l3.6-5.0M147.5 798.7l4.2-5.6M147.5 798.7l4.5-5.7"/>
<path class="c38" d="M125.6 795.8l1.5-16.0M125.6 795.8l2.1-18.1M125.6 795.8l2.6-18.9"/>
<path class="c38" d="M129.3 795.8l2.2-12.3M129.3 795.8l2.8-13.9M129.3 795.8l3.3-14.5"/>
<path class="c38" d="M132.9 795.8l0.4-9.8M132.9 795.8l0.7-11.1M132.9 795.8l1.0-11.6"/>
<path class="c38" d="M123.4 801.6l0.4-9.8M123.4 801.6l0.7-11.1M123.4 801.6l1.0-11.6"/>
<path class="c28" d="M121.2 804.6l2.3-6.2M121.2 804.6l2.8-7.0M121.2 804.6l3.1-7.2"/>
<path class="c23" d="M109.6 803.1l1.0-7.4M109.6 803.1l1.4-8.3M109.6 803.1l1.7-8.7"/>
<path class="c38" d="M113.2 804.6l0.4-8.6M113.2 804.6l0.7-9.7M113.2 804.6l1.0-10.2"/>
<path class="c25" d="M163.5 801.6l3.5-7.4M163.5 801.6l4.2-8.3M163.5 801.6l4.6-8.6"/>
<path class="c25" d="M202.9 798.7l4.9-9.9M202.9 798.7l5.8-11.1M202.9 798.7l6.4-11.5"/>
<path class="c24" d="M197.0 801.6l4.7-7.5M197.0 801.6l5.6-8.3M197.0 801.6l6.0-8.6"/>
<path class="c23" d="M97.9 826.4l3.4-11.1M97.9 826.4l4.2-12.5M97.9 826.4l4.7-13.0"/>
<path class="c23" d="M105.2 816.2l4.5-18.5M105.2 816.2l5.6-20.9M105.2 816.2l6.3-21.7"/>
<path class="c38" d="M119.1 829.4l2.0-19.7M119.1 829.4l2.8-22.3M119.1 829.4l3.5-23.2"/>
<path class="c38" d="M125.6 823.5l2.0-17.2M125.6 823.5l2.8-19.5M125.6 823.5l3.4-20.3"/>
<path class="c24" d="M122.0 837.4l4.7-9.3M122.0 837.4l5.6-10.4M122.0 837.4l6.1-10.8"/>
<path class="c38" d="M124.9 852.7l2.2-9.9M124.9 852.7l2.8-11.1M124.9 852.7l3.2-11.6"/>
<path class="c24" d="M130.0 836.6l7.2-5.1M130.0 836.6l8.3-5.6M130.0 836.6l8.9-5.6"/>
<path class="c24" d="M133.6 848.3l6.6-6.9M133.6 848.3l7.6-7.6M133.6 848.3l8.2-7.8"/>
<path class="c38" d="M134.4 827.9l3.4-9.9M134.4 827.9l4.2-11.1M134.4 827.9l4.6-11.5"/>
<path class="c24" d="M145.3 828.6l5.9-8.1M145.3 828.6l7.0-9.0M145.3 828.6l7.5-9.3"/>
<path class="c38" d="M150.4 833.7l4.6-12.4M150.4 833.7l5.6-13.9M150.4 833.7l6.2-14.4"/>
<path class="c24" d="M156.2 825.0l4.8-5.6M156.2 825.0l5.6-6.3M156.2 825.0l6.0-6.4"/>
<path class="c25" d="M153.3 825.0l5.9-10.0M153.3 825.0l7.0-11.1M153.3 825.0l7.6-11.5"/>
<path class="c25" d="M157.7 813.3l7.7-10.0M157.7 813.3l9.0-11.1M157.7 813.3l9.7-11.4"/>
<path class="c24" d="M157.7 842.5l10.8-10.1M157.7 842.5l12.5-11.1M157.7 842.5l13.4-11.3"/>
<path class="c24" d="M151.9 864.3l4.6-11.1M151.9 864.3l5.6-12.5M151.9 864.3l6.1-13.0"/>
<path class="c25" d="M141.6 860.0l5.3-9.9M141.6 860.0l6.3-11.1M141.6 860.0l6.8-11.5"/>
<path class="c38" d="M143.1 848.3l3.4-9.9M143.1 848.3l4.2-11.1M143.1 848.3l4.6-11.5"/>
<path class="c24" d="M162.1 864.3l7.0-16.1M162.1 864.3l8.3-18.1M162.1 864.3l9.2-18.7"/>
<path class="c25" d="M170.8 865.8l6.5-11.2M170.8 865.8l7.6-12.5M170.8 865.8l8.3-12.9"/>
<path class="c25" d="M173.7 867.3l15.6-9.2M173.7 867.3l18.1-9.7M173.7 867.3l19.3-9.5"/>
<path class="c25" d="M156.2 851.2l7.2-7.5M156.2 851.2l8.3-8.3M156.2 851.2l8.9-8.5"/>
<path class="c24" d="M167.9 846.9l7.1-11.2M167.9 846.9l8.3-12.5M167.9 846.9l9.0-12.9"/>
<path class="c25" d="M167.9 835.2l7.1-12.4M167.9 835.2l8.3-13.9M167.9 835.2l9.1-14.3"/>
<path class="c24" d="M175.2 833.7l13.3-8.9M175.2 833.7l15.3-9.7M175.2 833.7l16.2-9.8"/>
<path class="c25" d="M182.5 813.3l4.7-7.5M182.5 813.3l5.6-8.3M182.5 813.3l6.0-8.6"/>
<path class="c24" d="M183.9 813.3l8.2-16.1M183.9 813.3l9.7-18.1M183.9 813.3l10.6-18.7"/>
<path class="c25" d="M197.0 823.5l8.3-11.2M197.0 823.5l9.7-12.5M197.0 823.5l10.5-12.8"/>
<path class="c25" d="M200.0 845.4l7.4-7.5M200.0 845.4l8.6-8.3M200.0 845.4l9.2-8.5"/>
<path class="c25" d="M198.5 858.5l8.7-6.3M198.5 858.5l10.0-7.0M198.5 858.5l10.6-7.0"/>
<path class="c24" d="M99.4 867.3l3.5-6.2M99.4 867.3l4.2-7.0M99.4 867.3l4.5-7.2"/>
<path class="c30" d="M103.7 851.2l2.3-5.0M103.7 851.2l2.8-5.6M103.7 851.2l3.0-5.7"/>
<path class="c30" d="M109.6 849.8l2.5-3.9M109.6 849.8l2.9-4.4M109.6 849.8l3.2-4.5"/>
<path class="c38" d="M103.0 842.5l0.4-7.4M103.0 842.5l0.7-8.3M103.0 842.5l0.9-8.7"/>
<path class="c38" d="M109.6 839.6l-0.2-9.8M109.6 839.6l0.0-11.1M109.6 839.6l0.3-11.6"/>
<path class="c39" d="M102.3 833.7l-0.8-6.1M102.3 833.7l-0.7-7.0M102.3 833.7l-0.6-7.3"/>
<path class="c28" d="M106.7 833.7l1.1-4.9M106.7 833.7l1.4-5.6M106.7 833.7l1.6-5.8"/>
<path class="c39" d="M97.2 851.2l-0.7-4.9M97.2 851.2l-0.7-5.6M97.2 851.2l-0.6-5.8"/>
<path class="c29" d="M122.7 854.1l-3.3-3.2M122.7 854.1l-3.7-3.7M122.7 854.1l-3.8-4.0"/>
<path class="c35" d="M125.6 865.8l4.4-1.4M125.6 865.8l5.0-1.4M125.6 865.8l5.3-1.4"/>
<path class="c30" d="M134.4 871.6l4.2-2.6M134.4 871.6l4.9-2.8M134.4 871.6l5.2-2.8"/>
<path class="c25" d="M163.5 871.6l4.8-6.2M163.5 871.6l5.6-7.0M163.5 871.6l6.0-7.1"/>
<path class="c30" d="M96.5 859.2l3.6-4.4M96.5 859.2l4.2-4.9M96.5 859.2l4.5-5.0"/>
<path class="c30" d="M111.0 858.5l3.6-3.8M111.0 858.5l4.2-4.2M111.0 858.5l4.5-4.3"/>
<path class="c30" d="M116.9 854.1l2.0-4.2M116.9 854.1l2.3-4.7M116.9 854.1l2.6-4.8"/>
<path class="c23" d="M172.4 807.3l-0.1-9.2M172.4 807.3l0.2-10.5M172.4 807.3l0.5-10.9"/>
<path class="c38" d="M138.2 804.3l3.7-14.1M138.2 804.3l4.4-15.9M138.2 804.3l4.9-16.6"/>
<path class="c38" d="M191.7 793.8l-0.7-11.6M191.7 793.8l-0.6-13.2M191.7 793.8l-0.5-13.8" opacity="0.70"/>
<path class="c38" d="M175.5 807.0l0.3-14.6M175.5 807.0l0.6-16.5M175.5 807.0l0.9-17.3" opacity="0.70"/>
<path class="c23" d="M169.5 815.2l4.7-15.2M169.5 815.2l5.7-17.1M169.5 815.2l6.4-17.7"/>
<path class="c38" d="M141.6 799.6l3.1-11.3M141.6 799.6l3.7-12.8M141.6 799.6l4.1-13.3"/>
<path class="c38" d="M150.6 779.0l0.1-14.5M150.6 779.0l0.4-16.5M150.6 779.0l0.8-17.2" opacity="0.70"/>
<path class="c38" d="M174.2 808.0l-0.0-16.5M174.2 808.0l0.2-18.7M174.2 808.0l0.5-19.6"/>
<path class="c23" d="M158.4 784.3l2.6-12.4M158.4 784.3l3.3-14.0M158.4 784.3l3.7-14.6"/>
<path class="c38" d="M158.6 800.4l3.2-10.6M158.6 800.4l3.9-12.0M158.6 800.4l4.3-12.5"/>
<path class="c38" d="M159.6 780.5l5.0-13.6M159.6 780.5l6.0-15.3M159.6 780.5l6.6-15.9"/>
<path class="c38" d="M138.6 799.2l-0.2-10.1M138.6 799.2l-0.0-11.5M138.6 799.2l0.2-12.0"/>
<path class="c23" d="M161.8 823.1l-0.0-10.9M161.8 823.1l0.2-12.3M161.8 823.1l0.3-12.9" opacity="0.70"/>
<path class="c38" d="M175.9 779.2l-1.1-10.8M175.9 779.2l-1.1-12.2M175.9 779.2l-1.0-12.8"/>
<path class="c23" d="M122.2 794.5l4.3-11.8M122.2 794.5l5.1-13.3M122.2 794.5l5.6-13.8"/>
<path class="c38" d="M175.3 818.1l-1.1-15.7M175.3 818.1l-1.0-17.9M175.3 818.1l-0.7-18.7" opacity="0.70"/>
<path class="c25" d="M123.4 809.1l4.8-10.7M123.4 809.1l5.8-12.0M123.4 809.1l6.5-12.3"/>
<path class="c23" d="M121.3 800.2l-1.0-12.1M121.3 800.2l-0.7-13.7M121.3 800.2l-0.4-14.4" opacity="0.70"/>
<path class="c23" d="M135.4 818.5l-0.6-9.9M135.4 818.5l-0.5-11.2M135.4 818.5l-0.3-11.7"/>
<path class="c23" d="M137.8 792.3l0.9-13.5M137.8 792.3l1.4-15.3M137.8 792.3l1.9-15.9"/>
<path class="c38" d="M135.9 780.1l-0.7-16.5M135.9 780.1l-0.3-18.7M135.9 780.1l0.1-19.5"/>
<path class="c23" d="M180.8 807.6l2.0-9.3M180.8 807.6l2.5-10.5M180.8 807.6l2.8-10.9"/>
<path class="c23" d="M133.0 777.4l1.6-15.6M133.0 777.4l2.0-17.7M133.0 777.4l2.4-18.5" opacity="0.70"/>
<path class="c25" d="M169.1 804.4l3.4-8.6M169.1 804.4l4.0-9.7M169.1 804.4l4.4-10.1"/>
<path class="c38" d="M160.7 828.6l1.9-10.4M160.7 828.6l2.3-11.8M160.7 828.6l2.5-12.3"/>
<path class="c38" d="M170.8 822.2l3.7-13.4M170.8 822.2l4.6-15.0M170.8 822.2l5.2-15.6"/>
<path class="c38" d="M212.4 815.7l4.8-12.5M212.4 815.7l5.7-14.1M212.4 815.7l6.2-14.6"/>
<path class="c25" d="M155.2 844.4l6.7-10.5M155.2 844.4l7.8-11.8M155.2 844.4l8.3-12.2" opacity="0.70"/>
<path class="c24" d="M183.7 829.0l6.8-10.1M183.7 829.0l7.9-11.3M183.7 829.0l8.6-11.6" opacity="0.70"/>
<path class="c23" d="M145.8 794.4l4.8-14.5M145.8 794.4l5.9-16.3M145.8 794.4l6.7-16.9"/>
<path class="c38" d="M133.7 801.3l3.1-12.7M133.7 801.3l3.9-14.3M133.7 801.3l4.5-14.9"/>
<path class="c38" d="M175.5 784.8l3.7-10.4M175.5 784.8l4.4-11.8M175.5 784.8l4.9-12.2"/>
<path class="c23" d="M147.6 802.6l1.8-15.1M147.6 802.6l2.3-17.1M147.6 802.6l2.8-17.8" opacity="0.70"/>
<path class="c25" d="M174.8 825.0l6.0-10.0M174.8 825.0l7.0-11.2M174.8 825.0l7.6-11.6"/>
<path class="c25" d="M146.9 799.9l5.3-8.0M146.9 799.9l6.2-9.0M146.9 799.9l6.7-9.3"/>
<path class="c25" d="M168.4 775.8l6.9-11.5M168.4 775.8l8.0-12.9M168.4 775.8l8.6-13.3"/>
<path class="c38" d="M141.1 815.8l0.9-9.3M141.1 815.8l1.2-10.5M141.1 815.8l1.6-10.9" opacity="0.70"/>
<path class="c38" d="M131.2 819.5l1.4-12.9M131.2 819.5l1.9-14.6M131.2 819.5l2.4-15.2" opacity="0.70"/>
<path class="c38" d="M198.7 787.5l2.3-10.9M198.7 787.5l2.8-12.3M198.7 787.5l3.1-12.8"/>
<path class="c38" d="M146.5 784.5l2.7-11.8M146.5 784.5l3.3-13.3M146.5 784.5l3.6-13.9"/>
<path class="c23" d="M174.2 802.6l1.8-12.1M174.2 802.6l2.4-13.6M174.2 802.6l2.9-14.2"/>
<path class="c25" d="M204.7 795.1l5.8-12.4M204.7 795.1l6.8-14.0M204.7 795.1l7.4-14.5"/>
<path class="c25" d="M154.0 777.3l7.7-9.9M154.0 777.3l9.1-11.0M154.0 777.3l9.9-11.2"/>
<path class="c38" d="M202.7 790.2l1.8-9.0M202.7 790.2l2.3-10.2M202.7 790.2l2.7-10.6"/>
<path class="c25" d="M212.5 827.1l7.1-9.6M212.5 827.1l8.2-10.7M212.5 827.1l8.8-11.1"/>
<path class="c25" d="M192.2 778.4l4.5-11.1M192.2 778.4l5.4-12.5M192.2 778.4l5.9-13.0"/>
<path class="c25" d="M150.0 794.2l4.7-10.9M150.0 794.2l5.6-12.2M150.0 794.2l6.1-12.7" opacity="0.70"/>
<path class="c23" d="M206.8 798.5l2.8-15.5M206.8 798.5l3.5-17.5M206.8 798.5l4.0-18.2"/>
<path class="c23" d="M153.5 793.3l4.6-13.3M153.5 793.3l5.6-15.0M153.5 793.3l6.3-15.5"/>
<path class="c38" d="M141.6 789.8l3.9-12.2M141.6 789.8l4.7-13.7M141.6 789.8l5.3-14.2"/>
<path class="c24" d="M136.7 808.9l6.1-10.8M136.7 808.9l7.1-12.2M136.7 808.9l7.6-12.6"/>
<path class="c38" d="M161.0 827.5l2.2-11.0M161.0 827.5l2.9-12.4M161.0 827.5l3.4-12.8"/>
<path class="c25" d="M145.1 801.1l5.8-14.4M145.1 801.1l7.0-16.1M145.1 801.1l7.8-16.7"/>
<path class="c24" d="M182.1 805.8l4.9-10.2M182.1 805.8l5.8-11.4M182.1 805.8l6.2-11.9" opacity="0.70"/>
<path class="c24" d="M176.6 819.8l9.7-13.5M176.6 819.8l11.5-15.0M176.6 819.8l12.5-15.3" opacity="0.70"/>
<path class="c29" d="M105.0 854.1l-2.3-4.0M105.0 854.1l-2.5-4.6M105.0 854.1l-2.5-4.9"/>
<path class="c39" d="M69.4 864.6l-1.7-4.3M69.4 864.6l-1.9-4.9M69.4 864.6l-1.9-5.1"/>
<path class="c32" d="M91.1 869.2l3.4-3.2M91.1 869.2l3.9-3.5M91.1 869.2l4.2-3.5" opacity="0.70"/>
<path class="c28" d="M83.8 838.0l-1.1-4.5M83.8 838.0l-1.1-5.1M83.8 838.0l-1.0-5.4" opacity="0.70"/>
<path class="c28" d="M104.8 869.8l0.2-5.5M104.8 869.8l0.3-6.2M104.8 869.8l0.5-6.5"/>
<path class="c36" d="M85.2 855.1l4.5-1.1M85.2 855.1l5.1-1.1M85.2 855.1l5.4-1.1"/>
<path class="c40" d="M92.1 841.2l-3.1-3.5M92.1 841.2l-3.4-4.0M92.1 841.2l-3.4-4.3"/>
<path class="c29" d="M90.8 839.8l-2.0-4.2M90.8 839.8l-2.2-4.8M90.8 839.8l-2.2-5.0" opacity="0.70"/>
<path class="c35" d="M95.5 837.6l4.6-0.4M95.5 837.6l5.2-0.4M95.5 837.6l5.5-0.4"/>
<path class="c32" d="M101.1 865.1l4.0-2.3M101.1 865.1l4.6-2.5M101.1 865.1l4.9-2.5"/>
<path class="c30" d="M95.0 838.5l3.8-2.7M95.0 838.5l4.4-3.0M95.0 838.5l4.7-3.0" opacity="0.70"/>
<path class="c30" d="M88.7 866.9l2.6-4.6M88.7 866.9l3.0-5.2M88.7 866.9l3.3-5.4"/>
<path class="c28" d="M86.7 870.9l-0.1-5.7M86.7 870.9l0.0-6.5M86.7 870.9l0.2-6.7"/>
<path class="c32" d="M82.2 855.4l2.4-4.0M82.2 855.4l2.9-4.5M82.2 855.4l3.1-4.6"/>
<path class="c36" d="M98.4 838.3l5.4-1.2M98.4 838.3l6.1-1.3M98.4 838.3l6.4-1.3"/>
<path class="c36" d="M78.2 852.8l5.8-0.7M78.2 852.8l6.6-0.7M78.2 852.8l6.9-0.6" opacity="0.70"/>
<path class="c30" d="M100.3 851.0l3.3-4.3M100.3 851.0l3.9-4.8M100.3 851.0l4.2-4.9"/>
<path class="c29" d="M63.0 849.4l-3.4-3.2M63.0 849.4l-3.7-3.7M63.0 849.4l-3.8-4.0" opacity="0.70"/>
<path class="c39" d="M78.0 874.7l1.5-4.4M78.0 874.7l1.8-4.9M78.0 874.7l1.9-5.1"/>
<path class="c30" d="M82.7 840.5l2.0-5.1M82.7 840.5l2.4-5.7M82.7 840.5l2.6-6.0"/>
<path class="c30" d="M83.5 864.5l3.5-4.6M83.5 864.5l4.1-5.1M83.5 864.5l4.4-5.3"/>
<path class="c29" d="M81.7 856.6l-3.4-4.0M81.7 856.6l-3.8-4.7M81.7 856.6l-3.8-5.0"/>
<path d="M134.3 763.7h0M126.7 779.0h0M102.6 805.3h0M112.4 791.1h0M114.6 792.2h0M124.5 803.1h0M128.8 792.2h0M120.1 816.2h0M139.8 805.3h0M150.7 807.5h0M159.5 803.1h0M155.1 790.0h0M168.2 774.7h0M185.7 774.7h0M194.4 768.1h0M198.8 785.6h0M196.6 814.0h0M176.9 816.2h0M159.5 825.0h0M142.0 831.5h0M104.8 838.1h0M87.3 841.4h0M72.0 822.8h0M203.2 829.3h0M72.0 880.9h0M80.7 886.4h0M77.5 875.4h0M92.8 872.2h0M100.4 880.9h0M84.0 866.7h0M67.6 852.5h0M65.4 841.5h0M80.7 853.6h0M109.2 851.4h0M115.7 853.6h0M128.8 865.6h0M119.0 884.2h0M138.7 883.1h0M142.0 860.1h0M160.5 874.3h0M174.8 865.6h0M198.8 859.0h0M201.0 844.8h0M146.3 859.0h0M219.7 763.4h0M272.2 771.1h0M232.8 787.5h0M245.9 798.4h0M262.3 805.0h0M239.4 815.9h0M268.9 819.2h0M279.8 813.7h0M296.2 819.2h0M202.2 743.7h0M200.0 761.2h0M213.1 787.5h0M243.7 824.6h0M276.5 824.6h0M266.7 831.7h0M291.8 838.9h0M230.6 839.4h0M210.9 858.6h0M201.1 857.9h0M201.1 844.8h0M210.9 837.2h0M216.4 830.6h0M135.1 762.3h0M111.0 779.8h0M112.5 791.4h0M101.6 804.6h0M105.2 789.2h0M159.1 778.3h0M163.5 785.6h0M181.0 775.4h0M195.6 763.7h0M197.0 766.6h0M179.6 801.6h0M170.8 804.6h0M154.8 788.5h0M150.4 790.0h0M143.1 798.7h0M138.7 803.1h0M125.6 795.8h0M129.3 795.8h0M132.9 795.8h0M123.4 801.6h0M113.2 804.6h0M163.5 801.6h0M202.9 798.7h0M119.1 829.4h0M125.6 823.5h0M124.9 852.7h0M134.4 827.9h0M150.4 833.7h0M153.3 825.0h0M157.7 813.3h0M141.6 860.0h0M143.1 848.3h0M170.8 865.8h0M173.7 867.3h0M156.2 851.2h0M167.9 835.2h0M182.5 813.3h0M197.0 823.5h0M200.0 845.4h0M198.5 858.5h0M103.0 842.5h0M109.6 839.6h0M102.3 833.7h0M97.2 851.2h0M122.7 854.1h0M125.6 865.8h0M163.5 871.6h0M138.2 804.3h0M141.6 799.6h0M174.2 808.0h0M158.6 800.4h0M159.6 780.5h0M138.6 799.2h0M175.9 779.2h0M123.4 809.1h0M135.9 780.1h0M169.1 804.4h0M160.7 828.6h0M170.8 822.2h0M212.4 815.7h0M133.7 801.3h0M175.5 784.8h0M174.8 825.0h0M146.9 799.9h0M168.4 775.8h0M198.7 787.5h0M146.5 784.5h0M204.7 795.1h0M154.0 777.3h0M202.7 790.2h0M212.5 827.1h0M192.2 778.4h0M141.6 789.8h0M161.0 827.5h0M145.1 801.1h0M105.0 854.1h0M69.4 864.6h0M95.5 837.6h0M101.1 865.1h0M82.2 855.4h0M78.0 874.7h0M81.7 856.6h0" stroke="#d62728" stroke-width="2.50" stroke-linecap="round" fill="none"/>
<path d="M137.6 761.5h0M131.0 770.3h0M103.7 780.1h0M107.0 807.5h0M117.9 820.6h0M166.0 763.7h0M170.4 790.0h0M176.9 772.5h0M193.3 786.7h0M190.1 807.5h0M181.3 825.0h0M150.7 825.0h0M133.2 833.7h0M124.5 838.1h0M96.0 831.5h0M87.3 843.5h0M81.8 839.2h0M75.3 844.6h0M63.2 818.4h0M72.0 816.2h0M79.6 820.6h0M159.5 842.5h0M172.6 842.5h0M185.7 838.1h0M55.6 883.1h0M64.3 878.7h0M69.8 892.9h0M74.2 889.7h0M84.0 876.5h0M90.6 876.5h0M102.6 889.7h0M63.2 867.8h0M74.2 863.4h0M67.6 854.7h0M76.4 850.3h0M86.2 861.2h0M96.0 865.6h0M102.6 865.6h0M109.2 852.5h0M120.1 879.8h0M137.6 894.0h0M133.2 873.3h0M129.9 859.0h0M152.9 863.4h0M161.6 865.6h0M126.7 854.7h0M242.6 794.0h0M260.1 794.0h0M301.7 802.8h0M228.4 796.2h0M220.8 813.7h0M204.4 800.6h0M273.9 854.7h0M131.4 774.7h0M126.3 776.1h0M103.0 780.5h0M166.4 763.7h0M170.8 791.4h0M176.6 771.0h0M190.5 769.6h0M191.2 787.1h0M137.3 803.8h0M147.5 798.7h0M121.2 804.6h0M109.6 803.1h0M197.0 801.6h0M97.9 826.4h0M105.2 816.2h0M122.0 837.4h0M130.0 836.6h0M133.6 848.3h0M145.3 828.6h0M156.2 825.0h0M157.7 842.5h0M151.9 864.3h0M162.1 864.3h0M167.9 846.9h0M175.2 833.7h0M183.9 813.3h0M99.4 867.3h0M103.7 851.2h0M109.6 849.8h0M106.7 833.7h0M134.4 871.6h0M96.5 859.2h0M111.0 858.5h0M116.9 854.1h0M172.4 807.3h0M169.5 815.2h0M158.4 784.3h0M122.2 794.5h0M135.4 818.5h0M137.8 792.3h0M180.8 807.6h0M145.8 794.4h0M174.2 802.6h0M206.8 798.5h0M153.5 793.3h0M136.7 808.9h0M104.8 869.8h0M85.2 855.1h0M92.1 841.2h0M88.7 866.9h0M86.7 870.9h0M98.4 838.3h0M100.3 851.0h0M82.7 840.5h0M83.5 864.5h0" stroke="#1f77b4" stroke-width="2.50" stroke-linecap="round" fill="none"/>
<path d="M191.7 793.8h0M175.5 807.0h0M150.6 779.0h0M175.3 818.1h0M155.2 844.4h0M141.1 815.8h0M131.2 819.5h0M150.0 794.2h0M91.1 869.2h0M90.8 839.8h0M63.0 849.4h0" stroke="#d62728" stroke-width="2.50" stroke-linecap="round" fill="none" stroke-opacity="0.70"/>
<path d="M161.8 823.1h0M121.3 800.2h0M133.0 777.4h0M183.7 829.0h0M147.6 802.6h0M182.1 805.8h0M176.6 819.8h0M83.8 838.0h0M95.0 838.5h0M78.2 852.8h0" stroke="#1f77b4" stroke-width="2.50" stroke-linecap="round" fill="none" stroke-opacity="0.70"/>
</svg>
<rect x="37.50" y="661.00" width="338.90" height="252.40" fill="none" stroke="#000" stroke-width="1.0"/>
<line x1="34.00" y1="676.50" x2="37.50" y2="676.50" stroke="#000" stroke-width="1"/>
<text x="30.50" y="680.10" font-size="10.1" text-anchor="end" textLength="5.60" lengthAdjust="spacingAndGlyphs">5</text>
<line x1="34.00" y1="708.04" x2="37.50" y2="708.04" stroke="#000" stroke-width="1"/>
<text x="30.50" y="711.64" font-size="10.1" text-anchor="end" textLength="5.60" lengthAdjust="spacingAndGlyphs">4</text>
<line x1="34.00" y1="739.59" x2="37.50" y2="739.59" stroke="#000" stroke-width="1"/>
<text x="30.50" y="743.19" font-size="10.1" text-anchor="end" textLength="5.60" lengthAdjust="spacingAndGlyphs">3</text>
<line x1="34.00" y1="771.13" x2="37.50" y2="771.13" stroke="#000" stroke-width="1"/>
<text x="30.50" y="774.73" font-size="10.1" text-anchor="end" textLength="5.60" lengthAdjust="spacingAndGlyphs">2</text>
<line x1="34.00" y1="802.67" x2="37.50" y2="802.67" stroke="#000" stroke-width="1"/>
<text x="30.50" y="806.27" font-size="10.1" text-anchor="end" textLength="5.60" lengthAdjust="spacingAndGlyphs">1</text>
<line x1="34.00" y1="834.21" x2="37.50" y2="834.21" stroke="#000" stroke-width="1"/>
<text x="30.50" y="837.81" font-size="10.1" text-anchor="end" textLength="5.60" lengthAdjust="spacingAndGlyphs">0</text>
<line x1="34.00" y1="865.76" x2="37.50" y2="865.76" stroke="#000" stroke-width="1"/>
<text x="30.50" y="869.36" font-size="10.1" text-anchor="end" textLength="12.60" lengthAdjust="spacingAndGlyphs">−1</text>
<line x1="34.00" y1="897.30" x2="37.50" y2="897.30" stroke="#000" stroke-width="1"/>
<text x="30.50" y="900.90" font-size="10.1" text-anchor="end" textLength="12.60" lengthAdjust="spacingAndGlyphs">−2</text>
<line x1="96.40" y1="913.40" x2="96.40" y2="916.90" stroke="#000" stroke-width="1"/>
<text x="96.40" y="927.40" font-size="10.1" text-anchor="middle" textLength="17.25" lengthAdjust="spacingAndGlyphs">200</text>
<line x1="166.40" y1="913.40" x2="166.40" y2="916.90" stroke="#000" stroke-width="1"/>
<text x="166.40" y="927.40" font-size="10.1" text-anchor="middle" textLength="17.25" lengthAdjust="spacingAndGlyphs">400</text>
<line x1="236.40" y1="913.40" x2="236.40" y2="916.90" stroke="#000" stroke-width="1"/>
<text x="236.40" y="927.40" font-size="10.1" text-anchor="middle" textLength="17.25" lengthAdjust="spacingAndGlyphs">600</text>
<line x1="306.40" y1="913.40" x2="306.40" y2="916.90" stroke="#000" stroke-width="1"/>
<text x="306.40" y="927.40" font-size="10.1" text-anchor="middle" textLength="17.25" lengthAdjust="spacingAndGlyphs">800</text>
<line x1="376.40" y1="913.40" x2="376.40" y2="916.90" stroke="#000" stroke-width="1"/>
<text x="376.40" y="927.40" font-size="10.1" text-anchor="middle" textLength="23.20" lengthAdjust="spacingAndGlyphs">1000</text>
<text x="206.95" y="943.00" font-size="13.8" text-anchor="middle" textLength="23.80" lengthAdjust="spacingAndGlyphs">Tau</text>
<text x="10.10" y="787.20" font-size="13.0" text-anchor="middle" textLength="73.00" lengthAdjust="spacingAndGlyphs" transform="rotate(-90 10.10 787.20)">ADAS-Mem</text>
<rect x="255.40" y="667.70" width="114.50" height="43.20" rx="2" ry="2" fill="#fff" fill-opacity="0.8" stroke="#cccccc" stroke-width="1"/>
<circle cx="274.60" cy="679.10" r="3.4" fill="#1f77b4"/>
<circle cx="274.60" cy="698.60" r="3.4" fill="#d62728"/>
<text x="299.20" y="683.30" font-size="12.8" text-anchor="start" textLength="64.50" lengthAdjust="spacingAndGlyphs">no APOE4</text>
<text x="299.20" y="703.00" font-size="12.8" text-anchor="start" textLength="44.00" lengthAdjust="spacingAndGlyphs">APOE4</text>
<svg x="431.5" y="661.0" width="338.9" height="252.39999999999998" viewBox="431.5 661.0 338.9 252.39999999999998" overflow="hidden">
<path class="c38" d="M450.7 752.5l-11.6-39.8M450.7 752.5l-11.8-45.4M450.7 752.5l-9.4-41.3M450.7 752.5l-8.8-45.1M450.7 752.5l-7.0-42.7"/>
<path class="c38" d="M496.6 756.9l-0.4-29.4M496.6 756.9l0.0-33.4M496.6 756.9l0.5-34.9"/>
<path class="c38" d="M515.2 752.5l-1.2-40.4M515.2 752.5l0.0-45.9M515.2 752.5l1.4-48.0"/>
<path class="c23" d="M511.9 752.5l2.2-20.3M511.9 752.5l3.1-22.9M511.9 752.5l4.0-23.9"/>
<path class="c38" d="M538.1 750.3l-0.6-38.6M538.1 750.3l0.0-43.8M538.1 750.3l0.7-45.8"/>
<path class="c38" d="M544.7 741.5l1.4-32.2M544.7 741.5l2.1-36.5M544.7 741.5l2.8-38.2"/>
<path class="c38" d="M556.7 761.2l0.5-26.7M556.7 761.2l1.0-30.2M556.7 761.2l1.6-31.6"/>
<path class="c38" d="M562.2 745.9l4.7-26.8M562.2 745.9l6.3-30.2M562.2 745.9l7.5-31.4"/>
<path class="c38" d="M584.1 743.7l4.1-35.0M584.1 743.7l5.2-39.6M584.1 743.7l6.1-41.4"/>
<path class="c24" d="M588.4 754.7l9.6-18.7M588.4 754.7l11.5-20.9M588.4 754.7l12.7-21.5"/>
<path class="c38" d="M588.4 750.3l4.7-27.7M588.4 750.3l6.3-31.3M588.4 750.3l7.5-32.5"/>
<path class="c38" d="M507.5 765.6l-0.4-27.6M507.5 765.6l0.0-31.3M507.5 765.6l0.5-32.7"/>
<path class="c38" d="M483.5 791.8l0.0-30.4M483.5 791.8l1.0-34.4M483.5 791.8l2.2-36.0"/>
<path class="c38" d="M480.2 787.5l-0.5-16.5M480.2 787.5l0.0-18.8M480.2 787.5l0.6-19.6"/>
<path class="c38" d="M469.3 787.5l-2.8-16.4M469.3 787.5l-2.6-18.6M469.3 787.5l-1.9-16.9M469.3 787.5l-1.5-18.4M469.3 787.5l-0.9-17.4"/>
<path class="c38" d="M466.0 802.8l-4.4-12.6M466.0 802.8l-4.6-14.4M466.0 802.8l-3.8-13.1M466.0 802.8l-3.6-14.4M466.0 802.8l-3.0-13.6"/>
<path class="c29" d="M450.7 822.5l-2.3-4.0M450.7 822.5l-2.5-4.6M450.7 822.5l-2.1-4.2M450.7 822.5l-2.2-4.7M450.7 822.5l-1.9-4.4"/>
<path class="c38" d="M461.6 815.9l-0.3-9.2M461.6 815.9l0.0-10.4M461.6 815.9l0.3-10.9"/>
<path class="c23" d="M474.7 798.4l-1.2-9.2M474.7 798.4l-1.0-10.4M474.7 798.4l-0.8-10.9"/>
<path class="c23" d="M490.0 794.0l5.1-14.9M490.0 794.0l6.3-16.7M490.0 794.0l7.1-17.3"/>
<path class="c38" d="M497.3 756.9l-1.1-29.4M497.3 756.9l0.0-33.4M497.3 756.9l1.3-34.9"/>
<path class="c38" d="M514.8 748.1l-1.4-38.0M514.8 748.1l0.0-43.1M514.8 748.1l1.6-45.1"/>
<path class="c23" d="M510.4 753.9l3.5-22.2M510.4 753.9l4.9-25.0M510.4 753.9l6.0-26.0"/>
<path class="c38" d="M543.2 740.8l2.5-32.6M543.2 740.8l4.2-36.9M543.2 740.8l5.7-38.4"/>
<path class="c38" d="M534.5 751.8l1.6-39.9M534.5 751.8l3.5-45.2M534.5 751.8l5.3-47.1"/>
<path class="c38" d="M551.2 764.1l3.8-29.6M551.2 764.1l5.6-33.4M551.2 764.1l7.1-34.7"/>
<path class="c38" d="M561.4 746.6l4.5-28.4M561.4 746.6l6.3-32.0M561.4 746.6l7.7-33.2"/>
<path class="c38" d="M507.5 765.6l-1.0-27.0M507.5 765.6l0.0-30.6M507.5 765.6l1.2-32.0"/>
<path class="c38" d="M503.1 774.3l1.7-19.7M503.1 774.3l2.8-22.3M503.1 774.3l3.7-23.2"/>
<path class="c38" d="M484.2 785.0l-0.9-24.9M484.2 785.0l0.0-28.2M484.2 785.0l1.1-29.5"/>
<path class="c38" d="M492.9 785.0l-0.2-23.7M492.9 785.0l0.7-26.8M492.9 785.0l1.7-28.0"/>
<path class="c38" d="M479.8 785.0l-0.5-13.8M479.8 785.0l0.0-15.7M479.8 785.0l0.6-16.4"/>
<path class="c38" d="M469.6 785.0l-2.3-12.6M469.6 785.0l-2.1-14.3M469.6 785.0l-1.6-15.1"/>
<path class="c38" d="M519.1 781.6l-1.2-33.1M519.1 781.6l0.0-37.6M519.1 781.6l1.4-39.3"/>
<path class="c38" d="M523.5 781.6l-0.7-35.6M523.5 781.6l0.7-40.3M523.5 781.6l2.2-42.1"/>
<path class="c38" d="M527.9 781.6l-2.4-33.0M527.9 781.6l-1.4-37.6M527.9 781.6l-0.0-39.3"/>
<path class="c38" d="M530.8 775.8l0.6-35.6M530.8 775.8l2.1-40.3M530.8 775.8l3.7-42.1"/>
<path class="c38" d="M539.6 781.6l-2.2-26.9M539.6 781.6l-1.4-30.6M539.6 781.6l-0.3-32.0"/>
<path class="c38" d="M545.4 785.0l-0.2-22.4M545.4 785.0l0.7-25.5M545.4 785.0l1.7-26.6"/>
<path class="c38" d="M514.8 785.0l-0.6-34.7M514.8 785.0l0.7-39.4M514.8 785.0l2.2-41.1"/>
<path class="c38" d="M510.4 785.0l-0.8-22.4M510.4 785.0l0.0-25.5M510.4 785.0l1.0-26.6"/>
<path class="c38" d="M490.0 785.0l-0.7-18.7M490.0 785.0l0.0-21.3M490.0 785.0l0.8-22.2"/>
<path class="c23" d="M526.4 774.3l4.5-12.4M526.4 774.3l5.6-13.9M526.4 774.3l6.3-14.3"/>
<path class="c24" d="M549.8 775.8l7.9-19.9M549.8 775.8l9.7-22.3M549.8 775.8l11.0-22.9"/>
<path class="c24" d="M555.6 785.0l10.4-25.3M555.6 785.0l12.8-28.2M555.6 785.0l14.4-29.0"/>
<path class="c23" d="M495.8 785.0l1.5-9.0M495.8 785.0l2.1-10.2M495.8 785.0l2.6-10.5"/>
<path class="c23" d="M538.1 785.0l3.3-10.3M538.1 785.0l4.2-11.5M538.1 785.0l4.8-11.9"/>
<path class="c38" d="M579.4 751.0l7.1-42.0M579.4 751.0l9.7-47.3M579.4 751.0l12.0-49.1"/>
<path class="c23" d="M578.6 751.0l7.7-23.6M578.6 751.0l9.7-26.4M578.6 751.0l11.2-27.3"/>
<path class="c38" d="M586.6 755.4l6.2-33.3M586.6 755.4l8.3-37.6M586.6 755.4l10.1-38.9"/>
<path class="c24" d="M588.8 756.9l8.5-19.9M588.8 756.9l10.4-22.3M588.8 756.9l11.7-22.9"/>
<path class="c38" d="M561.9 746.6l4.5-27.2M561.9 746.6l6.3-30.6M561.9 746.6l7.7-31.8"/>
<path class="c38" d="M551.7 765.6l3.8-30.8M551.7 765.6l5.6-34.8M551.7 765.6l7.1-36.1"/>
<path class="c23" d="M553.1 770.0l4.4-14.9M553.1 770.0l5.6-16.7M553.1 770.0l6.4-17.2"/>
<path class="c38" d="M575.7 775.8l4.7-22.3M575.7 775.8l6.3-25.0M575.7 775.8l7.5-25.9"/>
<path class="c24" d="M619.5 767.1l9.7-20.0M619.5 767.1l11.8-22.3M619.5 767.1l13.2-22.8"/>
<path class="c38" d="M612.9 785.0l5.0-14.0M612.9 785.0l6.3-15.7M612.9 785.0l7.1-16.2"/>
<path class="c23" d="M624.6 775.8l4.5-12.4M624.6 775.8l5.6-13.9M624.6 775.8l6.3-14.3"/>
<path class="c25" d="M602.7 783.1l10.1-24.9M602.7 783.1l12.5-27.8M602.7 783.1l14.1-28.6"/>
<path class="c25" d="M595.4 774.3l5.6-13.7M595.4 774.3l7.0-15.3M595.4 774.3l7.8-15.7"/>
<path class="c25" d="M647.9 780.2l4.7-12.4M647.9 780.2l5.8-13.9M647.9 780.2l6.6-14.3"/>
<path class="c25" d="M630.4 783.1l4.6-7.5M630.4 783.1l5.6-8.3M630.4 783.1l6.1-8.5"/>
<path class="c38" d="M566.2 785.0l4.4-30.0M566.2 785.0l6.3-33.8M566.2 785.0l7.8-35.1"/>
<path class="c38" d="M583.7 785.0l3.0-20.1M583.7 785.0l4.2-22.7M583.7 785.0l5.2-23.5"/>
<path class="c24" d="M573.5 781.6l4.5-10.0M573.5 781.6l5.6-11.1M573.5 781.6l6.2-11.4"/>
<path class="c25" d="M598.3 815.9l11.3-26.8M598.3 815.9l13.9-29.9M598.3 815.9l15.7-30.7"/>
<path class="c25" d="M602.7 797.0l8.0-15.6M602.7 797.0l9.7-17.4M602.7 797.0l10.8-17.8"/>
<path class="c25" d="M612.9 805.7l11.5-21.9M612.9 805.7l13.9-24.3M612.9 805.7l15.5-24.9"/>
<path class="c25" d="M614.3 810.8l16.1-30.0M614.3 810.8l19.5-33.4M614.3 810.8l21.6-34.2"/>
<path class="c25" d="M621.6 816.6l14.1-16.5M621.6 816.6l16.7-18.1M621.6 816.6l18.1-18.3"/>
<path class="c25" d="M631.8 824.7l16.2-27.0M631.8 824.7l19.5-29.9M631.8 824.7l21.5-30.5"/>
<path class="c24" d="M645.0 796.2l7.2-11.3M645.0 796.2l8.6-12.5M645.0 796.2l9.5-12.8"/>
<path class="c25" d="M647.9 780.9l4.9-6.9M647.9 780.9l5.8-7.6M647.9 780.9l6.4-7.8"/>
<path class="c25" d="M599.0 837.8l10.0-12.0M599.0 837.8l11.8-13.2M599.0 837.8l12.9-13.4"/>
<path class="c25" d="M610.0 832.7l11.9-10.2M610.0 832.7l13.9-11.1M610.0 832.7l15.0-11.1"/>
<path class="c25" d="M602.7 853.1l8.0-17.5M602.7 853.1l9.7-19.5M602.7 853.1l10.9-20.0"/>
<path class="c25" d="M608.5 846.5l10.2-5.9M608.5 846.5l11.8-6.3M608.5 846.5l12.6-6.1"/>
<path class="c25" d="M577.9 850.2l7.1-7.6M577.9 850.2l8.3-8.3M577.9 850.2l9.0-8.4"/>
<path class="c24" d="M585.2 853.8l8.3-8.3M585.2 853.8l9.7-9.0M585.2 853.8l10.5-9.1"/>
<path class="c25" d="M568.4 845.1l5.6-14.3M568.4 845.1l7.0-16.0M568.4 845.1l7.9-16.5"/>
<path class="c25" d="M557.5 841.4l3.4-8.7M557.5 841.4l4.2-9.7M557.5 841.4l4.7-10.0"/>
<path class="c25" d="M553.1 840.0l4.5-11.2M553.1 840.0l5.6-12.5M553.1 840.0l6.3-12.9"/>
<path class="c25" d="M563.3 837.1l6.5-7.6M563.3 837.1l7.6-8.3M563.3 837.1l8.3-8.4"/>
<path class="c24" d="M547.3 840.0l5.8-10.0M547.3 840.0l7.0-11.1M547.3 840.0l7.7-11.4"/>
<path class="c24" d="M564.1 825.4l6.3-11.3M564.1 825.4l7.6-12.5M564.1 825.4l8.5-12.8"/>
<path class="c25" d="M570.6 822.5l8.1-12.6M570.6 822.5l9.7-13.9M570.6 822.5l10.7-14.2"/>
<path class="c24" d="M540.0 845.8l3.5-6.3M540.0 845.8l4.2-7.0M540.0 845.8l4.6-7.1"/>
<path class="c24" d="M619.7 767.8l10.1-20.7M619.7 767.8l12.5-22.9M619.7 767.8l14.2-23.4"/>
<path class="c24" d="M652.5 779.8l11.9-21.7M652.5 779.8l14.6-24.0M652.5 779.8l16.4-24.4"/>
<path class="c24" d="M644.8 794.0l9.4-15.2M644.8 794.0l11.5-16.7M644.8 794.0l12.8-16.9"/>
<path class="c38" d="M648.1 780.9l10.4-34.5M648.1 780.9l13.6-38.6M648.1 780.9l16.0-39.7"/>
<path class="c25" d="M666.7 770.0l15.4-26.5M666.7 770.0l18.8-29.2M666.7 770.0l21.0-29.6"/>
<path class="c25" d="M673.3 774.3l14.8-29.0M673.3 774.3l17.7-32.3M673.3 774.3l19.6-33.3"/>
<path class="c25" d="M672.2 795.1l17.2-29.0M672.2 795.1l20.6-32.0M672.2 795.1l19.7-28.2M672.2 795.1l22.5-29.8M672.2 795.1l22.2-27.2"/>
<path class="c25" d="M690.7 789.7l13.7-32.1M690.7 789.7l16.6-35.8M690.7 789.7l16.0-31.9M690.7 789.7l18.4-34.1M690.7 789.7l18.2-31.6"/>
<path class="c25" d="M689.7 807.1l15.5-17.5M689.7 807.1l18.1-19.3M689.7 807.1l16.9-16.9M689.7 807.1l18.9-17.8M689.7 807.1l18.3-16.2"/>
<path class="c25" d="M710.4 815.9l16.0-24.9M710.4 815.9l18.9-27.6M710.4 815.9l17.8-24.4M710.4 815.9l20.2-25.9M710.4 815.9l19.7-23.8"/>
<path class="c25" d="M713.7 826.8l14.6-18.4M713.7 826.8l17.1-20.3M713.7 826.8l16.0-17.8M713.7 826.8l17.9-18.8M713.7 826.8l17.4-17.2"/>
<path class="c29" d="M452.9 824.1l-4.9-4.3M452.9 824.1l-5.3-5.0M452.9 824.1l-4.7-4.7M452.9 824.1l-4.9-5.2M452.9 824.1l-4.5-5.1"/>
<path class="c27" d="M449.6 852.5l-4.7-1.6M449.6 852.5l-5.3-1.9M449.6 852.5l-4.7-1.9M449.6 852.5l-5.0-2.2M449.6 852.5l-4.7-2.2"/>
<path class="c23" d="M449.6 851.4l-1.3-8.2M449.6 851.4l-1.0-9.4M449.6 851.4l-0.6-9.9"/>
<path class="c30" d="M451.8 866.7l2.5-4.8M451.8 866.7l3.0-5.3M451.8 866.7l2.8-4.7M451.8 866.7l3.2-5.0M451.8 866.7l3.2-4.6"/>
<path class="c25" d="M455.1 863.4l5.2-5.8M455.1 863.4l6.0-6.4M455.1 863.4l5.6-5.6M455.1 863.4l6.3-5.9M455.1 863.4l6.1-5.4"/>
<path class="c40" d="M462.7 876.5l-3.5-3.1M462.7 876.5l-3.8-3.6M462.7 876.5l-3.3-3.3M462.7 876.5l-3.5-3.7M462.7 876.5l-3.2-3.6"/>
<path class="c32" d="M473.6 870.0l4.0-2.3M473.6 870.0l4.6-2.5M473.6 870.0l4.2-2.1M473.6 870.0l4.7-2.2M473.6 870.0l4.4-1.9"/>
<path class="c30" d="M476.9 878.7l4.0-2.3M476.9 878.7l4.6-2.5M476.9 878.7l4.2-2.1M476.9 878.7l4.7-2.2M476.9 878.7l4.4-1.9"/>
<path class="c29" d="M481.3 884.2l-2.8-3.7M481.3 884.2l-3.0-4.3M481.3 884.2l-2.6-3.9M481.3 884.2l-2.7-4.3M481.3 884.2l-2.4-4.2"/>
<path class="c30" d="M494.4 896.2l3.4-4.8M494.4 896.2l4.0-5.3M494.4 896.2l3.8-4.7M494.4 896.2l4.2-5.0M494.4 896.2l4.1-4.6"/>
<path class="c39" d="M505.3 887.5l0.6-5.6M505.3 887.5l0.9-6.3M505.3 887.5l0.9-5.6M505.3 887.5l1.2-6.1M505.3 887.5l1.3-5.7"/>
<path class="c38" d="M498.8 883.1l-0.4-7.3M498.8 883.1l-0.2-8.3M498.8 883.1l0.0-7.5M498.8 883.1l0.2-8.2M498.8 883.1l0.5-7.7"/>
<path class="c30" d="M492.2 865.6l3.7-2.8M492.2 865.6l4.3-3.0M492.2 865.6l3.9-2.6M492.2 865.6l4.3-2.7M492.2 865.6l4.2-2.4"/>
<path class="c32" d="M494.4 868.9l2.3-4.0M494.4 868.9l2.8-4.4M494.4 868.9l2.6-3.9M494.4 868.9l3.0-4.2M494.4 868.9l2.9-3.8"/>
<path class="c30" d="M513.0 874.3l4.0-2.3M513.0 874.3l4.6-2.5M513.0 874.3l4.2-2.1M513.0 874.3l4.7-2.2M513.0 874.3l4.4-1.9"/>
<path class="c36" d="M525.0 880.9l6.4-0.8M525.0 880.9l7.3-0.6M525.0 880.9l6.6-0.4M525.0 880.9l7.1-0.2M525.0 880.9l6.7 0.0"/>
<path class="c24" d="M557.8 871.1l7.1-5.0M557.8 871.1l8.2-5.4M557.8 871.1l7.5-4.7M557.8 871.1l8.3-4.8M557.8 871.1l7.9-4.3"/>
<path class="c25" d="M572.0 868.9l9.5-10.7M572.0 868.9l11.1-11.8M572.0 868.9l10.3-10.3M572.0 868.9l11.5-10.9M572.0 868.9l11.2-9.9"/>
<path class="c42" d="M591.7 884.2l-9.4-3.0M591.7 884.2l-10.5-3.8M591.7 884.2l-9.4-3.8M591.7 884.2l-10.0-4.5M591.7 884.2l-9.3-4.5"/>
<path class="c25" d="M579.7 850.3l5.2-5.8M579.7 850.3l6.0-6.4M579.7 850.3l5.6-5.6M579.7 850.3l6.3-5.9M579.7 850.3l6.1-5.4"/>
<path class="c24" d="M586.3 853.6l7.8-7.8M586.3 853.6l9.1-8.6M586.3 853.6l8.4-7.5M586.3 853.6l9.4-7.9M586.3 853.6l9.1-7.1"/>
<path class="c32" d="M597.2 859.0l3.8-3.9M597.2 859.0l4.4-4.3M597.2 859.0l4.1-3.8M597.2 859.0l4.6-3.9M597.2 859.0l4.4-3.6"/>
<path class="c24" d="M538.1 854.7l5.2-6.7M538.1 854.7l6.3-7.3M538.1 854.7l6.9-7.3"/>
<path class="c25" d="M568.8 843.7l4.9-13.1M568.8 843.7l6.3-14.6M568.8 843.7l7.2-15.0"/>
<path class="c30" d="M483.5 859.0l2.5-5.6M483.5 859.0l3.1-6.3M483.5 859.0l3.6-6.4"/>
<path class="c25" d="M712.6 828.9l15.4-19.9M712.6 828.9l18.1-22.0M712.6 828.9l16.9-19.3M712.6 828.9l19.0-20.4M712.6 828.9l18.4-18.7"/>
<path class="c25" d="M608.7 846.9l10.6-6.3M608.7 846.9l12.2-6.7M608.7 846.9l11.3-5.6M608.7 846.9l12.5-5.7M608.7 846.9l11.9-4.9"/>
<path class="c35" d="M602.2 853.4l4.4-2.2M602.2 853.4l5.1-2.3M602.2 853.4l4.7-1.9M602.2 853.4l5.2-1.8M602.2 853.4l4.9-1.6"/>
<path class="c25" d="M610.9 831.5l9.6-8.9M610.9 831.5l11.1-9.7M610.9 831.5l10.3-8.4M610.9 831.5l11.5-8.8M610.9 831.5l11.1-8.0"/>
<path class="c25" d="M601.1 835.9l7.7-9.7M601.1 835.9l9.0-10.7M601.1 835.9l8.4-9.4M601.1 835.9l9.5-9.9M601.1 835.9l9.2-9.1"/>
<path class="c38" d="M557.1 810.5l0.0-17.0M557.1 810.5l0.3-19.2M557.1 810.5l0.6-20.1"/>
<path class="c38" d="M560.6 800.1l3.7-18.1M560.6 800.1l4.6-20.5M560.6 800.1l5.3-21.3"/>
<path class="c38" d="M531.3 798.9l7.0-28.8M531.3 798.9l8.4-32.6M531.3 798.9l9.2-34.0"/>
<path class="c38" d="M523.8 767.0l2.5-26.4M523.8 767.0l3.6-29.9M523.8 767.0l4.5-31.2"/>
<path class="c38" d="M578.6 789.7l-0.5-18.6M578.6 789.7l-0.1-21.1M578.6 789.7l0.3-22.1"/>
<path class="c38" d="M565.7 809.0l2.1-18.0M565.7 809.0l2.8-20.4M565.7 809.0l3.4-21.2"/>
<path class="c38" d="M569.5 782.2l5.7-27.3M569.5 782.2l6.9-30.8M569.5 782.2l7.7-32.2" opacity="0.70"/>
<path class="c38" d="M563.1 795.5l1.8-20.3M563.1 795.5l2.4-23.0M563.1 795.5l2.8-24.0"/>
<path class="c38" d="M515.9 799.6l-1.2-28.6M515.9 799.6l-0.6-32.5M515.9 799.6l0.1-34.0"/>
<path class="c38" d="M511.5 789.3l-0.9-21.6M511.5 789.3l-0.6-24.6M511.5 789.3l-0.2-25.7"/>
<path class="c38" d="M563.3 772.2l1.3-23.5M563.3 772.2l1.8-26.6M563.3 772.2l2.2-27.8" opacity="0.70"/>
<path class="c38" d="M559.0 815.3l2.0-20.9M559.0 815.3l2.6-23.7M559.0 815.3l3.0-24.7"/>
<path class="c38" d="M536.2 814.5l4.5-28.8M536.2 814.5l5.9-32.6M536.2 814.5l7.0-33.9" opacity="0.70"/>
<path class="c23" d="M556.8 801.6l0.0-30.0M556.8 801.6l0.9-34.0M556.8 801.6l1.9-35.5"/>
<path class="c38" d="M531.3 774.9l1.7-20.7M531.3 774.9l2.4-23.5M531.3 774.9l3.1-24.5"/>
<path class="c38" d="M518.5 773.0l2.4-17.2M518.5 773.0l3.0-19.4M518.5 773.0l3.5-20.3"/>
<path class="c38" d="M513.3 802.4l2.3-27.0M513.3 802.4l3.5-30.5M513.3 802.4l4.6-31.8" opacity="0.70"/>
<path class="c38" d="M576.7 802.1l4.4-28.1M576.7 802.1l5.7-31.7M576.7 802.1l6.8-33.0" opacity="0.70"/>
<path class="c38" d="M575.3 778.5l-1.2-20.8M575.3 778.5l-0.7-23.7M575.3 778.5l-0.0-24.8"/>
<path class="c38" d="M543.5 808.0l4.4-21.6M543.5 808.0l5.6-24.4M543.5 808.0l6.5-25.4"/>
<path class="c23" d="M521.3 768.0l1.2-21.3M521.3 768.0l2.0-24.1M521.3 768.0l2.8-25.1"/>
<path class="c38" d="M509.4 792.0l-0.9-25.2M509.4 792.0l-0.6-28.6M509.4 792.0l-0.2-30.0" opacity="0.70"/>
<path class="c38" d="M553.7 799.9l0.6-26.0M553.7 799.9l1.2-29.5M553.7 799.9l1.7-30.9"/>
<path class="c38" d="M533.2 802.2l4.9-21.6M533.2 802.2l5.9-24.4M533.2 802.2l6.6-25.4"/>
<path class="c23" d="M551.7 805.1l-0.8-21.8M551.7 805.1l-0.4-24.8M551.7 805.1l0.2-25.9"/>
<path class="c38" d="M577.2 794.6l-0.1-24.5M577.2 794.6l0.7-27.8M577.2 794.6l1.5-29.1"/>
<path class="c38" d="M575.8 802.9l4.1-25.7M575.8 802.9l5.4-29.0M575.8 802.9l6.4-30.2"/>
<path class="c38" d="M577.1 793.8l-0.3-26.1M577.1 793.8l0.2-29.6M577.1 793.8l0.9-31.0"/>
<path class="c38" d="M520.9 805.1l1.2-18.5M520.9 805.1l1.6-21.0M520.9 805.1l2.0-21.9" opacity="0.70"/>
<path class="c38" d="M545.5 776.2l0.9-27.6M545.5 776.2l1.7-31.3M545.5 776.2l2.4-32.7" opacity="0.70"/>
<path class="c38" d="M566.0 786.6l7.0-28.7M566.0 786.6l8.4-32.4M566.0 786.6l9.2-33.8" opacity="0.70"/>
<path class="c23" d="M562.3 804.6l3.4-18.4M562.3 804.6l4.4-20.8M562.3 804.6l5.3-21.6"/>
<path class="c38" d="M555.5 796.7l4.6-28.0M555.5 796.7l5.9-31.6M555.5 796.7l6.9-32.9"/>
<path class="c38" d="M517.6 788.0l4.5-27.1M517.6 788.0l5.6-30.7M517.6 788.0l6.4-32.0"/>
<path class="c23" d="M538.9 770.9l1.4-19.9M538.9 770.9l2.0-22.5M538.9 770.9l2.6-23.5"/>
<path class="c38" d="M551.6 787.1l-0.0-20.1M551.6 787.1l0.4-22.7M551.6 787.1l0.9-23.8"/>
<path class="c38" d="M558.8 764.6l0.4-18.8M558.8 764.6l0.9-21.3M558.8 764.6l1.4-22.2" opacity="0.70"/>
<path class="c38" d="M570.1 788.8l2.5-21.7M570.1 788.8l3.2-24.5M570.1 788.8l3.7-25.6"/>
<path class="c38" d="M563.2 789.1l2.4-28.6M563.2 789.1l3.5-32.4M563.2 789.1l4.4-33.8"/>
<path class="c38" d="M582.2 784.3l0.2-17.6M582.2 784.3l0.7-20.0M582.2 784.3l1.2-20.9"/>
<path class="c38" d="M565.9 799.1l0.5-22.2M565.9 799.1l0.9-25.2M565.9 799.1l1.3-26.3" opacity="0.70"/>
<path class="c23" d="M513.5 778.9l-1.3-23.2M513.5 778.9l-0.9-26.3M513.5 778.9l-0.3-27.6"/>
<path class="c38" d="M533.3 813.1l-0.7-21.3M533.3 813.1l-0.3-24.2M533.3 813.1l0.2-25.3"/>
<path class="c38" d="M574.7 790.6l4.2-20.0M574.7 790.6l5.4-22.6M574.7 790.6l6.2-23.5"/>
<path class="c38" d="M514.7 807.8l5.0-27.3M514.7 807.8l6.6-30.8M514.7 807.8l7.9-32.0"/>
<path class="c38" d="M580.9 784.4l3.5-18.8M580.9 784.4l4.4-21.2M580.9 784.4l5.2-22.1"/>
<path class="c23" d="M576.2 802.7l4.0-19.0M576.2 802.7l4.9-21.4M576.2 802.7l5.4-22.3" opacity="0.70"/>
<path class="c38" d="M555.4 774.4l0.7-28.9M555.4 774.4l1.6-32.8M555.4 774.4l2.5-34.2"/>
<path class="c38" d="M564.3 790.8l0.2-29.2M564.3 790.8l1.1-33.1M564.3 790.8l2.0-34.6"/>
<path class="c38" d="M544.4 810.6l3.7-27.4M544.4 810.6l5.1-30.9M544.4 810.6l6.3-32.2" opacity="0.70"/>
<path class="c38" d="M567.9 768.0l0.7-25.6M567.9 768.0l1.6-29.0M567.9 768.0l2.6-30.3" opacity="0.70"/>
<path class="c38" d="M576.6 777.9l-1.1-26.4M576.6 777.9l-0.8-30.0M576.6 777.9l-0.2-31.3"/>
<path class="c38" d="M517.8 792.7l-1.0-29.7M517.8 792.7l-0.2-33.7M517.8 792.7l0.8-35.3"/>
<path class="c38" d="M510.5 786.2l4.0-24.3M510.5 786.2l4.9-27.4M510.5 786.2l5.6-28.6"/>
<path class="c38" d="M567.1 769.2l0.4-25.1M567.1 769.2l0.9-28.5M567.1 769.2l1.6-29.7" opacity="0.70"/>
<path class="c38" d="M530.6 795.2l1.0-17.1M530.6 795.2l1.5-19.3M530.6 795.2l2.0-20.2"/>
<path class="c38" d="M553.5 784.3l-0.5-26.0M553.5 784.3l0.1-29.5M553.5 784.3l0.9-30.8"/>
<path class="c38" d="M559.6 774.6l3.9-18.1M559.6 774.6l5.0-20.4M559.6 774.6l5.8-21.2" opacity="0.70"/>
<path class="c23" d="M512.6 804.0l2.6-21.0M512.6 804.0l3.7-23.7M512.6 804.0l4.5-24.7"/>
<path class="c38" d="M548.8 771.7l1.1-25.2M548.8 771.7l2.0-28.6M548.8 771.7l2.8-29.8"/>
<path class="c38" d="M537.3 795.2l4.8-25.5M537.3 795.2l5.9-28.8M537.3 795.2l6.6-30.1"/>
<path class="c38" d="M542.7 799.6l2.7-20.5M542.7 799.6l3.3-23.2M542.7 799.6l3.8-24.3"/>
<path class="c38" d="M554.1 767.5l5.0-21.1M554.1 767.5l6.1-23.8M554.1 767.5l6.7-24.8"/>
<path class="c23" d="M526.5 779.3l4.2-27.4M526.5 779.3l5.3-31.0M526.5 779.3l6.1-32.3" opacity="0.70"/>
<path class="c23" d="M574.1 795.0l2.6-24.3M574.1 795.0l3.4-27.5M574.1 795.0l4.0-28.7" opacity="0.70"/>
<path class="c38" d="M537.9 781.5l3.1-19.5M537.9 781.5l4.0-22.0M537.9 781.5l4.8-22.9" opacity="0.70"/>
<path class="c38" d="M518.1 777.9l1.1-20.9M518.1 777.9l1.7-23.7M518.1 777.9l2.2-24.8"/>
<path class="c38" d="M548.5 803.8l4.7-27.7M548.5 803.8l6.0-31.2M548.5 803.8l7.0-32.5"/>
<path class="c38" d="M525.7 791.8l2.6-26.4M525.7 791.8l3.5-29.9M525.7 791.8l4.2-31.2"/>
<path class="c38" d="M559.2 797.1l-0.1-25.0M559.2 797.1l0.2-28.4M559.2 797.1l0.6-29.7"/>
<path class="c38" d="M509.4 799.5l1.6-21.6M509.4 799.5l2.5-24.5M509.4 799.5l3.3-25.5"/>
<path class="c23" d="M538.0 801.7l0.7-29.0M538.0 801.7l1.5-32.9M538.0 801.7l2.3-34.4"/>
<path class="c38" d="M541.1 791.7l4.7-26.0M541.1 791.7l5.7-29.5M541.1 791.7l6.3-30.8" opacity="0.70"/>
<path class="c38" d="M576.3 801.5l3.4-28.4M576.3 801.5l4.5-32.1M576.3 801.5l5.5-33.5"/>
<path class="c23" d="M540.3 761.3l1.3-19.3M540.3 761.3l1.8-21.9M540.3 761.3l2.1-22.8"/>
<path class="c38" d="M556.6 769.8l0.1-20.1M556.6 769.8l0.5-22.8M556.6 769.8l0.9-23.8" opacity="0.70"/>
<path class="c38" d="M529.1 806.2l-1.4-23.2M529.1 806.2l-1.0-26.4M529.1 806.2l-0.5-27.6"/>
<path class="c38" d="M538.2 801.0l3.9-21.9M538.2 801.0l5.1-24.7M538.2 801.0l6.0-25.7" opacity="0.70"/>
<path class="c23" d="M561.3 805.0l-0.5-28.2M561.3 805.0l0.3-32.0M561.3 805.0l1.3-33.4"/>
<path class="c38" d="M512.3 787.8l2.6-21.1M512.3 787.8l3.3-23.9M512.3 787.8l3.9-24.9" opacity="0.70"/>
<path class="c38" d="M520.9 794.6l6.0-29.1M520.9 794.6l7.4-32.9M520.9 794.6l8.4-34.2"/>
<path class="c38" d="M523.9 799.4l3.6-30.1M523.9 799.4l4.8-34.1M523.9 799.4l5.7-35.6" opacity="0.70"/>
<path class="c38" d="M535.2 800.0l5.1-23.0M535.2 800.0l6.5-26.0M535.2 800.0l7.5-27.0"/>
<path class="c38" d="M537.1 801.8l0.5-21.2M537.1 801.8l1.1-24.0M537.1 801.8l1.7-25.1" opacity="0.70"/>
<path class="c38" d="M537.5 816.9l0.0-16.6M537.5 816.9l0.6-18.8M537.5 816.9l1.2-19.7"/>
<path class="c38" d="M534.0 782.7l0.2-28.9M534.0 782.7l0.7-32.8M534.0 782.7l1.2-34.3"/>
<path class="c38" d="M517.9 786.6l0.0-24.9M517.9 786.6l0.5-28.2M517.9 786.6l1.0-29.5" opacity="0.70"/>
<path class="c38" d="M580.3 781.2l4.2-24.2M580.3 781.2l5.5-27.3M580.3 781.2l6.6-28.3"/>
<path class="c38" d="M539.4 803.4l-0.8-29.0M539.4 803.4l0.1-32.9M539.4 803.4l1.1-34.4"/>
<path class="c38" d="M516.0 809.0l1.3-18.3M516.0 809.0l2.0-20.7M516.0 809.0l2.6-21.6"/>
<path class="c38" d="M555.2 791.1l7.6-19.1M555.2 791.1l8.9-21.5M555.2 791.1l9.6-22.4"/>
<path class="c38" d="M588.3 798.3l4.2-19.5M588.3 798.3l5.5-22.0M588.3 798.3l6.4-22.8"/>
<path class="c25" d="M557.3 807.3l7.4-15.3M557.3 807.3l8.6-17.3M557.3 807.3l9.3-17.9"/>
<path class="c23" d="M578.7 785.2l5.9-16.8M578.7 785.2l7.1-18.9M578.7 785.2l7.8-19.6"/>
<path class="c25" d="M595.7 810.3l8.8-19.1M595.7 810.3l10.4-21.5M595.7 810.3l11.3-22.3"/>
<path class="c38" d="M589.4 788.3l5.5-16.8M589.4 788.3l6.6-18.9M589.4 788.3l7.3-19.6" opacity="0.70"/>
<path class="c25" d="M563.4 823.1l8.6-20.6M563.4 823.1l10.3-23.1M563.4 823.1l11.4-23.9"/>
<path class="c25" d="M562.5 812.7l6.7-14.3M562.5 812.7l8.1-16.0M562.5 812.7l8.9-16.5" opacity="0.70"/>
<path class="c38" d="M582.6 806.9l8.8-24.1M582.6 806.9l10.8-27.0M582.6 806.9l12.1-27.9"/>
<path class="c25" d="M564.6 807.4l8.3-21.4M564.6 807.4l10.0-24.1M564.6 807.4l11.0-25.0"/>
<path class="c38" d="M581.8 786.7l6.0-21.5M581.8 786.7l7.4-24.2M581.8 786.7l8.4-25.1"/>
<path class="c38" d="M600.5 796.7l5.9-23.6M600.5 796.7l7.3-26.7M600.5 796.7l8.3-27.7"/>
<path class="c24" d="M568.4 816.0l8.3-19.8M568.4 816.0l9.9-22.3M568.4 816.0l10.9-23.1"/>
<path class="c38" d="M576.1 815.8l4.5-15.6M576.1 815.8l5.6-17.6M576.1 815.8l6.3-18.2"/>
<path class="c23" d="M568.1 798.6l6.7-19.3M568.1 798.6l8.1-21.7M568.1 798.6l9.0-22.5"/>
<path class="c38" d="M582.4 817.7l5.2-21.1M582.4 817.7l6.5-23.8M582.4 817.7l7.4-24.7" opacity="0.70"/>
<path class="c38" d="M572.4 794.1l4.8-17.2M572.4 794.1l5.9-19.3M572.4 794.1l6.7-20.1" opacity="0.70"/>
<path class="c24" d="M558.1 788.0l9.2-18.4M558.1 788.0l11.0-20.6M558.1 788.0l12.0-21.3"/>
<path class="c25" d="M566.8 806.0l6.0-12.7M566.8 806.0l7.1-14.3M566.8 806.0l7.6-14.9"/>
<path class="c25" d="M585.0 823.5l6.7-12.4M585.0 823.5l8.0-13.8M585.0 823.5l8.7-14.2"/>
<path class="c38" d="M581.8 800.4l7.1-23.9M581.8 800.4l8.7-26.9M581.8 800.4l9.8-27.9"/>
<path class="c25" d="M556.5 804.8l12.0-22.5M556.5 804.8l14.0-25.4M556.5 804.8l15.0-26.4"/>
<path class="c38" d="M583.3 799.3l7.6-21.6M583.3 799.3l8.9-24.4M583.3 799.3l9.6-25.4" opacity="0.70"/>
<path class="c38" d="M584.6 785.5l4.7-14.3M584.6 785.5l5.7-16.0M584.6 785.5l6.5-16.6"/>
<path class="c38" d="M581.8 821.5l5.7-22.0M581.8 821.5l7.0-24.8M581.8 821.5l7.9-25.8" opacity="0.70"/>
<path class="c38" d="M570.0 825.3l6.3-17.8M570.0 825.3l7.6-20.0M570.0 825.3l8.4-20.7"/>
<path class="c25" d="M553.6 811.2l10.9-21.6M553.6 811.2l12.9-24.2M553.6 811.2l14.1-25.0" opacity="0.70"/>
<path class="c24" d="M591.8 808.1l9.4-19.0M591.8 808.1l11.0-21.4M591.8 808.1l11.9-22.2"/>
<path class="c23" d="M571.9 798.9l4.6-18.6M571.9 798.9l5.6-21.0M571.9 798.9l6.2-21.8" opacity="0.70"/>
<path class="c25" d="M552.6 802.5l11.4-22.9M552.6 802.5l13.6-25.5M552.6 802.5l15.0-26.3"/>
<path class="c23" d="M574.4 810.2l6.5-19.9M574.4 810.2l7.9-22.4M574.4 810.2l8.8-23.2"/>
<path class="c38" d="M549.7 807.5l5.2-16.9M549.7 807.5l6.3-19.0M549.7 807.5l6.9-19.8" opacity="0.70"/>
<path class="c24" d="M563.2 806.9l8.5-19.3M563.2 806.9l10.2-21.6M563.2 806.9l11.3-22.2"/>
<path class="c24" d="M595.9 810.3l7.4-19.4M595.9 810.3l9.1-21.7M595.9 810.3l10.2-22.4"/>
<path class="c25" d="M563.8 797.2l10.9-20.2M563.8 797.2l13.0-22.6M563.8 797.2l14.2-23.2"/>
<path class="c23" d="M496.0 819.5l-0.7-14.2M496.0 819.5l-0.4-16.2M496.0 819.5l-0.0-16.9"/>
<path class="c23" d="M492.4 839.4l4.3-12.7M492.4 839.4l5.1-14.3M492.4 839.4l5.6-14.9"/>
<path class="c38" d="M539.5 847.6l2.2-17.9M539.5 847.6l3.0-20.2M539.5 847.6l3.6-21.1"/>
<path class="c38" d="M506.6 840.5l0.0-13.0M506.6 840.5l0.3-14.7M506.6 840.5l0.6-15.4"/>
<path class="c24" d="M547.9 826.2l7.2-15.7M547.9 826.2l8.7-17.5M547.9 826.2l9.6-18.1"/>
<path class="c38" d="M537.2 836.9l2.7-10.9M537.2 836.9l3.4-12.3M537.2 836.9l3.9-12.7"/>
<path class="c23" d="M521.3 843.3l-0.3-12.2M521.3 843.3l-0.0-13.9M521.3 843.3l0.3-14.5"/>
<path class="c23" d="M493.5 848.5l6.1-16.9M493.5 848.5l7.2-19.1M493.5 848.5l7.9-19.8"/>
<path class="c38" d="M517.7 818.5l0.8-15.5M517.7 818.5l1.1-17.6M517.7 818.5l1.4-18.4"/>
<path class="c24" d="M531.7 837.3l9.4-17.8M531.7 837.3l11.2-19.9M531.7 837.3l12.3-20.5" opacity="0.70"/>
<path class="c23" d="M513.0 837.0l2.7-12.1M513.0 837.0l3.2-13.6M513.0 837.0l3.6-14.2"/>
<path class="c38" d="M523.0 838.4l2.5-12.0M523.0 838.4l3.1-13.6M523.0 838.4l3.6-14.1"/>
<path class="c38" d="M489.9 830.8l0.8-11.4M489.9 830.8l1.1-12.9M489.9 830.8l1.3-13.5"/>
<path class="c38" d="M528.0 848.3l1.5-18.9M528.0 848.3l2.1-21.4M528.0 848.3l2.6-22.3"/>
<path class="c24" d="M542.2 843.0l7.6-14.7M542.2 843.0l9.1-16.5M542.2 843.0l9.9-17.0"/>
<path class="c23" d="M507.3 854.3l4.9-16.1M507.3 854.3l5.9-18.2M507.3 854.3l6.5-18.9"/>
<path class="c24" d="M515.0 816.5l6.1-10.3M515.0 816.5l7.1-11.5M515.0 816.5l7.6-12.0"/>
<path class="c24" d="M472.6 831.9l8.3-14.8M472.6 831.9l9.9-16.5M472.6 831.9l10.7-17.1"/>
<path class="c25" d="M542.6 835.8l7.1-17.3M542.6 835.8l8.5-19.5M542.6 835.8l9.3-20.2"/>
<path class="c24" d="M529.8 850.5l6.2-12.7M529.8 850.5l7.4-14.2M529.8 850.5l8.1-14.7"/>
<path class="c38" d="M497.4 846.5l0.4-18.9M497.4 846.5l0.9-21.4M497.4 846.5l1.4-22.4" opacity="0.70"/>
<path class="c23" d="M528.6 817.9l2.0-18.0M528.6 817.9l2.6-20.4M528.6 817.9l3.1-21.3" opacity="0.70"/>
<path class="c38" d="M520.5 829.5l1.5-15.7M520.5 829.5l2.1-17.7M520.5 829.5l2.7-18.5"/>
<path class="c23" d="M526.9 842.9l3.8-12.6M526.9 842.9l4.7-14.2M526.9 842.9l5.2-14.7"/>
<path class="c38" d="M517.0 831.3l3.9-11.1M517.0 831.3l4.7-12.5M517.0 831.3l5.1-13.0"/>
<path class="c24" d="M550.3 844.1l7.5-16.2M550.3 844.1l8.9-18.2M550.3 844.1l9.8-18.8" opacity="0.70"/>
<path class="c38" d="M466.5 831.1l0.1-13.9M466.5 831.1l0.5-15.8M466.5 831.1l0.9-16.5"/>
<path class="c38" d="M532.5 849.8l0.9-14.0M532.5 849.8l1.3-15.9M532.5 849.8l1.8-16.6"/>
<path class="c38" d="M480.3 847.0l0.3-18.8M480.3 847.0l0.6-21.3M480.3 847.0l0.9-22.2"/>
<path class="c23" d="M494.3 846.0l4.4-11.2M494.3 846.0l5.1-12.7M494.3 846.0l5.5-13.2" opacity="0.70"/>
<path class="c38" d="M482.3 830.4l0.0-17.7M482.3 830.4l0.6-20.1M482.3 830.4l1.1-21.0" opacity="0.70"/>
<path class="c24" d="M486.6 847.0l4.8-10.5M486.6 847.0l5.7-11.8M486.6 847.0l6.2-12.2"/>
<path class="c23" d="M481.1 829.4l-0.1-17.9M481.1 829.4l0.3-20.3M481.1 829.4l0.8-21.2"/>
<path class="c23" d="M547.4 839.0l4.4-17.4M547.4 839.0l5.4-19.6M547.4 839.0l6.2-20.3"/>
<path class="c23" d="M521.5 824.7l1.6-14.4M521.5 824.7l2.2-16.3M521.5 824.7l2.6-17.0" opacity="0.70"/>
<path class="c23" d="M549.5 830.3l2.1-13.2M549.5 830.3l2.8-14.9M549.5 830.3l3.3-15.5"/>
<path class="c38" d="M506.8 850.1l5.0-14.2M506.8 850.1l6.0-16.0M506.8 850.1l6.5-16.6"/>
<path class="c38" d="M519.2 849.6l3.8-16.7M519.2 849.6l4.7-18.9M519.2 849.6l5.4-19.6"/>
<path class="c38" d="M525.1 827.9l3.5-12.2M525.1 827.9l4.3-13.8M525.1 827.9l4.8-14.3"/>
<path class="c23" d="M546.3 843.4l-0.7-19.6M546.3 843.4l-0.5-22.2M546.3 843.4l-0.1-23.2"/>
<path class="c23" d="M521.5 846.8l4.3-19.2M521.5 846.8l5.2-21.7M521.5 846.8l5.8-22.7"/>
<path class="c38" d="M506.6 837.7l4.3-11.8M506.6 837.7l5.1-13.3M506.6 837.7l5.6-13.8"/>
<path class="c38" d="M544.2 836.1l4.1-11.3M544.2 836.1l5.0-12.7M544.2 836.1l5.6-13.1"/>
<path class="c23" d="M492.3 819.0l5.0-13.5M492.3 819.0l6.1-15.2M492.3 819.0l6.8-15.7"/>
<path class="c23" d="M480.2 843.7l2.5-17.9M480.2 843.7l3.1-20.2M480.2 843.7l3.5-21.1"/>
<path class="c25" d="M477.9 831.8l7.5-17.1M477.9 831.8l8.9-19.3M477.9 831.8l9.7-19.9"/>
<path class="c23" d="M489.8 824.0l2.0-12.7M489.8 824.0l2.7-14.3M489.8 824.0l3.2-14.9"/>
<path class="c38" d="M509.2 823.6l2.3-16.4M509.2 823.6l3.0-18.6M509.2 823.6l3.7-19.3"/>
<path class="c24" d="M509.5 850.6l5.5-10.2M509.5 850.6l6.5-11.4M509.5 850.6l7.2-11.7"/>
<path class="c24" d="M474.0 846.2l6.6-16.4M474.0 846.2l8.0-18.4M474.0 846.2l8.9-19.0"/>
<path class="c38" d="M467.7 840.3l2.7-13.5M467.7 840.3l3.5-15.2M467.7 840.3l4.1-15.8"/>
<path class="c38" d="M515.7 849.4l1.1-17.5M515.7 849.4l1.5-19.8M515.7 849.4l1.9-20.7" opacity="0.70"/>
<path class="c38" d="M539.3 835.9l2.8-13.9M539.3 835.9l3.6-15.7M539.3 835.9l4.1-16.3"/>
<path class="c25" d="M472.8 842.2l6.6-15.5M472.8 842.2l7.8-17.4M472.8 842.2l8.5-18.1"/>
<path class="c25" d="M552.8 837.7l6.6-16.3M552.8 837.7l7.9-18.3M552.8 837.7l8.7-18.9" opacity="0.70"/>
<path class="c23" d="M466.9 830.9l2.4-9.3M466.9 830.9l2.9-10.4M466.9 830.9l3.3-10.9"/>
<path class="c24" d="M479.6 846.1l4.1-10.2M479.6 846.1l4.8-11.4M479.6 846.1l5.2-11.9"/>
<path class="c38" d="M486.1 828.1l3.2-14.1M486.1 828.1l4.1-15.9M486.1 828.1l4.7-16.5"/>
<path class="c23" d="M477.8 841.2l4.8-14.6M477.8 841.2l5.9-16.4M477.8 841.2l6.6-16.9" opacity="0.70"/>
<path class="c23" d="M490.0 855.5l-0.2-11.1M490.0 855.5l0.1-12.6M490.0 855.5l0.5-13.2" opacity="0.70"/>
<path class="c24" d="M495.5 828.7l4.1-10.5M495.5 828.7l5.0-11.8M495.5 828.7l5.6-12.2"/>
<path class="c38" d="M477.0 850.6l0.9-12.0M477.0 850.6l1.3-13.6M477.0 850.6l1.6-14.2"/>
<path class="c23" d="M463.3 846.0l3.6-13.8M463.3 846.0l4.4-15.6M463.3 846.0l4.9-16.3"/>
<path class="c23" d="M497.8 837.2l-1.5-12.7M497.8 837.2l-1.4-14.4M497.8 837.2l-1.2-15.1"/>
<path class="c23" d="M459.3 832.2l2.7-13.0M459.3 832.2l3.5-14.6M459.3 832.2l4.1-15.2"/>
<path class="c38" d="M465.2 845.9l-0.3-9.3M465.2 845.9l-0.1-10.6M465.2 845.9l0.1-11.0"/>
<path class="c38" d="M472.6 818.3l-1.7-13.9M472.6 818.3l-1.6-15.8M472.6 818.3l-1.3-16.5"/>
<path class="c24" d="M489.2 823.9l3.8-9.4M489.2 823.9l4.5-10.6M489.2 823.9l4.9-11.0"/>
<path class="c38" d="M485.2 819.0l-1.6-11.6M485.2 819.0l-1.4-13.2M485.2 819.0l-1.1-13.9"/>
<path class="c23" d="M468.0 835.0l3.7-11.5M468.0 835.0l4.4-13.0M468.0 835.0l4.9-13.5" opacity="0.70"/>
<path class="c38" d="M489.7 823.4l2.0-9.1M489.7 823.4l2.4-10.2M489.7 823.4l2.6-10.7"/>
<path class="c23" d="M487.5 832.6l4.2-11.6M487.5 832.6l5.1-13.0M487.5 832.6l5.8-13.5" opacity="0.70"/>
<path class="c38" d="M476.4 844.1l-0.5-11.4M476.4 844.1l-0.3-12.9M476.4 844.1l-0.0-13.5"/>
<path class="c38" d="M478.4 839.3l2.9-11.5M478.4 839.3l3.5-13.0M478.4 839.3l3.9-13.5"/>
<path class="c38" d="M473.8 822.9l1.4-13.0M473.8 822.9l2.0-14.7M473.8 822.9l2.5-15.3"/>
<path class="c23" d="M490.1 836.0l2.9-14.8M490.1 836.0l3.6-16.7M490.1 836.0l4.1-17.4"/>
<path class="c23" d="M475.8 826.5l-0.1-9.6M475.8 826.5l0.2-10.9M475.8 826.5l0.6-11.4"/>
<path class="c23" d="M489.3 832.7l3.3-11.5M489.3 832.7l4.0-13.0M489.3 832.7l4.5-13.5" opacity="0.70"/>
<path class="c38" d="M469.0 826.1l1.5-10.8M469.0 826.1l2.0-12.3M469.0 826.1l2.4-12.8"/>
<path class="c23" d="M486.9 820.1l2.0-12.0M486.9 820.1l2.5-13.5M486.9 820.1l2.8-14.1"/>
<path class="c38" d="M480.4 818.2l-0.2-15.9M480.4 818.2l0.1-18.0M480.4 818.2l0.5-18.8"/>
<path class="c38" d="M490.8 773.2l-0.8-21.4M490.8 773.2l-0.2-24.3M490.8 773.2l0.6-25.4"/>
<path class="c38" d="M476.5 814.6l3.8-20.3M476.5 814.6l4.7-23.0M476.5 814.6l5.4-23.9"/>
<path class="c38" d="M491.1 823.6l-0.1-22.6M491.1 823.6l0.4-25.6M491.1 823.6l1.0-26.8"/>
<path class="c38" d="M510.7 783.3l0.1-17.4M510.7 783.3l0.5-19.7M510.7 783.3l0.9-20.6"/>
<path class="c38" d="M476.3 796.9l2.0-23.3M476.3 796.9l2.8-26.4M476.3 796.9l3.5-27.5"/>
<path class="c23" d="M493.6 777.2l3.9-22.5M493.6 777.2l4.8-25.5M493.6 777.2l5.4-26.6"/>
<path class="c23" d="M475.1 798.8l0.5-13.6M475.1 798.8l1.0-15.4M475.1 798.8l1.5-16.1" opacity="0.70"/>
<path class="c38" d="M473.3 812.1l1.9-19.5M473.3 812.1l2.8-22.1M473.3 812.1l3.6-23.0"/>
<path class="c38" d="M473.5 790.6l-0.1-15.9M473.5 790.6l0.3-18.0M473.5 790.6l0.8-18.8"/>
<path class="c38" d="M501.7 773.8l4.8-22.9M501.7 773.8l6.1-25.8M501.7 773.8l7.0-26.8"/>
<path class="c38" d="M493.0 819.8l4.2-19.3M493.0 819.8l5.1-21.8M493.0 819.8l5.8-22.7" opacity="0.70"/>
<path class="c38" d="M493.5 825.2l3.3-15.9M493.5 825.2l4.0-17.9M493.5 825.2l4.4-18.7" opacity="0.70"/>
<path class="c38" d="M473.5 810.0l-0.2-16.6M473.5 810.0l0.1-18.8M473.5 810.0l0.5-19.7" opacity="0.70"/>
<path class="c38" d="M486.8 778.3l1.1-21.3M486.8 778.3l1.8-24.1M486.8 778.3l2.4-25.2"/>
<path class="c38" d="M471.4 802.6l3.3-20.4M471.4 802.6l4.4-23.0M471.4 802.6l5.3-23.9"/>
<path class="c38" d="M491.5 812.7l3.7-14.4M491.5 812.7l4.7-16.1M491.5 812.7l5.4-16.7"/>
<path class="c38" d="M487.3 775.0l-0.2-16.6M487.3 775.0l0.1-18.8M487.3 775.0l0.6-19.6"/>
<path class="c38" d="M496.9 798.8l2.1-16.6M496.9 798.8l2.8-18.8M496.9 798.8l3.3-19.5"/>
<path class="c23" d="M513.2 787.3l4.0-16.8M513.2 787.3l5.1-18.9M513.2 787.3l5.9-19.6"/>
<path class="c38" d="M496.1 785.9l1.8-18.4M496.1 785.9l2.6-20.9M496.1 785.9l3.3-21.7" opacity="0.70"/>
<path class="c38" d="M501.8 771.1l0.2-21.5M501.8 771.1l1.0-24.4M501.8 771.1l1.8-25.5"/>
<path class="c23" d="M499.4 812.0l0.6-16.6M499.4 812.0l1.0-18.8M499.4 812.0l1.4-19.7"/>
<path class="c23" d="M485.1 816.4l3.7-13.3M485.1 816.4l4.4-15.1M485.1 816.4l4.8-15.7"/>
<path class="c23" d="M490.1 805.9l-1.2-17.7M490.1 805.9l-1.0-20.1M490.1 805.9l-0.7-21.1"/>
<path class="c23" d="M479.0 847.2l2.7-9.4M479.0 847.2l3.2-10.6M479.0 847.2l3.5-11.0"/>
<path class="c38" d="M480.0 852.9l1.0-9.5M480.0 852.9l1.4-10.8M480.0 852.9l1.8-11.2"/>
<path class="c23" d="M480.4 854.1l2.9-10.6M480.4 854.1l3.4-12.0M480.4 854.1l3.7-12.5"/>
<path class="c28" d="M484.0 844.2l0.5-6.7M484.0 844.2l0.7-7.6M484.0 844.2l0.9-7.9"/>
<path class="c24" d="M493.6 850.1l5.4-6.2M493.6 850.1l6.3-6.9M493.6 850.1l6.8-7.0"/>
<path class="c25" d="M465.2 860.2l9.2-6.7M465.2 860.2l10.6-7.3M465.2 860.2l11.3-7.3"/>
<path class="c24" d="M465.6 852.6l8.5-6.2M465.6 852.6l9.8-6.8M465.6 852.6l10.4-6.8"/>
<path class="c24" d="M479.3 848.7l5.5-8.0M479.3 848.7l6.4-9.0M479.3 848.7l6.9-9.2" opacity="0.70"/>
<path class="c23" d="M497.4 848.1l-0.8-7.1M497.4 848.1l-0.8-8.1M497.4 848.1l-0.7-8.5"/>
<path class="c38" d="M456.9 854.0l1.7-9.9M456.9 854.0l2.3-11.2M456.9 854.0l2.7-11.6"/>
<path class="c24" d="M487.6 858.3l6.6-8.0M487.6 858.3l7.7-8.9M487.6 858.3l8.3-9.1"/>
<path class="c24" d="M455.6 846.1l3.7-6.8M455.6 846.1l4.4-7.6M455.6 846.1l4.8-7.8"/>
<path class="c38" d="M465.3 860.2l0.2-8.7M465.3 860.2l0.4-9.9M465.3 860.2l0.6-10.3"/>
<path class="c24" d="M481.4 850.2l6.1-6.5M481.4 850.2l7.1-7.1M481.4 850.2l7.7-7.3" opacity="0.70"/>
<path class="c38" d="M495.0 854.1l-0.6-6.8M495.0 854.1l-0.5-7.7M495.0 854.1l-0.4-8.1"/>
<path class="c24" d="M474.5 852.5l5.3-6.7M474.5 852.5l6.3-7.4M474.5 852.5l6.8-7.6" opacity="0.70"/>
<path class="c24" d="M462.3 839.3l6.5-4.6M462.3 839.3l7.4-5.0M462.3 839.3l7.9-5.1" opacity="0.70"/>
<path class="c23" d="M480.7 840.3l1.5-10.1M480.7 840.3l1.9-11.4M480.7 840.3l2.3-11.8"/>
<path class="c23" d="M478.0 856.9l1.9-6.8M478.0 856.9l2.3-7.6M478.0 856.9l2.5-8.0"/>
<path class="c25" d="M472.6 852.2l4.2-5.4M472.6 852.2l4.9-6.1M472.6 852.2l5.2-6.3"/>
<path d="M450.7 752.5h0M496.6 756.9h0M515.2 752.5h0M538.1 750.3h0M544.7 741.5h0M556.7 761.2h0M562.2 745.9h0M584.1 743.7h0M588.4 750.3h0M507.5 765.6h0M483.5 791.8h0M480.2 787.5h0M469.3 787.5h0M466.0 802.8h0M450.7 822.5h0M461.6 815.9h0M497.3 756.9h0M514.8 748.1h0M543.2 740.8h0M534.5 751.8h0M551.2 764.1h0M561.4 746.6h0M507.5 765.6h0M503.1 774.3h0M484.2 785.0h0M492.9 785.0h0M479.8 785.0h0M469.6 785.0h0M519.1 781.6h0M523.5 781.6h0M527.9 781.6h0M530.8 775.8h0M539.6 781.6h0M545.4 785.0h0M514.8 785.0h0M510.4 785.0h0M490.0 785.0h0M579.4 751.0h0M586.6 755.4h0M561.9 746.6h0M551.7 765.6h0M575.7 775.8h0M612.9 785.0h0M602.7 783.1h0M595.4 774.3h0M647.9 780.2h0M630.4 783.1h0M566.2 785.0h0M583.7 785.0h0M598.3 815.9h0M602.7 797.0h0M612.9 805.7h0M614.3 810.8h0M621.6 816.6h0M631.8 824.7h0M647.9 780.9h0M599.0 837.8h0M610.0 832.7h0M602.7 853.1h0M608.5 846.5h0M577.9 850.2h0M568.4 845.1h0M557.5 841.4h0M553.1 840.0h0M563.3 837.1h0M570.6 822.5h0M648.1 780.9h0M666.7 770.0h0M673.3 774.3h0M672.2 795.1h0M690.7 789.7h0M689.7 807.1h0M710.4 815.9h0M713.7 826.8h0M452.9 824.1h0M449.6 852.5h0M455.1 863.4h0M473.6 870.0h0M481.3 884.2h0M505.3 887.5h0M498.8 883.1h0M494.4 868.9h0M572.0 868.9h0M591.7 884.2h0M579.7 850.3h0M597.2 859.0h0M568.8 843.7h0M712.6 828.9h0M608.7 846.9h0M602.2 853.4h0M610.9 831.5h0M601.1 835.9h0M557.1 810.5h0M560.6 800.1h0M531.3 798.9h0M523.8 767.0h0M578.6 789.7h0M565.7 809.0h0M563.1 795.5h0M515.9 799.6h0M511.5 789.3h0M559.0 815.3h0M531.3 774.9h0M518.5 773.0h0M575.3 778.5h0M543.5 808.0h0M553.7 799.9h0M533.2 802.2h0M577.2 794.6h0M575.8 802.9h0M577.1 793.8h0M555.5 796.7h0M517.6 788.0h0M551.6 787.1h0M570.1 788.8h0M563.2 789.1h0M582.2 784.3h0M533.3 813.1h0M574.7 790.6h0M514.7 807.8h0M580.9 784.4h0M555.4 774.4h0M564.3 790.8h0M576.6 777.9h0M517.8 792.7h0M510.5 786.2h0M530.6 795.2h0M553.5 784.3h0M548.8 771.7h0M537.3 795.2h0M542.7 799.6h0M554.1 767.5h0M518.1 777.9h0M548.5 803.8h0M525.7 791.8h0M559.2 797.1h0M509.4 799.5h0M576.3 801.5h0M529.1 806.2h0M520.9 794.6h0M535.2 800.0h0M537.5 816.9h0M534.0 782.7h0M580.3 781.2h0M539.4 803.4h0M516.0 809.0h0M555.2 791.1h0M588.3 798.3h0M557.3 807.3h0M595.7 810.3h0M563.4 823.1h0M582.6 806.9h0M564.6 807.4h0M581.8 786.7h0M600.5 796.7h0M576.1 815.8h0M566.8 806.0h0M585.0 823.5h0M581.8 800.4h0M556.5 804.8h0M584.6 785.5h0M570.0 825.3h0M552.6 802.5h0M563.8 797.2h0M539.5 847.6h0M506.6 840.5h0M537.2 836.9h0M517.7 818.5h0M523.0 838.4h0M489.9 830.8h0M528.0 848.3h0M542.6 835.8h0M520.5 829.5h0M517.0 831.3h0M466.5 831.1h0M532.5 849.8h0M480.3 847.0h0M506.8 850.1h0M519.2 849.6h0M525.1 827.9h0M506.6 837.7h0M544.2 836.1h0M477.9 831.8h0M509.2 823.6h0M467.7 840.3h0M539.3 835.9h0M472.8 842.2h0M486.1 828.1h0M477.0 850.6h0M465.2 845.9h0M472.6 818.3h0M485.2 819.0h0M489.7 823.4h0M476.4 844.1h0M478.4 839.3h0M473.8 822.9h0M469.0 826.1h0M480.4 818.2h0M490.8 773.2h0M476.5 814.6h0M491.1 823.6h0M510.7 783.3h0M476.3 796.9h0M473.3 812.1h0M473.5 790.6h0M501.7 773.8h0M486.8 778.3h0M471.4 802.6h0M491.5 812.7h0M487.3 775.0h0M496.9 798.8h0M501.8 771.1h0M480.0 852.9h0M465.2 860.2h0M456.9 854.0h0M465.3 860.2h0M495.0 854.1h0M472.6 852.2h0" stroke="#d62728" stroke-width="2.50" stroke-linecap="round" fill="none"/>
<path d="M511.9 752.5h0M588.4 754.7h0M474.7 798.4h0M490.0 794.0h0M510.4 753.9h0M526.4 774.3h0M549.8 775.8h0M555.6 785.0h0M495.8 785.0h0M538.1 785.0h0M578.6 751.0h0M588.8 756.9h0M553.1 770.0h0M619.5 767.1h0M624.6 775.8h0M573.5 781.6h0M645.0 796.2h0M585.2 853.8h0M547.3 840.0h0M564.1 825.4h0M540.0 845.8h0M619.7 767.8h0M652.5 779.8h0M644.8 794.0h0M449.6 851.4h0M451.8 866.7h0M462.7 876.5h0M476.9 878.7h0M494.4 896.2h0M492.2 865.6h0M513.0 874.3h0M525.0 880.9h0M557.8 871.1h0M586.3 853.6h0M538.1 854.7h0M483.5 859.0h0M556.8 801.6h0M521.3 768.0h0M551.7 805.1h0M562.3 804.6h0M538.9 770.9h0M513.5 778.9h0M512.6 804.0h0M538.0 801.7h0M540.3 761.3h0M561.3 805.0h0M578.7 785.2h0M568.4 816.0h0M568.1 798.6h0M558.1 788.0h0M591.8 808.1h0M574.4 810.2h0M563.2 806.9h0M595.9 810.3h0M496.0 819.5h0M492.4 839.4h0M547.9 826.2h0M521.3 843.3h0M493.5 848.5h0M513.0 837.0h0M542.2 843.0h0M507.3 854.3h0M515.0 816.5h0M472.6 831.9h0M529.8 850.5h0M526.9 842.9h0M486.6 847.0h0M481.1 829.4h0M547.4 839.0h0M549.5 830.3h0M546.3 843.4h0M521.5 846.8h0M492.3 819.0h0M480.2 843.7h0M489.8 824.0h0M509.5 850.6h0M474.0 846.2h0M466.9 830.9h0M479.6 846.1h0M495.5 828.7h0M463.3 846.0h0M497.8 837.2h0M459.3 832.2h0M489.2 823.9h0M490.1 836.0h0M475.8 826.5h0M486.9 820.1h0M493.6 777.2h0M513.2 787.3h0M499.4 812.0h0M485.1 816.4h0M490.1 805.9h0M479.0 847.2h0M480.4 854.1h0M484.0 844.2h0M493.6 850.1h0M465.6 852.6h0M497.4 848.1h0M487.6 858.3h0M455.6 846.1h0M480.7 840.3h0M478.0 856.9h0" stroke="#1f77b4" stroke-width="2.50" stroke-linecap="round" fill="none"/>
<path d="M569.5 782.2h0M563.3 772.2h0M536.2 814.5h0M513.3 802.4h0M576.7 802.1h0M509.4 792.0h0M520.9 805.1h0M545.5 776.2h0M566.0 786.6h0M558.8 764.6h0M565.9 799.1h0M544.4 810.6h0M567.9 768.0h0M567.1 769.2h0M559.6 774.6h0M537.9 781.5h0M541.1 791.7h0M556.6 769.8h0M538.2 801.0h0M512.3 787.8h0M523.9 799.4h0M537.1 801.8h0M517.9 786.6h0M589.4 788.3h0M562.5 812.7h0M582.4 817.7h0M572.4 794.1h0M583.3 799.3h0M581.8 821.5h0M553.6 811.2h0M549.7 807.5h0M497.4 846.5h0M482.3 830.4h0M515.7 849.4h0M552.8 837.7h0M493.0 819.8h0M493.5 825.2h0M473.5 810.0h0M496.1 785.9h0" stroke="#d62728" stroke-width="2.50" stroke-linecap="round" fill="none" stroke-opacity="0.70"/>
<path d="M576.2 802.7h0M526.5 779.3h0M574.1 795.0h0M571.9 798.9h0M531.7 837.3h0M528.6 817.9h0M550.3 844.1h0M494.3 846.0h0M521.5 824.7h0M477.8 841.2h0M490.0 855.5h0M468.0 835.0h0M487.5 832.6h0M489.3 832.7h0M475.1 798.8h0M479.3 848.7h0M481.4 850.2h0M474.5 852.5h0M462.3 839.3h0" stroke="#1f77b4" stroke-width="2.50" stroke-linecap="round" fill="none" stroke-opacity="0.70"/>
</svg>
<rect x="431.50" y="661.00" width="338.90" height="252.40" fill="none" stroke="#000" stroke-width="1.0"/>
<line x1="428.00" y1="676.50" x2="431.50" y2="676.50" stroke="#000" stroke-width="1"/>
<text x="424.50" y="680.10" font-size="10.1" text-anchor="end" textLength="5.60" lengthAdjust="spacingAndGlyphs">5</text>
<line x1="428.00" y1="708.04" x2="431.50" y2="708.04" stroke="#000" stroke-width="1"/>
<text x="424.50" y="711.64" font-size="10.1" text-anchor="end" textLength="5.60" lengthAdjust="spacingAndGlyphs">4</text>
<line x1="428.00" y1="739.59" x2="431.50" y2="739.59" stroke="#000" stroke-width="1"/>
<text x="424.50" y="743.19" font-size="10.1" text-anchor="end" textLength="5.60" lengthAdjust="spacingAndGlyphs">3</text>
<line x1="428.00" y1="771.13" x2="431.50" y2="771.13" stroke="#000" stroke-width="1"/>
<text x="424.50" y="774.73" font-size="10.1" text-anchor="end" textLength="5.60" lengthAdjust="spacingAndGlyphs">2</text>
<line x1="428.00" y1="802.67" x2="431.50" y2="802.67" stroke="#000" stroke-width="1"/>
<text x="424.50" y="806.27" font-size="10.1" text-anchor="end" textLength="5.60" lengthAdjust="spacingAndGlyphs">1</text>
<line x1="428.00" y1="834.21" x2="431.50" y2="834.21" stroke="#000" stroke-width="1"/>
<text x="424.50" y="837.81" font-size="10.1" text-anchor="end" textLength="5.60" lengthAdjust="spacingAndGlyphs">0</text>
<line x1="428.00" y1="865.76" x2="431.50" y2="865.76" stroke="#000" stroke-width="1"/>
<text x="424.50" y="869.36" font-size="10.1" text-anchor="end" textLength="12.60" lengthAdjust="spacingAndGlyphs">−1</text>
<line x1="428.00" y1="897.30" x2="431.50" y2="897.30" stroke="#000" stroke-width="1"/>
<text x="424.50" y="900.90" font-size="10.1" text-anchor="end" textLength="12.60" lengthAdjust="spacingAndGlyphs">−2</text>
<line x1="490.40" y1="913.40" x2="490.40" y2="916.90" stroke="#000" stroke-width="1"/>
<text x="490.40" y="927.40" font-size="10.1" text-anchor="middle" textLength="17.25" lengthAdjust="spacingAndGlyphs">200</text>
<line x1="560.40" y1="913.40" x2="560.40" y2="916.90" stroke="#000" stroke-width="1"/>
<text x="560.40" y="927.40" font-size="10.1" text-anchor="middle" textLength="17.25" lengthAdjust="spacingAndGlyphs">400</text>
<line x1="630.40" y1="913.40" x2="630.40" y2="916.90" stroke="#000" stroke-width="1"/>
<text x="630.40" y="927.40" font-size="10.1" text-anchor="middle" textLength="17.25" lengthAdjust="spacingAndGlyphs">600</text>
<line x1="700.40" y1="913.40" x2="700.40" y2="916.90" stroke="#000" stroke-width="1"/>
<text x="700.40" y="927.40" font-size="10.1" text-anchor="middle" textLength="17.25" lengthAdjust="spacingAndGlyphs">800</text>
<line x1="770.40" y1="913.40" x2="770.40" y2="916.90" stroke="#000" stroke-width="1"/>
<text x="770.40" y="927.40" font-size="10.1" text-anchor="middle" textLength="23.20" lengthAdjust="spacingAndGlyphs">1000</text>
<text x="600.95" y="943.00" font-size="13.8" text-anchor="middle" textLength="23.80" lengthAdjust="spacingAndGlyphs">Tau</text>
<text x="404.10" y="787.20" font-size="13.0" text-anchor="middle" textLength="73.00" lengthAdjust="spacingAndGlyphs" transform="rotate(-90 404.10 787.20)">ADAS-Mem</text>
<rect x="649.40" y="667.70" width="114.50" height="43.20" rx="2" ry="2" fill="#fff" fill-opacity="0.8" stroke="#cccccc" stroke-width="1"/>
<circle cx="668.60" cy="679.10" r="3.4" fill="#1f77b4"/>
<circle cx="668.60" cy="698.60" r="3.4" fill="#d62728"/>
<text x="693.20" y="683.30" font-size="12.8" text-anchor="start" textLength="64.50" lengthAdjust="spacingAndGlyphs">no APOE4</text>
<text x="693.20" y="703.00" font-size="12.8" text-anchor="start" textLength="44.00" lengthAdjust="spacingAndGlyphs">APOE4</text>
<text x="155.60" y="335.00" font-size="15.5" text-anchor="start" textLength="28.60" lengthAdjust="spacingAndGlyphs" font-style="italic">CSF</text>
<text x="184.40" y="337.30" font-size="11.0" text-anchor="start" textLength="14.80" lengthAdjust="spacingAndGlyphs" font-style="italic">Aβ</text>
<text x="203.60" y="335.00" font-size="15.5" text-anchor="start" textLength="9.60" lengthAdjust="spacingAndGlyphs">&gt;</text>
<text x="219.00" y="335.00" font-size="15.5" text-anchor="start" textLength="36.40" lengthAdjust="spacingAndGlyphs">1400</text>
<text x="526.80" y="335.00" font-size="15.5" text-anchor="start" textLength="27.20" lengthAdjust="spacingAndGlyphs">860</text>
<text x="559.00" y="335.00" font-size="15.5" text-anchor="start" textLength="10.60" lengthAdjust="spacingAndGlyphs">&lt;</text>
<text x="573.00" y="335.00" font-size="15.5" text-anchor="start" textLength="28.60" lengthAdjust="spacingAndGlyphs" font-style="italic">CSF</text>
<text x="601.80" y="337.30" font-size="11.0" text-anchor="start" textLength="14.20" lengthAdjust="spacingAndGlyphs" font-style="italic">Aβ</text>
<text x="620.20" y="335.00" font-size="15.5" text-anchor="start" textLength="10.60" lengthAdjust="spacingAndGlyphs">&lt;</text>
<text x="636.00" y="335.00" font-size="15.5" text-anchor="start" textLength="38.40" lengthAdjust="spacingAndGlyphs">1400</text>
<text x="137.60" y="655.00" font-size="15.5" text-anchor="start" textLength="27.20" lengthAdjust="spacingAndGlyphs">670</text>
<text x="169.80" y="655.00" font-size="15.5" text-anchor="start" textLength="10.60" lengthAdjust="spacingAndGlyphs">&lt;</text>
<text x="183.80" y="655.00" font-size="15.5" text-anchor="start" textLength="28.60" lengthAdjust="spacingAndGlyphs" font-style="italic">CSF</text>
<text x="212.60" y="657.30" font-size="11.0" text-anchor="start" textLength="14.20" lengthAdjust="spacingAndGlyphs" font-style="italic">Aβ</text>
<text x="231.00" y="655.00" font-size="15.5" text-anchor="start" textLength="10.60" lengthAdjust="spacingAndGlyphs">&lt;</text>
<text x="246.80" y="655.00" font-size="15.5" text-anchor="start" textLength="28.20" lengthAdjust="spacingAndGlyphs">860</text>
<text x="555.10" y="655.00" font-size="15.5" text-anchor="start" textLength="28.60" lengthAdjust="spacingAndGlyphs" font-style="italic">CSF</text>
<text x="583.90" y="657.30" font-size="11.0" text-anchor="start" textLength="14.80" lengthAdjust="spacingAndGlyphs" font-style="italic">Aβ</text>
<text x="603.20" y="655.00" font-size="15.5" text-anchor="start" textLength="10.60" lengthAdjust="spacingAndGlyphs">&lt;</text>
<text x="618.00" y="655.00" font-size="15.5" text-anchor="start" textLength="27.80" lengthAdjust="spacingAndGlyphs">670</text>
</svg>
</body></html>
